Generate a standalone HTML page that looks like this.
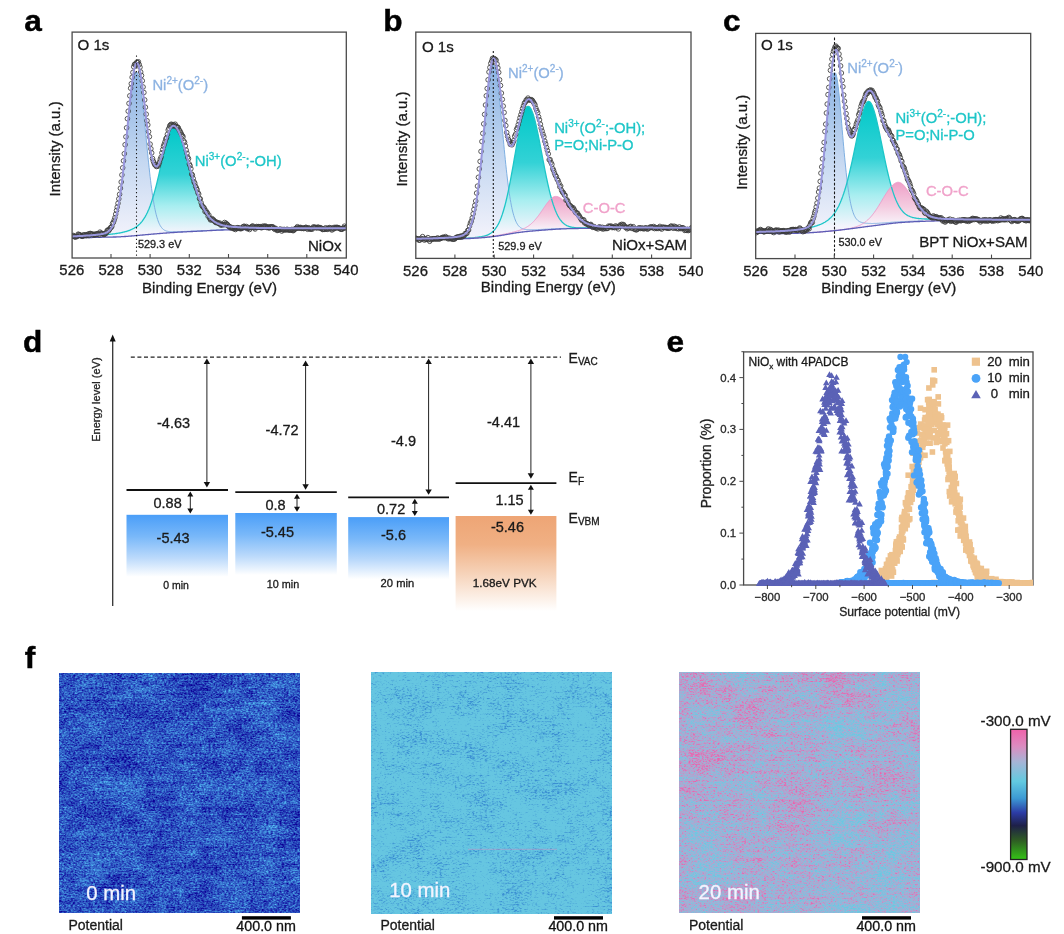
<!DOCTYPE html>
<html><head><meta charset="utf-8"><title>Figure</title>
<style>html,body{margin:0;padding:0;background:#fff;}body{width:1064px;height:934px;overflow:hidden;font-family:"Liberation Sans", sans-serif;}svg{display:block;will-change:transform;}</style>
</head><body>
<svg width="1064" height="934" viewBox="0 0 1064 934" font-family='"Liberation Sans", sans-serif'><defs><clipPath id="clipa"><rect x="72.1" y="32.1" width="274.2" height="225.9"/></clipPath><linearGradient id="genva" gradientUnits="userSpaceOnUse" x1="0" y1="63" x2="0" y2="237.8"><stop offset="0" stop-color="#e6e8f8"/><stop offset="1" stop-color="#f6f4fc"/></linearGradient><linearGradient id="ga_0" gradientUnits="userSpaceOnUse" x1="0" y1="72" x2="0" y2="235.6"><stop offset="0" stop-color="#8bb3e3"/><stop offset="0.55" stop-color="#c5d8f1"/><stop offset="1" stop-color="#f2f2fb"/></linearGradient><linearGradient id="ga_1" gradientUnits="userSpaceOnUse" x1="0" y1="126.5" x2="0" y2="232.5"><stop offset="0" stop-color="#00c8c8"/><stop offset="0.45" stop-color="#33d2d6"/><stop offset="0.75" stop-color="#a8eef0"/><stop offset="1" stop-color="#f4f4fc"/></linearGradient><clipPath id="clipb"><rect x="415.8" y="32.1" width="275.2" height="226.3"/></clipPath><linearGradient id="genvb" gradientUnits="userSpaceOnUse" x1="0" y1="58.4" x2="0" y2="239.4"><stop offset="0" stop-color="#e6e8f8"/><stop offset="1" stop-color="#f6f4fc"/></linearGradient><linearGradient id="gb_0" gradientUnits="userSpaceOnUse" x1="0" y1="64.5" x2="0" y2="236.6"><stop offset="0" stop-color="#8bb3e3"/><stop offset="0.55" stop-color="#c5d8f1"/><stop offset="1" stop-color="#f2f2fb"/></linearGradient><linearGradient id="gb_1" gradientUnits="userSpaceOnUse" x1="0" y1="106.3" x2="0" y2="231.4"><stop offset="0" stop-color="#00c8c8"/><stop offset="0.45" stop-color="#33d2d6"/><stop offset="0.75" stop-color="#a8eef0"/><stop offset="1" stop-color="#f4f4fc"/></linearGradient><linearGradient id="gb_2" gradientUnits="userSpaceOnUse" x1="0" y1="196.4" x2="0" y2="229.3"><stop offset="0" stop-color="#efa0c8"/><stop offset="0.6" stop-color="#f4cce0"/><stop offset="1" stop-color="#f8f0f8"/></linearGradient><clipPath id="clipc"><rect x="755.7" y="33.4" width="275" height="225.2"/></clipPath><linearGradient id="genvc" gradientUnits="userSpaceOnUse" x1="0" y1="49.8" x2="0" y2="233.5"><stop offset="0" stop-color="#e6e8f8"/><stop offset="1" stop-color="#f6f4fc"/></linearGradient><linearGradient id="gc_0" gradientUnits="userSpaceOnUse" x1="0" y1="72.7" x2="0" y2="230.6"><stop offset="0" stop-color="#8bb3e3"/><stop offset="0.55" stop-color="#c5d8f1"/><stop offset="1" stop-color="#f2f2fb"/></linearGradient><linearGradient id="gc_1" gradientUnits="userSpaceOnUse" x1="0" y1="101.4" x2="0" y2="226.4"><stop offset="0" stop-color="#00c8c8"/><stop offset="0.45" stop-color="#33d2d6"/><stop offset="0.75" stop-color="#a8eef0"/><stop offset="1" stop-color="#f4f4fc"/></linearGradient><linearGradient id="gc_2" gradientUnits="userSpaceOnUse" x1="0" y1="182.3" x2="0" y2="222.8"><stop offset="0" stop-color="#efa0c8"/><stop offset="0.6" stop-color="#f4cce0"/><stop offset="1" stop-color="#f8f0f8"/></linearGradient><linearGradient id="gblue" x1="0" y1="0" x2="0" y2="1"><stop offset="0" stop-color="#4a9ef8"/><stop offset="0.35" stop-color="#79b8f9"/><stop offset="0.7" stop-color="#bcdafb"/><stop offset="1" stop-color="#ffffff"/></linearGradient><linearGradient id="gorange" x1="0" y1="0" x2="0" y2="1"><stop offset="0" stop-color="#eea575"/><stop offset="0.3" stop-color="#f0b084"/><stop offset="0.6" stop-color="#f6d2b8"/><stop offset="1" stop-color="#ffffff"/></linearGradient><clipPath id="clipe"><rect x="743.6" y="349.9" width="289.4" height="236.1"/></clipPath><filter id="nf1" x="0" y="0" width="1" height="1" color-interpolation-filters="sRGB"><feTurbulence type="fractalNoise" baseFrequency="0.45 0.7" numOctaves="2" seed="3" result="t0"/><feColorMatrix in="t0" type="matrix" values="1 0 0 0 0 1 0 0 0 0 1 0 0 0 0 0 0 0 0 1" result="n0"/><feTurbulence type="fractalNoise" baseFrequency="0.09 0.16" numOctaves="2" seed="4" result="t1"/><feColorMatrix in="t1" type="matrix" values="1 0 0 0 0 1 0 0 0 0 1 0 0 0 0 0 0 0 0 1" result="n1"/><feTurbulence type="fractalNoise" baseFrequency="0.028 0.04" numOctaves="3" seed="5" result="t2"/><feColorMatrix in="t2" type="matrix" values="1 0 0 0 0 1 0 0 0 0 1 0 0 0 0 0 0 0 0 1" result="n2"/><feTurbulence type="fractalNoise" baseFrequency="0.012 0.45" numOctaves="2" seed="6" result="t3"/><feColorMatrix in="t3" type="matrix" values="1 0 0 0 0 1 0 0 0 0 1 0 0 0 0 0 0 0 0 1" result="n3"/><feComponentTransfer in="n0" result="s0"><feFuncR type="linear" slope="0.8500" intercept="0.0750"/><feFuncG type="linear" slope="0.8500" intercept="0.0750"/><feFuncB type="linear" slope="0.8500" intercept="0.0750"/><feFuncA type="linear" slope="0" intercept="1"/></feComponentTransfer><feComposite in="s0" in2="n1" operator="arithmetic" k1="0" k2="1" k3="0.3000" k4="-0.1500" result="s1"/><feComposite in="s1" in2="n2" operator="arithmetic" k1="0" k2="1" k3="0.3300" k4="-0.1650" result="s2"/><feComposite in="s2" in2="n3" operator="arithmetic" k1="0" k2="1" k3="0.2200" k4="-0.1100" result="s3"/><feColorMatrix in="s3" type="matrix" values="0.3982 0 0 0 -0.0226 1.0498 0 0 0 -0.1877 0.5068 0 0 0 0.5035 0 0 0 0 1"/></filter><filter id="nf2" x="0" y="0" width="1" height="1" color-interpolation-filters="sRGB"><feTurbulence type="fractalNoise" baseFrequency="0.4 0.65" numOctaves="2" seed="11" result="t0"/><feColorMatrix in="t0" type="matrix" values="1 0 0 0 0 1 0 0 0 0 1 0 0 0 0 0 0 0 0 1" result="n0"/><feTurbulence type="fractalNoise" baseFrequency="0.09 0.16" numOctaves="2" seed="12" result="t1"/><feColorMatrix in="t1" type="matrix" values="1 0 0 0 0 1 0 0 0 0 1 0 0 0 0 0 0 0 0 1" result="n1"/><feTurbulence type="fractalNoise" baseFrequency="0.03 0.045" numOctaves="3" seed="13" result="t2"/><feColorMatrix in="t2" type="matrix" values="1 0 0 0 0 1 0 0 0 0 1 0 0 0 0 0 0 0 0 1" result="n2"/><feTurbulence type="fractalNoise" baseFrequency="0.012 0.45" numOctaves="2" seed="14" result="t3"/><feColorMatrix in="t3" type="matrix" values="1 0 0 0 0 1 0 0 0 0 1 0 0 0 0 0 0 0 0 1" result="n3"/><feComponentTransfer in="n0" result="s0"><feFuncR type="linear" slope="0.8000" intercept="0.1000"/><feFuncG type="linear" slope="0.8000" intercept="0.1000"/><feFuncB type="linear" slope="0.8000" intercept="0.1000"/><feFuncA type="linear" slope="0" intercept="1"/></feComponentTransfer><feComposite in="s0" in2="n1" operator="arithmetic" k1="0" k2="1" k3="0.3000" k4="-0.1500" result="s1"/><feComposite in="s1" in2="n2" operator="arithmetic" k1="0" k2="1" k3="0.3300" k4="-0.1650" result="s2"/><feComposite in="s2" in2="n3" operator="arithmetic" k1="0" k2="1" k3="0.2000" k4="-0.1000" result="s3"/><feComponentTransfer in="s3" result="tt"><feFuncR type="table" tableValues="1.000 1.000 1.000 1.000 1.000 0.800 0.600 0.420 0.260 0.120 0.040 0.000 0.000 0.000 0.000 0.000 0.000 0.000 0.000 0.000 0.000"/><feFuncG type="table" tableValues="1.000 1.000 1.000 1.000 1.000 0.800 0.600 0.420 0.260 0.120 0.040 0.000 0.000 0.000 0.000 0.000 0.000 0.000 0.000 0.000 0.000"/><feFuncB type="table" tableValues="1.000 1.000 1.000 1.000 1.000 0.800 0.600 0.420 0.260 0.120 0.040 0.000 0.000 0.000 0.000 0.000 0.000 0.000 0.000 0.000 0.000"/></feComponentTransfer><feColorMatrix in="tt" type="matrix" values="-0.1725 0 0 0 0.4000 -0.2196 0 0 0 0.7765 -0.0588 0 0 0 0.8824 0 0 0 0 1"/></filter><filter id="nf3" x="0" y="0" width="1" height="1" color-interpolation-filters="sRGB"><feTurbulence type="fractalNoise" baseFrequency="0.45 0.7" numOctaves="2" seed="21" result="t0"/><feColorMatrix in="t0" type="matrix" values="1 0 0 0 0 1 0 0 0 0 1 0 0 0 0 0 0 0 0 1" result="n0"/><feTurbulence type="fractalNoise" baseFrequency="0.09 0.16" numOctaves="2" seed="22" result="t1"/><feColorMatrix in="t1" type="matrix" values="1 0 0 0 0 1 0 0 0 0 1 0 0 0 0 0 0 0 0 1" result="n1"/><feTurbulence type="fractalNoise" baseFrequency="0.022 0.035" numOctaves="3" seed="23" result="t2"/><feColorMatrix in="t2" type="matrix" values="1 0 0 0 0 1 0 0 0 0 1 0 0 0 0 0 0 0 0 1" result="n2"/><feTurbulence type="fractalNoise" baseFrequency="0.01 0.4" numOctaves="2" seed="24" result="t3"/><feColorMatrix in="t3" type="matrix" values="1 0 0 0 0 1 0 0 0 0 1 0 0 0 0 0 0 0 0 1" result="n3"/><feComponentTransfer in="n0" result="s0"><feFuncR type="linear" slope="0.8500" intercept="0.0750"/><feFuncG type="linear" slope="0.8500" intercept="0.0750"/><feFuncB type="linear" slope="0.8500" intercept="0.0750"/><feFuncA type="linear" slope="0" intercept="1"/></feComponentTransfer><feComposite in="s0" in2="n1" operator="arithmetic" k1="0" k2="1" k3="0.3000" k4="-0.1500" result="s1"/><feComposite in="s1" in2="n2" operator="arithmetic" k1="0" k2="1" k3="0.3800" k4="-0.1900" result="s2"/><feComposite in="s2" in2="n3" operator="arithmetic" k1="0" k2="1" k3="0.3000" k4="-0.1500" result="s3"/><feComposite in="s3" in2="SourceGraphic" operator="arithmetic" k1="0" k2="1" k3="0.3500" k4="-0.1750" result="sg"/><feComponentTransfer in="sg"><feFuncR type="table" tableValues="0.412 0.416 0.420 0.423 0.427 0.431 0.435 0.439 0.460 0.481 0.503 0.525 0.546 0.568 0.589 0.611 0.638 0.665 0.693 0.720 0.747 0.773 0.799 0.826 0.852 0.878 0.896 0.900 0.904 0.909 0.913 0.917 0.922"/><feFuncG type="table" tableValues="0.784 0.784 0.784 0.784 0.784 0.784 0.784 0.784 0.775 0.765 0.755 0.745 0.736 0.726 0.716 0.706 0.686 0.665 0.644 0.624 0.595 0.564 0.534 0.503 0.473 0.442 0.420 0.412 0.404 0.396 0.388 0.381 0.373"/><feFuncB type="table" tableValues="0.886 0.886 0.886 0.886 0.886 0.886 0.886 0.886 0.881 0.876 0.870 0.865 0.860 0.854 0.849 0.843 0.833 0.823 0.812 0.802 0.787 0.771 0.755 0.739 0.724 0.708 0.696 0.691 0.686 0.681 0.676 0.672 0.667"/><feFuncA type="linear" slope="0" intercept="1"/></feComponentTransfer></filter><linearGradient id="gsrc3" x1="0" y1="0" x2="0.8" y2="1"><stop offset="0" stop-color="#9a9a9a"/><stop offset="1" stop-color="#646464"/></linearGradient><linearGradient id="gcbar" x1="0" y1="0" x2="0" y2="1"><stop offset="0" stop-color="#f062aa"/><stop offset="0.13" stop-color="#dc8cc0"/><stop offset="0.25" stop-color="#a6b4d6"/><stop offset="0.4" stop-color="#62cae0"/><stop offset="0.53" stop-color="#3c9ad4"/><stop offset="0.64" stop-color="#2c3ca6"/><stop offset="0.74" stop-color="#1e2048"/><stop offset="0.85" stop-color="#2e5a24"/><stop offset="1" stop-color="#34c416"/></linearGradient></defs><rect width="1064" height="934" fill="#fff"/><g clip-path="url(#clipa)">
<path d="M72.1,236.4 L72.6,236.4 L73.1,236.4 L73.6,236.3 L74.1,236.3 L74.6,236.3 L75.1,236.3 L75.6,236.2 L76.1,236.2 L76.6,236.2 L77.1,236.2 L77.6,236.1 L78.1,236.1 L78.6,236.1 L79.1,236.1 L79.6,236 L80.1,236 L80.6,236 L81.1,236 L81.6,235.9 L82.1,235.9 L82.6,235.9 L83.1,235.8 L83.6,235.8 L84.1,235.8 L84.6,235.7 L85.1,235.7 L85.6,235.7 L86.1,235.6 L86.6,235.6 L87.1,235.6 L87.6,235.5 L88.1,235.5 L88.6,235.5 L89.1,235.4 L89.6,235.4 L90.1,235.4 L90.6,235.3 L91.1,235.3 L91.6,235.3 L92.1,235.2 L92.6,235.2 L93.1,235.1 L93.6,235.1 L94.1,235 L94.6,235 L95.1,234.9 L95.6,234.9 L96.1,234.8 L96.6,234.8 L97.1,234.7 L97.6,234.7 L98.1,234.6 L98.6,234.6 L99.1,234.5 L99.6,234.4 L100.1,234.4 L100.6,234.3 L101.1,234.2 L101.6,234.1 L102.1,234 L102.6,233.9 L103.1,233.8 L103.6,233.7 L104.1,233.5 L104.6,233.4 L105.1,233.2 L105.6,233 L106.1,232.8 L106.6,232.5 L107.1,232.3 L107.6,232 L108.1,231.6 L108.6,231.3 L109.1,230.8 L109.6,230.4 L110.1,229.8 L110.6,229.2 L111.1,228.6 L111.6,227.8 L112.1,227 L112.6,226.1 L113.1,225 L113.6,223.9 L114.1,222.7 L114.6,221.3 L115.1,219.8 L115.6,218.1 L116.1,216.3 L116.6,214.3 L117.1,212.2 L117.6,209.9 L118.1,207.4 L118.6,204.7 L119.1,201.8 L119.6,198.7 L120.1,195.5 L120.6,192 L121.1,188.3 L121.6,184.4 L122.1,180.4 L122.6,176.1 L123.1,171.6 L123.6,167 L124.1,162.3 L124.6,157.3 L125.1,152.3 L125.6,147.2 L126.1,141.9 L126.6,136.6 L127.1,131.3 L127.6,126 L128.1,120.7 L128.6,115.4 L129.1,110.2 L129.6,105.1 L130.1,100.2 L130.6,95.5 L131.1,90.9 L131.6,86.6 L132.1,82.6 L132.6,78.9 L133.1,75.5 L133.6,72.5 L134.1,72 L134.6,72 L135.1,72 L135.6,72 L136.1,72 L136.6,72 L137.1,72.3 L137.6,73 L138.1,74.3 L138.6,75.9 L139.1,78 L139.6,80.6 L140.1,83.5 L140.6,86.7 L141.1,90.3 L141.6,94.3 L142.1,98.4 L142.6,102.9 L143.1,107.5 L143.6,112.3 L144.1,117.3 L144.6,122.3 L145.1,127.5 L145.6,132.6 L146.1,137.8 L146.6,143 L147.1,148.1 L147.6,153.1 L148.1,158.1 L148.6,162.9 L149.1,167.6 L149.6,172.1 L150.1,176.5 L150.6,180.7 L151.1,184.8 L151.6,188.6 L152.1,192.2 L152.6,195.7 L153.1,198.9 L153.6,201.9 L154.1,204.7 L154.6,207.4 L155.1,209.8 L155.6,212.1 L156.1,214.2 L156.6,216.1 L157.1,217.8 L157.6,219.4 L158.1,220.9 L158.6,222.2 L159.1,223.4 L159.6,224.4 L160.1,225.4 L160.6,226.2 L161.1,227 L161.6,227.6 L162.1,228.2 L162.6,228.8 L163.1,229.2 L163.6,229.6 L164.1,230 L164.6,230.3 L165.1,230.5 L165.6,230.7 L166.1,230.9 L166.6,231.1 L167.1,231.2 L167.6,231.3 L168.1,231.4 L168.6,231.5 L169.1,231.6 L169.6,231.6 L170.1,231.7 L170.6,231.7 L171.1,231.7 L171.6,231.7 L172.1,231.7 L172.6,231.8 L173.1,231.8 L173.6,231.8 L174.1,231.8 L174.6,231.7 L175.1,231.7 L175.6,231.7 L176.1,231.7 L176.6,231.7 L177.1,231.7 L177.6,231.7 L178.1,231.7 L178.6,231.6 L179.1,231.6 L179.6,231.6 L180.1,231.6 L180.6,231.6 L181.1,231.6 L181.6,231.6 L182.1,231.5 L182.6,231.5 L183.1,231.5 L183.6,231.5 L184.1,231.5 L184.6,231.4 L185.1,231.4 L185.6,231.4 L186.1,231.4 L186.6,231.4 L187.1,231.4 L187.6,231.3 L188.1,231.3 L188.6,231.3 L189.1,231.3 L189.6,231.3 L190.1,231.2 L190.6,231.2 L191.1,231.2 L191.6,231.2 L192.1,231.2 L192.6,231.2 L193.1,231.1 L193.6,231.1 L194.1,231.1 L194.6,231.1 L195.1,231.1 L195.6,231 L196.1,231 L196.6,231 L197.1,231 L197.6,231 L198.1,230.9 L198.6,230.9 L199.1,230.9 L199.6,230.9 L200.1,230.9 L200.6,230.8 L201.1,230.8 L201.6,230.8 L202.1,230.8 L202.6,230.7 L203.1,230.7 L203.6,230.7 L204.1,230.7 L204.6,230.7 L205.1,230.6 L205.6,230.6 L206.1,230.6 L206.6,230.6 L207.1,230.5 L207.6,230.5 L208.1,230.5 L208.6,230.5 L209.1,230.4 L209.6,230.4 L210.1,230.4 L210.6,230.4 L211.1,230.3 L211.6,230.3 L212.1,230.3 L212.6,230.3 L213.1,230.2 L213.6,230.2 L214.1,230.2 L214.6,230.2 L215.1,230.1 L215.6,230.1 L216.1,230.1 L216.6,230.1 L217.1,230.1 L217.6,230 L218.1,230 L218.6,230 L219.1,230 L219.6,230 L220.1,229.9 L220.6,229.9 L221.1,229.9 L221.6,229.9 L222.1,229.9 L222.6,229.8 L223.1,229.8 L223.6,229.8 L224.1,229.8 L224.6,229.8 L224.6,229.9 L224.1,229.9 L223.6,229.9 L223.1,230 L222.6,230 L222.1,230 L221.6,230 L221.1,230 L220.6,230.1 L220.1,230.1 L219.6,230.1 L219.1,230.1 L218.6,230.1 L218.1,230.2 L217.6,230.2 L217.1,230.2 L216.6,230.2 L216.1,230.3 L215.6,230.3 L215.1,230.3 L214.6,230.3 L214.1,230.4 L213.6,230.4 L213.1,230.4 L212.6,230.4 L212.1,230.5 L211.6,230.5 L211.1,230.5 L210.6,230.5 L210.1,230.6 L209.6,230.6 L209.1,230.6 L208.6,230.6 L208.1,230.7 L207.6,230.7 L207.1,230.7 L206.6,230.8 L206.1,230.8 L205.6,230.8 L205.1,230.8 L204.6,230.9 L204.1,230.9 L203.6,230.9 L203.1,230.9 L202.6,231 L202.1,231 L201.6,231 L201.1,231 L200.6,231.1 L200.1,231.1 L199.6,231.1 L199.1,231.1 L198.6,231.2 L198.1,231.2 L197.6,231.2 L197.1,231.2 L196.6,231.3 L196.1,231.3 L195.6,231.3 L195.1,231.3 L194.6,231.4 L194.1,231.4 L193.6,231.4 L193.1,231.4 L192.6,231.5 L192.1,231.5 L191.6,231.5 L191.1,231.5 L190.6,231.6 L190.1,231.6 L189.6,231.6 L189.1,231.6 L188.6,231.7 L188.1,231.7 L187.6,231.7 L187.1,231.7 L186.6,231.8 L186.1,231.8 L185.6,231.8 L185.1,231.8 L184.6,231.9 L184.1,231.9 L183.6,231.9 L183.1,231.9 L182.6,232 L182.1,232 L181.6,232 L181.1,232 L180.6,232.1 L180.1,232.1 L179.6,232.1 L179.1,232.2 L178.6,232.2 L178.1,232.2 L177.6,232.2 L177.1,232.3 L176.6,232.3 L176.1,232.3 L175.6,232.4 L175.1,232.4 L174.6,232.4 L174.1,232.5 L173.6,232.5 L173.1,232.5 L172.6,232.6 L172.1,232.6 L171.6,232.6 L171.1,232.7 L170.6,232.7 L170.1,232.7 L169.6,232.8 L169.1,232.8 L168.6,232.8 L168.1,232.9 L167.6,232.9 L167.1,232.9 L166.6,233 L166.1,233 L165.6,233.1 L165.1,233.1 L164.6,233.1 L164.1,233.2 L163.6,233.2 L163.1,233.2 L162.6,233.3 L162.1,233.3 L161.6,233.4 L161.1,233.4 L160.6,233.4 L160.1,233.5 L159.6,233.5 L159.1,233.6 L158.6,233.6 L158.1,233.6 L157.6,233.7 L157.1,233.7 L156.6,233.8 L156.1,233.8 L155.6,233.9 L155.1,233.9 L154.6,233.9 L154.1,234 L153.6,234 L153.1,234.1 L152.6,234.1 L152.1,234.1 L151.6,234.2 L151.1,234.2 L150.6,234.3 L150.1,234.3 L149.6,234.4 L149.1,234.4 L148.6,234.5 L148.1,234.5 L147.6,234.6 L147.1,234.6 L146.6,234.6 L146.1,234.7 L145.6,234.7 L145.1,234.8 L144.6,234.8 L144.1,234.9 L143.6,234.9 L143.1,235 L142.6,235 L142.1,235.1 L141.6,235.1 L141.1,235.2 L140.6,235.2 L140.1,235.2 L139.6,235.3 L139.1,235.3 L138.6,235.4 L138.1,235.4 L137.6,235.5 L137.1,235.5 L136.6,235.5 L136.1,235.6 L135.6,235.6 L135.1,235.7 L134.6,235.7 L134.1,235.8 L133.6,235.8 L133.1,235.8 L132.6,235.9 L132.1,235.9 L131.6,236 L131.1,236 L130.6,236.1 L130.1,236.1 L129.6,236.1 L129.1,236.2 L128.6,236.2 L128.1,236.3 L127.6,236.3 L127.1,236.3 L126.6,236.4 L126.1,236.4 L125.6,236.5 L125.1,236.5 L124.6,236.5 L124.1,236.6 L123.6,236.6 L123.1,236.6 L122.6,236.7 L122.1,236.7 L121.6,236.7 L121.1,236.7 L120.6,236.8 L120.1,236.8 L119.6,236.8 L119.1,236.8 L118.6,236.9 L118.1,236.9 L117.6,236.9 L117.1,236.9 L116.6,236.9 L116.1,237 L115.6,237 L115.1,237 L114.6,237 L114.1,237 L113.6,237 L113.1,237 L112.6,237.1 L112.1,237.1 L111.6,237.1 L111.1,237.1 L110.6,237.1 L110.1,237.1 L109.6,237.1 L109.1,237.1 L108.6,237.1 L108.1,237.2 L107.6,237.2 L107.1,237.2 L106.6,237.2 L106.1,237.2 L105.6,237.2 L105.1,237.2 L104.6,237.2 L104.1,237.2 L103.6,237.2 L103.1,237.2 L102.6,237.2 L102.1,237.3 L101.6,237.3 L101.1,237.3 L100.6,237.3 L100.1,237.3 L99.6,237.3 L99.1,237.3 L98.6,237.3 L98.1,237.3 L97.6,237.3 L97.1,237.4 L96.6,237.4 L96.1,237.4 L95.6,237.4 L95.1,237.4 L94.6,237.4 L94.1,237.4 L93.6,237.4 L93.1,237.4 L92.6,237.4 L92.1,237.5 L91.6,237.5 L91.1,237.5 L90.6,237.5 L90.1,237.5 L89.6,237.5 L89.1,237.5 L88.6,237.5 L88.1,237.5 L87.6,237.5 L87.1,237.5 L86.6,237.6 L86.1,237.6 L85.6,237.6 L85.1,237.6 L84.6,237.6 L84.1,237.6 L83.6,237.6 L83.1,237.6 L82.6,237.6 L82.1,237.6 L81.6,237.6 L81.1,237.6 L80.6,237.7 L80.1,237.7 L79.6,237.7 L79.1,237.7 L78.6,237.7 L78.1,237.7 L77.6,237.7 L77.1,237.7 L76.6,237.7 L76.1,237.7 L75.6,237.7 L75.1,237.7 L74.6,237.8 L74.1,237.8 L73.6,237.8 L73.1,237.8 L72.6,237.8 L72.1,237.8 Z" fill="url(#ga_0)"/>
<path d="M85.6,236.1 L86.1,236 L86.6,236 L87.1,236 L87.6,236 L88.1,235.9 L88.6,235.9 L89.1,235.9 L89.6,235.8 L90.1,235.8 L90.6,235.8 L91.1,235.8 L91.6,235.7 L92.1,235.7 L92.6,235.7 L93.1,235.6 L93.6,235.6 L94.1,235.6 L94.6,235.5 L95.1,235.5 L95.6,235.5 L96.1,235.4 L96.6,235.4 L97.1,235.4 L97.6,235.3 L98.1,235.3 L98.6,235.3 L99.1,235.2 L99.6,235.2 L100.1,235.2 L100.6,235.1 L101.1,235.1 L101.6,235 L102.1,235 L102.6,235 L103.1,234.9 L103.6,234.9 L104.1,234.8 L104.6,234.8 L105.1,234.8 L105.6,234.7 L106.1,234.7 L106.6,234.6 L107.1,234.6 L107.6,234.5 L108.1,234.5 L108.6,234.4 L109.1,234.4 L109.6,234.3 L110.1,234.3 L110.6,234.2 L111.1,234.2 L111.6,234.1 L112.1,234.1 L112.6,234 L113.1,233.9 L113.6,233.9 L114.1,233.8 L114.6,233.8 L115.1,233.7 L115.6,233.6 L116.1,233.5 L116.6,233.5 L117.1,233.4 L117.6,233.3 L118.1,233.2 L118.6,233.1 L119.1,233.1 L119.6,233 L120.1,232.9 L120.6,232.8 L121.1,232.7 L121.6,232.6 L122.1,232.5 L122.6,232.4 L123.1,232.2 L123.6,232.1 L124.1,232 L124.6,231.9 L125.1,231.7 L125.6,231.6 L126.1,231.5 L126.6,231.3 L127.1,231.1 L127.6,231 L128.1,230.8 L128.6,230.6 L129.1,230.5 L129.6,230.3 L130.1,230.1 L130.6,229.9 L131.1,229.7 L131.6,229.5 L132.1,229.2 L132.6,229 L133.1,228.7 L133.6,228.5 L134.1,228.2 L134.6,227.9 L135.1,227.6 L135.6,227.3 L136.1,227 L136.6,226.6 L137.1,226.2 L137.6,225.9 L138.1,225.4 L138.6,225 L139.1,224.6 L139.6,224.1 L140.1,223.6 L140.6,223 L141.1,222.5 L141.6,221.9 L142.1,221.3 L142.6,220.6 L143.1,219.9 L143.6,219.2 L144.1,218.4 L144.6,217.6 L145.1,216.8 L145.6,215.9 L146.1,215 L146.6,214 L147.1,213 L147.6,211.9 L148.1,210.8 L148.6,209.7 L149.1,208.5 L149.6,207.2 L150.1,205.9 L150.6,204.5 L151.1,203.1 L151.6,201.6 L152.1,200.1 L152.6,198.5 L153.1,196.9 L153.6,195.2 L154.1,193.5 L154.6,191.7 L155.1,189.9 L155.6,188 L156.1,186.1 L156.6,184.1 L157.1,182.1 L157.6,180 L158.1,177.9 L158.6,175.8 L159.1,173.6 L159.6,171.4 L160.1,169.2 L160.6,167 L161.1,164.7 L161.6,162.5 L162.1,160.2 L162.6,158 L163.1,155.7 L163.6,153.5 L164.1,151.3 L164.6,149.1 L165.1,147 L165.6,144.9 L166.1,142.9 L166.6,141 L167.1,139.1 L167.6,137.3 L168.1,135.7 L168.6,134.1 L169.1,132.7 L169.6,131.4 L170.1,130.2 L170.6,129.2 L171.1,128.3 L171.6,127.6 L172.1,127.1 L172.6,126.7 L173.1,126.5 L173.6,126.5 L174.1,126.6 L174.6,126.8 L175.1,127.1 L175.6,127.5 L176.1,128 L176.6,128.6 L177.1,129.3 L177.6,130.2 L178.1,131.1 L178.6,132.1 L179.1,133.1 L179.6,134.3 L180.1,135.5 L180.6,136.8 L181.1,138.2 L181.6,139.6 L182.1,141.1 L182.6,142.7 L183.1,144.3 L183.6,145.9 L184.1,147.6 L184.6,149.3 L185.1,151 L185.6,152.8 L186.1,154.6 L186.6,156.4 L187.1,158.2 L187.6,160 L188.1,161.9 L188.6,163.7 L189.1,165.6 L189.6,167.4 L190.1,169.2 L190.6,171 L191.1,172.8 L191.6,174.6 L192.1,176.4 L192.6,178.1 L193.1,179.9 L193.6,181.6 L194.1,183.2 L194.6,184.9 L195.1,186.5 L195.6,188.1 L196.1,189.6 L196.6,191.2 L197.1,192.6 L197.6,194.1 L198.1,195.5 L198.6,196.9 L199.1,198.2 L199.6,199.5 L200.1,200.8 L200.6,202 L201.1,203.2 L201.6,204.3 L202.1,205.4 L202.6,206.5 L203.1,207.5 L203.6,208.5 L204.1,209.4 L204.6,210.3 L205.1,211.2 L205.6,212 L206.1,212.8 L206.6,213.6 L207.1,214.4 L207.6,215.1 L208.1,215.7 L208.6,216.4 L209.1,217 L209.6,217.6 L210.1,218.1 L210.6,218.6 L211.1,219.1 L211.6,219.6 L212.1,220.1 L212.6,220.5 L213.1,220.9 L213.6,221.3 L214.1,221.6 L214.6,222 L215.1,222.3 L215.6,222.6 L216.1,222.9 L216.6,223.2 L217.1,223.4 L217.6,223.6 L218.1,223.9 L218.6,224.1 L219.1,224.3 L219.6,224.5 L220.1,224.7 L220.6,224.8 L221.1,225 L221.6,225.1 L222.1,225.3 L222.6,225.4 L223.1,225.5 L223.6,225.6 L224.1,225.7 L224.6,225.9 L225.1,226 L225.6,226 L226.1,226.1 L226.6,226.2 L227.1,226.3 L227.6,226.4 L228.1,226.4 L228.6,226.5 L229.1,226.6 L229.6,226.6 L230.1,226.7 L230.6,226.7 L231.1,226.8 L231.6,226.8 L232.1,226.9 L232.6,226.9 L233.1,227 L233.6,227 L234.1,227 L234.6,227.1 L235.1,227.1 L235.6,227.1 L236.1,227.2 L236.6,227.2 L237.1,227.2 L237.6,227.3 L238.1,227.3 L238.6,227.3 L239.1,227.4 L239.6,227.4 L240.1,227.4 L240.6,227.4 L241.1,227.4 L241.6,227.5 L242.1,227.5 L242.6,227.5 L243.1,227.5 L243.6,227.6 L244.1,227.6 L244.6,227.6 L245.1,227.6 L245.6,227.6 L246.1,227.6 L246.6,227.7 L247.1,227.7 L247.6,227.7 L248.1,227.7 L248.6,227.7 L249.1,227.7 L249.6,227.8 L250.1,227.8 L250.6,227.8 L251.1,227.8 L251.6,227.8 L252.1,227.8 L252.6,227.8 L253.1,227.9 L253.6,227.9 L254.1,227.9 L254.6,227.9 L255.1,227.9 L255.6,227.9 L256.1,227.9 L256.6,227.9 L257.1,227.9 L257.6,227.9 L258.1,228 L258.6,228 L259.1,228 L259.6,228 L260.1,228 L260.6,228 L261.1,228 L261.1,229.3 L260.6,229.3 L260.1,229.3 L259.6,229.3 L259.1,229.3 L258.6,229.3 L258.1,229.3 L257.6,229.3 L257.1,229.3 L256.6,229.3 L256.1,229.4 L255.6,229.4 L255.1,229.4 L254.6,229.4 L254.1,229.4 L253.6,229.4 L253.1,229.4 L252.6,229.4 L252.1,229.4 L251.6,229.4 L251.1,229.4 L250.6,229.4 L250.1,229.4 L249.6,229.4 L249.1,229.4 L248.6,229.4 L248.1,229.4 L247.6,229.5 L247.1,229.5 L246.6,229.5 L246.1,229.5 L245.6,229.5 L245.1,229.5 L244.6,229.5 L244.1,229.5 L243.6,229.5 L243.1,229.5 L242.6,229.5 L242.1,229.5 L241.6,229.5 L241.1,229.5 L240.6,229.6 L240.1,229.6 L239.6,229.6 L239.1,229.6 L238.6,229.6 L238.1,229.6 L237.6,229.6 L237.1,229.6 L236.6,229.6 L236.1,229.6 L235.6,229.6 L235.1,229.7 L234.6,229.7 L234.1,229.7 L233.6,229.7 L233.1,229.7 L232.6,229.7 L232.1,229.7 L231.6,229.7 L231.1,229.7 L230.6,229.8 L230.1,229.8 L229.6,229.8 L229.1,229.8 L228.6,229.8 L228.1,229.8 L227.6,229.8 L227.1,229.8 L226.6,229.9 L226.1,229.9 L225.6,229.9 L225.1,229.9 L224.6,229.9 L224.1,229.9 L223.6,229.9 L223.1,230 L222.6,230 L222.1,230 L221.6,230 L221.1,230 L220.6,230.1 L220.1,230.1 L219.6,230.1 L219.1,230.1 L218.6,230.1 L218.1,230.2 L217.6,230.2 L217.1,230.2 L216.6,230.2 L216.1,230.3 L215.6,230.3 L215.1,230.3 L214.6,230.3 L214.1,230.4 L213.6,230.4 L213.1,230.4 L212.6,230.4 L212.1,230.5 L211.6,230.5 L211.1,230.5 L210.6,230.5 L210.1,230.6 L209.6,230.6 L209.1,230.6 L208.6,230.6 L208.1,230.7 L207.6,230.7 L207.1,230.7 L206.6,230.8 L206.1,230.8 L205.6,230.8 L205.1,230.8 L204.6,230.9 L204.1,230.9 L203.6,230.9 L203.1,230.9 L202.6,231 L202.1,231 L201.6,231 L201.1,231 L200.6,231.1 L200.1,231.1 L199.6,231.1 L199.1,231.1 L198.6,231.2 L198.1,231.2 L197.6,231.2 L197.1,231.2 L196.6,231.3 L196.1,231.3 L195.6,231.3 L195.1,231.3 L194.6,231.4 L194.1,231.4 L193.6,231.4 L193.1,231.4 L192.6,231.5 L192.1,231.5 L191.6,231.5 L191.1,231.5 L190.6,231.6 L190.1,231.6 L189.6,231.6 L189.1,231.6 L188.6,231.7 L188.1,231.7 L187.6,231.7 L187.1,231.7 L186.6,231.8 L186.1,231.8 L185.6,231.8 L185.1,231.8 L184.6,231.9 L184.1,231.9 L183.6,231.9 L183.1,231.9 L182.6,232 L182.1,232 L181.6,232 L181.1,232 L180.6,232.1 L180.1,232.1 L179.6,232.1 L179.1,232.2 L178.6,232.2 L178.1,232.2 L177.6,232.2 L177.1,232.3 L176.6,232.3 L176.1,232.3 L175.6,232.4 L175.1,232.4 L174.6,232.4 L174.1,232.5 L173.6,232.5 L173.1,232.5 L172.6,232.6 L172.1,232.6 L171.6,232.6 L171.1,232.7 L170.6,232.7 L170.1,232.7 L169.6,232.8 L169.1,232.8 L168.6,232.8 L168.1,232.9 L167.6,232.9 L167.1,232.9 L166.6,233 L166.1,233 L165.6,233.1 L165.1,233.1 L164.6,233.1 L164.1,233.2 L163.6,233.2 L163.1,233.2 L162.6,233.3 L162.1,233.3 L161.6,233.4 L161.1,233.4 L160.6,233.4 L160.1,233.5 L159.6,233.5 L159.1,233.6 L158.6,233.6 L158.1,233.6 L157.6,233.7 L157.1,233.7 L156.6,233.8 L156.1,233.8 L155.6,233.9 L155.1,233.9 L154.6,233.9 L154.1,234 L153.6,234 L153.1,234.1 L152.6,234.1 L152.1,234.1 L151.6,234.2 L151.1,234.2 L150.6,234.3 L150.1,234.3 L149.6,234.4 L149.1,234.4 L148.6,234.5 L148.1,234.5 L147.6,234.6 L147.1,234.6 L146.6,234.6 L146.1,234.7 L145.6,234.7 L145.1,234.8 L144.6,234.8 L144.1,234.9 L143.6,234.9 L143.1,235 L142.6,235 L142.1,235.1 L141.6,235.1 L141.1,235.2 L140.6,235.2 L140.1,235.2 L139.6,235.3 L139.1,235.3 L138.6,235.4 L138.1,235.4 L137.6,235.5 L137.1,235.5 L136.6,235.5 L136.1,235.6 L135.6,235.6 L135.1,235.7 L134.6,235.7 L134.1,235.8 L133.6,235.8 L133.1,235.8 L132.6,235.9 L132.1,235.9 L131.6,236 L131.1,236 L130.6,236.1 L130.1,236.1 L129.6,236.1 L129.1,236.2 L128.6,236.2 L128.1,236.3 L127.6,236.3 L127.1,236.3 L126.6,236.4 L126.1,236.4 L125.6,236.5 L125.1,236.5 L124.6,236.5 L124.1,236.6 L123.6,236.6 L123.1,236.6 L122.6,236.7 L122.1,236.7 L121.6,236.7 L121.1,236.7 L120.6,236.8 L120.1,236.8 L119.6,236.8 L119.1,236.8 L118.6,236.9 L118.1,236.9 L117.6,236.9 L117.1,236.9 L116.6,236.9 L116.1,237 L115.6,237 L115.1,237 L114.6,237 L114.1,237 L113.6,237 L113.1,237 L112.6,237.1 L112.1,237.1 L111.6,237.1 L111.1,237.1 L110.6,237.1 L110.1,237.1 L109.6,237.1 L109.1,237.1 L108.6,237.1 L108.1,237.2 L107.6,237.2 L107.1,237.2 L106.6,237.2 L106.1,237.2 L105.6,237.2 L105.1,237.2 L104.6,237.2 L104.1,237.2 L103.6,237.2 L103.1,237.2 L102.6,237.2 L102.1,237.3 L101.6,237.3 L101.1,237.3 L100.6,237.3 L100.1,237.3 L99.6,237.3 L99.1,237.3 L98.6,237.3 L98.1,237.3 L97.6,237.3 L97.1,237.4 L96.6,237.4 L96.1,237.4 L95.6,237.4 L95.1,237.4 L94.6,237.4 L94.1,237.4 L93.6,237.4 L93.1,237.4 L92.6,237.4 L92.1,237.5 L91.6,237.5 L91.1,237.5 L90.6,237.5 L90.1,237.5 L89.6,237.5 L89.1,237.5 L88.6,237.5 L88.1,237.5 L87.6,237.5 L87.1,237.5 L86.6,237.6 L86.1,237.6 L85.6,237.6 Z" fill="url(#ga_1)"/>
<path d="M136.6,72 L137.1,72.3 L137.6,73 L138.1,74.3 L138.6,75.9 L139.1,78 L139.6,80.6 L140.1,83.5 L140.6,86.7 L141.1,90.3 L141.6,94.3 L142.1,98.4 L142.6,102.9 L143.1,107.5 L143.6,112.3 L144.1,117.3 L144.6,122.3 L145.1,127.5 L145.6,132.6 L146.1,137.8 L146.6,143 L147.1,148.1 L147.6,153.1 L148.1,158.1 L148.6,162.9 L149.1,167.6 L149.6,172.1 L150.1,176.5 L150.6,180.7 L151.1,184.8 L151.6,188.6 L152.1,192.2 L152.6,195.7 L153.1,198.9 L153.6,201.9 L154.1,204.7 L154.6,207.4 L155.1,209.8 L155.6,212.1 L156.1,214.2 L156.6,216.1 L157.1,217.8 L157.6,219.4 L158.1,220.9 L158.6,222.2 L159.1,223.4 L159.6,224.4 L160.1,225.4 L160.6,226.2 L161.1,227 L161.6,227.6 L162.1,228.2 L162.6,228.8 L163.1,229.2 L163.6,229.6 L164.1,230 L164.6,230.3 L165.1,230.5 L165.6,230.7 L166.1,230.9 L166.6,231.1 L167.1,231.2 L167.6,231.3 L168.1,231.4 L168.6,231.5 L169.1,231.6 L169.6,231.6 L170.1,231.7 L170.6,231.7 L171.1,231.7 L171.6,231.7 L172.1,231.7 L172.6,231.8 L173.1,231.8 L173.6,231.8 L174.1,231.8 L174.6,231.7 L175.1,231.7 L175.6,231.7 L176.1,231.7 L176.6,231.7 L177.1,231.7 L177.6,231.7 L178.1,231.7 L178.6,231.6 L179.1,231.6 L179.6,231.6 L180.1,231.6 L180.6,231.6 L181.1,231.6 L181.6,231.6 L182.1,231.5 L182.6,231.5 L183.1,231.5 L183.6,231.5 L184.1,231.5 L184.6,231.4 L185.1,231.4 L185.6,231.4 L186.1,231.4 L186.6,231.4 L187.1,231.4 L187.6,231.3 L188.1,231.3 L188.6,231.3 L189.1,231.3 L189.6,231.3 L190.1,231.2 L190.6,231.2 L191.1,231.2 L191.6,231.2 L192.1,231.2 L192.6,231.2 L193.1,231.1 L193.6,231.1 L194.1,231.1 L194.6,231.1 L195.1,231.1 L195.6,231 L196.1,231 L196.6,231 L197.1,231 L197.6,231 L198.1,230.9 L198.6,230.9 L199.1,230.9 L199.6,230.9 L200.1,230.9 L200.6,230.8 L201.1,230.8 L201.6,230.8 L202.1,230.8 L202.6,230.7 L203.1,230.7 L203.6,230.7 L204.1,230.7 L204.6,230.7 L205.1,230.6 L205.6,230.6 L206.1,230.6 L206.6,230.6 L207.1,230.5 L207.6,230.5 L208.1,230.5 L208.6,230.5 L209.1,230.4 L209.6,230.4 L210.1,230.4 L210.6,230.4 L211.1,230.3 L211.6,230.3 L212.1,230.3 L212.6,230.3 L213.1,230.2 L213.6,230.2 L214.1,230.2 L214.6,230.2 L215.1,230.1 L215.6,230.1 L216.1,230.1 L216.6,230.1 L217.1,230.1 L217.6,230 L218.1,230 L218.6,230 L219.1,230 L219.6,230 L220.1,229.9 L220.6,229.9 L221.1,229.9 L221.6,229.9 L222.1,229.9 L222.6,229.8 L223.1,229.8 L223.6,229.8 L224.1,229.8 L224.6,229.8" fill="none" stroke="#7fb0e2" stroke-width="1"/>
<path d="M85.6,236.1 L86.1,236 L86.6,236 L87.1,236 L87.6,236 L88.1,235.9 L88.6,235.9 L89.1,235.9 L89.6,235.8 L90.1,235.8 L90.6,235.8 L91.1,235.8 L91.6,235.7 L92.1,235.7 L92.6,235.7 L93.1,235.6 L93.6,235.6 L94.1,235.6 L94.6,235.5 L95.1,235.5 L95.6,235.5 L96.1,235.4 L96.6,235.4 L97.1,235.4 L97.6,235.3 L98.1,235.3 L98.6,235.3 L99.1,235.2 L99.6,235.2 L100.1,235.2 L100.6,235.1 L101.1,235.1 L101.6,235 L102.1,235 L102.6,235 L103.1,234.9 L103.6,234.9 L104.1,234.8 L104.6,234.8 L105.1,234.8 L105.6,234.7 L106.1,234.7 L106.6,234.6 L107.1,234.6 L107.6,234.5 L108.1,234.5 L108.6,234.4 L109.1,234.4 L109.6,234.3 L110.1,234.3 L110.6,234.2 L111.1,234.2 L111.6,234.1 L112.1,234.1 L112.6,234 L113.1,233.9 L113.6,233.9 L114.1,233.8 L114.6,233.8 L115.1,233.7 L115.6,233.6 L116.1,233.5 L116.6,233.5 L117.1,233.4 L117.6,233.3 L118.1,233.2 L118.6,233.1 L119.1,233.1 L119.6,233 L120.1,232.9 L120.6,232.8 L121.1,232.7 L121.6,232.6 L122.1,232.5 L122.6,232.4 L123.1,232.2 L123.6,232.1 L124.1,232 L124.6,231.9 L125.1,231.7 L125.6,231.6 L126.1,231.5 L126.6,231.3 L127.1,231.1 L127.6,231 L128.1,230.8 L128.6,230.6 L129.1,230.5 L129.6,230.3 L130.1,230.1 L130.6,229.9 L131.1,229.7 L131.6,229.5 L132.1,229.2 L132.6,229 L133.1,228.7 L133.6,228.5 L134.1,228.2 L134.6,227.9 L135.1,227.6 L135.6,227.3 L136.1,227 L136.6,226.6 L137.1,226.2 L137.6,225.9 L138.1,225.4 L138.6,225 L139.1,224.6 L139.6,224.1 L140.1,223.6 L140.6,223 L141.1,222.5 L141.6,221.9 L142.1,221.3 L142.6,220.6 L143.1,219.9 L143.6,219.2 L144.1,218.4 L144.6,217.6 L145.1,216.8 L145.6,215.9 L146.1,215 L146.6,214 L147.1,213 L147.6,211.9 L148.1,210.8 L148.6,209.7 L149.1,208.5 L149.6,207.2 L150.1,205.9 L150.6,204.5 L151.1,203.1 L151.6,201.6 L152.1,200.1 L152.6,198.5 L153.1,196.9 L153.6,195.2 L154.1,193.5 L154.6,191.7 L155.1,189.9 L155.6,188 L156.1,186.1 L156.6,184.1 L157.1,182.1 L157.6,180 L158.1,177.9 L158.6,175.8 L159.1,173.6 L159.6,171.4 L160.1,169.2 L160.6,167 L161.1,164.7 L161.6,162.5 L162.1,160.2 L162.6,158 L163.1,155.7 L163.6,153.5 L164.1,151.3 L164.6,149.1 L165.1,147 L165.6,144.9 L166.1,142.9 L166.6,141 L167.1,139.1 L167.6,137.3 L168.1,135.7 L168.6,134.1 L169.1,132.7 L169.6,131.4 L170.1,130.2 L170.6,129.2 L171.1,128.3 L171.6,127.6 L172.1,127.1 L172.6,126.7 L173.1,126.5 L173.6,126.5 L174.1,126.6 L174.6,126.8 L175.1,127.1 L175.6,127.5 L176.1,128 L176.6,128.6 L177.1,129.3 L177.6,130.2 L178.1,131.1 L178.6,132.1 L179.1,133.1 L179.6,134.3 L180.1,135.5 L180.6,136.8 L181.1,138.2 L181.6,139.6 L182.1,141.1 L182.6,142.7 L183.1,144.3 L183.6,145.9 L184.1,147.6 L184.6,149.3 L185.1,151 L185.6,152.8 L186.1,154.6 L186.6,156.4 L187.1,158.2 L187.6,160 L188.1,161.9 L188.6,163.7 L189.1,165.6 L189.6,167.4 L190.1,169.2 L190.6,171 L191.1,172.8 L191.6,174.6 L192.1,176.4 L192.6,178.1 L193.1,179.9 L193.6,181.6 L194.1,183.2 L194.6,184.9 L195.1,186.5 L195.6,188.1 L196.1,189.6 L196.6,191.2 L197.1,192.6 L197.6,194.1 L198.1,195.5 L198.6,196.9 L199.1,198.2 L199.6,199.5 L200.1,200.8 L200.6,202 L201.1,203.2 L201.6,204.3 L202.1,205.4 L202.6,206.5 L203.1,207.5 L203.6,208.5 L204.1,209.4 L204.6,210.3 L205.1,211.2 L205.6,212 L206.1,212.8 L206.6,213.6 L207.1,214.4 L207.6,215.1 L208.1,215.7 L208.6,216.4 L209.1,217 L209.6,217.6 L210.1,218.1 L210.6,218.6 L211.1,219.1 L211.6,219.6 L212.1,220.1 L212.6,220.5 L213.1,220.9 L213.6,221.3 L214.1,221.6 L214.6,222 L215.1,222.3 L215.6,222.6 L216.1,222.9 L216.6,223.2 L217.1,223.4 L217.6,223.6 L218.1,223.9 L218.6,224.1 L219.1,224.3 L219.6,224.5 L220.1,224.7 L220.6,224.8 L221.1,225 L221.6,225.1 L222.1,225.3 L222.6,225.4 L223.1,225.5 L223.6,225.6 L224.1,225.7 L224.6,225.9 L225.1,226 L225.6,226 L226.1,226.1 L226.6,226.2 L227.1,226.3 L227.6,226.4 L228.1,226.4 L228.6,226.5 L229.1,226.6 L229.6,226.6 L230.1,226.7 L230.6,226.7 L231.1,226.8 L231.6,226.8 L232.1,226.9 L232.6,226.9 L233.1,227 L233.6,227 L234.1,227 L234.6,227.1 L235.1,227.1 L235.6,227.1 L236.1,227.2 L236.6,227.2 L237.1,227.2 L237.6,227.3 L238.1,227.3 L238.6,227.3 L239.1,227.4 L239.6,227.4 L240.1,227.4 L240.6,227.4 L241.1,227.4 L241.6,227.5 L242.1,227.5 L242.6,227.5 L243.1,227.5 L243.6,227.6 L244.1,227.6 L244.6,227.6 L245.1,227.6 L245.6,227.6 L246.1,227.6 L246.6,227.7 L247.1,227.7 L247.6,227.7 L248.1,227.7 L248.6,227.7 L249.1,227.7 L249.6,227.8 L250.1,227.8 L250.6,227.8 L251.1,227.8 L251.6,227.8 L252.1,227.8 L252.6,227.8 L253.1,227.9 L253.6,227.9 L254.1,227.9 L254.6,227.9 L255.1,227.9 L255.6,227.9 L256.1,227.9 L256.6,227.9 L257.1,227.9 L257.6,227.9 L258.1,228 L258.6,228 L259.1,228 L259.6,228 L260.1,228 L260.6,228 L261.1,228" fill="none" stroke="#1ec6c8" stroke-width="1.3"/>
<path d="M72.1,237.8 L72.6,237.8 L73.1,237.8 L73.6,237.8 L74.1,237.8 L74.6,237.8 L75.1,237.7 L75.6,237.7 L76.1,237.7 L76.6,237.7 L77.1,237.7 L77.6,237.7 L78.1,237.7 L78.6,237.7 L79.1,237.7 L79.6,237.7 L80.1,237.7 L80.6,237.7 L81.1,237.6 L81.6,237.6 L82.1,237.6 L82.6,237.6 L83.1,237.6 L83.6,237.6 L84.1,237.6 L84.6,237.6 L85.1,237.6 L85.6,237.6 L86.1,237.6 L86.6,237.6 L87.1,237.5 L87.6,237.5 L88.1,237.5 L88.6,237.5 L89.1,237.5 L89.6,237.5 L90.1,237.5 L90.6,237.5 L91.1,237.5 L91.6,237.5 L92.1,237.5 L92.6,237.4 L93.1,237.4 L93.6,237.4 L94.1,237.4 L94.6,237.4 L95.1,237.4 L95.6,237.4 L96.1,237.4 L96.6,237.4 L97.1,237.4 L97.6,237.3 L98.1,237.3 L98.6,237.3 L99.1,237.3 L99.6,237.3 L100.1,237.3 L100.6,237.3 L101.1,237.3 L101.6,237.3 L102.1,237.3 L102.6,237.2 L103.1,237.2 L103.6,237.2 L104.1,237.2 L104.6,237.2 L105.1,237.2 L105.6,237.2 L106.1,237.2 L106.6,237.2 L107.1,237.2 L107.6,237.2 L108.1,237.2 L108.6,237.1 L109.1,237.1 L109.6,237.1 L110.1,237.1 L110.6,237.1 L111.1,237.1 L111.6,237.1 L112.1,237.1 L112.6,237.1 L113.1,237 L113.6,237 L114.1,237 L114.6,237 L115.1,237 L115.6,237 L116.1,237 L116.6,236.9 L117.1,236.9 L117.6,236.9 L118.1,236.9 L118.6,236.9 L119.1,236.8 L119.6,236.8 L120.1,236.8 L120.6,236.8 L121.1,236.7 L121.6,236.7 L122.1,236.7 L122.6,236.7 L123.1,236.6 L123.6,236.6 L124.1,236.6 L124.6,236.5 L125.1,236.5 L125.6,236.5 L126.1,236.4 L126.6,236.4 L127.1,236.3 L127.6,236.3 L128.1,236.3 L128.6,236.2 L129.1,236.2 L129.6,236.1 L130.1,236.1 L130.6,236.1 L131.1,236 L131.6,236 L132.1,235.9 L132.6,235.9 L133.1,235.8 L133.6,235.8 L134.1,235.8 L134.6,235.7 L135.1,235.7 L135.6,235.6 L136.1,235.6 L136.6,235.5 L137.1,235.5 L137.6,235.5 L138.1,235.4 L138.6,235.4 L139.1,235.3 L139.6,235.3 L140.1,235.2 L140.6,235.2 L141.1,235.2 L141.6,235.1 L142.1,235.1 L142.6,235 L143.1,235 L143.6,234.9 L144.1,234.9 L144.6,234.8 L145.1,234.8 L145.6,234.7 L146.1,234.7 L146.6,234.6 L147.1,234.6 L147.6,234.6 L148.1,234.5 L148.6,234.5 L149.1,234.4 L149.6,234.4 L150.1,234.3 L150.6,234.3 L151.1,234.2 L151.6,234.2 L152.1,234.1 L152.6,234.1 L153.1,234.1 L153.6,234 L154.1,234 L154.6,233.9 L155.1,233.9 L155.6,233.9 L156.1,233.8 L156.6,233.8 L157.1,233.7 L157.6,233.7 L158.1,233.6 L158.6,233.6 L159.1,233.6 L159.6,233.5 L160.1,233.5 L160.6,233.4 L161.1,233.4 L161.6,233.4 L162.1,233.3 L162.6,233.3 L163.1,233.2 L163.6,233.2 L164.1,233.2 L164.6,233.1 L165.1,233.1 L165.6,233.1 L166.1,233 L166.6,233 L167.1,232.9 L167.6,232.9 L168.1,232.9 L168.6,232.8 L169.1,232.8 L169.6,232.8 L170.1,232.7 L170.6,232.7 L171.1,232.7 L171.6,232.6 L172.1,232.6 L172.6,232.6 L173.1,232.5 L173.6,232.5 L174.1,232.5 L174.6,232.4 L175.1,232.4 L175.6,232.4 L176.1,232.3 L176.6,232.3 L177.1,232.3 L177.6,232.2 L178.1,232.2 L178.6,232.2 L179.1,232.2 L179.6,232.1 L180.1,232.1 L180.6,232.1 L181.1,232 L181.6,232 L182.1,232 L182.6,232 L183.1,231.9 L183.6,231.9 L184.1,231.9 L184.6,231.9 L185.1,231.8 L185.6,231.8 L186.1,231.8 L186.6,231.8 L187.1,231.7 L187.6,231.7 L188.1,231.7 L188.6,231.7 L189.1,231.6 L189.6,231.6 L190.1,231.6 L190.6,231.6 L191.1,231.5 L191.6,231.5 L192.1,231.5 L192.6,231.5 L193.1,231.4 L193.6,231.4 L194.1,231.4 L194.6,231.4 L195.1,231.3 L195.6,231.3 L196.1,231.3 L196.6,231.3 L197.1,231.2 L197.6,231.2 L198.1,231.2 L198.6,231.2 L199.1,231.1 L199.6,231.1 L200.1,231.1 L200.6,231.1 L201.1,231 L201.6,231 L202.1,231 L202.6,231 L203.1,230.9 L203.6,230.9 L204.1,230.9 L204.6,230.9 L205.1,230.8 L205.6,230.8 L206.1,230.8 L206.6,230.8 L207.1,230.7 L207.6,230.7 L208.1,230.7 L208.6,230.6 L209.1,230.6 L209.6,230.6 L210.1,230.6 L210.6,230.5 L211.1,230.5 L211.6,230.5 L212.1,230.5 L212.6,230.4 L213.1,230.4 L213.6,230.4 L214.1,230.4 L214.6,230.3 L215.1,230.3 L215.6,230.3 L216.1,230.3 L216.6,230.2 L217.1,230.2 L217.6,230.2 L218.1,230.2 L218.6,230.1 L219.1,230.1 L219.6,230.1 L220.1,230.1 L220.6,230.1 L221.1,230 L221.6,230 L222.1,230 L222.6,230 L223.1,230 L223.6,229.9 L224.1,229.9 L224.6,229.9 L225.1,229.9 L225.6,229.9 L226.1,229.9 L226.6,229.9 L227.1,229.8 L227.6,229.8 L228.1,229.8 L228.6,229.8 L229.1,229.8 L229.6,229.8 L230.1,229.8 L230.6,229.8 L231.1,229.7 L231.6,229.7 L232.1,229.7 L232.6,229.7 L233.1,229.7 L233.6,229.7 L234.1,229.7 L234.6,229.7 L235.1,229.7 L235.6,229.6 L236.1,229.6 L236.6,229.6 L237.1,229.6 L237.6,229.6 L238.1,229.6 L238.6,229.6 L239.1,229.6 L239.6,229.6 L240.1,229.6 L240.6,229.6 L241.1,229.5 L241.6,229.5 L242.1,229.5 L242.6,229.5 L243.1,229.5 L243.6,229.5 L244.1,229.5 L244.6,229.5 L245.1,229.5 L245.6,229.5 L246.1,229.5 L246.6,229.5 L247.1,229.5 L247.6,229.5 L248.1,229.4 L248.6,229.4 L249.1,229.4 L249.6,229.4 L250.1,229.4 L250.6,229.4 L251.1,229.4 L251.6,229.4 L252.1,229.4 L252.6,229.4 L253.1,229.4 L253.6,229.4 L254.1,229.4 L254.6,229.4 L255.1,229.4 L255.6,229.4 L256.1,229.4 L256.6,229.3 L257.1,229.3 L257.6,229.3 L258.1,229.3 L258.6,229.3 L259.1,229.3 L259.6,229.3 L260.1,229.3 L260.6,229.3 L261.1,229.3 L261.6,229.3 L262.1,229.3 L262.6,229.3 L263.1,229.3 L263.6,229.3 L264.1,229.2 L264.6,229.2 L265.1,229.2 L265.6,229.2 L266.1,229.2 L266.6,229.2 L267.1,229.2 L267.6,229.2 L268.1,229.2 L268.6,229.2 L269.1,229.2 L269.6,229.2 L270.1,229.2 L270.6,229.2 L271.1,229.2 L271.6,229.2 L272.1,229.2 L272.6,229.1 L273.1,229.1 L273.6,229.1 L274.1,229.1 L274.6,229.1 L275.1,229.1 L275.6,229.1 L276.1,229.1 L276.6,229.1 L277.1,229.1 L277.6,229.1 L278.1,229.1 L278.6,229.1 L279.1,229.1 L279.6,229.1 L280.1,229.1 L280.6,229.1 L281.1,229.1 L281.6,229.1 L282.1,229.1 L282.6,229 L283.1,229 L283.6,229 L284.1,229 L284.6,229 L285.1,229 L285.6,229 L286.1,229 L286.6,229 L287.1,229 L287.6,229 L288.1,229 L288.6,229 L289.1,229 L289.6,229 L290.1,229 L290.6,229 L291.1,229 L291.6,229 L292.1,229 L292.6,229 L293.1,229 L293.6,229 L294.1,228.9 L294.6,228.9 L295.1,228.9 L295.6,228.9 L296.1,228.9 L296.6,228.9 L297.1,228.9 L297.6,228.9 L298.1,228.9 L298.6,228.9 L299.1,228.9 L299.6,228.9 L300.1,228.9 L300.6,228.9 L301.1,228.9 L301.6,228.9 L302.1,228.9 L302.6,228.9 L303.1,228.9 L303.6,228.9 L304.1,228.9 L304.6,228.9 L305.1,228.9 L305.6,228.9 L306.1,228.9 L306.6,228.8 L307.1,228.8 L307.6,228.8 L308.1,228.8 L308.6,228.8 L309.1,228.8 L309.6,228.8 L310.1,228.8 L310.6,228.8 L311.1,228.8 L311.6,228.8 L312.1,228.8 L312.6,228.8 L313.1,228.8 L313.6,228.8 L314.1,228.8 L314.6,228.8 L315.1,228.8 L315.6,228.8 L316.1,228.8 L316.6,228.8 L317.1,228.8 L317.6,228.8 L318.1,228.8 L318.6,228.8 L319.1,228.8 L319.6,228.8 L320.1,228.8 L320.6,228.8 L321.1,228.8 L321.6,228.7 L322.1,228.7 L322.6,228.7 L323.1,228.7 L323.6,228.7 L324.1,228.7 L324.6,228.7 L325.1,228.7 L325.6,228.7 L326.1,228.7 L326.6,228.7 L327.1,228.7 L327.6,228.7 L328.1,228.7 L328.6,228.7 L329.1,228.7 L329.6,228.7 L330.1,228.7 L330.6,228.7 L331.1,228.7 L331.6,228.7 L332.1,228.7 L332.6,228.7 L333.1,228.7 L333.6,228.7 L334.1,228.7 L334.6,228.7 L335.1,228.7 L335.6,228.7 L336.1,228.7 L336.6,228.7 L337.1,228.7 L337.6,228.7 L338.1,228.6 L338.6,228.6 L339.1,228.6 L339.6,228.6 L340.1,228.6 L340.6,228.6 L341.1,228.6 L341.6,228.6 L342.1,228.6 L342.6,228.6 L343.1,228.6 L343.6,228.6 L344.1,228.6 L344.6,228.6 L345.1,228.6 L345.6,228.6 L346.1,228.6" fill="none" stroke="#5b5bb5" stroke-width="1.3"/>
<g fill="none" stroke="#3c3c3c" stroke-width="0.85"><circle cx="71.8" cy="236.5" r="2.3"/><circle cx="72.6" cy="235.9" r="2.3"/><circle cx="73.4" cy="235.5" r="2.3"/><circle cx="74.2" cy="236.5" r="2.3"/><circle cx="74.9" cy="236.9" r="2.3"/><circle cx="75.7" cy="237" r="2.3"/><circle cx="76.5" cy="236.3" r="2.3"/><circle cx="77.3" cy="236.4" r="2.3"/><circle cx="78.1" cy="234.2" r="2.3"/><circle cx="78.9" cy="234.5" r="2.3"/><circle cx="79.6" cy="235" r="2.3"/><circle cx="80.4" cy="235.1" r="2.3"/><circle cx="81.2" cy="235.9" r="2.3"/><circle cx="82" cy="236.2" r="2.3"/><circle cx="82.8" cy="236.3" r="2.3"/><circle cx="83.6" cy="234.8" r="2.3"/><circle cx="84.3" cy="235" r="2.3"/><circle cx="85.1" cy="235.6" r="2.3"/><circle cx="85.9" cy="234.7" r="2.3"/><circle cx="86.7" cy="235.6" r="2.3"/><circle cx="87.5" cy="234.7" r="2.3"/><circle cx="88.3" cy="234" r="2.3"/><circle cx="89" cy="235.6" r="2.3"/><circle cx="89.8" cy="233.6" r="2.3"/><circle cx="90.6" cy="233.5" r="2.3"/><circle cx="91.4" cy="234.3" r="2.3"/><circle cx="92.2" cy="234" r="2.3"/><circle cx="93" cy="234.6" r="2.3"/><circle cx="93.7" cy="235.2" r="2.3"/><circle cx="94.5" cy="234.2" r="2.3"/><circle cx="95.3" cy="234.9" r="2.3"/><circle cx="96.1" cy="234.1" r="2.3"/><circle cx="96.9" cy="233.9" r="2.3"/><circle cx="97.7" cy="233.7" r="2.3"/><circle cx="98.4" cy="234.1" r="2.3"/><circle cx="99.2" cy="235" r="2.3"/><circle cx="100" cy="232.1" r="2.3"/><circle cx="100.8" cy="233.2" r="2.3"/><circle cx="101.6" cy="233.5" r="2.3"/><circle cx="102.4" cy="233.6" r="2.3"/><circle cx="103.1" cy="233.7" r="2.3"/><circle cx="103.9" cy="234.5" r="2.3"/><circle cx="104.7" cy="234.3" r="2.3"/><circle cx="105.5" cy="233.3" r="2.3"/><circle cx="106.3" cy="233" r="2.3"/><circle cx="107.1" cy="230.7" r="2.3"/><circle cx="107.8" cy="230" r="2.3"/><circle cx="108.6" cy="230.8" r="2.3"/><circle cx="109.4" cy="229.6" r="2.3"/><circle cx="110.2" cy="228" r="2.3"/><circle cx="111" cy="227.5" r="2.3"/><circle cx="111.8" cy="226.5" r="2.3"/><circle cx="112.5" cy="223.6" r="2.3"/><circle cx="113.3" cy="222.5" r="2.3"/><circle cx="114.1" cy="220.3" r="2.3"/><circle cx="114.9" cy="217.7" r="2.3"/><circle cx="115.7" cy="214.1" r="2.3"/><circle cx="116.5" cy="210.5" r="2.3"/><circle cx="117.2" cy="207.1" r="2.3"/><circle cx="118" cy="203.3" r="2.3"/><circle cx="118.8" cy="198.9" r="2.3"/><circle cx="119.6" cy="194.3" r="2.3"/><circle cx="120.4" cy="188.2" r="2.3"/><circle cx="121.2" cy="182" r="2.3"/><circle cx="121.9" cy="174.9" r="2.3"/><circle cx="122.7" cy="167.8" r="2.3"/><circle cx="123.5" cy="160.8" r="2.3"/><circle cx="124.3" cy="153.7" r="2.3"/><circle cx="125.1" cy="144.7" r="2.3"/><circle cx="125.9" cy="136.8" r="2.3"/><circle cx="126.6" cy="127.8" r="2.3"/><circle cx="127.4" cy="118.7" r="2.3"/><circle cx="128.2" cy="111.2" r="2.3"/><circle cx="129" cy="103.4" r="2.3"/><circle cx="129.8" cy="95.8" r="2.3"/><circle cx="130.6" cy="88.2" r="2.3"/><circle cx="131.3" cy="83.7" r="2.3"/><circle cx="132.1" cy="77.3" r="2.3"/><circle cx="132.9" cy="72.4" r="2.3"/><circle cx="133.7" cy="66.8" r="2.3"/><circle cx="134.5" cy="64.4" r="2.3"/><circle cx="135.3" cy="64" r="2.3"/><circle cx="136" cy="64.3" r="2.3"/><circle cx="136.8" cy="62.2" r="2.3"/><circle cx="137.6" cy="62.7" r="2.3"/><circle cx="138.4" cy="61.8" r="2.3"/><circle cx="139.2" cy="64.5" r="2.3"/><circle cx="140" cy="67.2" r="2.3"/><circle cx="140.7" cy="72" r="2.3"/><circle cx="141.5" cy="75.5" r="2.3"/><circle cx="142.3" cy="80.8" r="2.3"/><circle cx="143.1" cy="87" r="2.3"/><circle cx="143.9" cy="92.5" r="2.3"/><circle cx="144.7" cy="99.9" r="2.3"/><circle cx="145.4" cy="107.2" r="2.3"/><circle cx="146.2" cy="114.2" r="2.3"/><circle cx="147" cy="120.7" r="2.3"/><circle cx="147.8" cy="124.9" r="2.3"/><circle cx="148.6" cy="131.7" r="2.3"/><circle cx="149.4" cy="136.7" r="2.3"/><circle cx="150.1" cy="144.1" r="2.3"/><circle cx="150.9" cy="148.8" r="2.3"/><circle cx="151.7" cy="152.9" r="2.3"/><circle cx="152.5" cy="158.5" r="2.3"/><circle cx="153.3" cy="161.1" r="2.3"/><circle cx="154.1" cy="163.1" r="2.3"/><circle cx="154.8" cy="164.8" r="2.3"/><circle cx="155.6" cy="165" r="2.3"/><circle cx="156.4" cy="166.5" r="2.3"/><circle cx="157.2" cy="165.6" r="2.3"/><circle cx="158" cy="166.2" r="2.3"/><circle cx="158.8" cy="164.1" r="2.3"/><circle cx="159.5" cy="162.1" r="2.3"/><circle cx="160.3" cy="159.2" r="2.3"/><circle cx="161.1" cy="157.1" r="2.3"/><circle cx="161.9" cy="152.8" r="2.3"/><circle cx="162.7" cy="149.6" r="2.3"/><circle cx="163.5" cy="146.3" r="2.3"/><circle cx="164.2" cy="144.3" r="2.3"/><circle cx="165" cy="141.9" r="2.3"/><circle cx="165.8" cy="139" r="2.3"/><circle cx="166.6" cy="137.6" r="2.3"/><circle cx="167.4" cy="134.3" r="2.3"/><circle cx="168.2" cy="130" r="2.3"/><circle cx="168.9" cy="128.4" r="2.3"/><circle cx="169.7" cy="125.9" r="2.3"/><circle cx="170.5" cy="124.9" r="2.3"/><circle cx="171.3" cy="124.2" r="2.3"/><circle cx="172.1" cy="125" r="2.3"/><circle cx="172.9" cy="126" r="2.3"/><circle cx="173.6" cy="124.7" r="2.3"/><circle cx="174.4" cy="125.7" r="2.3"/><circle cx="175.2" cy="124.2" r="2.3"/><circle cx="176" cy="126.2" r="2.3"/><circle cx="176.8" cy="127" r="2.3"/><circle cx="177.6" cy="127.1" r="2.3"/><circle cx="178.3" cy="127.8" r="2.3"/><circle cx="179.1" cy="129.9" r="2.3"/><circle cx="179.9" cy="131" r="2.3"/><circle cx="180.7" cy="132.6" r="2.3"/><circle cx="181.5" cy="134.4" r="2.3"/><circle cx="182.3" cy="135.6" r="2.3"/><circle cx="183" cy="136.8" r="2.3"/><circle cx="183.8" cy="141" r="2.3"/><circle cx="184.6" cy="142.4" r="2.3"/><circle cx="185.4" cy="145.9" r="2.3"/><circle cx="186.2" cy="150.1" r="2.3"/><circle cx="187" cy="153.3" r="2.3"/><circle cx="187.7" cy="157.2" r="2.3"/><circle cx="188.5" cy="158.8" r="2.3"/><circle cx="189.3" cy="164" r="2.3"/><circle cx="190.1" cy="165.7" r="2.3"/><circle cx="190.9" cy="168.8" r="2.3"/><circle cx="191.7" cy="174.1" r="2.3"/><circle cx="192.4" cy="175.2" r="2.3"/><circle cx="193.2" cy="178.5" r="2.3"/><circle cx="194" cy="181.8" r="2.3"/><circle cx="194.8" cy="183.2" r="2.3"/><circle cx="195.6" cy="186.3" r="2.3"/><circle cx="196.4" cy="188.1" r="2.3"/><circle cx="197.1" cy="189.7" r="2.3"/><circle cx="197.9" cy="192.8" r="2.3"/><circle cx="198.7" cy="194" r="2.3"/><circle cx="199.5" cy="198.7" r="2.3"/><circle cx="200.3" cy="198.9" r="2.3"/><circle cx="201.1" cy="202.7" r="2.3"/><circle cx="201.8" cy="205.2" r="2.3"/><circle cx="202.6" cy="206.6" r="2.3"/><circle cx="203.4" cy="207.3" r="2.3"/><circle cx="204.2" cy="208" r="2.3"/><circle cx="205" cy="211.5" r="2.3"/><circle cx="205.8" cy="210.6" r="2.3"/><circle cx="206.5" cy="212.5" r="2.3"/><circle cx="207.3" cy="212.8" r="2.3"/><circle cx="208.1" cy="216.2" r="2.3"/><circle cx="208.9" cy="215.1" r="2.3"/><circle cx="209.7" cy="218.3" r="2.3"/><circle cx="210.5" cy="219.9" r="2.3"/><circle cx="211.3" cy="219.7" r="2.3"/><circle cx="212" cy="218.5" r="2.3"/><circle cx="212.8" cy="219.9" r="2.3"/><circle cx="213.6" cy="219.9" r="2.3"/><circle cx="214.4" cy="221.1" r="2.3"/><circle cx="215.2" cy="221.9" r="2.3"/><circle cx="216" cy="222.6" r="2.3"/><circle cx="216.7" cy="222.2" r="2.3"/><circle cx="217.5" cy="222.7" r="2.3"/><circle cx="218.3" cy="223.2" r="2.3"/><circle cx="219.1" cy="223.6" r="2.3"/><circle cx="219.9" cy="223.1" r="2.3"/><circle cx="220.7" cy="225" r="2.3"/><circle cx="221.4" cy="224.8" r="2.3"/><circle cx="222.2" cy="224.8" r="2.3"/><circle cx="223" cy="224.5" r="2.3"/><circle cx="223.8" cy="224.7" r="2.3"/><circle cx="224.6" cy="222.5" r="2.3"/><circle cx="225.4" cy="224.7" r="2.3"/><circle cx="226.1" cy="223.3" r="2.3"/><circle cx="226.9" cy="224.3" r="2.3"/><circle cx="227.7" cy="224.8" r="2.3"/><circle cx="228.5" cy="226.3" r="2.3"/><circle cx="229.3" cy="226.4" r="2.3"/><circle cx="230.1" cy="227.6" r="2.3"/><circle cx="230.8" cy="227.1" r="2.3"/><circle cx="231.6" cy="227.9" r="2.3"/><circle cx="232.4" cy="227.9" r="2.3"/><circle cx="233.2" cy="228.1" r="2.3"/><circle cx="234" cy="228.9" r="2.3"/><circle cx="234.8" cy="228" r="2.3"/><circle cx="235.5" cy="229.5" r="2.3"/><circle cx="236.3" cy="228.2" r="2.3"/><circle cx="237.1" cy="228.2" r="2.3"/><circle cx="237.9" cy="227.6" r="2.3"/><circle cx="238.7" cy="228.3" r="2.3"/><circle cx="239.5" cy="228.1" r="2.3"/><circle cx="240.2" cy="228.7" r="2.3"/><circle cx="241" cy="228.5" r="2.3"/><circle cx="241.8" cy="228.5" r="2.3"/><circle cx="242.6" cy="227.1" r="2.3"/><circle cx="243.4" cy="226.7" r="2.3"/><circle cx="244.2" cy="226.2" r="2.3"/><circle cx="244.9" cy="227.3" r="2.3"/><circle cx="245.7" cy="227.4" r="2.3"/><circle cx="246.5" cy="226.5" r="2.3"/><circle cx="247.3" cy="228.7" r="2.3"/><circle cx="248.1" cy="228.4" r="2.3"/><circle cx="248.9" cy="227.6" r="2.3"/><circle cx="249.6" cy="229.5" r="2.3"/><circle cx="250.4" cy="227.7" r="2.3"/><circle cx="251.2" cy="227.1" r="2.3"/><circle cx="252" cy="226.4" r="2.3"/><circle cx="252.8" cy="226" r="2.3"/><circle cx="253.6" cy="227.1" r="2.3"/><circle cx="254.3" cy="227.9" r="2.3"/><circle cx="255.1" cy="229" r="2.3"/><circle cx="255.9" cy="227.3" r="2.3"/><circle cx="256.7" cy="226.5" r="2.3"/><circle cx="257.5" cy="227.1" r="2.3"/><circle cx="258.3" cy="226.6" r="2.3"/><circle cx="259" cy="226.9" r="2.3"/><circle cx="259.8" cy="226.8" r="2.3"/><circle cx="260.6" cy="226.7" r="2.3"/><circle cx="261.4" cy="227.8" r="2.3"/><circle cx="262.2" cy="227.2" r="2.3"/><circle cx="263" cy="226.1" r="2.3"/><circle cx="263.7" cy="227.1" r="2.3"/><circle cx="264.5" cy="226.5" r="2.3"/><circle cx="265.3" cy="226" r="2.3"/><circle cx="266.1" cy="226.6" r="2.3"/><circle cx="266.9" cy="227.6" r="2.3"/><circle cx="267.7" cy="226.9" r="2.3"/><circle cx="268.4" cy="227.3" r="2.3"/><circle cx="269.2" cy="228.1" r="2.3"/><circle cx="270" cy="226.8" r="2.3"/><circle cx="270.8" cy="227" r="2.3"/><circle cx="271.6" cy="226.8" r="2.3"/><circle cx="272.4" cy="226.9" r="2.3"/><circle cx="273.1" cy="227.1" r="2.3"/><circle cx="273.9" cy="228.5" r="2.3"/><circle cx="274.7" cy="229.3" r="2.3"/><circle cx="275.5" cy="228.3" r="2.3"/><circle cx="276.3" cy="229.2" r="2.3"/><circle cx="277.1" cy="230.5" r="2.3"/><circle cx="277.8" cy="230" r="2.3"/><circle cx="278.6" cy="230" r="2.3"/><circle cx="279.4" cy="229.5" r="2.3"/><circle cx="280.2" cy="229.1" r="2.3"/><circle cx="281" cy="229.5" r="2.3"/><circle cx="281.8" cy="231.1" r="2.3"/><circle cx="282.5" cy="229.6" r="2.3"/><circle cx="283.3" cy="230" r="2.3"/><circle cx="284.1" cy="229.4" r="2.3"/><circle cx="284.9" cy="229.8" r="2.3"/><circle cx="285.7" cy="229.8" r="2.3"/><circle cx="286.5" cy="229.7" r="2.3"/><circle cx="287.2" cy="229.3" r="2.3"/><circle cx="288" cy="229.8" r="2.3"/><circle cx="288.8" cy="230" r="2.3"/><circle cx="289.6" cy="229.9" r="2.3"/><circle cx="290.4" cy="230.1" r="2.3"/><circle cx="291.2" cy="229.9" r="2.3"/><circle cx="291.9" cy="229.4" r="2.3"/><circle cx="292.7" cy="230.5" r="2.3"/><circle cx="293.5" cy="230.6" r="2.3"/><circle cx="294.3" cy="229.6" r="2.3"/><circle cx="295.1" cy="228.7" r="2.3"/><circle cx="295.9" cy="228.7" r="2.3"/><circle cx="296.6" cy="227.8" r="2.3"/><circle cx="297.4" cy="226.7" r="2.3"/><circle cx="298.2" cy="228.1" r="2.3"/><circle cx="299" cy="228.1" r="2.3"/><circle cx="299.8" cy="227.6" r="2.3"/><circle cx="300.6" cy="227.4" r="2.3"/><circle cx="301.3" cy="228.4" r="2.3"/><circle cx="302.1" cy="228.3" r="2.3"/><circle cx="302.9" cy="228" r="2.3"/><circle cx="303.7" cy="228.6" r="2.3"/><circle cx="304.5" cy="228.2" r="2.3"/><circle cx="305.3" cy="227.6" r="2.3"/><circle cx="306" cy="227.3" r="2.3"/><circle cx="306.8" cy="228.1" r="2.3"/><circle cx="307.6" cy="229.3" r="2.3"/><circle cx="308.4" cy="227.8" r="2.3"/><circle cx="309.2" cy="228.3" r="2.3"/><circle cx="310" cy="229" r="2.3"/><circle cx="310.7" cy="229.1" r="2.3"/><circle cx="311.5" cy="228.9" r="2.3"/><circle cx="312.3" cy="229.1" r="2.3"/><circle cx="313.1" cy="227.1" r="2.3"/><circle cx="313.9" cy="227.1" r="2.3"/><circle cx="314.7" cy="227.5" r="2.3"/><circle cx="315.4" cy="227.3" r="2.3"/><circle cx="316.2" cy="227.7" r="2.3"/><circle cx="317" cy="227.9" r="2.3"/><circle cx="317.8" cy="227.2" r="2.3"/><circle cx="318.6" cy="227.3" r="2.3"/><circle cx="319.4" cy="228.1" r="2.3"/><circle cx="320.1" cy="227.6" r="2.3"/><circle cx="320.9" cy="228.1" r="2.3"/><circle cx="321.7" cy="228.4" r="2.3"/><circle cx="322.5" cy="229.5" r="2.3"/><circle cx="323.3" cy="229.3" r="2.3"/><circle cx="324.1" cy="229.4" r="2.3"/><circle cx="324.8" cy="229.1" r="2.3"/><circle cx="325.6" cy="227.8" r="2.3"/><circle cx="326.4" cy="229" r="2.3"/><circle cx="327.2" cy="229.4" r="2.3"/><circle cx="328" cy="228.1" r="2.3"/><circle cx="328.8" cy="228.8" r="2.3"/><circle cx="329.5" cy="227.6" r="2.3"/><circle cx="330.3" cy="227.9" r="2.3"/><circle cx="331.1" cy="229" r="2.3"/><circle cx="331.9" cy="230" r="2.3"/><circle cx="332.7" cy="228" r="2.3"/><circle cx="333.5" cy="229" r="2.3"/><circle cx="334.2" cy="227.4" r="2.3"/><circle cx="335" cy="228.4" r="2.3"/><circle cx="335.8" cy="227.4" r="2.3"/><circle cx="336.6" cy="227.6" r="2.3"/><circle cx="337.4" cy="227.4" r="2.3"/><circle cx="338.2" cy="227.9" r="2.3"/><circle cx="338.9" cy="228" r="2.3"/><circle cx="339.7" cy="228.3" r="2.3"/><circle cx="340.5" cy="229.1" r="2.3"/><circle cx="341.3" cy="229.2" r="2.3"/><circle cx="342.1" cy="229.3" r="2.3"/><circle cx="342.9" cy="228.3" r="2.3"/><circle cx="343.6" cy="228.1" r="2.3"/><circle cx="344.4" cy="226.2" r="2.3"/><circle cx="345.2" cy="227.6" r="2.3"/><circle cx="346" cy="227.8" r="2.3"/><circle cx="346.8" cy="226.9" r="2.3"/></g>
<path d="M72.1,236.4 L72.6,236.4 L73.1,236.4 L73.6,236.3 L74.1,236.3 L74.6,236.3 L75.1,236.3 L75.6,236.2 L76.1,236.2 L76.6,236.2 L77.1,236.2 L77.6,236.1 L78.1,236.1 L78.6,236.1 L79.1,236.1 L79.6,236 L80.1,236 L80.6,236 L81.1,236 L81.6,235.9 L82.1,235.9 L82.6,235.9 L83.1,235.8 L83.6,235.8 L84.1,235.8 L84.6,235.7 L85.1,235.7 L85.6,235.7 L86.1,235.6 L86.6,235.6 L87.1,235.6 L87.6,235.5 L88.1,235.5 L88.6,235.5 L89.1,235.4 L89.6,235.4 L90.1,235.4 L90.6,235.3 L91.1,235.3 L91.6,235.3 L92.1,235.2 L92.6,235.2 L93.1,235.1 L93.6,235.1 L94.1,235 L94.6,235 L95.1,234.9 L95.6,234.9 L96.1,234.8 L96.6,234.8 L97.1,234.7 L97.6,234.7 L98.1,234.6 L98.6,234.6 L99.1,234.5 L99.6,234.4 L100.1,234.4 L100.6,234.3 L101.1,234.2 L101.6,234.1 L102.1,234 L102.6,233.9 L103.1,233.8 L103.6,233.7 L104.1,233.5 L104.6,233.4 L105.1,233.2 L105.6,233 L106.1,232.8 L106.6,232.5 L107.1,232.3 L107.6,232 L108.1,231.6 L108.6,231.3 L109.1,230.8 L109.6,230.4 L110.1,229.8 L110.6,229.2 L111.1,228.6 L111.6,227.8 L112.1,227 L112.6,226.1 L113.1,225 L113.6,223.9 L114.1,222.7 L114.6,221.3 L115.1,219.8 L115.6,218.1 L116.1,216.3 L116.6,214.3 L117.1,212.2 L117.6,209.9 L118.1,207.4 L118.6,204.7 L119.1,201.8 L119.6,198.7 L120.1,195.5 L120.6,192 L121.1,188.3 L121.6,184.4 L122.1,180.4 L122.6,176.1 L123.1,171.6 L123.6,167 L124.1,162.3 L124.6,157.3 L125.1,152.3 L125.6,147.2 L126.1,141.9 L126.6,136.6 L127.1,131.3 L127.6,126 L128.1,120.7 L128.6,115.4 L129.1,110.2 L129.6,105.1 L130.1,100.2 L130.6,95.5 L131.1,90.9 L131.6,86.6 L132.1,82.6 L132.6,78.9 L133.1,75.5 L133.6,72.5 L134.1,69.9 L134.6,67.7 L135.1,65.9 L135.6,64.5 L136.1,63.6 L136.6,63.1 L137.1,63 L137.6,63.4 L138.1,64.3 L138.6,65.6 L139.1,67.3 L139.6,69.3 L140.1,71.8 L140.6,74.6 L141.1,77.7 L141.6,81 L142.1,84.7 L142.6,88.5 L143.1,92.5 L143.6,96.6 L144.1,100.8 L144.6,105.1 L145.1,109.5 L145.6,113.8 L146.1,118.1 L146.6,122.3 L147.1,126.5 L147.6,130.5 L148.1,134.4 L148.6,138.1 L149.1,141.6 L149.6,145 L150.1,148.1 L150.6,151 L151.1,153.6 L151.6,156 L152.1,158.2 L152.6,160.1 L153.1,161.7 L153.6,163.1 L154.1,164.3 L154.6,165.2 L155.1,165.8 L155.6,166.2 L156.1,166.4 L156.6,166.4 L157.1,166.2 L157.6,165.8 L158.1,165.1 L158.6,164.4 L159.1,163.4 L159.6,162.3 L160.1,161.1 L160.6,159.8 L161.1,158.3 L161.6,156.8 L162.1,155.1 L162.6,153.4 L163.1,151.7 L163.6,149.9 L164.1,148.1 L164.6,146.2 L165.1,144.4 L165.6,142.6 L166.1,140.8 L166.6,139.1 L167.1,137.4 L167.6,135.8 L168.1,134.2 L168.6,132.8 L169.1,131.5 L169.6,130.2 L170.1,129.1 L170.6,128.2 L171.1,127.4 L171.6,126.7 L172.1,126.2 L172.6,125.9 L173.1,125.8 L173.6,125.8 L174.1,125.9 L174.6,126.1 L175.1,126.4 L175.6,126.9 L176.1,127.4 L176.6,128 L177.1,128.8 L177.6,129.6 L178.1,130.5 L178.6,131.5 L179.1,132.6 L179.6,133.8 L180.1,135 L180.6,136.3 L181.1,137.7 L181.6,139.2 L182.1,140.7 L182.6,142.2 L183.1,143.8 L183.6,145.5 L184.1,147.2 L184.6,148.9 L185.1,150.6 L185.6,152.4 L186.1,154.2 L186.6,156 L187.1,157.8 L187.6,159.7 L188.1,161.5 L188.6,163.4 L189.1,165.2 L189.6,167.1 L190.1,168.9 L190.6,170.7 L191.1,172.5 L191.6,174.3 L192.1,176.1 L192.6,177.8 L193.1,179.6 L193.6,181.3 L194.1,183 L194.6,184.6 L195.1,186.2 L195.6,187.8 L196.1,189.4 L196.6,190.9 L197.1,192.4 L197.6,193.8 L198.1,195.2 L198.6,196.6 L199.1,198 L199.6,199.3 L200.1,200.5 L200.6,201.7 L201.1,202.9 L201.6,204.1 L202.1,205.2 L202.6,206.2 L203.1,207.3 L203.6,208.3 L204.1,209.2 L204.6,210.1 L205.1,211 L205.6,211.8 L206.1,212.6 L206.6,213.4 L207.1,214.2 L207.6,214.9 L208.1,215.5 L208.6,216.2 L209.1,216.8 L209.6,217.4 L210.1,217.9 L210.6,218.5 L211.1,219 L211.6,219.4 L212.1,219.9 L212.6,220.3 L213.1,220.7 L213.6,221.1 L214.1,221.5 L214.6,221.8 L215.1,222.1 L215.6,222.4 L216.1,222.7 L216.6,223 L217.1,223.3 L217.6,223.5 L218.1,223.7 L218.6,223.9 L219.1,224.1 L219.6,224.3 L220.1,224.5 L220.6,224.7 L221.1,224.8 L221.6,225 L222.1,225.1 L222.6,225.3 L223.1,225.4 L223.6,225.5 L224.1,225.6 L224.6,225.7 L225.1,225.8 L225.6,225.9 L226.1,226 L226.6,226.1 L227.1,226.2 L227.6,226.2 L228.1,226.3 L228.6,226.4 L229.1,226.5 L229.6,226.5 L230.1,226.6 L230.6,226.6 L231.1,226.7 L231.6,226.7 L232.1,226.8 L232.6,226.8 L233.1,226.9 L233.6,226.9 L234.1,226.9 L234.6,227 L235.1,227 L235.6,227 L236.1,227.1 L236.6,227.1 L237.1,227.1 L237.6,227.2 L238.1,227.2 L238.6,227.2 L239.1,227.3 L239.6,227.3 L240.1,227.3 L240.6,227.3 L241.1,227.4 L241.6,227.4 L242.1,227.4 L242.6,227.4 L243.1,227.4 L243.6,227.5 L244.1,227.5 L244.6,227.5 L245.1,227.5 L245.6,227.5 L246.1,227.6 L246.6,227.6 L247.1,227.6 L247.6,227.6 L248.1,227.6 L248.6,227.6 L249.1,227.7 L249.6,227.7 L250.1,227.7 L250.6,227.7 L251.1,227.7 L251.6,227.7 L252.1,227.8 L252.6,227.8 L253.1,227.8 L253.6,227.8 L254.1,227.8 L254.6,227.8 L255.1,227.8 L255.6,227.8 L256.1,227.8 L256.6,227.9 L257.1,227.9 L257.6,227.9 L258.1,227.9 L258.6,227.9 L259.1,227.9 L259.6,227.9 L260.1,227.9 L260.6,227.9 L261.1,227.9 L261.6,227.9 L262.1,228 L262.6,228 L263.1,228 L263.6,228 L264.1,228 L264.6,228 L265.1,228 L265.6,228 L266.1,228 L266.6,228 L267.1,228 L267.6,228 L268.1,228 L268.6,228 L269.1,228 L269.6,228.1 L270.1,228.1 L270.6,228.1 L271.1,228.1 L271.6,228.1 L272.1,228.1 L272.6,228.1 L273.1,228.1 L273.6,228.1 L274.1,228.1 L274.6,228.1 L275.1,228.1 L275.6,228.1 L276.1,228.1 L276.6,228.1 L277.1,228.1 L277.6,228.1 L278.1,228.1 L278.6,228.1 L279.1,228.1 L279.6,228.1 L280.1,228.1 L280.6,228.1 L281.1,228.2 L281.6,228.2 L282.1,228.2 L282.6,228.2 L283.1,228.2 L283.6,228.2 L284.1,228.2 L284.6,228.2 L285.1,228.2 L285.6,228.2 L286.1,228.2 L286.6,228.2 L287.1,228.2 L287.6,228.2 L288.1,228.2 L288.6,228.2 L289.1,228.2 L289.6,228.2 L290.1,228.2 L290.6,228.2 L291.1,228.2 L291.6,228.2 L292.1,228.2 L292.6,228.2 L293.1,228.2 L293.6,228.2 L294.1,228.2 L294.6,228.2 L295.1,228.2 L295.6,228.2 L296.1,228.2 L296.6,228.2 L297.1,228.2 L297.6,228.2 L298.1,228.2 L298.6,228.2 L299.1,228.2 L299.6,228.2 L300.1,228.2 L300.6,228.2 L301.1,228.2 L301.6,228.2 L302.1,228.2 L302.6,228.2 L303.1,228.2 L303.6,228.2 L304.1,228.2 L304.6,228.2 L305.1,228.2 L305.6,228.2 L306.1,228.2 L306.6,228.2 L307.1,228.2 L307.6,228.2 L308.1,228.2 L308.6,228.2 L309.1,228.2 L309.6,228.2 L310.1,228.2 L310.6,228.2 L311.1,228.2 L311.6,228.2 L312.1,228.3 L312.6,228.3 L313.1,228.3 L313.6,228.3 L314.1,228.3 L314.6,228.3 L315.1,228.3 L315.6,228.3 L316.1,228.3 L316.6,228.3 L317.1,228.3 L317.6,228.3 L318.1,228.3 L318.6,228.3 L319.1,228.3 L319.6,228.3 L320.1,228.3 L320.6,228.3 L321.1,228.3 L321.6,228.3 L322.1,228.3 L322.6,228.3 L323.1,228.3 L323.6,228.3 L324.1,228.3 L324.6,228.3 L325.1,228.3 L325.6,228.3 L326.1,228.3 L326.6,228.3 L327.1,228.3 L327.6,228.3 L328.1,228.3 L328.6,228.3 L329.1,228.3 L329.6,228.3 L330.1,228.3 L330.6,228.3 L331.1,228.3 L331.6,228.3 L332.1,228.3 L332.6,228.3 L333.1,228.3 L333.6,228.3 L334.1,228.3 L334.6,228.3 L335.1,228.3 L335.6,228.3 L336.1,228.3 L336.6,228.3 L337.1,228.3 L337.6,228.2 L338.1,228.2 L338.6,228.2 L339.1,228.2 L339.6,228.2 L340.1,228.2 L340.6,228.2 L341.1,228.2 L341.6,228.2 L342.1,228.2 L342.6,228.2 L343.1,228.2 L343.6,228.2 L344.1,228.2 L344.6,228.2 L345.1,228.2 L345.6,228.2 L346.1,228.2" fill="none" stroke="#9896dc" stroke-width="2"/>
<line x1="136.5" y1="55.5" x2="136.5" y2="258" stroke="#1a1a1a" stroke-width="1.1" stroke-dasharray="1.3 2.6"/>
</g>
<rect x="72.1" y="32.1" width="274.2" height="225.9" fill="none" stroke="#4a4a4a" stroke-width="1.3"/>
<text x="71.8" y="274.8" font-size="14.9" fill="#1a1a1a" text-anchor="middle" stroke="#1a1a1a" stroke-width="0.3">526</text>
<line x1="111" y1="258" x2="111" y2="254" stroke="#4a4a4a" stroke-width="1.1"/>
<text x="111" y="274.8" font-size="14.9" fill="#1a1a1a" text-anchor="middle" stroke="#1a1a1a" stroke-width="0.3">528</text>
<line x1="150.1" y1="258" x2="150.1" y2="254" stroke="#4a4a4a" stroke-width="1.1"/>
<text x="150.1" y="274.8" font-size="14.9" fill="#1a1a1a" text-anchor="middle" stroke="#1a1a1a" stroke-width="0.3">530</text>
<line x1="189.3" y1="258" x2="189.3" y2="254" stroke="#4a4a4a" stroke-width="1.1"/>
<text x="189.3" y="274.8" font-size="14.9" fill="#1a1a1a" text-anchor="middle" stroke="#1a1a1a" stroke-width="0.3">532</text>
<line x1="228.5" y1="258" x2="228.5" y2="254" stroke="#4a4a4a" stroke-width="1.1"/>
<text x="228.5" y="274.8" font-size="14.9" fill="#1a1a1a" text-anchor="middle" stroke="#1a1a1a" stroke-width="0.3">534</text>
<line x1="267.7" y1="258" x2="267.7" y2="254" stroke="#4a4a4a" stroke-width="1.1"/>
<text x="267.7" y="274.8" font-size="14.9" fill="#1a1a1a" text-anchor="middle" stroke="#1a1a1a" stroke-width="0.3">536</text>
<line x1="306.8" y1="258" x2="306.8" y2="254" stroke="#4a4a4a" stroke-width="1.1"/>
<text x="306.8" y="274.8" font-size="14.9" fill="#1a1a1a" text-anchor="middle" stroke="#1a1a1a" stroke-width="0.3">538</text>
<text x="346" y="274.8" font-size="14.9" fill="#1a1a1a" text-anchor="middle" stroke="#1a1a1a" stroke-width="0.3">540</text>
<text x="142" y="292.8" font-size="15.1" fill="#1a1a1a" stroke="#1a1a1a" stroke-width="0.3">Binding Energy (eV)</text>
<text transform="translate(60.4,148.9) rotate(-90)" font-size="15" fill="#1a1a1a" text-anchor="middle" stroke="#1a1a1a" stroke-width="0.3">Intensity (a.u.)</text>
<text x="77.5" y="49.6" font-size="15.1" fill="#1a1a1a" stroke="#1a1a1a" stroke-width="0.3">O 1s</text>
<text x="137.9" y="248.3" font-size="10.9" fill="#222" stroke="#222" stroke-width="0.3">529.3 eV</text>
<text x="341.5" y="250.5" font-size="15.1" fill="#1a1a1a" text-anchor="end" stroke="#1a1a1a" stroke-width="0.3">NiOx</text>
<text x="152.4" y="90.1" font-size="14.8" fill="#8db3e2" stroke="#8db3e2" stroke-width="0.3">Ni<tspan font-size="10" dy="-6">2+</tspan><tspan dy="6">(O</tspan><tspan font-size="10" dy="-6">2-</tspan><tspan dy="6">)</tspan></text>
<text x="194.8" y="165.8" font-size="14.8" fill="#1ec6c8" stroke="#1ec6c8" stroke-width="0.3">Ni<tspan font-size="10" dy="-6">3+</tspan><tspan dy="6">(O</tspan><tspan font-size="10" dy="-6">2-</tspan><tspan dy="6">;-OH)</tspan></text>
<g clip-path="url(#clipb)">
<path d="M415.8,238.8 L416.3,238.8 L416.8,238.8 L417.3,238.8 L417.8,238.8 L418.3,238.7 L418.8,238.7 L419.3,238.7 L419.8,238.7 L420.3,238.7 L420.8,238.7 L421.3,238.7 L421.8,238.7 L422.3,238.6 L422.8,238.6 L423.3,238.6 L423.8,238.6 L424.3,238.6 L424.8,238.6 L425.3,238.6 L425.8,238.6 L426.3,238.5 L426.8,238.5 L427.3,238.5 L427.8,238.5 L428.3,238.5 L428.8,238.5 L429.3,238.5 L429.8,238.4 L430.3,238.4 L430.8,238.4 L431.3,238.4 L431.8,238.4 L432.3,238.4 L432.8,238.4 L433.3,238.3 L433.8,238.3 L434.3,238.3 L434.8,238.3 L435.3,238.3 L435.8,238.3 L436.3,238.2 L436.8,238.2 L437.3,238.2 L437.8,238.2 L438.3,238.2 L438.8,238.1 L439.3,238.1 L439.8,238.1 L440.3,238.1 L440.8,238.1 L441.3,238 L441.8,238 L442.3,238 L442.8,238 L443.3,237.9 L443.8,237.9 L444.3,237.9 L444.8,237.9 L445.3,237.8 L445.8,237.8 L446.3,237.8 L446.8,237.8 L447.3,237.7 L447.8,237.7 L448.3,237.7 L448.8,237.6 L449.3,237.6 L449.8,237.6 L450.3,237.5 L450.8,237.5 L451.3,237.4 L451.8,237.4 L452.3,237.4 L452.8,237.3 L453.3,237.3 L453.8,237.2 L454.3,237.2 L454.8,237.1 L455.3,237.1 L455.8,237 L456.3,236.9 L456.8,236.9 L457.3,236.8 L457.8,236.7 L458.3,236.6 L458.8,236.5 L459.3,236.4 L459.8,236.3 L460.3,236.2 L460.8,236 L461.3,235.9 L461.8,235.7 L462.3,235.5 L462.8,235.3 L463.3,235.1 L463.8,234.8 L464.3,234.5 L464.8,234.2 L465.3,233.8 L465.8,233.4 L466.3,233 L466.8,232.5 L467.3,231.9 L467.8,231.2 L468.3,230.5 L468.8,229.7 L469.3,228.8 L469.8,227.8 L470.3,226.7 L470.8,225.4 L471.3,224.1 L471.8,222.6 L472.3,221 L472.8,219.2 L473.3,217.2 L473.8,215.1 L474.3,212.8 L474.8,210.3 L475.3,207.6 L475.8,204.7 L476.3,201.6 L476.8,198.3 L477.3,194.8 L477.8,191.1 L478.3,187.1 L478.8,183 L479.3,178.6 L479.8,174.1 L480.3,169.4 L480.8,164.5 L481.3,159.4 L481.8,154.2 L482.3,148.8 L482.8,143.4 L483.3,137.9 L483.8,132.3 L484.3,126.7 L484.8,121.1 L485.3,115.5 L485.8,110 L486.3,104.6 L486.8,99.4 L487.3,94.3 L487.8,89.4 L488.3,84.8 L488.8,80.4 L489.3,76.4 L489.8,72.7 L490.3,69.4 L490.8,66.4 L491.3,64.5 L491.8,64.5 L492.3,64.5 L492.8,64.5 L493.3,64.5 L493.8,64.8 L494.3,65.6 L494.8,66.9 L495.3,68.7 L495.8,70.9 L496.3,73.6 L496.8,76.7 L497.3,80.2 L497.8,84 L498.3,88.2 L498.8,92.6 L499.3,97.3 L499.8,102.2 L500.3,107.3 L500.8,112.4 L501.3,117.7 L501.8,123.1 L502.3,128.5 L502.8,133.8 L503.3,139.2 L503.8,144.5 L504.3,149.7 L504.8,154.8 L505.3,159.7 L505.8,164.6 L506.3,169.2 L506.8,173.7 L507.3,178 L507.8,182.1 L508.3,186 L508.8,189.7 L509.3,193.2 L509.8,196.5 L510.3,199.6 L510.8,202.4 L511.3,205.1 L511.8,207.6 L512.3,209.9 L512.8,212 L513.3,213.9 L513.8,215.6 L514.3,217.2 L514.8,218.7 L515.3,220 L515.8,221.2 L516.3,222.3 L516.8,223.2 L517.3,224.1 L517.8,224.8 L518.3,225.5 L518.8,226.1 L519.3,226.6 L519.8,227.1 L520.3,227.5 L520.8,227.8 L521.3,228.1 L521.8,228.4 L522.3,228.6 L522.8,228.8 L523.3,229 L523.8,229.1 L524.3,229.3 L524.8,229.4 L525.3,229.4 L525.8,229.5 L526.3,229.6 L526.8,229.6 L527.3,229.6 L527.8,229.7 L528.3,229.7 L528.8,229.7 L529.3,229.7 L529.8,229.7 L530.3,229.7 L530.8,229.7 L531.3,229.7 L531.8,229.7 L532.3,229.7 L532.8,229.7 L533.3,229.7 L533.8,229.7 L534.3,229.7 L534.8,229.7 L535.3,229.7 L535.8,229.6 L536.3,229.6 L536.8,229.6 L537.3,229.6 L537.8,229.6 L538.3,229.5 L538.8,229.5 L539.3,229.5 L539.8,229.5 L540.3,229.5 L540.8,229.4 L541.3,229.4 L541.8,229.4 L542.3,229.4 L542.8,229.4 L543.3,229.3 L543.8,229.3 L544.3,229.3 L544.8,229.3 L545.3,229.2 L545.8,229.2 L546.3,229.2 L546.8,229.2 L547.3,229.1 L547.8,229.1 L548.3,229.1 L548.8,229.1 L549.3,229 L549.8,229 L550.3,229 L550.8,229 L551.3,228.9 L551.8,228.9 L552.3,228.9 L552.8,228.9 L553.3,228.8 L553.8,228.8 L554.3,228.8 L554.8,228.8 L555.3,228.7 L555.8,228.7 L556.3,228.7 L556.8,228.7 L557.3,228.7 L557.8,228.6 L558.3,228.6 L558.8,228.6 L559.3,228.6 L559.8,228.6 L560.3,228.5 L560.8,228.5 L561.3,228.5 L561.8,228.5 L562.3,228.5 L562.8,228.5 L563.3,228.4 L563.8,228.4 L564.3,228.4 L564.8,228.4 L565.3,228.4 L565.8,228.4 L566.3,228.4 L566.8,228.4 L567.3,228.4 L567.8,228.3 L568.3,228.3 L568.8,228.3 L569.3,228.3 L569.8,228.3 L570.3,228.3 L570.8,228.3 L571.3,228.3 L571.8,228.3 L572.3,228.3 L572.8,228.3 L573.3,228.2 L573.8,228.2 L574.3,228.2 L574.8,228.2 L575.3,228.2 L575.8,228.2 L576.3,228.2 L576.8,228.2 L577.3,228.2 L577.8,228.2 L578.3,228.2 L578.8,228.2 L579.3,228.2 L579.8,228.2 L580.3,228.2 L580.8,228.1 L581.3,228.1 L581.3,228.4 L580.8,228.4 L580.3,228.4 L579.8,228.4 L579.3,228.4 L578.8,228.4 L578.3,228.5 L577.8,228.5 L577.3,228.5 L576.8,228.5 L576.3,228.5 L575.8,228.5 L575.3,228.5 L574.8,228.5 L574.3,228.5 L573.8,228.6 L573.3,228.6 L572.8,228.6 L572.3,228.6 L571.8,228.6 L571.3,228.6 L570.8,228.6 L570.3,228.6 L569.8,228.7 L569.3,228.7 L568.8,228.7 L568.3,228.7 L567.8,228.7 L567.3,228.7 L566.8,228.7 L566.3,228.8 L565.8,228.8 L565.3,228.8 L564.8,228.8 L564.3,228.8 L563.8,228.8 L563.3,228.9 L562.8,228.9 L562.3,228.9 L561.8,228.9 L561.3,228.9 L560.8,229 L560.3,229 L559.8,229 L559.3,229 L558.8,229.1 L558.3,229.1 L557.8,229.1 L557.3,229.2 L556.8,229.2 L556.3,229.2 L555.8,229.2 L555.3,229.3 L554.8,229.3 L554.3,229.3 L553.8,229.4 L553.3,229.4 L552.8,229.4 L552.3,229.5 L551.8,229.5 L551.3,229.5 L550.8,229.6 L550.3,229.6 L549.8,229.6 L549.3,229.7 L548.8,229.7 L548.3,229.7 L547.8,229.8 L547.3,229.8 L546.8,229.9 L546.3,229.9 L545.8,229.9 L545.3,230 L544.8,230 L544.3,230.1 L543.8,230.1 L543.3,230.1 L542.8,230.2 L542.3,230.2 L541.8,230.2 L541.3,230.3 L540.8,230.3 L540.3,230.4 L539.8,230.4 L539.3,230.4 L538.8,230.5 L538.3,230.5 L537.8,230.6 L537.3,230.6 L536.8,230.6 L536.3,230.7 L535.8,230.7 L535.3,230.8 L534.8,230.8 L534.3,230.8 L533.8,230.9 L533.3,230.9 L532.8,231 L532.3,231 L531.8,231.1 L531.3,231.1 L530.8,231.1 L530.3,231.2 L529.8,231.2 L529.3,231.3 L528.8,231.3 L528.3,231.4 L527.8,231.4 L527.3,231.5 L526.8,231.5 L526.3,231.6 L525.8,231.6 L525.3,231.7 L524.8,231.7 L524.3,231.8 L523.8,231.8 L523.3,231.9 L522.8,232 L522.3,232 L521.8,232.1 L521.3,232.1 L520.8,232.2 L520.3,232.3 L519.8,232.3 L519.3,232.4 L518.8,232.5 L518.3,232.5 L517.8,232.6 L517.3,232.7 L516.8,232.7 L516.3,232.8 L515.8,232.9 L515.3,233 L514.8,233.1 L514.3,233.1 L513.8,233.2 L513.3,233.3 L512.8,233.4 L512.3,233.5 L511.8,233.6 L511.3,233.6 L510.8,233.7 L510.3,233.8 L509.8,233.9 L509.3,234 L508.8,234.1 L508.3,234.2 L507.8,234.3 L507.3,234.3 L506.8,234.4 L506.3,234.5 L505.8,234.6 L505.3,234.7 L504.8,234.8 L504.3,234.9 L503.8,235 L503.3,235.1 L502.8,235.1 L502.3,235.2 L501.8,235.3 L501.3,235.4 L500.8,235.5 L500.3,235.6 L499.8,235.6 L499.3,235.7 L498.8,235.8 L498.3,235.9 L497.8,236 L497.3,236 L496.8,236.1 L496.3,236.2 L495.8,236.2 L495.3,236.3 L494.8,236.4 L494.3,236.4 L493.8,236.5 L493.3,236.6 L492.8,236.6 L492.3,236.7 L491.8,236.7 L491.3,236.8 L490.8,236.8 L490.3,236.9 L489.8,237 L489.3,237 L488.8,237.1 L488.3,237.1 L487.8,237.2 L487.3,237.2 L486.8,237.3 L486.3,237.3 L485.8,237.4 L485.3,237.4 L484.8,237.5 L484.3,237.5 L483.8,237.5 L483.3,237.6 L482.8,237.6 L482.3,237.7 L481.8,237.7 L481.3,237.8 L480.8,237.8 L480.3,237.8 L479.8,237.9 L479.3,237.9 L478.8,237.9 L478.3,238 L477.8,238 L477.3,238.1 L476.8,238.1 L476.3,238.1 L475.8,238.2 L475.3,238.2 L474.8,238.2 L474.3,238.2 L473.8,238.3 L473.3,238.3 L472.8,238.3 L472.3,238.4 L471.8,238.4 L471.3,238.4 L470.8,238.4 L470.3,238.5 L469.8,238.5 L469.3,238.5 L468.8,238.5 L468.3,238.6 L467.8,238.6 L467.3,238.6 L466.8,238.6 L466.3,238.7 L465.8,238.7 L465.3,238.7 L464.8,238.7 L464.3,238.7 L463.8,238.7 L463.3,238.8 L462.8,238.8 L462.3,238.8 L461.8,238.8 L461.3,238.8 L460.8,238.8 L460.3,238.9 L459.8,238.9 L459.3,238.9 L458.8,238.9 L458.3,238.9 L457.8,238.9 L457.3,238.9 L456.8,238.9 L456.3,239 L455.8,239 L455.3,239 L454.8,239 L454.3,239 L453.8,239 L453.3,239 L452.8,239 L452.3,239 L451.8,239 L451.3,239.1 L450.8,239.1 L450.3,239.1 L449.8,239.1 L449.3,239.1 L448.8,239.1 L448.3,239.1 L447.8,239.1 L447.3,239.1 L446.8,239.1 L446.3,239.1 L445.8,239.1 L445.3,239.1 L444.8,239.1 L444.3,239.1 L443.8,239.2 L443.3,239.2 L442.8,239.2 L442.3,239.2 L441.8,239.2 L441.3,239.2 L440.8,239.2 L440.3,239.2 L439.8,239.2 L439.3,239.2 L438.8,239.2 L438.3,239.2 L437.8,239.2 L437.3,239.2 L436.8,239.2 L436.3,239.2 L435.8,239.2 L435.3,239.2 L434.8,239.2 L434.3,239.2 L433.8,239.2 L433.3,239.2 L432.8,239.2 L432.3,239.2 L431.8,239.3 L431.3,239.3 L430.8,239.3 L430.3,239.3 L429.8,239.3 L429.3,239.3 L428.8,239.3 L428.3,239.3 L427.8,239.3 L427.3,239.3 L426.8,239.3 L426.3,239.3 L425.8,239.3 L425.3,239.3 L424.8,239.3 L424.3,239.3 L423.8,239.3 L423.3,239.3 L422.8,239.3 L422.3,239.3 L421.8,239.3 L421.3,239.3 L420.8,239.3 L420.3,239.3 L419.8,239.4 L419.3,239.4 L418.8,239.4 L418.3,239.4 L417.8,239.4 L417.3,239.4 L416.8,239.4 L416.3,239.4 L415.8,239.4 Z" fill="url(#gb_0)"/>
<path d="M439.8,239 L440.3,239 L440.8,238.9 L441.3,238.9 L441.8,238.9 L442.3,238.9 L442.8,238.9 L443.3,238.9 L443.8,238.9 L444.3,238.9 L444.8,238.9 L445.3,238.9 L445.8,238.9 L446.3,238.9 L446.8,238.8 L447.3,238.8 L447.8,238.8 L448.3,238.8 L448.8,238.8 L449.3,238.8 L449.8,238.8 L450.3,238.8 L450.8,238.8 L451.3,238.7 L451.8,238.7 L452.3,238.7 L452.8,238.7 L453.3,238.7 L453.8,238.7 L454.3,238.7 L454.8,238.7 L455.3,238.6 L455.8,238.6 L456.3,238.6 L456.8,238.6 L457.3,238.6 L457.8,238.6 L458.3,238.5 L458.8,238.5 L459.3,238.5 L459.8,238.5 L460.3,238.5 L460.8,238.4 L461.3,238.4 L461.8,238.4 L462.3,238.4 L462.8,238.4 L463.3,238.3 L463.8,238.3 L464.3,238.3 L464.8,238.3 L465.3,238.2 L465.8,238.2 L466.3,238.2 L466.8,238.2 L467.3,238.1 L467.8,238.1 L468.3,238.1 L468.8,238 L469.3,238 L469.8,238 L470.3,237.9 L470.8,237.9 L471.3,237.9 L471.8,237.8 L472.3,237.8 L472.8,237.7 L473.3,237.7 L473.8,237.7 L474.3,237.6 L474.8,237.6 L475.3,237.5 L475.8,237.5 L476.3,237.4 L476.8,237.4 L477.3,237.3 L477.8,237.2 L478.3,237.2 L478.8,237.1 L479.3,237 L479.8,237 L480.3,236.9 L480.8,236.8 L481.3,236.7 L481.8,236.6 L482.3,236.5 L482.8,236.4 L483.3,236.3 L483.8,236.2 L484.3,236.1 L484.8,235.9 L485.3,235.8 L485.8,235.6 L486.3,235.4 L486.8,235.3 L487.3,235.1 L487.8,234.9 L488.3,234.6 L488.8,234.4 L489.3,234.1 L489.8,233.8 L490.3,233.5 L490.8,233.2 L491.3,232.8 L491.8,232.5 L492.3,232.1 L492.8,231.6 L493.3,231.1 L493.8,230.6 L494.3,230.1 L494.8,229.5 L495.3,228.9 L495.8,228.2 L496.3,227.5 L496.8,226.7 L497.3,225.9 L497.8,225 L498.3,224.1 L498.8,223.1 L499.3,222 L499.8,220.9 L500.3,219.7 L500.8,218.5 L501.3,217.2 L501.8,215.8 L502.3,214.4 L502.8,212.8 L503.3,211.2 L503.8,209.5 L504.3,207.8 L504.8,206 L505.3,204.1 L505.8,202.1 L506.3,200 L506.8,197.9 L507.3,195.7 L507.8,193.4 L508.3,191.1 L508.8,188.6 L509.3,186.2 L509.8,183.6 L510.3,181 L510.8,178.4 L511.3,175.7 L511.8,172.9 L512.3,170.1 L512.8,167.3 L513.3,164.5 L513.8,161.6 L514.3,158.7 L514.8,155.8 L515.3,153 L515.8,150.1 L516.3,147.2 L516.8,144.4 L517.3,141.6 L517.8,138.9 L518.3,136.2 L518.8,133.5 L519.3,131 L519.8,128.5 L520.3,126.1 L520.8,123.8 L521.3,121.6 L521.8,119.6 L522.3,117.6 L522.8,115.8 L523.3,114.1 L523.8,112.6 L524.3,111.2 L524.8,110 L525.3,109 L525.8,108.1 L526.3,107.4 L526.8,106.8 L527.3,106.5 L527.8,106.3 L528.3,106.3 L528.8,106.5 L529.3,106.8 L529.8,107.3 L530.3,107.9 L530.8,108.7 L531.3,109.6 L531.8,110.7 L532.3,112 L532.8,113.3 L533.3,114.8 L533.8,116.4 L534.3,118.2 L534.8,120 L535.3,122 L535.8,124.1 L536.3,126.2 L536.8,128.5 L537.3,130.8 L537.8,133.1 L538.3,135.6 L538.8,138.1 L539.3,140.6 L539.8,143.2 L540.3,145.8 L540.8,148.4 L541.3,151.1 L541.8,153.7 L542.3,156.4 L542.8,159 L543.3,161.6 L543.8,164.2 L544.3,166.8 L544.8,169.4 L545.3,171.9 L545.8,174.4 L546.3,176.8 L546.8,179.2 L547.3,181.5 L547.8,183.8 L548.3,186 L548.8,188.2 L549.3,190.3 L549.8,192.3 L550.3,194.3 L550.8,196.2 L551.3,198 L551.8,199.8 L552.3,201.5 L552.8,203.1 L553.3,204.7 L553.8,206.1 L554.3,207.6 L554.8,208.9 L555.3,210.2 L555.8,211.4 L556.3,212.6 L556.8,213.7 L557.3,214.7 L557.8,215.7 L558.3,216.6 L558.8,217.5 L559.3,218.3 L559.8,219 L560.3,219.8 L560.8,220.4 L561.3,221 L561.8,221.6 L562.3,222.2 L562.8,222.7 L563.3,223.1 L563.8,223.6 L564.3,224 L564.8,224.3 L565.3,224.7 L565.8,225 L566.3,225.3 L566.8,225.6 L567.3,225.8 L567.8,226 L568.3,226.2 L568.8,226.4 L569.3,226.6 L569.8,226.7 L570.3,226.9 L570.8,227 L571.3,227.1 L571.8,227.2 L572.3,227.3 L572.8,227.4 L573.3,227.5 L573.8,227.5 L574.3,227.6 L574.8,227.7 L575.3,227.7 L575.8,227.8 L576.3,227.8 L576.8,227.8 L577.3,227.9 L577.8,227.9 L578.3,227.9 L578.8,227.9 L579.3,227.9 L579.8,228 L580.3,228 L580.8,228 L581.3,228 L581.8,228 L582.3,228 L582.8,228 L583.3,228 L583.8,228 L584.3,228 L584.8,228 L585.3,228 L585.8,228 L586.3,228 L586.8,228 L587.3,228 L587.8,228 L588.3,228 L588.8,228 L589.3,228 L589.8,228 L590.3,228 L590.8,228 L591.3,228 L591.8,228 L592.3,228 L592.8,228 L593.3,228 L593.8,228 L594.3,228 L594.8,228 L595.3,228 L595.8,228 L596.3,228 L596.8,228 L597.3,228 L597.8,228 L598.3,228 L598.8,228 L599.3,228 L599.8,228 L600.3,228 L600.8,228 L601.3,228 L601.8,228 L602.3,228 L602.8,228 L603.3,228 L603.8,228 L604.3,228 L604.8,228 L605.3,228 L605.8,228 L606.3,228 L606.8,228 L607.3,228 L607.8,228 L608.3,228 L608.8,228 L609.3,228 L609.8,228 L610.3,228 L610.8,228 L611.3,228 L611.8,228 L612.3,228 L612.8,228 L613.3,228 L613.8,228 L614.3,228 L614.8,228 L615.3,228 L615.8,228 L616.3,228 L616.3,228.1 L615.8,228.1 L615.3,228.1 L614.8,228.1 L614.3,228.1 L613.8,228.1 L613.3,228.1 L612.8,228.1 L612.3,228.1 L611.8,228.1 L611.3,228.1 L610.8,228.1 L610.3,228.1 L609.8,228.1 L609.3,228.1 L608.8,228.2 L608.3,228.2 L607.8,228.2 L607.3,228.2 L606.8,228.2 L606.3,228.2 L605.8,228.2 L605.3,228.2 L604.8,228.2 L604.3,228.2 L603.8,228.2 L603.3,228.2 L602.8,228.2 L602.3,228.2 L601.8,228.2 L601.3,228.2 L600.8,228.2 L600.3,228.2 L599.8,228.2 L599.3,228.2 L598.8,228.2 L598.3,228.2 L597.8,228.2 L597.3,228.2 L596.8,228.2 L596.3,228.2 L595.8,228.2 L595.3,228.2 L594.8,228.2 L594.3,228.2 L593.8,228.2 L593.3,228.3 L592.8,228.3 L592.3,228.3 L591.8,228.3 L591.3,228.3 L590.8,228.3 L590.3,228.3 L589.8,228.3 L589.3,228.3 L588.8,228.3 L588.3,228.3 L587.8,228.3 L587.3,228.3 L586.8,228.3 L586.3,228.3 L585.8,228.3 L585.3,228.3 L584.8,228.3 L584.3,228.4 L583.8,228.4 L583.3,228.4 L582.8,228.4 L582.3,228.4 L581.8,228.4 L581.3,228.4 L580.8,228.4 L580.3,228.4 L579.8,228.4 L579.3,228.4 L578.8,228.4 L578.3,228.5 L577.8,228.5 L577.3,228.5 L576.8,228.5 L576.3,228.5 L575.8,228.5 L575.3,228.5 L574.8,228.5 L574.3,228.5 L573.8,228.6 L573.3,228.6 L572.8,228.6 L572.3,228.6 L571.8,228.6 L571.3,228.6 L570.8,228.6 L570.3,228.6 L569.8,228.7 L569.3,228.7 L568.8,228.7 L568.3,228.7 L567.8,228.7 L567.3,228.7 L566.8,228.7 L566.3,228.8 L565.8,228.8 L565.3,228.8 L564.8,228.8 L564.3,228.8 L563.8,228.8 L563.3,228.9 L562.8,228.9 L562.3,228.9 L561.8,228.9 L561.3,228.9 L560.8,229 L560.3,229 L559.8,229 L559.3,229 L558.8,229.1 L558.3,229.1 L557.8,229.1 L557.3,229.2 L556.8,229.2 L556.3,229.2 L555.8,229.2 L555.3,229.3 L554.8,229.3 L554.3,229.3 L553.8,229.4 L553.3,229.4 L552.8,229.4 L552.3,229.5 L551.8,229.5 L551.3,229.5 L550.8,229.6 L550.3,229.6 L549.8,229.6 L549.3,229.7 L548.8,229.7 L548.3,229.7 L547.8,229.8 L547.3,229.8 L546.8,229.9 L546.3,229.9 L545.8,229.9 L545.3,230 L544.8,230 L544.3,230.1 L543.8,230.1 L543.3,230.1 L542.8,230.2 L542.3,230.2 L541.8,230.2 L541.3,230.3 L540.8,230.3 L540.3,230.4 L539.8,230.4 L539.3,230.4 L538.8,230.5 L538.3,230.5 L537.8,230.6 L537.3,230.6 L536.8,230.6 L536.3,230.7 L535.8,230.7 L535.3,230.8 L534.8,230.8 L534.3,230.8 L533.8,230.9 L533.3,230.9 L532.8,231 L532.3,231 L531.8,231.1 L531.3,231.1 L530.8,231.1 L530.3,231.2 L529.8,231.2 L529.3,231.3 L528.8,231.3 L528.3,231.4 L527.8,231.4 L527.3,231.5 L526.8,231.5 L526.3,231.6 L525.8,231.6 L525.3,231.7 L524.8,231.7 L524.3,231.8 L523.8,231.8 L523.3,231.9 L522.8,232 L522.3,232 L521.8,232.1 L521.3,232.1 L520.8,232.2 L520.3,232.3 L519.8,232.3 L519.3,232.4 L518.8,232.5 L518.3,232.5 L517.8,232.6 L517.3,232.7 L516.8,232.7 L516.3,232.8 L515.8,232.9 L515.3,233 L514.8,233.1 L514.3,233.1 L513.8,233.2 L513.3,233.3 L512.8,233.4 L512.3,233.5 L511.8,233.6 L511.3,233.6 L510.8,233.7 L510.3,233.8 L509.8,233.9 L509.3,234 L508.8,234.1 L508.3,234.2 L507.8,234.3 L507.3,234.3 L506.8,234.4 L506.3,234.5 L505.8,234.6 L505.3,234.7 L504.8,234.8 L504.3,234.9 L503.8,235 L503.3,235.1 L502.8,235.1 L502.3,235.2 L501.8,235.3 L501.3,235.4 L500.8,235.5 L500.3,235.6 L499.8,235.6 L499.3,235.7 L498.8,235.8 L498.3,235.9 L497.8,236 L497.3,236 L496.8,236.1 L496.3,236.2 L495.8,236.2 L495.3,236.3 L494.8,236.4 L494.3,236.4 L493.8,236.5 L493.3,236.6 L492.8,236.6 L492.3,236.7 L491.8,236.7 L491.3,236.8 L490.8,236.8 L490.3,236.9 L489.8,237 L489.3,237 L488.8,237.1 L488.3,237.1 L487.8,237.2 L487.3,237.2 L486.8,237.3 L486.3,237.3 L485.8,237.4 L485.3,237.4 L484.8,237.5 L484.3,237.5 L483.8,237.5 L483.3,237.6 L482.8,237.6 L482.3,237.7 L481.8,237.7 L481.3,237.8 L480.8,237.8 L480.3,237.8 L479.8,237.9 L479.3,237.9 L478.8,237.9 L478.3,238 L477.8,238 L477.3,238.1 L476.8,238.1 L476.3,238.1 L475.8,238.2 L475.3,238.2 L474.8,238.2 L474.3,238.2 L473.8,238.3 L473.3,238.3 L472.8,238.3 L472.3,238.4 L471.8,238.4 L471.3,238.4 L470.8,238.4 L470.3,238.5 L469.8,238.5 L469.3,238.5 L468.8,238.5 L468.3,238.6 L467.8,238.6 L467.3,238.6 L466.8,238.6 L466.3,238.7 L465.8,238.7 L465.3,238.7 L464.8,238.7 L464.3,238.7 L463.8,238.7 L463.3,238.8 L462.8,238.8 L462.3,238.8 L461.8,238.8 L461.3,238.8 L460.8,238.8 L460.3,238.9 L459.8,238.9 L459.3,238.9 L458.8,238.9 L458.3,238.9 L457.8,238.9 L457.3,238.9 L456.8,238.9 L456.3,239 L455.8,239 L455.3,239 L454.8,239 L454.3,239 L453.8,239 L453.3,239 L452.8,239 L452.3,239 L451.8,239 L451.3,239.1 L450.8,239.1 L450.3,239.1 L449.8,239.1 L449.3,239.1 L448.8,239.1 L448.3,239.1 L447.8,239.1 L447.3,239.1 L446.8,239.1 L446.3,239.1 L445.8,239.1 L445.3,239.1 L444.8,239.1 L444.3,239.1 L443.8,239.2 L443.3,239.2 L442.8,239.2 L442.3,239.2 L441.8,239.2 L441.3,239.2 L440.8,239.2 L440.3,239.2 L439.8,239.2 Z" fill="url(#gb_1)"/>
<path d="M467.3,238.4 L467.8,238.3 L468.3,238.3 L468.8,238.3 L469.3,238.2 L469.8,238.2 L470.3,238.2 L470.8,238.2 L471.3,238.1 L471.8,238.1 L472.3,238.1 L472.8,238 L473.3,238 L473.8,238 L474.3,237.9 L474.8,237.9 L475.3,237.9 L475.8,237.8 L476.3,237.8 L476.8,237.8 L477.3,237.7 L477.8,237.7 L478.3,237.6 L478.8,237.6 L479.3,237.6 L479.8,237.5 L480.3,237.5 L480.8,237.4 L481.3,237.4 L481.8,237.3 L482.3,237.3 L482.8,237.3 L483.3,237.2 L483.8,237.2 L484.3,237.1 L484.8,237.1 L485.3,237 L485.8,237 L486.3,236.9 L486.8,236.8 L487.3,236.8 L487.8,236.7 L488.3,236.7 L488.8,236.6 L489.3,236.6 L489.8,236.5 L490.3,236.4 L490.8,236.4 L491.3,236.3 L491.8,236.3 L492.3,236.2 L492.8,236.1 L493.3,236.1 L493.8,236 L494.3,235.9 L494.8,235.8 L495.3,235.8 L495.8,235.7 L496.3,235.6 L496.8,235.5 L497.3,235.5 L497.8,235.4 L498.3,235.3 L498.8,235.2 L499.3,235.1 L499.8,235 L500.3,234.9 L500.8,234.8 L501.3,234.7 L501.8,234.6 L502.3,234.5 L502.8,234.4 L503.3,234.3 L503.8,234.2 L504.3,234.1 L504.8,234 L505.3,233.9 L505.8,233.8 L506.3,233.7 L506.8,233.6 L507.3,233.5 L507.8,233.4 L508.3,233.3 L508.8,233.2 L509.3,233 L509.8,232.9 L510.3,232.8 L510.8,232.7 L511.3,232.6 L511.8,232.5 L512.3,232.3 L512.8,232.2 L513.3,232.1 L513.8,232 L514.3,231.8 L514.8,231.7 L515.3,231.6 L515.8,231.4 L516.3,231.3 L516.8,231.2 L517.3,231 L517.8,230.9 L518.3,230.7 L518.8,230.5 L519.3,230.4 L519.8,230.2 L520.3,230 L520.8,229.9 L521.3,229.7 L521.8,229.5 L522.3,229.3 L522.8,229.1 L523.3,228.9 L523.8,228.6 L524.3,228.4 L524.8,228.2 L525.3,227.9 L525.8,227.6 L526.3,227.3 L526.8,227 L527.3,226.7 L527.8,226.4 L528.3,226.1 L528.8,225.7 L529.3,225.3 L529.8,225 L530.3,224.6 L530.8,224.1 L531.3,223.7 L531.8,223.3 L532.3,222.8 L532.8,222.3 L533.3,221.8 L533.8,221.3 L534.3,220.7 L534.8,220.2 L535.3,219.6 L535.8,219 L536.3,218.4 L536.8,217.8 L537.3,217.2 L537.8,216.5 L538.3,215.9 L538.8,215.2 L539.3,214.5 L539.8,213.8 L540.3,213.1 L540.8,212.4 L541.3,211.6 L541.8,210.9 L542.3,210.2 L542.8,209.4 L543.3,208.7 L543.8,207.9 L544.3,207.2 L544.8,206.5 L545.3,205.7 L545.8,205 L546.3,204.3 L546.8,203.6 L547.3,202.9 L547.8,202.3 L548.3,201.7 L548.8,201 L549.3,200.5 L549.8,199.9 L550.3,199.4 L550.8,198.9 L551.3,198.5 L551.8,198 L552.3,197.7 L552.8,197.3 L553.3,197.1 L553.8,196.8 L554.3,196.6 L554.8,196.5 L555.3,196.4 L555.8,196.4 L556.3,196.4 L556.8,196.5 L557.3,196.5 L557.8,196.7 L558.3,196.9 L558.8,197.1 L559.3,197.3 L559.8,197.6 L560.3,198 L560.8,198.3 L561.3,198.7 L561.8,199.1 L562.3,199.6 L562.8,200.1 L563.3,200.6 L563.8,201.1 L564.3,201.6 L564.8,202.2 L565.3,202.8 L565.8,203.4 L566.3,204 L566.8,204.6 L567.3,205.2 L567.8,205.8 L568.3,206.5 L568.8,207.1 L569.3,207.8 L569.8,208.4 L570.3,209 L570.8,209.7 L571.3,210.3 L571.8,210.9 L572.3,211.5 L572.8,212.1 L573.3,212.7 L573.8,213.3 L574.3,213.9 L574.8,214.5 L575.3,215 L575.8,215.6 L576.3,216.1 L576.8,216.6 L577.3,217.1 L577.8,217.6 L578.3,218.1 L578.8,218.5 L579.3,219 L579.8,219.4 L580.3,219.8 L580.8,220.2 L581.3,220.6 L581.8,221 L582.3,221.3 L582.8,221.7 L583.3,222 L583.8,222.3 L584.3,222.6 L584.8,222.9 L585.3,223.1 L585.8,223.4 L586.3,223.6 L586.8,223.9 L587.3,224.1 L587.8,224.3 L588.3,224.5 L588.8,224.7 L589.3,224.9 L589.8,225 L590.3,225.2 L590.8,225.3 L591.3,225.5 L591.8,225.6 L592.3,225.7 L592.8,225.8 L593.3,225.9 L593.8,226 L594.3,226.1 L594.8,226.2 L595.3,226.3 L595.8,226.4 L596.3,226.5 L596.8,226.5 L597.3,226.6 L597.8,226.7 L598.3,226.7 L598.8,226.8 L599.3,226.8 L599.8,226.9 L600.3,226.9 L600.8,226.9 L601.3,227 L601.8,227 L602.3,227.1 L602.8,227.1 L603.3,227.1 L603.8,227.1 L604.3,227.2 L604.8,227.2 L605.3,227.2 L605.8,227.2 L606.3,227.3 L606.8,227.3 L607.3,227.3 L607.8,227.3 L608.3,227.3 L608.8,227.3 L609.3,227.4 L609.8,227.4 L610.3,227.4 L610.8,227.4 L611.3,227.4 L611.8,227.4 L612.3,227.4 L612.8,227.4 L613.3,227.4 L613.8,227.5 L614.3,227.5 L614.8,227.5 L615.3,227.5 L615.8,227.5 L616.3,227.5 L616.8,227.5 L617.3,227.5 L617.8,227.5 L618.3,227.5 L618.8,227.5 L619.3,227.5 L619.8,227.6 L620.3,227.6 L620.8,227.6 L621.3,227.6 L621.8,227.6 L622.3,227.6 L622.8,227.6 L623.3,227.6 L623.8,227.6 L624.3,227.6 L624.8,227.6 L625.3,227.6 L625.8,227.6 L626.3,227.6 L626.8,227.6 L627.3,227.6 L627.8,227.6 L628.3,227.6 L628.8,227.7 L629.3,227.7 L629.8,227.7 L630.3,227.7 L630.8,227.7 L631.3,227.7 L631.8,227.7 L632.3,227.7 L632.8,227.7 L633.3,227.7 L633.8,227.7 L634.3,227.7 L634.8,227.7 L635.3,227.7 L635.8,227.7 L636.3,227.7 L636.8,227.7 L637.3,227.7 L637.8,227.7 L638.3,227.7 L638.8,227.7 L639.3,227.7 L639.8,227.7 L640.3,227.7 L640.8,227.7 L641.3,227.7 L641.8,227.7 L642.3,227.7 L642.8,227.7 L643.3,227.8 L643.8,227.8 L643.8,228.1 L643.3,228.1 L642.8,228.1 L642.3,228.1 L641.8,228.1 L641.3,228.1 L640.8,228.1 L640.3,228.1 L639.8,228.1 L639.3,228.1 L638.8,228.1 L638.3,228.1 L637.8,228.1 L637.3,228.1 L636.8,228.1 L636.3,228.1 L635.8,228.1 L635.3,228.1 L634.8,228.1 L634.3,228.1 L633.8,228.1 L633.3,228.1 L632.8,228.1 L632.3,228.1 L631.8,228.1 L631.3,228.1 L630.8,228.1 L630.3,228.1 L629.8,228.1 L629.3,228.1 L628.8,228.1 L628.3,228.1 L627.8,228.1 L627.3,228.1 L626.8,228.1 L626.3,228.1 L625.8,228.1 L625.3,228.1 L624.8,228.1 L624.3,228.1 L623.8,228.1 L623.3,228.1 L622.8,228.1 L622.3,228.1 L621.8,228.1 L621.3,228.1 L620.8,228.1 L620.3,228.1 L619.8,228.1 L619.3,228.1 L618.8,228.1 L618.3,228.1 L617.8,228.1 L617.3,228.1 L616.8,228.1 L616.3,228.1 L615.8,228.1 L615.3,228.1 L614.8,228.1 L614.3,228.1 L613.8,228.1 L613.3,228.1 L612.8,228.1 L612.3,228.1 L611.8,228.1 L611.3,228.1 L610.8,228.1 L610.3,228.1 L609.8,228.1 L609.3,228.1 L608.8,228.2 L608.3,228.2 L607.8,228.2 L607.3,228.2 L606.8,228.2 L606.3,228.2 L605.8,228.2 L605.3,228.2 L604.8,228.2 L604.3,228.2 L603.8,228.2 L603.3,228.2 L602.8,228.2 L602.3,228.2 L601.8,228.2 L601.3,228.2 L600.8,228.2 L600.3,228.2 L599.8,228.2 L599.3,228.2 L598.8,228.2 L598.3,228.2 L597.8,228.2 L597.3,228.2 L596.8,228.2 L596.3,228.2 L595.8,228.2 L595.3,228.2 L594.8,228.2 L594.3,228.2 L593.8,228.2 L593.3,228.3 L592.8,228.3 L592.3,228.3 L591.8,228.3 L591.3,228.3 L590.8,228.3 L590.3,228.3 L589.8,228.3 L589.3,228.3 L588.8,228.3 L588.3,228.3 L587.8,228.3 L587.3,228.3 L586.8,228.3 L586.3,228.3 L585.8,228.3 L585.3,228.3 L584.8,228.3 L584.3,228.4 L583.8,228.4 L583.3,228.4 L582.8,228.4 L582.3,228.4 L581.8,228.4 L581.3,228.4 L580.8,228.4 L580.3,228.4 L579.8,228.4 L579.3,228.4 L578.8,228.4 L578.3,228.5 L577.8,228.5 L577.3,228.5 L576.8,228.5 L576.3,228.5 L575.8,228.5 L575.3,228.5 L574.8,228.5 L574.3,228.5 L573.8,228.6 L573.3,228.6 L572.8,228.6 L572.3,228.6 L571.8,228.6 L571.3,228.6 L570.8,228.6 L570.3,228.6 L569.8,228.7 L569.3,228.7 L568.8,228.7 L568.3,228.7 L567.8,228.7 L567.3,228.7 L566.8,228.7 L566.3,228.8 L565.8,228.8 L565.3,228.8 L564.8,228.8 L564.3,228.8 L563.8,228.8 L563.3,228.9 L562.8,228.9 L562.3,228.9 L561.8,228.9 L561.3,228.9 L560.8,229 L560.3,229 L559.8,229 L559.3,229 L558.8,229.1 L558.3,229.1 L557.8,229.1 L557.3,229.2 L556.8,229.2 L556.3,229.2 L555.8,229.2 L555.3,229.3 L554.8,229.3 L554.3,229.3 L553.8,229.4 L553.3,229.4 L552.8,229.4 L552.3,229.5 L551.8,229.5 L551.3,229.5 L550.8,229.6 L550.3,229.6 L549.8,229.6 L549.3,229.7 L548.8,229.7 L548.3,229.7 L547.8,229.8 L547.3,229.8 L546.8,229.9 L546.3,229.9 L545.8,229.9 L545.3,230 L544.8,230 L544.3,230.1 L543.8,230.1 L543.3,230.1 L542.8,230.2 L542.3,230.2 L541.8,230.2 L541.3,230.3 L540.8,230.3 L540.3,230.4 L539.8,230.4 L539.3,230.4 L538.8,230.5 L538.3,230.5 L537.8,230.6 L537.3,230.6 L536.8,230.6 L536.3,230.7 L535.8,230.7 L535.3,230.8 L534.8,230.8 L534.3,230.8 L533.8,230.9 L533.3,230.9 L532.8,231 L532.3,231 L531.8,231.1 L531.3,231.1 L530.8,231.1 L530.3,231.2 L529.8,231.2 L529.3,231.3 L528.8,231.3 L528.3,231.4 L527.8,231.4 L527.3,231.5 L526.8,231.5 L526.3,231.6 L525.8,231.6 L525.3,231.7 L524.8,231.7 L524.3,231.8 L523.8,231.8 L523.3,231.9 L522.8,232 L522.3,232 L521.8,232.1 L521.3,232.1 L520.8,232.2 L520.3,232.3 L519.8,232.3 L519.3,232.4 L518.8,232.5 L518.3,232.5 L517.8,232.6 L517.3,232.7 L516.8,232.7 L516.3,232.8 L515.8,232.9 L515.3,233 L514.8,233.1 L514.3,233.1 L513.8,233.2 L513.3,233.3 L512.8,233.4 L512.3,233.5 L511.8,233.6 L511.3,233.6 L510.8,233.7 L510.3,233.8 L509.8,233.9 L509.3,234 L508.8,234.1 L508.3,234.2 L507.8,234.3 L507.3,234.3 L506.8,234.4 L506.3,234.5 L505.8,234.6 L505.3,234.7 L504.8,234.8 L504.3,234.9 L503.8,235 L503.3,235.1 L502.8,235.1 L502.3,235.2 L501.8,235.3 L501.3,235.4 L500.8,235.5 L500.3,235.6 L499.8,235.6 L499.3,235.7 L498.8,235.8 L498.3,235.9 L497.8,236 L497.3,236 L496.8,236.1 L496.3,236.2 L495.8,236.2 L495.3,236.3 L494.8,236.4 L494.3,236.4 L493.8,236.5 L493.3,236.6 L492.8,236.6 L492.3,236.7 L491.8,236.7 L491.3,236.8 L490.8,236.8 L490.3,236.9 L489.8,237 L489.3,237 L488.8,237.1 L488.3,237.1 L487.8,237.2 L487.3,237.2 L486.8,237.3 L486.3,237.3 L485.8,237.4 L485.3,237.4 L484.8,237.5 L484.3,237.5 L483.8,237.5 L483.3,237.6 L482.8,237.6 L482.3,237.7 L481.8,237.7 L481.3,237.8 L480.8,237.8 L480.3,237.8 L479.8,237.9 L479.3,237.9 L478.8,237.9 L478.3,238 L477.8,238 L477.3,238.1 L476.8,238.1 L476.3,238.1 L475.8,238.2 L475.3,238.2 L474.8,238.2 L474.3,238.2 L473.8,238.3 L473.3,238.3 L472.8,238.3 L472.3,238.4 L471.8,238.4 L471.3,238.4 L470.8,238.4 L470.3,238.5 L469.8,238.5 L469.3,238.5 L468.8,238.5 L468.3,238.6 L467.8,238.6 L467.3,238.6 Z" fill="url(#gb_2)"/>
<path d="M493.3,64.5 L493.8,64.8 L494.3,65.6 L494.8,66.9 L495.3,68.7 L495.8,70.9 L496.3,73.6 L496.8,76.7 L497.3,80.2 L497.8,84 L498.3,88.2 L498.8,92.6 L499.3,97.3 L499.8,102.2 L500.3,107.3 L500.8,112.4 L501.3,117.7 L501.8,123.1 L502.3,128.5 L502.8,133.8 L503.3,139.2 L503.8,144.5 L504.3,149.7 L504.8,154.8 L505.3,159.7 L505.8,164.6 L506.3,169.2 L506.8,173.7 L507.3,178 L507.8,182.1 L508.3,186 L508.8,189.7 L509.3,193.2 L509.8,196.5 L510.3,199.6 L510.8,202.4 L511.3,205.1 L511.8,207.6 L512.3,209.9 L512.8,212 L513.3,213.9 L513.8,215.6 L514.3,217.2 L514.8,218.7 L515.3,220 L515.8,221.2 L516.3,222.3 L516.8,223.2 L517.3,224.1 L517.8,224.8 L518.3,225.5 L518.8,226.1 L519.3,226.6 L519.8,227.1 L520.3,227.5 L520.8,227.8 L521.3,228.1 L521.8,228.4 L522.3,228.6 L522.8,228.8 L523.3,229 L523.8,229.1 L524.3,229.3 L524.8,229.4 L525.3,229.4 L525.8,229.5 L526.3,229.6 L526.8,229.6 L527.3,229.6 L527.8,229.7 L528.3,229.7 L528.8,229.7 L529.3,229.7 L529.8,229.7 L530.3,229.7 L530.8,229.7 L531.3,229.7 L531.8,229.7 L532.3,229.7 L532.8,229.7 L533.3,229.7 L533.8,229.7 L534.3,229.7 L534.8,229.7 L535.3,229.7 L535.8,229.6 L536.3,229.6 L536.8,229.6 L537.3,229.6 L537.8,229.6 L538.3,229.5 L538.8,229.5 L539.3,229.5 L539.8,229.5 L540.3,229.5 L540.8,229.4 L541.3,229.4 L541.8,229.4 L542.3,229.4 L542.8,229.4 L543.3,229.3 L543.8,229.3 L544.3,229.3 L544.8,229.3 L545.3,229.2 L545.8,229.2 L546.3,229.2 L546.8,229.2 L547.3,229.1 L547.8,229.1 L548.3,229.1 L548.8,229.1 L549.3,229 L549.8,229 L550.3,229 L550.8,229 L551.3,228.9 L551.8,228.9 L552.3,228.9 L552.8,228.9 L553.3,228.8 L553.8,228.8 L554.3,228.8 L554.8,228.8 L555.3,228.7 L555.8,228.7 L556.3,228.7 L556.8,228.7 L557.3,228.7 L557.8,228.6 L558.3,228.6 L558.8,228.6 L559.3,228.6 L559.8,228.6 L560.3,228.5 L560.8,228.5 L561.3,228.5 L561.8,228.5 L562.3,228.5 L562.8,228.5 L563.3,228.4 L563.8,228.4 L564.3,228.4 L564.8,228.4 L565.3,228.4 L565.8,228.4 L566.3,228.4 L566.8,228.4 L567.3,228.4 L567.8,228.3 L568.3,228.3 L568.8,228.3 L569.3,228.3 L569.8,228.3 L570.3,228.3 L570.8,228.3 L571.3,228.3 L571.8,228.3 L572.3,228.3 L572.8,228.3 L573.3,228.2 L573.8,228.2 L574.3,228.2 L574.8,228.2 L575.3,228.2 L575.8,228.2 L576.3,228.2 L576.8,228.2 L577.3,228.2 L577.8,228.2 L578.3,228.2 L578.8,228.2 L579.3,228.2 L579.8,228.2 L580.3,228.2 L580.8,228.1 L581.3,228.1" fill="none" stroke="#7fb0e2" stroke-width="1"/>
<path d="M439.8,239 L440.3,239 L440.8,238.9 L441.3,238.9 L441.8,238.9 L442.3,238.9 L442.8,238.9 L443.3,238.9 L443.8,238.9 L444.3,238.9 L444.8,238.9 L445.3,238.9 L445.8,238.9 L446.3,238.9 L446.8,238.8 L447.3,238.8 L447.8,238.8 L448.3,238.8 L448.8,238.8 L449.3,238.8 L449.8,238.8 L450.3,238.8 L450.8,238.8 L451.3,238.7 L451.8,238.7 L452.3,238.7 L452.8,238.7 L453.3,238.7 L453.8,238.7 L454.3,238.7 L454.8,238.7 L455.3,238.6 L455.8,238.6 L456.3,238.6 L456.8,238.6 L457.3,238.6 L457.8,238.6 L458.3,238.5 L458.8,238.5 L459.3,238.5 L459.8,238.5 L460.3,238.5 L460.8,238.4 L461.3,238.4 L461.8,238.4 L462.3,238.4 L462.8,238.4 L463.3,238.3 L463.8,238.3 L464.3,238.3 L464.8,238.3 L465.3,238.2 L465.8,238.2 L466.3,238.2 L466.8,238.2 L467.3,238.1 L467.8,238.1 L468.3,238.1 L468.8,238 L469.3,238 L469.8,238 L470.3,237.9 L470.8,237.9 L471.3,237.9 L471.8,237.8 L472.3,237.8 L472.8,237.7 L473.3,237.7 L473.8,237.7 L474.3,237.6 L474.8,237.6 L475.3,237.5 L475.8,237.5 L476.3,237.4 L476.8,237.4 L477.3,237.3 L477.8,237.2 L478.3,237.2 L478.8,237.1 L479.3,237 L479.8,237 L480.3,236.9 L480.8,236.8 L481.3,236.7 L481.8,236.6 L482.3,236.5 L482.8,236.4 L483.3,236.3 L483.8,236.2 L484.3,236.1 L484.8,235.9 L485.3,235.8 L485.8,235.6 L486.3,235.4 L486.8,235.3 L487.3,235.1 L487.8,234.9 L488.3,234.6 L488.8,234.4 L489.3,234.1 L489.8,233.8 L490.3,233.5 L490.8,233.2 L491.3,232.8 L491.8,232.5 L492.3,232.1 L492.8,231.6 L493.3,231.1 L493.8,230.6 L494.3,230.1 L494.8,229.5 L495.3,228.9 L495.8,228.2 L496.3,227.5 L496.8,226.7 L497.3,225.9 L497.8,225 L498.3,224.1 L498.8,223.1 L499.3,222 L499.8,220.9 L500.3,219.7 L500.8,218.5 L501.3,217.2 L501.8,215.8 L502.3,214.4 L502.8,212.8 L503.3,211.2 L503.8,209.5 L504.3,207.8 L504.8,206 L505.3,204.1 L505.8,202.1 L506.3,200 L506.8,197.9 L507.3,195.7 L507.8,193.4 L508.3,191.1 L508.8,188.6 L509.3,186.2 L509.8,183.6 L510.3,181 L510.8,178.4 L511.3,175.7 L511.8,172.9 L512.3,170.1 L512.8,167.3 L513.3,164.5 L513.8,161.6 L514.3,158.7 L514.8,155.8 L515.3,153 L515.8,150.1 L516.3,147.2 L516.8,144.4 L517.3,141.6 L517.8,138.9 L518.3,136.2 L518.8,133.5 L519.3,131 L519.8,128.5 L520.3,126.1 L520.8,123.8 L521.3,121.6 L521.8,119.6 L522.3,117.6 L522.8,115.8 L523.3,114.1 L523.8,112.6 L524.3,111.2 L524.8,110 L525.3,109 L525.8,108.1 L526.3,107.4 L526.8,106.8 L527.3,106.5 L527.8,106.3 L528.3,106.3 L528.8,106.5 L529.3,106.8 L529.8,107.3 L530.3,107.9 L530.8,108.7 L531.3,109.6 L531.8,110.7 L532.3,112 L532.8,113.3 L533.3,114.8 L533.8,116.4 L534.3,118.2 L534.8,120 L535.3,122 L535.8,124.1 L536.3,126.2 L536.8,128.5 L537.3,130.8 L537.8,133.1 L538.3,135.6 L538.8,138.1 L539.3,140.6 L539.8,143.2 L540.3,145.8 L540.8,148.4 L541.3,151.1 L541.8,153.7 L542.3,156.4 L542.8,159 L543.3,161.6 L543.8,164.2 L544.3,166.8 L544.8,169.4 L545.3,171.9 L545.8,174.4 L546.3,176.8 L546.8,179.2 L547.3,181.5 L547.8,183.8 L548.3,186 L548.8,188.2 L549.3,190.3 L549.8,192.3 L550.3,194.3 L550.8,196.2 L551.3,198 L551.8,199.8 L552.3,201.5 L552.8,203.1 L553.3,204.7 L553.8,206.1 L554.3,207.6 L554.8,208.9 L555.3,210.2 L555.8,211.4 L556.3,212.6 L556.8,213.7 L557.3,214.7 L557.8,215.7 L558.3,216.6 L558.8,217.5 L559.3,218.3 L559.8,219 L560.3,219.8 L560.8,220.4 L561.3,221 L561.8,221.6 L562.3,222.2 L562.8,222.7 L563.3,223.1 L563.8,223.6 L564.3,224 L564.8,224.3 L565.3,224.7 L565.8,225 L566.3,225.3 L566.8,225.6 L567.3,225.8 L567.8,226 L568.3,226.2 L568.8,226.4 L569.3,226.6 L569.8,226.7 L570.3,226.9 L570.8,227 L571.3,227.1 L571.8,227.2 L572.3,227.3 L572.8,227.4 L573.3,227.5 L573.8,227.5 L574.3,227.6 L574.8,227.7 L575.3,227.7 L575.8,227.8 L576.3,227.8 L576.8,227.8 L577.3,227.9 L577.8,227.9 L578.3,227.9 L578.8,227.9 L579.3,227.9 L579.8,228 L580.3,228 L580.8,228 L581.3,228 L581.8,228 L582.3,228 L582.8,228 L583.3,228 L583.8,228 L584.3,228 L584.8,228 L585.3,228 L585.8,228 L586.3,228 L586.8,228 L587.3,228 L587.8,228 L588.3,228 L588.8,228 L589.3,228 L589.8,228 L590.3,228 L590.8,228 L591.3,228 L591.8,228 L592.3,228 L592.8,228 L593.3,228 L593.8,228 L594.3,228 L594.8,228 L595.3,228 L595.8,228 L596.3,228 L596.8,228 L597.3,228 L597.8,228 L598.3,228 L598.8,228 L599.3,228 L599.8,228 L600.3,228 L600.8,228 L601.3,228 L601.8,228 L602.3,228 L602.8,228 L603.3,228 L603.8,228 L604.3,228 L604.8,228 L605.3,228 L605.8,228 L606.3,228 L606.8,228 L607.3,228 L607.8,228 L608.3,228 L608.8,228 L609.3,228 L609.8,228 L610.3,228 L610.8,228 L611.3,228 L611.8,228 L612.3,228 L612.8,228 L613.3,228 L613.8,228 L614.3,228 L614.8,228 L615.3,228 L615.8,228 L616.3,228" fill="none" stroke="#1ec6c8" stroke-width="1.3"/>
<path d="M467.3,238.4 L467.8,238.3 L468.3,238.3 L468.8,238.3 L469.3,238.2 L469.8,238.2 L470.3,238.2 L470.8,238.2 L471.3,238.1 L471.8,238.1 L472.3,238.1 L472.8,238 L473.3,238 L473.8,238 L474.3,237.9 L474.8,237.9 L475.3,237.9 L475.8,237.8 L476.3,237.8 L476.8,237.8 L477.3,237.7 L477.8,237.7 L478.3,237.6 L478.8,237.6 L479.3,237.6 L479.8,237.5 L480.3,237.5 L480.8,237.4 L481.3,237.4 L481.8,237.3 L482.3,237.3 L482.8,237.3 L483.3,237.2 L483.8,237.2 L484.3,237.1 L484.8,237.1 L485.3,237 L485.8,237 L486.3,236.9 L486.8,236.8 L487.3,236.8 L487.8,236.7 L488.3,236.7 L488.8,236.6 L489.3,236.6 L489.8,236.5 L490.3,236.4 L490.8,236.4 L491.3,236.3 L491.8,236.3 L492.3,236.2 L492.8,236.1 L493.3,236.1 L493.8,236 L494.3,235.9 L494.8,235.8 L495.3,235.8 L495.8,235.7 L496.3,235.6 L496.8,235.5 L497.3,235.5 L497.8,235.4 L498.3,235.3 L498.8,235.2 L499.3,235.1 L499.8,235 L500.3,234.9 L500.8,234.8 L501.3,234.7 L501.8,234.6 L502.3,234.5 L502.8,234.4 L503.3,234.3 L503.8,234.2 L504.3,234.1 L504.8,234 L505.3,233.9 L505.8,233.8 L506.3,233.7 L506.8,233.6 L507.3,233.5 L507.8,233.4 L508.3,233.3 L508.8,233.2 L509.3,233 L509.8,232.9 L510.3,232.8 L510.8,232.7 L511.3,232.6 L511.8,232.5 L512.3,232.3 L512.8,232.2 L513.3,232.1 L513.8,232 L514.3,231.8 L514.8,231.7 L515.3,231.6 L515.8,231.4 L516.3,231.3 L516.8,231.2 L517.3,231 L517.8,230.9 L518.3,230.7 L518.8,230.5 L519.3,230.4 L519.8,230.2 L520.3,230 L520.8,229.9 L521.3,229.7 L521.8,229.5 L522.3,229.3 L522.8,229.1 L523.3,228.9 L523.8,228.6 L524.3,228.4 L524.8,228.2 L525.3,227.9 L525.8,227.6 L526.3,227.3 L526.8,227 L527.3,226.7 L527.8,226.4 L528.3,226.1 L528.8,225.7 L529.3,225.3 L529.8,225 L530.3,224.6 L530.8,224.1 L531.3,223.7 L531.8,223.3 L532.3,222.8 L532.8,222.3 L533.3,221.8 L533.8,221.3 L534.3,220.7 L534.8,220.2 L535.3,219.6 L535.8,219 L536.3,218.4 L536.8,217.8 L537.3,217.2 L537.8,216.5 L538.3,215.9 L538.8,215.2 L539.3,214.5 L539.8,213.8 L540.3,213.1 L540.8,212.4 L541.3,211.6 L541.8,210.9 L542.3,210.2 L542.8,209.4 L543.3,208.7 L543.8,207.9 L544.3,207.2 L544.8,206.5 L545.3,205.7 L545.8,205 L546.3,204.3 L546.8,203.6 L547.3,202.9 L547.8,202.3 L548.3,201.7 L548.8,201 L549.3,200.5 L549.8,199.9 L550.3,199.4 L550.8,198.9 L551.3,198.5 L551.8,198 L552.3,197.7 L552.8,197.3 L553.3,197.1 L553.8,196.8 L554.3,196.6 L554.8,196.5 L555.3,196.4 L555.8,196.4 L556.3,196.4 L556.8,196.5 L557.3,196.5 L557.8,196.7 L558.3,196.9 L558.8,197.1 L559.3,197.3 L559.8,197.6 L560.3,198 L560.8,198.3 L561.3,198.7 L561.8,199.1 L562.3,199.6 L562.8,200.1 L563.3,200.6 L563.8,201.1 L564.3,201.6 L564.8,202.2 L565.3,202.8 L565.8,203.4 L566.3,204 L566.8,204.6 L567.3,205.2 L567.8,205.8 L568.3,206.5 L568.8,207.1 L569.3,207.8 L569.8,208.4 L570.3,209 L570.8,209.7 L571.3,210.3 L571.8,210.9 L572.3,211.5 L572.8,212.1 L573.3,212.7 L573.8,213.3 L574.3,213.9 L574.8,214.5 L575.3,215 L575.8,215.6 L576.3,216.1 L576.8,216.6 L577.3,217.1 L577.8,217.6 L578.3,218.1 L578.8,218.5 L579.3,219 L579.8,219.4 L580.3,219.8 L580.8,220.2 L581.3,220.6 L581.8,221 L582.3,221.3 L582.8,221.7 L583.3,222 L583.8,222.3 L584.3,222.6 L584.8,222.9 L585.3,223.1 L585.8,223.4 L586.3,223.6 L586.8,223.9 L587.3,224.1 L587.8,224.3 L588.3,224.5 L588.8,224.7 L589.3,224.9 L589.8,225 L590.3,225.2 L590.8,225.3 L591.3,225.5 L591.8,225.6 L592.3,225.7 L592.8,225.8 L593.3,225.9 L593.8,226 L594.3,226.1 L594.8,226.2 L595.3,226.3 L595.8,226.4 L596.3,226.5 L596.8,226.5 L597.3,226.6 L597.8,226.7 L598.3,226.7 L598.8,226.8 L599.3,226.8 L599.8,226.9 L600.3,226.9 L600.8,226.9 L601.3,227 L601.8,227 L602.3,227.1 L602.8,227.1 L603.3,227.1 L603.8,227.1 L604.3,227.2 L604.8,227.2 L605.3,227.2 L605.8,227.2 L606.3,227.3 L606.8,227.3 L607.3,227.3 L607.8,227.3 L608.3,227.3 L608.8,227.3 L609.3,227.4 L609.8,227.4 L610.3,227.4 L610.8,227.4 L611.3,227.4 L611.8,227.4 L612.3,227.4 L612.8,227.4 L613.3,227.4 L613.8,227.5 L614.3,227.5 L614.8,227.5 L615.3,227.5 L615.8,227.5 L616.3,227.5 L616.8,227.5 L617.3,227.5 L617.8,227.5 L618.3,227.5 L618.8,227.5 L619.3,227.5 L619.8,227.6 L620.3,227.6 L620.8,227.6 L621.3,227.6 L621.8,227.6 L622.3,227.6 L622.8,227.6 L623.3,227.6 L623.8,227.6 L624.3,227.6 L624.8,227.6 L625.3,227.6 L625.8,227.6 L626.3,227.6 L626.8,227.6 L627.3,227.6 L627.8,227.6 L628.3,227.6 L628.8,227.7 L629.3,227.7 L629.8,227.7 L630.3,227.7 L630.8,227.7 L631.3,227.7 L631.8,227.7 L632.3,227.7 L632.8,227.7 L633.3,227.7 L633.8,227.7 L634.3,227.7 L634.8,227.7 L635.3,227.7 L635.8,227.7 L636.3,227.7 L636.8,227.7 L637.3,227.7 L637.8,227.7 L638.3,227.7 L638.8,227.7 L639.3,227.7 L639.8,227.7 L640.3,227.7 L640.8,227.7 L641.3,227.7 L641.8,227.7 L642.3,227.7 L642.8,227.7 L643.3,227.8 L643.8,227.8" fill="none" stroke="#ee9ccb" stroke-width="1"/>
<path d="M415.8,239.4 L416.3,239.4 L416.8,239.4 L417.3,239.4 L417.8,239.4 L418.3,239.4 L418.8,239.4 L419.3,239.4 L419.8,239.4 L420.3,239.3 L420.8,239.3 L421.3,239.3 L421.8,239.3 L422.3,239.3 L422.8,239.3 L423.3,239.3 L423.8,239.3 L424.3,239.3 L424.8,239.3 L425.3,239.3 L425.8,239.3 L426.3,239.3 L426.8,239.3 L427.3,239.3 L427.8,239.3 L428.3,239.3 L428.8,239.3 L429.3,239.3 L429.8,239.3 L430.3,239.3 L430.8,239.3 L431.3,239.3 L431.8,239.3 L432.3,239.2 L432.8,239.2 L433.3,239.2 L433.8,239.2 L434.3,239.2 L434.8,239.2 L435.3,239.2 L435.8,239.2 L436.3,239.2 L436.8,239.2 L437.3,239.2 L437.8,239.2 L438.3,239.2 L438.8,239.2 L439.3,239.2 L439.8,239.2 L440.3,239.2 L440.8,239.2 L441.3,239.2 L441.8,239.2 L442.3,239.2 L442.8,239.2 L443.3,239.2 L443.8,239.2 L444.3,239.1 L444.8,239.1 L445.3,239.1 L445.8,239.1 L446.3,239.1 L446.8,239.1 L447.3,239.1 L447.8,239.1 L448.3,239.1 L448.8,239.1 L449.3,239.1 L449.8,239.1 L450.3,239.1 L450.8,239.1 L451.3,239.1 L451.8,239 L452.3,239 L452.8,239 L453.3,239 L453.8,239 L454.3,239 L454.8,239 L455.3,239 L455.8,239 L456.3,239 L456.8,238.9 L457.3,238.9 L457.8,238.9 L458.3,238.9 L458.8,238.9 L459.3,238.9 L459.8,238.9 L460.3,238.9 L460.8,238.8 L461.3,238.8 L461.8,238.8 L462.3,238.8 L462.8,238.8 L463.3,238.8 L463.8,238.7 L464.3,238.7 L464.8,238.7 L465.3,238.7 L465.8,238.7 L466.3,238.7 L466.8,238.6 L467.3,238.6 L467.8,238.6 L468.3,238.6 L468.8,238.5 L469.3,238.5 L469.8,238.5 L470.3,238.5 L470.8,238.4 L471.3,238.4 L471.8,238.4 L472.3,238.4 L472.8,238.3 L473.3,238.3 L473.8,238.3 L474.3,238.2 L474.8,238.2 L475.3,238.2 L475.8,238.2 L476.3,238.1 L476.8,238.1 L477.3,238.1 L477.8,238 L478.3,238 L478.8,237.9 L479.3,237.9 L479.8,237.9 L480.3,237.8 L480.8,237.8 L481.3,237.8 L481.8,237.7 L482.3,237.7 L482.8,237.6 L483.3,237.6 L483.8,237.5 L484.3,237.5 L484.8,237.5 L485.3,237.4 L485.8,237.4 L486.3,237.3 L486.8,237.3 L487.3,237.2 L487.8,237.2 L488.3,237.1 L488.8,237.1 L489.3,237 L489.8,237 L490.3,236.9 L490.8,236.8 L491.3,236.8 L491.8,236.7 L492.3,236.7 L492.8,236.6 L493.3,236.6 L493.8,236.5 L494.3,236.4 L494.8,236.4 L495.3,236.3 L495.8,236.2 L496.3,236.2 L496.8,236.1 L497.3,236 L497.8,236 L498.3,235.9 L498.8,235.8 L499.3,235.7 L499.8,235.6 L500.3,235.6 L500.8,235.5 L501.3,235.4 L501.8,235.3 L502.3,235.2 L502.8,235.1 L503.3,235.1 L503.8,235 L504.3,234.9 L504.8,234.8 L505.3,234.7 L505.8,234.6 L506.3,234.5 L506.8,234.4 L507.3,234.3 L507.8,234.3 L508.3,234.2 L508.8,234.1 L509.3,234 L509.8,233.9 L510.3,233.8 L510.8,233.7 L511.3,233.6 L511.8,233.6 L512.3,233.5 L512.8,233.4 L513.3,233.3 L513.8,233.2 L514.3,233.1 L514.8,233.1 L515.3,233 L515.8,232.9 L516.3,232.8 L516.8,232.7 L517.3,232.7 L517.8,232.6 L518.3,232.5 L518.8,232.5 L519.3,232.4 L519.8,232.3 L520.3,232.3 L520.8,232.2 L521.3,232.1 L521.8,232.1 L522.3,232 L522.8,232 L523.3,231.9 L523.8,231.8 L524.3,231.8 L524.8,231.7 L525.3,231.7 L525.8,231.6 L526.3,231.6 L526.8,231.5 L527.3,231.5 L527.8,231.4 L528.3,231.4 L528.8,231.3 L529.3,231.3 L529.8,231.2 L530.3,231.2 L530.8,231.1 L531.3,231.1 L531.8,231.1 L532.3,231 L532.8,231 L533.3,230.9 L533.8,230.9 L534.3,230.8 L534.8,230.8 L535.3,230.8 L535.8,230.7 L536.3,230.7 L536.8,230.6 L537.3,230.6 L537.8,230.6 L538.3,230.5 L538.8,230.5 L539.3,230.4 L539.8,230.4 L540.3,230.4 L540.8,230.3 L541.3,230.3 L541.8,230.2 L542.3,230.2 L542.8,230.2 L543.3,230.1 L543.8,230.1 L544.3,230.1 L544.8,230 L545.3,230 L545.8,229.9 L546.3,229.9 L546.8,229.9 L547.3,229.8 L547.8,229.8 L548.3,229.7 L548.8,229.7 L549.3,229.7 L549.8,229.6 L550.3,229.6 L550.8,229.6 L551.3,229.5 L551.8,229.5 L552.3,229.5 L552.8,229.4 L553.3,229.4 L553.8,229.4 L554.3,229.3 L554.8,229.3 L555.3,229.3 L555.8,229.2 L556.3,229.2 L556.8,229.2 L557.3,229.2 L557.8,229.1 L558.3,229.1 L558.8,229.1 L559.3,229 L559.8,229 L560.3,229 L560.8,229 L561.3,228.9 L561.8,228.9 L562.3,228.9 L562.8,228.9 L563.3,228.9 L563.8,228.8 L564.3,228.8 L564.8,228.8 L565.3,228.8 L565.8,228.8 L566.3,228.8 L566.8,228.7 L567.3,228.7 L567.8,228.7 L568.3,228.7 L568.8,228.7 L569.3,228.7 L569.8,228.7 L570.3,228.6 L570.8,228.6 L571.3,228.6 L571.8,228.6 L572.3,228.6 L572.8,228.6 L573.3,228.6 L573.8,228.6 L574.3,228.5 L574.8,228.5 L575.3,228.5 L575.8,228.5 L576.3,228.5 L576.8,228.5 L577.3,228.5 L577.8,228.5 L578.3,228.5 L578.8,228.4 L579.3,228.4 L579.8,228.4 L580.3,228.4 L580.8,228.4 L581.3,228.4 L581.8,228.4 L582.3,228.4 L582.8,228.4 L583.3,228.4 L583.8,228.4 L584.3,228.4 L584.8,228.3 L585.3,228.3 L585.8,228.3 L586.3,228.3 L586.8,228.3 L587.3,228.3 L587.8,228.3 L588.3,228.3 L588.8,228.3 L589.3,228.3 L589.8,228.3 L590.3,228.3 L590.8,228.3 L591.3,228.3 L591.8,228.3 L592.3,228.3 L592.8,228.3 L593.3,228.3 L593.8,228.2 L594.3,228.2 L594.8,228.2 L595.3,228.2 L595.8,228.2 L596.3,228.2 L596.8,228.2 L597.3,228.2 L597.8,228.2 L598.3,228.2 L598.8,228.2 L599.3,228.2 L599.8,228.2 L600.3,228.2 L600.8,228.2 L601.3,228.2 L601.8,228.2 L602.3,228.2 L602.8,228.2 L603.3,228.2 L603.8,228.2 L604.3,228.2 L604.8,228.2 L605.3,228.2 L605.8,228.2 L606.3,228.2 L606.8,228.2 L607.3,228.2 L607.8,228.2 L608.3,228.2 L608.8,228.2 L609.3,228.1 L609.8,228.1 L610.3,228.1 L610.8,228.1 L611.3,228.1 L611.8,228.1 L612.3,228.1 L612.8,228.1 L613.3,228.1 L613.8,228.1 L614.3,228.1 L614.8,228.1 L615.3,228.1 L615.8,228.1 L616.3,228.1 L616.8,228.1 L617.3,228.1 L617.8,228.1 L618.3,228.1 L618.8,228.1 L619.3,228.1 L619.8,228.1 L620.3,228.1 L620.8,228.1 L621.3,228.1 L621.8,228.1 L622.3,228.1 L622.8,228.1 L623.3,228.1 L623.8,228.1 L624.3,228.1 L624.8,228.1 L625.3,228.1 L625.8,228.1 L626.3,228.1 L626.8,228.1 L627.3,228.1 L627.8,228.1 L628.3,228.1 L628.8,228.1 L629.3,228.1 L629.8,228.1 L630.3,228.1 L630.8,228.1 L631.3,228.1 L631.8,228.1 L632.3,228.1 L632.8,228.1 L633.3,228.1 L633.8,228.1 L634.3,228.1 L634.8,228.1 L635.3,228.1 L635.8,228.1 L636.3,228.1 L636.8,228.1 L637.3,228.1 L637.8,228.1 L638.3,228.1 L638.8,228.1 L639.3,228.1 L639.8,228.1 L640.3,228.1 L640.8,228.1 L641.3,228.1 L641.8,228.1 L642.3,228.1 L642.8,228.1 L643.3,228.1 L643.8,228.1 L644.3,228.1 L644.8,228.1 L645.3,228.1 L645.8,228.1 L646.3,228.1 L646.8,228.1 L647.3,228.1 L647.8,228.1 L648.3,228 L648.8,228 L649.3,228 L649.8,228 L650.3,228 L650.8,228 L651.3,228 L651.8,228 L652.3,228 L652.8,228 L653.3,228 L653.8,228 L654.3,228 L654.8,228 L655.3,228 L655.8,228 L656.3,228 L656.8,228 L657.3,228 L657.8,228 L658.3,228 L658.8,228 L659.3,228 L659.8,228 L660.3,228 L660.8,228 L661.3,228 L661.8,228 L662.3,228 L662.8,228 L663.3,228 L663.8,228 L664.3,228 L664.8,228 L665.3,228 L665.8,228 L666.3,228 L666.8,228 L667.3,228 L667.8,228 L668.3,228 L668.8,228 L669.3,228 L669.8,228 L670.3,228 L670.8,228 L671.3,228 L671.8,228 L672.3,228 L672.8,228 L673.3,228 L673.8,228 L674.3,228 L674.8,228 L675.3,228 L675.8,228 L676.3,228 L676.8,228 L677.3,228 L677.8,228 L678.3,228 L678.8,228 L679.3,228 L679.8,228 L680.3,228 L680.8,228 L681.3,228 L681.8,228 L682.3,228 L682.8,228 L683.3,228 L683.8,228 L684.3,228 L684.8,228 L685.3,228 L685.8,228 L686.3,228 L686.8,228 L687.3,228 L687.8,228 L688.3,228 L688.8,228 L689.3,228 L689.8,228 L690.3,228 L690.8,228" fill="none" stroke="#5b5bb5" stroke-width="1.3"/>
<g fill="none" stroke="#3c3c3c" stroke-width="0.85"><circle cx="415.5" cy="238.2" r="2.3"/><circle cx="416.4" cy="238.6" r="2.3"/><circle cx="417.3" cy="239" r="2.3"/><circle cx="418.2" cy="238.8" r="2.3"/><circle cx="419" cy="240.2" r="2.3"/><circle cx="419.9" cy="240.1" r="2.3"/><circle cx="420.8" cy="238.4" r="2.3"/><circle cx="421.7" cy="239.1" r="2.3"/><circle cx="422.6" cy="236.6" r="2.3"/><circle cx="423.5" cy="238.7" r="2.3"/><circle cx="424.4" cy="240.1" r="2.3"/><circle cx="425.2" cy="238.8" r="2.3"/><circle cx="426.1" cy="239.4" r="2.3"/><circle cx="427" cy="239.3" r="2.3"/><circle cx="427.9" cy="237.6" r="2.3"/><circle cx="428.8" cy="239.6" r="2.3"/><circle cx="429.7" cy="241.3" r="2.3"/><circle cx="430.6" cy="239.6" r="2.3"/><circle cx="431.4" cy="238.8" r="2.3"/><circle cx="432.3" cy="239.1" r="2.3"/><circle cx="433.2" cy="238.7" r="2.3"/><circle cx="434.1" cy="239" r="2.3"/><circle cx="435" cy="238.6" r="2.3"/><circle cx="435.9" cy="238.9" r="2.3"/><circle cx="436.8" cy="239" r="2.3"/><circle cx="437.6" cy="237.9" r="2.3"/><circle cx="438.5" cy="239.1" r="2.3"/><circle cx="439.4" cy="238.8" r="2.3"/><circle cx="440.3" cy="238.6" r="2.3"/><circle cx="441.2" cy="238.1" r="2.3"/><circle cx="442.1" cy="237.8" r="2.3"/><circle cx="443" cy="237.2" r="2.3"/><circle cx="443.8" cy="237.6" r="2.3"/><circle cx="444.7" cy="237.7" r="2.3"/><circle cx="445.6" cy="236.6" r="2.3"/><circle cx="446.5" cy="237.9" r="2.3"/><circle cx="447.4" cy="238" r="2.3"/><circle cx="448.3" cy="238.9" r="2.3"/><circle cx="449.2" cy="238.1" r="2.3"/><circle cx="450" cy="238.6" r="2.3"/><circle cx="450.9" cy="238.6" r="2.3"/><circle cx="451.8" cy="238.7" r="2.3"/><circle cx="452.7" cy="239.2" r="2.3"/><circle cx="453.6" cy="239.2" r="2.3"/><circle cx="454.5" cy="239.1" r="2.3"/><circle cx="455.3" cy="238.1" r="2.3"/><circle cx="456.2" cy="237.7" r="2.3"/><circle cx="457.1" cy="237" r="2.3"/><circle cx="458" cy="237.1" r="2.3"/><circle cx="458.9" cy="236.8" r="2.3"/><circle cx="459.8" cy="237.1" r="2.3"/><circle cx="460.7" cy="236.1" r="2.3"/><circle cx="461.5" cy="237.1" r="2.3"/><circle cx="462.4" cy="235.9" r="2.3"/><circle cx="463.3" cy="235.9" r="2.3"/><circle cx="464.2" cy="235.7" r="2.3"/><circle cx="465.1" cy="233.6" r="2.3"/><circle cx="466" cy="233.8" r="2.3"/><circle cx="466.9" cy="233.2" r="2.3"/><circle cx="467.7" cy="230.5" r="2.3"/><circle cx="468.6" cy="230" r="2.3"/><circle cx="469.5" cy="226.1" r="2.3"/><circle cx="470.4" cy="223.2" r="2.3"/><circle cx="471.3" cy="221.2" r="2.3"/><circle cx="472.2" cy="218" r="2.3"/><circle cx="473.1" cy="213.9" r="2.3"/><circle cx="473.9" cy="209.5" r="2.3"/><circle cx="474.8" cy="205.4" r="2.3"/><circle cx="475.7" cy="201" r="2.3"/><circle cx="476.6" cy="193.1" r="2.3"/><circle cx="477.5" cy="186.1" r="2.3"/><circle cx="478.4" cy="177.3" r="2.3"/><circle cx="479.3" cy="168.9" r="2.3"/><circle cx="480.1" cy="161.4" r="2.3"/><circle cx="481" cy="151.4" r="2.3"/><circle cx="481.9" cy="141.5" r="2.3"/><circle cx="482.8" cy="133.4" r="2.3"/><circle cx="483.7" cy="123.9" r="2.3"/><circle cx="484.6" cy="114.4" r="2.3"/><circle cx="485.5" cy="105" r="2.3"/><circle cx="486.3" cy="95.8" r="2.3"/><circle cx="487.2" cy="88.5" r="2.3"/><circle cx="488.1" cy="79.8" r="2.3"/><circle cx="489" cy="72" r="2.3"/><circle cx="489.9" cy="67.5" r="2.3"/><circle cx="490.8" cy="63.3" r="2.3"/><circle cx="491.7" cy="61" r="2.3"/><circle cx="492.5" cy="58.4" r="2.3"/><circle cx="493.4" cy="59.2" r="2.3"/><circle cx="494.3" cy="58.6" r="2.3"/><circle cx="495.2" cy="59.3" r="2.3"/><circle cx="496.1" cy="60.1" r="2.3"/><circle cx="497" cy="64" r="2.3"/><circle cx="497.9" cy="67.9" r="2.3"/><circle cx="498.7" cy="72.4" r="2.3"/><circle cx="499.6" cy="79.8" r="2.3"/><circle cx="500.5" cy="85.5" r="2.3"/><circle cx="501.4" cy="93.1" r="2.3"/><circle cx="502.3" cy="99.4" r="2.3"/><circle cx="503.2" cy="106.1" r="2.3"/><circle cx="504.1" cy="112.5" r="2.3"/><circle cx="504.9" cy="120.4" r="2.3"/><circle cx="505.8" cy="125.6" r="2.3"/><circle cx="506.7" cy="132.5" r="2.3"/><circle cx="507.6" cy="136.4" r="2.3"/><circle cx="508.5" cy="139.4" r="2.3"/><circle cx="509.4" cy="141.5" r="2.3"/><circle cx="510.3" cy="144.4" r="2.3"/><circle cx="511.1" cy="143.8" r="2.3"/><circle cx="512" cy="144.8" r="2.3"/><circle cx="512.9" cy="142.7" r="2.3"/><circle cx="513.8" cy="140.6" r="2.3"/><circle cx="514.7" cy="136.1" r="2.3"/><circle cx="515.6" cy="134.2" r="2.3"/><circle cx="516.5" cy="129.6" r="2.3"/><circle cx="517.3" cy="127.8" r="2.3"/><circle cx="518.2" cy="124.8" r="2.3"/><circle cx="519.1" cy="121.3" r="2.3"/><circle cx="520" cy="117.8" r="2.3"/><circle cx="520.9" cy="114.7" r="2.3"/><circle cx="521.8" cy="111.6" r="2.3"/><circle cx="522.6" cy="108.5" r="2.3"/><circle cx="523.5" cy="105.9" r="2.3"/><circle cx="524.4" cy="103.1" r="2.3"/><circle cx="525.3" cy="102.3" r="2.3"/><circle cx="526.2" cy="100" r="2.3"/><circle cx="527.1" cy="100" r="2.3"/><circle cx="528" cy="98.1" r="2.3"/><circle cx="528.8" cy="100.1" r="2.3"/><circle cx="529.7" cy="99.7" r="2.3"/><circle cx="530.6" cy="99.9" r="2.3"/><circle cx="531.5" cy="99.7" r="2.3"/><circle cx="532.4" cy="100.5" r="2.3"/><circle cx="533.3" cy="102" r="2.3"/><circle cx="534.2" cy="103.3" r="2.3"/><circle cx="535" cy="104.9" r="2.3"/><circle cx="535.9" cy="108.3" r="2.3"/><circle cx="536.8" cy="110.6" r="2.3"/><circle cx="537.7" cy="112.8" r="2.3"/><circle cx="538.6" cy="116.8" r="2.3"/><circle cx="539.5" cy="119.9" r="2.3"/><circle cx="540.4" cy="124.2" r="2.3"/><circle cx="541.2" cy="128.1" r="2.3"/><circle cx="542.1" cy="131.1" r="2.3"/><circle cx="543" cy="134.3" r="2.3"/><circle cx="543.9" cy="136.9" r="2.3"/><circle cx="544.8" cy="141.2" r="2.3"/><circle cx="545.7" cy="144" r="2.3"/><circle cx="546.6" cy="147.6" r="2.3"/><circle cx="547.4" cy="150.6" r="2.3"/><circle cx="548.3" cy="153.9" r="2.3"/><circle cx="549.2" cy="159.8" r="2.3"/><circle cx="550.1" cy="159.6" r="2.3"/><circle cx="551" cy="162.5" r="2.3"/><circle cx="551.9" cy="164.3" r="2.3"/><circle cx="552.8" cy="168.7" r="2.3"/><circle cx="553.6" cy="170.5" r="2.3"/><circle cx="554.5" cy="173.1" r="2.3"/><circle cx="555.4" cy="175.4" r="2.3"/><circle cx="556.3" cy="176.5" r="2.3"/><circle cx="557.2" cy="179.3" r="2.3"/><circle cx="558.1" cy="180.5" r="2.3"/><circle cx="559" cy="183.1" r="2.3"/><circle cx="559.8" cy="186.8" r="2.3"/><circle cx="560.7" cy="186" r="2.3"/><circle cx="561.6" cy="190.3" r="2.3"/><circle cx="562.5" cy="192.2" r="2.3"/><circle cx="563.4" cy="192.7" r="2.3"/><circle cx="564.3" cy="194.8" r="2.3"/><circle cx="565.2" cy="195.4" r="2.3"/><circle cx="566" cy="200.1" r="2.3"/><circle cx="566.9" cy="199.8" r="2.3"/><circle cx="567.8" cy="201.4" r="2.3"/><circle cx="568.7" cy="204" r="2.3"/><circle cx="569.6" cy="205.5" r="2.3"/><circle cx="570.5" cy="205.9" r="2.3"/><circle cx="571.4" cy="207" r="2.3"/><circle cx="572.2" cy="208.3" r="2.3"/><circle cx="573.1" cy="207.7" r="2.3"/><circle cx="574" cy="209.2" r="2.3"/><circle cx="574.9" cy="211.1" r="2.3"/><circle cx="575.8" cy="212.7" r="2.3"/><circle cx="576.7" cy="213" r="2.3"/><circle cx="577.6" cy="213.3" r="2.3"/><circle cx="578.4" cy="215.3" r="2.3"/><circle cx="579.3" cy="215.9" r="2.3"/><circle cx="580.2" cy="217.6" r="2.3"/><circle cx="581.1" cy="219.2" r="2.3"/><circle cx="582" cy="220.5" r="2.3"/><circle cx="582.9" cy="219.9" r="2.3"/><circle cx="583.8" cy="219.9" r="2.3"/><circle cx="584.6" cy="222.9" r="2.3"/><circle cx="585.5" cy="222.8" r="2.3"/><circle cx="586.4" cy="224" r="2.3"/><circle cx="587.3" cy="223.8" r="2.3"/><circle cx="588.2" cy="224.6" r="2.3"/><circle cx="589.1" cy="225.5" r="2.3"/><circle cx="590" cy="224.9" r="2.3"/><circle cx="590.8" cy="224.4" r="2.3"/><circle cx="591.7" cy="225.6" r="2.3"/><circle cx="592.6" cy="227.3" r="2.3"/><circle cx="593.5" cy="227" r="2.3"/><circle cx="594.4" cy="226.7" r="2.3"/><circle cx="595.3" cy="227.7" r="2.3"/><circle cx="596.1" cy="228" r="2.3"/><circle cx="597" cy="228" r="2.3"/><circle cx="597.9" cy="228.9" r="2.3"/><circle cx="598.8" cy="227.2" r="2.3"/><circle cx="599.7" cy="227" r="2.3"/><circle cx="600.6" cy="227.5" r="2.3"/><circle cx="601.5" cy="228.5" r="2.3"/><circle cx="602.3" cy="227.3" r="2.3"/><circle cx="603.2" cy="229.1" r="2.3"/><circle cx="604.1" cy="228.1" r="2.3"/><circle cx="605" cy="227.9" r="2.3"/><circle cx="605.9" cy="228.6" r="2.3"/><circle cx="606.8" cy="228.3" r="2.3"/><circle cx="607.7" cy="228.4" r="2.3"/><circle cx="608.5" cy="226.1" r="2.3"/><circle cx="609.4" cy="226.6" r="2.3"/><circle cx="610.3" cy="226.3" r="2.3"/><circle cx="611.2" cy="226.1" r="2.3"/><circle cx="612.1" cy="227.6" r="2.3"/><circle cx="613" cy="227.2" r="2.3"/><circle cx="613.9" cy="227.2" r="2.3"/><circle cx="614.7" cy="227.7" r="2.3"/><circle cx="615.6" cy="225.9" r="2.3"/><circle cx="616.5" cy="226.7" r="2.3"/><circle cx="617.4" cy="227.3" r="2.3"/><circle cx="618.3" cy="228.9" r="2.3"/><circle cx="619.2" cy="226.4" r="2.3"/><circle cx="620.1" cy="225" r="2.3"/><circle cx="620.9" cy="225.7" r="2.3"/><circle cx="621.8" cy="224.3" r="2.3"/><circle cx="622.7" cy="225.2" r="2.3"/><circle cx="623.6" cy="224.6" r="2.3"/><circle cx="624.5" cy="226.2" r="2.3"/><circle cx="625.4" cy="227.4" r="2.3"/><circle cx="626.3" cy="227.1" r="2.3"/><circle cx="627.1" cy="228.8" r="2.3"/><circle cx="628" cy="228" r="2.3"/><circle cx="628.9" cy="227.9" r="2.3"/><circle cx="629.8" cy="226.8" r="2.3"/><circle cx="630.7" cy="226.4" r="2.3"/><circle cx="631.6" cy="228.3" r="2.3"/><circle cx="632.5" cy="228" r="2.3"/><circle cx="633.3" cy="226.7" r="2.3"/><circle cx="634.2" cy="229.2" r="2.3"/><circle cx="635.1" cy="229" r="2.3"/><circle cx="636" cy="229.9" r="2.3"/><circle cx="636.9" cy="229.6" r="2.3"/><circle cx="637.8" cy="228.9" r="2.3"/><circle cx="638.7" cy="228" r="2.3"/><circle cx="639.5" cy="227.9" r="2.3"/><circle cx="640.4" cy="228.5" r="2.3"/><circle cx="641.3" cy="227.9" r="2.3"/><circle cx="642.2" cy="228.5" r="2.3"/><circle cx="643.1" cy="228.4" r="2.3"/><circle cx="644" cy="228.9" r="2.3"/><circle cx="644.9" cy="228" r="2.3"/><circle cx="645.7" cy="228.1" r="2.3"/><circle cx="646.6" cy="228" r="2.3"/><circle cx="647.5" cy="229.2" r="2.3"/><circle cx="648.4" cy="228.3" r="2.3"/><circle cx="649.3" cy="228.1" r="2.3"/><circle cx="650.2" cy="227" r="2.3"/><circle cx="651.1" cy="227.1" r="2.3"/><circle cx="651.9" cy="227.2" r="2.3"/><circle cx="652.8" cy="227.9" r="2.3"/><circle cx="653.7" cy="226.5" r="2.3"/><circle cx="654.6" cy="228.6" r="2.3"/><circle cx="655.5" cy="227.5" r="2.3"/><circle cx="656.4" cy="228.4" r="2.3"/><circle cx="657.3" cy="228" r="2.3"/><circle cx="658.1" cy="228.5" r="2.3"/><circle cx="659" cy="227.5" r="2.3"/><circle cx="659.9" cy="226.4" r="2.3"/><circle cx="660.8" cy="228.2" r="2.3"/><circle cx="661.7" cy="229.1" r="2.3"/><circle cx="662.6" cy="227.2" r="2.3"/><circle cx="663.4" cy="227.3" r="2.3"/><circle cx="664.3" cy="227.6" r="2.3"/><circle cx="665.2" cy="227.4" r="2.3"/><circle cx="666.1" cy="227.6" r="2.3"/><circle cx="667" cy="228.2" r="2.3"/><circle cx="667.9" cy="227.9" r="2.3"/><circle cx="668.8" cy="228.2" r="2.3"/><circle cx="669.6" cy="228.1" r="2.3"/><circle cx="670.5" cy="226.5" r="2.3"/><circle cx="671.4" cy="226" r="2.3"/><circle cx="672.3" cy="227.1" r="2.3"/><circle cx="673.2" cy="228.3" r="2.3"/><circle cx="674.1" cy="226.2" r="2.3"/><circle cx="675" cy="227.9" r="2.3"/><circle cx="675.8" cy="226.8" r="2.3"/><circle cx="676.7" cy="228.5" r="2.3"/><circle cx="677.6" cy="228" r="2.3"/><circle cx="678.5" cy="228.8" r="2.3"/><circle cx="679.4" cy="226.9" r="2.3"/><circle cx="680.3" cy="228.4" r="2.3"/><circle cx="681.2" cy="228.6" r="2.3"/><circle cx="682" cy="227.7" r="2.3"/><circle cx="682.9" cy="227.9" r="2.3"/><circle cx="683.8" cy="228.3" r="2.3"/><circle cx="684.7" cy="230.4" r="2.3"/><circle cx="685.6" cy="230" r="2.3"/><circle cx="686.5" cy="230.3" r="2.3"/><circle cx="687.4" cy="229.3" r="2.3"/><circle cx="688.2" cy="230.6" r="2.3"/><circle cx="689.1" cy="230.1" r="2.3"/><circle cx="690" cy="229.5" r="2.3"/><circle cx="690.9" cy="229" r="2.3"/><circle cx="691.8" cy="227.5" r="2.3"/></g>
<path d="M415.8,238.8 L416.3,238.8 L416.8,238.8 L417.3,238.8 L417.8,238.8 L418.3,238.7 L418.8,238.7 L419.3,238.7 L419.8,238.7 L420.3,238.7 L420.8,238.7 L421.3,238.7 L421.8,238.7 L422.3,238.6 L422.8,238.6 L423.3,238.6 L423.8,238.6 L424.3,238.6 L424.8,238.6 L425.3,238.6 L425.8,238.6 L426.3,238.5 L426.8,238.5 L427.3,238.5 L427.8,238.5 L428.3,238.5 L428.8,238.5 L429.3,238.5 L429.8,238.4 L430.3,238.4 L430.8,238.4 L431.3,238.4 L431.8,238.4 L432.3,238.4 L432.8,238.4 L433.3,238.3 L433.8,238.3 L434.3,238.3 L434.8,238.3 L435.3,238.3 L435.8,238.3 L436.3,238.2 L436.8,238.2 L437.3,238.2 L437.8,238.2 L438.3,238.2 L438.8,238.1 L439.3,238.1 L439.8,238.1 L440.3,238.1 L440.8,238.1 L441.3,238 L441.8,238 L442.3,238 L442.8,238 L443.3,237.9 L443.8,237.9 L444.3,237.9 L444.8,237.9 L445.3,237.8 L445.8,237.8 L446.3,237.8 L446.8,237.8 L447.3,237.7 L447.8,237.7 L448.3,237.7 L448.8,237.6 L449.3,237.6 L449.8,237.6 L450.3,237.5 L450.8,237.5 L451.3,237.4 L451.8,237.4 L452.3,237.4 L452.8,237.3 L453.3,237.3 L453.8,237.2 L454.3,237.2 L454.8,237.1 L455.3,237.1 L455.8,237 L456.3,236.9 L456.8,236.9 L457.3,236.8 L457.8,236.7 L458.3,236.6 L458.8,236.5 L459.3,236.4 L459.8,236.3 L460.3,236.2 L460.8,236 L461.3,235.9 L461.8,235.7 L462.3,235.5 L462.8,235.3 L463.3,235.1 L463.8,234.8 L464.3,234.5 L464.8,234.2 L465.3,233.8 L465.8,233.4 L466.3,233 L466.8,232.5 L467.3,231.9 L467.8,231.2 L468.3,230.5 L468.8,229.7 L469.3,228.8 L469.8,227.8 L470.3,226.7 L470.8,225.4 L471.3,224.1 L471.8,222.6 L472.3,221 L472.8,219.2 L473.3,217.2 L473.8,215.1 L474.3,212.8 L474.8,210.3 L475.3,207.6 L475.8,204.7 L476.3,201.6 L476.8,198.3 L477.3,194.8 L477.8,191.1 L478.3,187.1 L478.8,183 L479.3,178.6 L479.8,174.1 L480.3,169.4 L480.8,164.5 L481.3,159.4 L481.8,154.2 L482.3,148.8 L482.8,143.4 L483.3,137.9 L483.8,132.3 L484.3,126.7 L484.8,121.1 L485.3,115.5 L485.8,110 L486.3,104.6 L486.8,99.4 L487.3,94.3 L487.8,89.4 L488.3,84.8 L488.8,80.4 L489.3,76.4 L489.8,72.7 L490.3,69.4 L490.8,66.4 L491.3,63.9 L491.8,61.9 L492.3,60.3 L492.8,59.2 L493.3,58.6 L493.8,58.4 L494.3,58.7 L494.8,59.5 L495.3,60.7 L495.8,62.3 L496.3,64.4 L496.8,66.8 L497.3,69.5 L497.8,72.5 L498.3,75.8 L498.8,79.3 L499.3,83 L499.8,86.9 L500.3,90.8 L500.8,94.8 L501.3,98.9 L501.8,102.9 L502.3,106.9 L502.8,110.8 L503.3,114.6 L503.8,118.3 L504.3,121.9 L504.8,125.2 L505.3,128.3 L505.8,131.2 L506.3,133.9 L506.8,136.4 L507.3,138.5 L507.8,140.4 L508.3,142 L508.8,143.4 L509.3,144.5 L509.8,145.3 L510.3,145.8 L510.8,146.1 L511.3,146.1 L511.8,145.9 L512.3,145.4 L512.8,144.7 L513.3,143.8 L513.8,142.8 L514.3,141.5 L514.8,140.1 L515.3,138.6 L515.8,136.9 L516.3,135.1 L516.8,133.3 L517.3,131.3 L517.8,129.3 L518.3,127.3 L518.8,125.3 L519.3,123.2 L519.8,121.1 L520.3,119.1 L520.8,117.1 L521.3,115.2 L521.8,113.3 L522.3,111.5 L522.8,109.8 L523.3,108.2 L523.8,106.7 L524.3,105.3 L524.8,104 L525.3,102.9 L525.8,101.9 L526.3,101.1 L526.8,100.4 L527.3,99.9 L527.8,99.5 L528.3,99.3 L528.8,99.2 L529.3,99.3 L529.8,99.5 L530.3,99.8 L530.8,100.3 L531.3,100.9 L531.8,101.6 L532.3,102.4 L532.8,103.4 L533.3,104.5 L533.8,105.7 L534.3,106.9 L534.8,108.3 L535.3,109.8 L535.8,111.3 L536.3,112.9 L536.8,114.6 L537.3,116.3 L537.8,118.1 L538.3,120 L538.8,121.8 L539.3,123.7 L539.8,125.7 L540.3,127.6 L540.8,129.6 L541.3,131.5 L541.8,133.5 L542.3,135.5 L542.8,137.4 L543.3,139.4 L543.8,141.3 L544.3,143.2 L544.8,145.1 L545.3,146.9 L545.8,148.7 L546.3,150.5 L546.8,152.3 L547.3,154 L547.8,155.6 L548.3,157.3 L548.8,158.9 L549.3,160.4 L549.8,162 L550.3,163.5 L550.8,164.9 L551.3,166.3 L551.8,167.7 L552.3,169.1 L552.8,170.5 L553.3,171.8 L553.8,173.1 L554.3,174.3 L554.8,175.6 L555.3,176.8 L555.8,178.1 L556.3,179.3 L556.8,180.4 L557.3,181.6 L557.8,182.8 L558.3,183.9 L558.8,185 L559.3,186.1 L559.8,187.2 L560.3,188.3 L560.8,189.3 L561.3,190.4 L561.8,191.4 L562.3,192.4 L562.8,193.4 L563.3,194.4 L563.8,195.4 L564.3,196.4 L564.8,197.3 L565.3,198.3 L565.8,199.2 L566.3,200.1 L566.8,201 L567.3,201.9 L567.8,202.8 L568.3,203.6 L568.8,204.5 L569.3,205.3 L569.8,206.1 L570.3,206.9 L570.8,207.7 L571.3,208.5 L571.8,209.2 L572.3,209.9 L572.8,210.6 L573.3,211.3 L573.8,212 L574.3,212.6 L574.8,213.3 L575.3,213.9 L575.8,214.5 L576.3,215.1 L576.8,215.6 L577.3,216.2 L577.8,216.7 L578.3,217.2 L578.8,217.7 L579.3,218.2 L579.8,218.7 L580.3,219.1 L580.8,219.5 L581.3,219.9 L581.8,220.3 L582.3,220.7 L582.8,221 L583.3,221.4 L583.8,221.7 L584.3,222 L584.8,222.3 L585.3,222.6 L585.8,222.9 L586.3,223.1 L586.8,223.3 L587.3,223.6 L587.8,223.8 L588.3,224 L588.8,224.2 L589.3,224.4 L589.8,224.5 L590.3,224.7 L590.8,224.9 L591.3,225 L591.8,225.1 L592.3,225.3 L592.8,225.4 L593.3,225.5 L593.8,225.6 L594.3,225.7 L594.8,225.8 L595.3,225.9 L595.8,226 L596.3,226.1 L596.8,226.1 L597.3,226.2 L597.8,226.3 L598.3,226.3 L598.8,226.4 L599.3,226.4 L599.8,226.5 L600.3,226.5 L600.8,226.6 L601.3,226.6 L601.8,226.7 L602.3,226.7 L602.8,226.7 L603.3,226.8 L603.8,226.8 L604.3,226.8 L604.8,226.9 L605.3,226.9 L605.8,226.9 L606.3,226.9 L606.8,227 L607.3,227 L607.8,227 L608.3,227 L608.8,227 L609.3,227.1 L609.8,227.1 L610.3,227.1 L610.8,227.1 L611.3,227.1 L611.8,227.1 L612.3,227.1 L612.8,227.2 L613.3,227.2 L613.8,227.2 L614.3,227.2 L614.8,227.2 L615.3,227.2 L615.8,227.2 L616.3,227.2 L616.8,227.2 L617.3,227.3 L617.8,227.3 L618.3,227.3 L618.8,227.3 L619.3,227.3 L619.8,227.3 L620.3,227.3 L620.8,227.3 L621.3,227.3 L621.8,227.3 L622.3,227.3 L622.8,227.4 L623.3,227.4 L623.8,227.4 L624.3,227.4 L624.8,227.4 L625.3,227.4 L625.8,227.4 L626.3,227.4 L626.8,227.4 L627.3,227.4 L627.8,227.4 L628.3,227.4 L628.8,227.4 L629.3,227.4 L629.8,227.5 L630.3,227.5 L630.8,227.5 L631.3,227.5 L631.8,227.5 L632.3,227.5 L632.8,227.5 L633.3,227.5 L633.8,227.5 L634.3,227.5 L634.8,227.5 L635.3,227.5 L635.8,227.5 L636.3,227.5 L636.8,227.5 L637.3,227.5 L637.8,227.5 L638.3,227.5 L638.8,227.5 L639.3,227.5 L639.8,227.6 L640.3,227.6 L640.8,227.6 L641.3,227.6 L641.8,227.6 L642.3,227.6 L642.8,227.6 L643.3,227.6 L643.8,227.6 L644.3,227.6 L644.8,227.6 L645.3,227.6 L645.8,227.6 L646.3,227.6 L646.8,227.6 L647.3,227.6 L647.8,227.6 L648.3,227.6 L648.8,227.6 L649.3,227.6 L649.8,227.6 L650.3,227.6 L650.8,227.6 L651.3,227.6 L651.8,227.6 L652.3,227.6 L652.8,227.6 L653.3,227.7 L653.8,227.7 L654.3,227.7 L654.8,227.7 L655.3,227.7 L655.8,227.7 L656.3,227.7 L656.8,227.7 L657.3,227.7 L657.8,227.7 L658.3,227.7 L658.8,227.7 L659.3,227.7 L659.8,227.7 L660.3,227.7 L660.8,227.7 L661.3,227.7 L661.8,227.7 L662.3,227.7 L662.8,227.7 L663.3,227.7 L663.8,227.7 L664.3,227.7 L664.8,227.7 L665.3,227.7 L665.8,227.7 L666.3,227.7 L666.8,227.7 L667.3,227.7 L667.8,227.7 L668.3,227.7 L668.8,227.7 L669.3,227.7 L669.8,227.7 L670.3,227.7 L670.8,227.7 L671.3,227.7 L671.8,227.7 L672.3,227.7 L672.8,227.7 L673.3,227.7 L673.8,227.7 L674.3,227.7 L674.8,227.7 L675.3,227.7 L675.8,227.8 L676.3,227.8 L676.8,227.8 L677.3,227.8 L677.8,227.8 L678.3,227.8 L678.8,227.8 L679.3,227.8 L679.8,227.8 L680.3,227.8 L680.8,227.8 L681.3,227.8 L681.8,227.8 L682.3,227.8 L682.8,227.8 L683.3,227.8 L683.8,227.8 L684.3,227.8 L684.8,227.8 L685.3,227.8 L685.8,227.8 L686.3,227.8 L686.8,227.8 L687.3,227.8 L687.8,227.8 L688.3,227.8 L688.8,227.8 L689.3,227.8 L689.8,227.8 L690.3,227.8 L690.8,227.8" fill="none" stroke="#9896dc" stroke-width="2"/>
<line x1="493.3" y1="51" x2="493.3" y2="258.4" stroke="#1a1a1a" stroke-width="1.1" stroke-dasharray="2 2"/>
</g>
<rect x="415.8" y="32.1" width="275.2" height="226.3" fill="none" stroke="#4a4a4a" stroke-width="1.3"/>
<text x="415.5" y="276" font-size="14.9" fill="#1a1a1a" text-anchor="middle" stroke="#1a1a1a" stroke-width="0.3">526</text>
<line x1="454.9" y1="258.4" x2="454.9" y2="254.4" stroke="#4a4a4a" stroke-width="1.1"/>
<text x="454.9" y="276" font-size="14.9" fill="#1a1a1a" text-anchor="middle" stroke="#1a1a1a" stroke-width="0.3">528</text>
<line x1="494.2" y1="258.4" x2="494.2" y2="254.4" stroke="#4a4a4a" stroke-width="1.1"/>
<text x="494.2" y="276" font-size="14.9" fill="#1a1a1a" text-anchor="middle" stroke="#1a1a1a" stroke-width="0.3">530</text>
<line x1="533.6" y1="258.4" x2="533.6" y2="254.4" stroke="#4a4a4a" stroke-width="1.1"/>
<text x="533.6" y="276" font-size="14.9" fill="#1a1a1a" text-anchor="middle" stroke="#1a1a1a" stroke-width="0.3">532</text>
<line x1="572.9" y1="258.4" x2="572.9" y2="254.4" stroke="#4a4a4a" stroke-width="1.1"/>
<text x="572.9" y="276" font-size="14.9" fill="#1a1a1a" text-anchor="middle" stroke="#1a1a1a" stroke-width="0.3">534</text>
<line x1="612.3" y1="258.4" x2="612.3" y2="254.4" stroke="#4a4a4a" stroke-width="1.1"/>
<text x="612.3" y="276" font-size="14.9" fill="#1a1a1a" text-anchor="middle" stroke="#1a1a1a" stroke-width="0.3">536</text>
<line x1="651.6" y1="258.4" x2="651.6" y2="254.4" stroke="#4a4a4a" stroke-width="1.1"/>
<text x="651.6" y="276" font-size="14.9" fill="#1a1a1a" text-anchor="middle" stroke="#1a1a1a" stroke-width="0.3">538</text>
<text x="691" y="276" font-size="14.9" fill="#1a1a1a" text-anchor="middle" stroke="#1a1a1a" stroke-width="0.3">540</text>
<text x="480.8" y="291.8" font-size="15.1" fill="#1a1a1a" stroke="#1a1a1a" stroke-width="0.3">Binding Energy (eV)</text>
<text transform="translate(407.2,139.1) rotate(-90)" font-size="15" fill="#1a1a1a" text-anchor="middle" stroke="#1a1a1a" stroke-width="0.3">Intensity (a.u.)</text>
<text x="421.9" y="51.5" font-size="15.1" fill="#1a1a1a" stroke="#1a1a1a" stroke-width="0.3">O 1s</text>
<text x="498.2" y="250" font-size="10.9" fill="#222" stroke="#222" stroke-width="0.3">529.9 eV</text>
<text x="687.1" y="249.6" font-size="15.1" fill="#1a1a1a" text-anchor="end" stroke="#1a1a1a" stroke-width="0.3">NiOx+SAM</text>
<text x="508" y="78.1" font-size="14.8" fill="#8db3e2" stroke="#8db3e2" stroke-width="0.3">Ni<tspan font-size="10" dy="-6">2+</tspan><tspan dy="6">(O</tspan><tspan font-size="10" dy="-6">2-</tspan><tspan dy="6">)</tspan></text>
<text x="554.2" y="132.8" font-size="14.8" fill="#1ec6c8" stroke="#1ec6c8" stroke-width="0.3">Ni<tspan font-size="10" dy="-6">3+</tspan><tspan dy="6">(O</tspan><tspan font-size="10" dy="-6">2-</tspan><tspan dy="6">;-OH);</tspan></text>
<text x="554.2" y="150" font-size="14.8" fill="#1ec6c8" stroke="#1ec6c8" stroke-width="0.3">P=O;Ni-P-O</text>
<text x="582.8" y="213.2" font-size="14.8" fill="#f0a2ca" stroke="#f0a2ca" stroke-width="0.3">C-O-C</text>
<g clip-path="url(#clipc)">
<path d="M755.7,231.9 L756.2,231.9 L756.7,231.9 L757.2,231.9 L757.7,231.9 L758.2,231.9 L758.7,231.9 L759.2,231.8 L759.7,231.8 L760.2,231.8 L760.7,231.8 L761.2,231.8 L761.7,231.8 L762.2,231.8 L762.7,231.7 L763.2,231.7 L763.7,231.7 L764.2,231.7 L764.7,231.7 L765.2,231.7 L765.7,231.7 L766.2,231.6 L766.7,231.6 L767.2,231.6 L767.7,231.6 L768.2,231.6 L768.7,231.6 L769.2,231.6 L769.7,231.5 L770.2,231.5 L770.7,231.5 L771.2,231.5 L771.7,231.5 L772.2,231.5 L772.7,231.4 L773.2,231.4 L773.7,231.4 L774.2,231.4 L774.7,231.4 L775.2,231.4 L775.7,231.3 L776.2,231.3 L776.7,231.3 L777.2,231.3 L777.7,231.2 L778.2,231.2 L778.7,231.2 L779.2,231.2 L779.7,231.2 L780.2,231.1 L780.7,231.1 L781.2,231.1 L781.7,231.1 L782.2,231 L782.7,231 L783.2,231 L783.7,230.9 L784.2,230.9 L784.7,230.9 L785.2,230.8 L785.7,230.8 L786.2,230.8 L786.7,230.7 L787.2,230.7 L787.7,230.7 L788.2,230.6 L788.7,230.6 L789.2,230.6 L789.7,230.5 L790.2,230.5 L790.7,230.4 L791.2,230.4 L791.7,230.3 L792.2,230.3 L792.7,230.3 L793.2,230.2 L793.7,230.2 L794.2,230.1 L794.7,230 L795.2,230 L795.7,229.9 L796.2,229.9 L796.7,229.8 L797.2,229.8 L797.7,229.7 L798.2,229.6 L798.7,229.6 L799.2,229.5 L799.7,229.4 L800.2,229.3 L800.7,229.3 L801.2,229.2 L801.7,229.1 L802.2,229 L802.7,228.9 L803.2,228.8 L803.7,228.7 L804.2,228.5 L804.7,228.4 L805.2,228.2 L805.7,228.1 L806.2,227.9 L806.7,227.7 L807.2,227.4 L807.7,227.2 L808.2,226.9 L808.7,226.6 L809.2,226.2 L809.7,225.8 L810.2,225.3 L810.7,224.8 L811.2,224.1 L811.7,223.5 L812.2,222.7 L812.7,221.8 L813.2,220.9 L813.7,219.8 L814.2,218.6 L814.7,217.2 L815.2,215.7 L815.7,214 L816.2,212.2 L816.7,210.1 L817.2,207.9 L817.7,205.4 L818.2,202.7 L818.7,199.8 L819.2,196.7 L819.7,193.3 L820.2,189.7 L820.7,185.8 L821.2,181.6 L821.7,177.2 L822.2,172.6 L822.7,167.8 L823.2,162.7 L823.7,157.4 L824.2,151.9 L824.7,146.3 L825.2,140.6 L825.7,134.7 L826.2,128.8 L826.7,122.8 L827.2,116.9 L827.7,110.9 L828.2,105.1 L828.7,99.3 L829.2,93.8 L829.7,88.4 L830.2,83.2 L830.7,78.4 L831.2,73.8 L831.7,72.7 L832.2,72.7 L832.7,72.7 L833.2,72.7 L833.7,72.7 L834.2,72.7 L834.7,72.7 L835.2,72.7 L835.7,73.4 L836.2,74.7 L836.7,76.8 L837.2,79.5 L837.7,82.9 L838.2,86.7 L838.7,91.1 L839.2,95.9 L839.7,101 L840.2,106.4 L840.7,112 L841.2,117.8 L841.7,123.6 L842.2,129.5 L842.7,135.4 L843.2,141.2 L843.7,146.8 L844.2,152.4 L844.7,157.8 L845.2,162.9 L845.7,167.9 L846.2,172.6 L846.7,177.1 L847.2,181.3 L847.7,185.3 L848.2,189 L848.7,192.4 L849.2,195.6 L849.7,198.5 L850.2,201.2 L850.7,203.7 L851.2,205.9 L851.7,207.9 L852.2,209.7 L852.7,211.3 L853.2,212.8 L853.7,214.1 L854.2,215.3 L854.7,216.3 L855.2,217.2 L855.7,218 L856.2,218.7 L856.7,219.3 L857.2,219.8 L857.7,220.3 L858.2,220.7 L858.7,221.1 L859.2,221.4 L859.7,221.7 L860.2,221.9 L860.7,222.1 L861.2,222.3 L861.7,222.4 L862.2,222.6 L862.7,222.7 L863.2,222.8 L863.7,222.9 L864.2,223 L864.7,223.1 L865.2,223.1 L865.7,223.2 L866.2,223.2 L866.7,223.3 L867.2,223.3 L867.7,223.3 L868.2,223.4 L868.7,223.4 L869.2,223.4 L869.7,223.4 L870.2,223.4 L870.7,223.4 L871.2,223.5 L871.7,223.5 L872.2,223.5 L872.7,223.5 L873.2,223.5 L873.7,223.4 L874.2,223.4 L874.7,223.4 L875.2,223.4 L875.7,223.4 L876.2,223.4 L876.7,223.4 L877.2,223.3 L877.7,223.3 L878.2,223.3 L878.7,223.3 L879.2,223.2 L879.7,223.2 L880.2,223.2 L880.7,223.1 L881.2,223.1 L881.7,223.1 L882.2,223 L882.7,223 L883.2,223 L883.7,222.9 L884.2,222.9 L884.7,222.9 L885.2,222.8 L885.7,222.8 L886.2,222.7 L886.7,222.7 L887.2,222.7 L887.7,222.6 L888.2,222.6 L888.7,222.5 L889.2,222.5 L889.7,222.5 L890.2,222.4 L890.7,222.4 L891.2,222.3 L891.7,222.3 L892.2,222.3 L892.7,222.2 L893.2,222.2 L893.7,222.2 L894.2,222.1 L894.7,222.1 L895.2,222.1 L895.7,222 L896.2,222 L896.7,222 L897.2,221.9 L897.7,221.9 L898.2,221.9 L898.7,221.8 L899.2,221.8 L899.7,221.8 L900.2,221.8 L900.7,221.7 L901.2,221.7 L901.7,221.7 L902.2,221.7 L902.7,221.6 L903.2,221.6 L903.7,221.6 L904.2,221.6 L904.7,221.5 L905.2,221.5 L905.7,221.5 L906.2,221.5 L906.7,221.4 L907.2,221.4 L907.7,221.4 L908.2,221.4 L908.7,221.4 L909.2,221.3 L909.7,221.3 L910.2,221.3 L910.7,221.3 L911.2,221.3 L911.7,221.2 L912.2,221.2 L912.7,221.2 L913.2,221.2 L913.7,221.2 L914.2,221.1 L914.7,221.1 L915.2,221.1 L915.7,221.1 L916.2,221.1 L916.7,221.1 L917.2,221 L917.7,221 L918.2,221 L918.7,221 L919.2,221 L919.7,221 L920.2,221 L920.7,220.9 L921.2,220.9 L921.7,220.9 L922.2,220.9 L922.7,220.9 L923.2,220.9 L923.2,221.3 L922.7,221.3 L922.2,221.4 L921.7,221.4 L921.2,221.4 L920.7,221.4 L920.2,221.4 L919.7,221.5 L919.2,221.5 L918.7,221.5 L918.2,221.5 L917.7,221.6 L917.2,221.6 L916.7,221.6 L916.2,221.6 L915.7,221.6 L915.2,221.7 L914.7,221.7 L914.2,221.7 L913.7,221.7 L913.2,221.8 L912.7,221.8 L912.2,221.8 L911.7,221.8 L911.2,221.9 L910.7,221.9 L910.2,221.9 L909.7,222 L909.2,222 L908.7,222 L908.2,222 L907.7,222.1 L907.2,222.1 L906.7,222.1 L906.2,222.2 L905.7,222.2 L905.2,222.2 L904.7,222.3 L904.2,222.3 L903.7,222.3 L903.2,222.4 L902.7,222.4 L902.2,222.4 L901.7,222.5 L901.2,222.5 L900.7,222.5 L900.2,222.6 L899.7,222.6 L899.2,222.7 L898.7,222.7 L898.2,222.7 L897.7,222.8 L897.2,222.8 L896.7,222.9 L896.2,222.9 L895.7,223 L895.2,223 L894.7,223.1 L894.2,223.1 L893.7,223.2 L893.2,223.2 L892.7,223.3 L892.2,223.3 L891.7,223.4 L891.2,223.5 L890.7,223.5 L890.2,223.6 L889.7,223.6 L889.2,223.7 L888.7,223.8 L888.2,223.8 L887.7,223.9 L887.2,223.9 L886.7,224 L886.2,224.1 L885.7,224.1 L885.2,224.2 L884.7,224.3 L884.2,224.3 L883.7,224.4 L883.2,224.5 L882.7,224.5 L882.2,224.6 L881.7,224.7 L881.2,224.7 L880.7,224.8 L880.2,224.9 L879.7,224.9 L879.2,225 L878.7,225.1 L878.2,225.1 L877.7,225.2 L877.2,225.3 L876.7,225.3 L876.2,225.4 L875.7,225.5 L875.2,225.5 L874.7,225.6 L874.2,225.7 L873.7,225.7 L873.2,225.8 L872.7,225.9 L872.2,225.9 L871.7,226 L871.2,226.1 L870.7,226.1 L870.2,226.2 L869.7,226.2 L869.2,226.3 L868.7,226.4 L868.2,226.4 L867.7,226.5 L867.2,226.5 L866.7,226.6 L866.2,226.7 L865.7,226.7 L865.2,226.8 L864.7,226.9 L864.2,226.9 L863.7,227 L863.2,227.1 L862.7,227.1 L862.2,227.2 L861.7,227.3 L861.2,227.3 L860.7,227.4 L860.2,227.5 L859.7,227.5 L859.2,227.6 L858.7,227.7 L858.2,227.7 L857.7,227.8 L857.2,227.9 L856.7,227.9 L856.2,228 L855.7,228.1 L855.2,228.1 L854.7,228.2 L854.2,228.3 L853.7,228.3 L853.2,228.4 L852.7,228.5 L852.2,228.5 L851.7,228.6 L851.2,228.7 L850.7,228.7 L850.2,228.8 L849.7,228.9 L849.2,228.9 L848.7,229 L848.2,229 L847.7,229.1 L847.2,229.2 L846.7,229.2 L846.2,229.3 L845.7,229.4 L845.2,229.4 L844.7,229.5 L844.2,229.6 L843.7,229.6 L843.2,229.7 L842.7,229.7 L842.2,229.8 L841.7,229.9 L841.2,229.9 L840.7,230 L840.2,230 L839.7,230.1 L839.2,230.1 L838.7,230.2 L838.2,230.3 L837.7,230.3 L837.2,230.4 L836.7,230.4 L836.2,230.5 L835.7,230.5 L835.2,230.6 L834.7,230.6 L834.2,230.7 L833.7,230.7 L833.2,230.8 L832.7,230.8 L832.2,230.9 L831.7,230.9 L831.2,231 L830.7,231 L830.2,231.1 L829.7,231.1 L829.2,231.2 L828.7,231.2 L828.2,231.3 L827.7,231.3 L827.2,231.4 L826.7,231.4 L826.2,231.4 L825.7,231.5 L825.2,231.5 L824.7,231.6 L824.2,231.6 L823.7,231.7 L823.2,231.7 L822.7,231.8 L822.2,231.8 L821.7,231.8 L821.2,231.9 L820.7,231.9 L820.2,232 L819.7,232 L819.2,232.1 L818.7,232.1 L818.2,232.1 L817.7,232.2 L817.2,232.2 L816.7,232.3 L816.2,232.3 L815.7,232.3 L815.2,232.4 L814.7,232.4 L814.2,232.4 L813.7,232.5 L813.2,232.5 L812.7,232.5 L812.2,232.6 L811.7,232.6 L811.2,232.6 L810.7,232.7 L810.2,232.7 L809.7,232.7 L809.2,232.8 L808.7,232.8 L808.2,232.8 L807.7,232.8 L807.2,232.9 L806.7,232.9 L806.2,232.9 L805.7,233 L805.2,233 L804.7,233 L804.2,233 L803.7,233.1 L803.2,233.1 L802.7,233.1 L802.2,233.1 L801.7,233.1 L801.2,233.2 L800.7,233.2 L800.2,233.2 L799.7,233.2 L799.2,233.2 L798.7,233.2 L798.2,233.3 L797.7,233.3 L797.2,233.3 L796.7,233.3 L796.2,233.3 L795.7,233.3 L795.2,233.3 L794.7,233.3 L794.2,233.4 L793.7,233.4 L793.2,233.4 L792.7,233.4 L792.2,233.4 L791.7,233.4 L791.2,233.4 L790.7,233.4 L790.2,233.4 L789.7,233.4 L789.2,233.4 L788.7,233.4 L788.2,233.4 L787.7,233.4 L787.2,233.5 L786.7,233.5 L786.2,233.5 L785.7,233.5 L785.2,233.5 L784.7,233.5 L784.2,233.5 L783.7,233.5 L783.2,233.5 L782.7,233.5 L782.2,233.5 L781.7,233.5 L781.2,233.5 L780.7,233.5 L780.2,233.5 L779.7,233.5 L779.2,233.5 L778.7,233.5 L778.2,233.5 L777.7,233.5 L777.2,233.5 L776.7,233.5 L776.2,233.5 L775.7,233.5 L775.2,233.5 L774.7,233.5 L774.2,233.5 L773.7,233.4 L773.2,233.4 L772.7,233.4 L772.2,233.4 L771.7,233.4 L771.2,233.4 L770.7,233.4 L770.2,233.4 L769.7,233.4 L769.2,233.4 L768.7,233.4 L768.2,233.4 L767.7,233.4 L767.2,233.4 L766.7,233.4 L766.2,233.4 L765.7,233.4 L765.2,233.4 L764.7,233.4 L764.2,233.4 L763.7,233.4 L763.2,233.4 L762.7,233.4 L762.2,233.4 L761.7,233.4 L761.2,233.4 L760.7,233.4 L760.2,233.4 L759.7,233.4 L759.2,233.4 L758.7,233.4 L758.2,233.4 L757.7,233.4 L757.2,233.4 L756.7,233.4 L756.2,233.4 L755.7,233.4 Z" fill="url(#gc_0)"/>
<path d="M780.2,231.1 L780.7,231.1 L781.2,231.1 L781.7,231.1 L782.2,231 L782.7,231 L783.2,231 L783.7,230.9 L784.2,230.9 L784.7,230.9 L785.2,230.8 L785.7,230.8 L786.2,230.8 L786.7,230.7 L787.2,230.7 L787.7,230.7 L788.2,230.6 L788.7,230.6 L789.2,230.6 L789.7,230.5 L790.2,230.5 L790.7,230.4 L791.2,230.4 L791.7,230.3 L792.2,230.3 L792.7,230.3 L793.2,230.2 L793.7,230.2 L794.2,230.1 L794.7,230.1 L795.2,230 L795.7,229.9 L796.2,229.9 L796.7,229.8 L797.2,229.8 L797.7,229.7 L798.2,229.6 L798.7,229.6 L799.2,229.5 L799.7,229.4 L800.2,229.4 L800.7,229.3 L801.2,229.2 L801.7,229.2 L802.2,229.1 L802.7,229 L803.2,228.9 L803.7,228.8 L804.2,228.8 L804.7,228.7 L805.2,228.6 L805.7,228.5 L806.2,228.4 L806.7,228.3 L807.2,228.2 L807.7,228.1 L808.2,228 L808.7,227.9 L809.2,227.8 L809.7,227.7 L810.2,227.6 L810.7,227.4 L811.2,227.3 L811.7,227.2 L812.2,227.1 L812.7,226.9 L813.2,226.8 L813.7,226.7 L814.2,226.5 L814.7,226.4 L815.2,226.2 L815.7,226.1 L816.2,225.9 L816.7,225.8 L817.2,225.6 L817.7,225.4 L818.2,225.2 L818.7,225.1 L819.2,224.9 L819.7,224.7 L820.2,224.5 L820.7,224.3 L821.2,224 L821.7,223.8 L822.2,223.6 L822.7,223.3 L823.2,223.1 L823.7,222.8 L824.2,222.5 L824.7,222.3 L825.2,222 L825.7,221.6 L826.2,221.3 L826.7,221 L827.2,220.6 L827.7,220.3 L828.2,219.9 L828.7,219.5 L829.2,219 L829.7,218.6 L830.2,218.1 L830.7,217.7 L831.2,217.1 L831.7,216.6 L832.2,216.1 L832.7,215.5 L833.2,214.9 L833.7,214.2 L834.2,213.6 L834.7,212.9 L835.2,212.1 L835.7,211.4 L836.2,210.6 L836.7,209.7 L837.2,208.8 L837.7,207.9 L838.2,207 L838.7,206 L839.2,204.9 L839.7,203.8 L840.2,202.7 L840.7,201.5 L841.2,200.3 L841.7,199 L842.2,197.7 L842.7,196.4 L843.2,194.9 L843.7,193.5 L844.2,191.9 L844.7,190.4 L845.2,188.7 L845.7,187.1 L846.2,185.3 L846.7,183.6 L847.2,181.7 L847.7,179.8 L848.2,177.9 L848.7,175.9 L849.2,173.9 L849.7,171.8 L850.2,169.7 L850.7,167.5 L851.2,165.3 L851.7,163.1 L852.2,160.8 L852.7,158.5 L853.2,156.2 L853.7,153.8 L854.2,151.4 L854.7,149 L855.2,146.6 L855.7,144.1 L856.2,141.7 L856.7,139.2 L857.2,136.8 L857.7,134.4 L858.2,132 L858.7,129.6 L859.2,127.3 L859.7,125 L860.2,122.8 L860.7,120.6 L861.2,118.5 L861.7,116.5 L862.2,114.5 L862.7,112.7 L863.2,111 L863.7,109.3 L864.2,107.9 L864.7,106.5 L865.2,105.3 L865.7,104.2 L866.2,103.4 L866.7,102.6 L867.2,102.1 L867.7,101.7 L868.2,101.4 L868.7,101.4 L869.2,101.5 L869.7,101.8 L870.2,102.2 L870.7,102.9 L871.2,103.6 L871.7,104.5 L872.2,105.6 L872.7,106.8 L873.2,108.2 L873.7,109.6 L874.2,111.2 L874.7,112.9 L875.2,114.7 L875.7,116.6 L876.2,118.6 L876.7,120.7 L877.2,122.8 L877.7,125.1 L878.2,127.3 L878.7,129.7 L879.2,132 L879.7,134.4 L880.2,136.8 L880.7,139.3 L881.2,141.7 L881.7,144.2 L882.2,146.7 L882.7,149.2 L883.2,151.6 L883.7,154 L884.2,156.5 L884.7,158.9 L885.2,161.2 L885.7,163.6 L886.2,165.9 L886.7,168.1 L887.2,170.3 L887.7,172.5 L888.2,174.6 L888.7,176.6 L889.2,178.7 L889.7,180.6 L890.2,182.5 L890.7,184.3 L891.2,186.1 L891.7,187.8 L892.2,189.5 L892.7,191.1 L893.2,192.6 L893.7,194.1 L894.2,195.5 L894.7,196.9 L895.2,198.1 L895.7,199.4 L896.2,200.6 L896.7,201.7 L897.2,202.8 L897.7,203.8 L898.2,204.8 L898.7,205.7 L899.2,206.6 L899.7,207.4 L900.2,208.2 L900.7,208.9 L901.2,209.6 L901.7,210.2 L902.2,210.8 L902.7,211.4 L903.2,212 L903.7,212.5 L904.2,212.9 L904.7,213.4 L905.2,213.8 L905.7,214.2 L906.2,214.5 L906.7,214.9 L907.2,215.2 L907.7,215.5 L908.2,215.8 L908.7,216 L909.2,216.2 L909.7,216.5 L910.2,216.7 L910.7,216.8 L911.2,217 L911.7,217.2 L912.2,217.3 L912.7,217.5 L913.2,217.6 L913.7,217.7 L914.2,217.8 L914.7,217.9 L915.2,218 L915.7,218.1 L916.2,218.2 L916.7,218.3 L917.2,218.3 L917.7,218.4 L918.2,218.5 L918.7,218.5 L919.2,218.6 L919.7,218.6 L920.2,218.7 L920.7,218.7 L921.2,218.7 L921.7,218.8 L922.2,218.8 L922.7,218.8 L923.2,218.9 L923.7,218.9 L924.2,218.9 L924.7,219 L925.2,219 L925.7,219 L926.2,219 L926.7,219 L927.2,219.1 L927.7,219.1 L928.2,219.1 L928.7,219.1 L929.2,219.1 L929.7,219.1 L930.2,219.2 L930.7,219.2 L931.2,219.2 L931.7,219.2 L932.2,219.2 L932.7,219.2 L933.2,219.2 L933.7,219.2 L934.2,219.3 L934.7,219.3 L935.2,219.3 L935.7,219.3 L936.2,219.3 L936.7,219.3 L937.2,219.3 L937.7,219.3 L938.2,219.3 L938.7,219.3 L939.2,219.3 L939.7,219.3 L940.2,219.4 L940.7,219.4 L941.2,219.4 L941.7,219.4 L942.2,219.4 L942.7,219.4 L943.2,219.4 L943.7,219.4 L944.2,219.4 L944.7,219.4 L945.2,219.4 L945.7,219.4 L946.2,219.4 L946.7,219.4 L947.2,219.4 L947.7,219.4 L948.2,219.4 L948.7,219.4 L949.2,219.5 L949.7,219.5 L950.2,219.5 L950.7,219.5 L951.2,219.5 L951.7,219.5 L952.2,219.5 L952.7,219.5 L953.2,219.5 L953.7,219.5 L954.2,219.5 L954.7,219.5 L955.2,219.5 L955.7,219.5 L956.2,219.5 L956.7,219.5 L956.7,220.5 L956.2,220.5 L955.7,220.5 L955.2,220.5 L954.7,220.5 L954.2,220.5 L953.7,220.5 L953.2,220.6 L952.7,220.6 L952.2,220.6 L951.7,220.6 L951.2,220.6 L950.7,220.6 L950.2,220.6 L949.7,220.6 L949.2,220.6 L948.7,220.6 L948.2,220.6 L947.7,220.6 L947.2,220.6 L946.7,220.6 L946.2,220.7 L945.7,220.7 L945.2,220.7 L944.7,220.7 L944.2,220.7 L943.7,220.7 L943.2,220.7 L942.7,220.7 L942.2,220.7 L941.7,220.8 L941.2,220.8 L940.7,220.8 L940.2,220.8 L939.7,220.8 L939.2,220.8 L938.7,220.8 L938.2,220.8 L937.7,220.9 L937.2,220.9 L936.7,220.9 L936.2,220.9 L935.7,220.9 L935.2,220.9 L934.7,220.9 L934.2,221 L933.7,221 L933.2,221 L932.7,221 L932.2,221 L931.7,221 L931.2,221.1 L930.7,221.1 L930.2,221.1 L929.7,221.1 L929.2,221.1 L928.7,221.1 L928.2,221.1 L927.7,221.2 L927.2,221.2 L926.7,221.2 L926.2,221.2 L925.7,221.2 L925.2,221.3 L924.7,221.3 L924.2,221.3 L923.7,221.3 L923.2,221.3 L922.7,221.3 L922.2,221.4 L921.7,221.4 L921.2,221.4 L920.7,221.4 L920.2,221.4 L919.7,221.5 L919.2,221.5 L918.7,221.5 L918.2,221.5 L917.7,221.6 L917.2,221.6 L916.7,221.6 L916.2,221.6 L915.7,221.6 L915.2,221.7 L914.7,221.7 L914.2,221.7 L913.7,221.7 L913.2,221.8 L912.7,221.8 L912.2,221.8 L911.7,221.8 L911.2,221.9 L910.7,221.9 L910.2,221.9 L909.7,222 L909.2,222 L908.7,222 L908.2,222 L907.7,222.1 L907.2,222.1 L906.7,222.1 L906.2,222.2 L905.7,222.2 L905.2,222.2 L904.7,222.3 L904.2,222.3 L903.7,222.3 L903.2,222.4 L902.7,222.4 L902.2,222.4 L901.7,222.5 L901.2,222.5 L900.7,222.5 L900.2,222.6 L899.7,222.6 L899.2,222.7 L898.7,222.7 L898.2,222.7 L897.7,222.8 L897.2,222.8 L896.7,222.9 L896.2,222.9 L895.7,223 L895.2,223 L894.7,223.1 L894.2,223.1 L893.7,223.2 L893.2,223.2 L892.7,223.3 L892.2,223.3 L891.7,223.4 L891.2,223.5 L890.7,223.5 L890.2,223.6 L889.7,223.6 L889.2,223.7 L888.7,223.8 L888.2,223.8 L887.7,223.9 L887.2,223.9 L886.7,224 L886.2,224.1 L885.7,224.1 L885.2,224.2 L884.7,224.3 L884.2,224.3 L883.7,224.4 L883.2,224.5 L882.7,224.5 L882.2,224.6 L881.7,224.7 L881.2,224.7 L880.7,224.8 L880.2,224.9 L879.7,224.9 L879.2,225 L878.7,225.1 L878.2,225.1 L877.7,225.2 L877.2,225.3 L876.7,225.3 L876.2,225.4 L875.7,225.5 L875.2,225.5 L874.7,225.6 L874.2,225.7 L873.7,225.7 L873.2,225.8 L872.7,225.9 L872.2,225.9 L871.7,226 L871.2,226.1 L870.7,226.1 L870.2,226.2 L869.7,226.2 L869.2,226.3 L868.7,226.4 L868.2,226.4 L867.7,226.5 L867.2,226.5 L866.7,226.6 L866.2,226.7 L865.7,226.7 L865.2,226.8 L864.7,226.9 L864.2,226.9 L863.7,227 L863.2,227.1 L862.7,227.1 L862.2,227.2 L861.7,227.3 L861.2,227.3 L860.7,227.4 L860.2,227.5 L859.7,227.5 L859.2,227.6 L858.7,227.7 L858.2,227.7 L857.7,227.8 L857.2,227.9 L856.7,227.9 L856.2,228 L855.7,228.1 L855.2,228.1 L854.7,228.2 L854.2,228.3 L853.7,228.3 L853.2,228.4 L852.7,228.5 L852.2,228.5 L851.7,228.6 L851.2,228.7 L850.7,228.7 L850.2,228.8 L849.7,228.9 L849.2,228.9 L848.7,229 L848.2,229 L847.7,229.1 L847.2,229.2 L846.7,229.2 L846.2,229.3 L845.7,229.4 L845.2,229.4 L844.7,229.5 L844.2,229.6 L843.7,229.6 L843.2,229.7 L842.7,229.7 L842.2,229.8 L841.7,229.9 L841.2,229.9 L840.7,230 L840.2,230 L839.7,230.1 L839.2,230.1 L838.7,230.2 L838.2,230.3 L837.7,230.3 L837.2,230.4 L836.7,230.4 L836.2,230.5 L835.7,230.5 L835.2,230.6 L834.7,230.6 L834.2,230.7 L833.7,230.7 L833.2,230.8 L832.7,230.8 L832.2,230.9 L831.7,230.9 L831.2,231 L830.7,231 L830.2,231.1 L829.7,231.1 L829.2,231.2 L828.7,231.2 L828.2,231.3 L827.7,231.3 L827.2,231.4 L826.7,231.4 L826.2,231.4 L825.7,231.5 L825.2,231.5 L824.7,231.6 L824.2,231.6 L823.7,231.7 L823.2,231.7 L822.7,231.8 L822.2,231.8 L821.7,231.8 L821.2,231.9 L820.7,231.9 L820.2,232 L819.7,232 L819.2,232.1 L818.7,232.1 L818.2,232.1 L817.7,232.2 L817.2,232.2 L816.7,232.3 L816.2,232.3 L815.7,232.3 L815.2,232.4 L814.7,232.4 L814.2,232.4 L813.7,232.5 L813.2,232.5 L812.7,232.5 L812.2,232.6 L811.7,232.6 L811.2,232.6 L810.7,232.7 L810.2,232.7 L809.7,232.7 L809.2,232.8 L808.7,232.8 L808.2,232.8 L807.7,232.8 L807.2,232.9 L806.7,232.9 L806.2,232.9 L805.7,233 L805.2,233 L804.7,233 L804.2,233 L803.7,233.1 L803.2,233.1 L802.7,233.1 L802.2,233.1 L801.7,233.1 L801.2,233.2 L800.7,233.2 L800.2,233.2 L799.7,233.2 L799.2,233.2 L798.7,233.2 L798.2,233.3 L797.7,233.3 L797.2,233.3 L796.7,233.3 L796.2,233.3 L795.7,233.3 L795.2,233.3 L794.7,233.3 L794.2,233.4 L793.7,233.4 L793.2,233.4 L792.7,233.4 L792.2,233.4 L791.7,233.4 L791.2,233.4 L790.7,233.4 L790.2,233.4 L789.7,233.4 L789.2,233.4 L788.7,233.4 L788.2,233.4 L787.7,233.4 L787.2,233.5 L786.7,233.5 L786.2,233.5 L785.7,233.5 L785.2,233.5 L784.7,233.5 L784.2,233.5 L783.7,233.5 L783.2,233.5 L782.7,233.5 L782.2,233.5 L781.7,233.5 L781.2,233.5 L780.7,233.5 L780.2,233.5 Z" fill="url(#gc_1)"/>
<path d="M809.7,232.7 L810.2,232.7 L810.7,232.7 L811.2,232.6 L811.7,232.6 L812.2,232.6 L812.7,232.5 L813.2,232.5 L813.7,232.5 L814.2,232.4 L814.7,232.4 L815.2,232.4 L815.7,232.3 L816.2,232.3 L816.7,232.3 L817.2,232.2 L817.7,232.2 L818.2,232.1 L818.7,232.1 L819.2,232.1 L819.7,232 L820.2,232 L820.7,231.9 L821.2,231.9 L821.7,231.8 L822.2,231.8 L822.7,231.8 L823.2,231.7 L823.7,231.7 L824.2,231.6 L824.7,231.6 L825.2,231.5 L825.7,231.5 L826.2,231.4 L826.7,231.4 L827.2,231.4 L827.7,231.3 L828.2,231.3 L828.7,231.2 L829.2,231.2 L829.7,231.1 L830.2,231.1 L830.7,231 L831.2,231 L831.7,230.9 L832.2,230.9 L832.7,230.8 L833.2,230.8 L833.7,230.7 L834.2,230.7 L834.7,230.6 L835.2,230.6 L835.7,230.5 L836.2,230.5 L836.7,230.4 L837.2,230.3 L837.7,230.3 L838.2,230.2 L838.7,230.2 L839.2,230.1 L839.7,230 L840.2,230 L840.7,229.9 L841.2,229.8 L841.7,229.8 L842.2,229.7 L842.7,229.6 L843.2,229.6 L843.7,229.5 L844.2,229.4 L844.7,229.3 L845.2,229.3 L845.7,229.2 L846.2,229.1 L846.7,229 L847.2,228.9 L847.7,228.8 L848.2,228.8 L848.7,228.7 L849.2,228.6 L849.7,228.5 L850.2,228.4 L850.7,228.3 L851.2,228.1 L851.7,228 L852.2,227.9 L852.7,227.8 L853.2,227.6 L853.7,227.5 L854.2,227.4 L854.7,227.2 L855.2,227.1 L855.7,226.9 L856.2,226.7 L856.7,226.6 L857.2,226.4 L857.7,226.2 L858.2,226 L858.7,225.8 L859.2,225.6 L859.7,225.3 L860.2,225.1 L860.7,224.9 L861.2,224.6 L861.7,224.3 L862.2,224 L862.7,223.7 L863.2,223.4 L863.7,223.1 L864.2,222.8 L864.7,222.4 L865.2,222 L865.7,221.7 L866.2,221.3 L866.7,220.8 L867.2,220.4 L867.7,220 L868.2,219.5 L868.7,219 L869.2,218.5 L869.7,218 L870.2,217.5 L870.7,216.9 L871.2,216.4 L871.7,215.8 L872.2,215.2 L872.7,214.5 L873.2,213.9 L873.7,213.2 L874.2,212.6 L874.7,211.9 L875.2,211.1 L875.7,210.4 L876.2,209.7 L876.7,208.9 L877.2,208.2 L877.7,207.4 L878.2,206.6 L878.7,205.8 L879.2,205 L879.7,204.1 L880.2,203.3 L880.7,202.5 L881.2,201.7 L881.7,200.8 L882.2,200 L882.7,199.1 L883.2,198.3 L883.7,197.5 L884.2,196.6 L884.7,195.8 L885.2,195 L885.7,194.2 L886.2,193.4 L886.7,192.6 L887.2,191.9 L887.7,191.1 L888.2,190.4 L888.7,189.7 L889.2,189 L889.7,188.4 L890.2,187.7 L890.7,187.1 L891.2,186.6 L891.7,186 L892.2,185.5 L892.7,185 L893.2,184.6 L893.7,184.2 L894.2,183.8 L894.7,183.5 L895.2,183.2 L895.7,182.9 L896.2,182.7 L896.7,182.6 L897.2,182.4 L897.7,182.3 L898.2,182.3 L898.7,182.3 L899.2,182.4 L899.7,182.5 L900.2,182.7 L900.7,182.9 L901.2,183.2 L901.7,183.5 L902.2,183.9 L902.7,184.3 L903.2,184.8 L903.7,185.3 L904.2,185.9 L904.7,186.5 L905.2,187.2 L905.7,187.8 L906.2,188.5 L906.7,189.3 L907.2,190.1 L907.7,190.8 L908.2,191.7 L908.7,192.5 L909.2,193.3 L909.7,194.2 L910.2,195 L910.7,195.9 L911.2,196.8 L911.7,197.7 L912.2,198.5 L912.7,199.4 L913.2,200.3 L913.7,201.1 L914.2,202 L914.7,202.8 L915.2,203.6 L915.7,204.4 L916.2,205.2 L916.7,206 L917.2,206.8 L917.7,207.5 L918.2,208.2 L918.7,208.9 L919.2,209.6 L919.7,210.2 L920.2,210.8 L920.7,211.4 L921.2,212 L921.7,212.6 L922.2,213.1 L922.7,213.6 L923.2,214.1 L923.7,214.5 L924.2,215 L924.7,215.4 L925.2,215.8 L925.7,216.1 L926.2,216.5 L926.7,216.8 L927.2,217.1 L927.7,217.4 L928.2,217.6 L928.7,217.9 L929.2,218.1 L929.7,218.3 L930.2,218.5 L930.7,218.7 L931.2,218.9 L931.7,219.1 L932.2,219.2 L932.7,219.3 L933.2,219.5 L933.7,219.6 L934.2,219.7 L934.7,219.8 L935.2,219.9 L935.7,219.9 L936.2,220 L936.7,220.1 L937.2,220.1 L937.7,220.2 L938.2,220.2 L938.7,220.3 L939.2,220.3 L939.7,220.3 L940.2,220.3 L940.7,220.4 L941.2,220.4 L941.7,220.4 L942.2,220.4 L942.7,220.4 L943.2,220.4 L943.7,220.4 L944.2,220.5 L944.7,220.5 L945.2,220.5 L945.7,220.5 L946.2,220.5 L946.7,220.5 L947.2,220.5 L947.7,220.5 L948.2,220.5 L948.7,220.5 L949.2,220.5 L949.7,220.5 L950.2,220.5 L950.7,220.5 L951.2,220.5 L951.7,220.5 L952.2,220.5 L952.7,220.5 L953.2,220.5 L953.7,220.4 L954.2,220.4 L954.7,220.4 L955.2,220.4 L955.7,220.4 L956.2,220.4 L956.7,220.4 L957.2,220.4 L957.7,220.4 L958.2,220.4 L958.7,220.4 L959.2,220.4 L959.7,220.4 L960.2,220.4 L960.7,220.4 L961.2,220.4 L961.7,220.4 L962.2,220.4 L962.7,220.4 L963.2,220.4 L963.7,220.4 L964.2,220.4 L964.7,220.4 L965.2,220.4 L965.7,220.4 L966.2,220.4 L966.7,220.4 L967.2,220.4 L967.7,220.4 L968.2,220.4 L968.7,220.4 L969.2,220.4 L969.7,220.4 L970.2,220.4 L970.7,220.4 L971.2,220.4 L971.7,220.4 L972.2,220.4 L972.7,220.4 L973.2,220.4 L973.7,220.4 L974.2,220.4 L974.7,220.4 L975.2,220.4 L975.7,220.4 L976.2,220.4 L976.7,220.4 L977.2,220.4 L977.7,220.4 L978.2,220.4 L978.7,220.4 L979.2,220.4 L979.7,220.4 L980.2,220.4 L980.7,220.4 L981.2,220.3 L981.7,220.3 L982.2,220.3 L982.7,220.3 L983.2,220.3 L983.7,220.3 L984.2,220.3 L984.7,220.3 L985.2,220.3 L985.7,220.3 L986.2,220.3 L986.2,220.4 L985.7,220.4 L985.2,220.4 L984.7,220.4 L984.2,220.4 L983.7,220.4 L983.2,220.4 L982.7,220.4 L982.2,220.4 L981.7,220.4 L981.2,220.4 L980.7,220.4 L980.2,220.4 L979.7,220.4 L979.2,220.4 L978.7,220.4 L978.2,220.4 L977.7,220.4 L977.2,220.4 L976.7,220.4 L976.2,220.4 L975.7,220.4 L975.2,220.4 L974.7,220.4 L974.2,220.4 L973.7,220.4 L973.2,220.4 L972.7,220.4 L972.2,220.4 L971.7,220.4 L971.2,220.4 L970.7,220.4 L970.2,220.4 L969.7,220.4 L969.2,220.5 L968.7,220.5 L968.2,220.5 L967.7,220.5 L967.2,220.5 L966.7,220.5 L966.2,220.5 L965.7,220.5 L965.2,220.5 L964.7,220.5 L964.2,220.5 L963.7,220.5 L963.2,220.5 L962.7,220.5 L962.2,220.5 L961.7,220.5 L961.2,220.5 L960.7,220.5 L960.2,220.5 L959.7,220.5 L959.2,220.5 L958.7,220.5 L958.2,220.5 L957.7,220.5 L957.2,220.5 L956.7,220.5 L956.2,220.5 L955.7,220.5 L955.2,220.5 L954.7,220.5 L954.2,220.5 L953.7,220.5 L953.2,220.6 L952.7,220.6 L952.2,220.6 L951.7,220.6 L951.2,220.6 L950.7,220.6 L950.2,220.6 L949.7,220.6 L949.2,220.6 L948.7,220.6 L948.2,220.6 L947.7,220.6 L947.2,220.6 L946.7,220.6 L946.2,220.7 L945.7,220.7 L945.2,220.7 L944.7,220.7 L944.2,220.7 L943.7,220.7 L943.2,220.7 L942.7,220.7 L942.2,220.7 L941.7,220.8 L941.2,220.8 L940.7,220.8 L940.2,220.8 L939.7,220.8 L939.2,220.8 L938.7,220.8 L938.2,220.8 L937.7,220.9 L937.2,220.9 L936.7,220.9 L936.2,220.9 L935.7,220.9 L935.2,220.9 L934.7,220.9 L934.2,221 L933.7,221 L933.2,221 L932.7,221 L932.2,221 L931.7,221 L931.2,221.1 L930.7,221.1 L930.2,221.1 L929.7,221.1 L929.2,221.1 L928.7,221.1 L928.2,221.1 L927.7,221.2 L927.2,221.2 L926.7,221.2 L926.2,221.2 L925.7,221.2 L925.2,221.3 L924.7,221.3 L924.2,221.3 L923.7,221.3 L923.2,221.3 L922.7,221.3 L922.2,221.4 L921.7,221.4 L921.2,221.4 L920.7,221.4 L920.2,221.4 L919.7,221.5 L919.2,221.5 L918.7,221.5 L918.2,221.5 L917.7,221.6 L917.2,221.6 L916.7,221.6 L916.2,221.6 L915.7,221.6 L915.2,221.7 L914.7,221.7 L914.2,221.7 L913.7,221.7 L913.2,221.8 L912.7,221.8 L912.2,221.8 L911.7,221.8 L911.2,221.9 L910.7,221.9 L910.2,221.9 L909.7,222 L909.2,222 L908.7,222 L908.2,222 L907.7,222.1 L907.2,222.1 L906.7,222.1 L906.2,222.2 L905.7,222.2 L905.2,222.2 L904.7,222.3 L904.2,222.3 L903.7,222.3 L903.2,222.4 L902.7,222.4 L902.2,222.4 L901.7,222.5 L901.2,222.5 L900.7,222.5 L900.2,222.6 L899.7,222.6 L899.2,222.7 L898.7,222.7 L898.2,222.7 L897.7,222.8 L897.2,222.8 L896.7,222.9 L896.2,222.9 L895.7,223 L895.2,223 L894.7,223.1 L894.2,223.1 L893.7,223.2 L893.2,223.2 L892.7,223.3 L892.2,223.3 L891.7,223.4 L891.2,223.5 L890.7,223.5 L890.2,223.6 L889.7,223.6 L889.2,223.7 L888.7,223.8 L888.2,223.8 L887.7,223.9 L887.2,223.9 L886.7,224 L886.2,224.1 L885.7,224.1 L885.2,224.2 L884.7,224.3 L884.2,224.3 L883.7,224.4 L883.2,224.5 L882.7,224.5 L882.2,224.6 L881.7,224.7 L881.2,224.7 L880.7,224.8 L880.2,224.9 L879.7,224.9 L879.2,225 L878.7,225.1 L878.2,225.1 L877.7,225.2 L877.2,225.3 L876.7,225.3 L876.2,225.4 L875.7,225.5 L875.2,225.5 L874.7,225.6 L874.2,225.7 L873.7,225.7 L873.2,225.8 L872.7,225.9 L872.2,225.9 L871.7,226 L871.2,226.1 L870.7,226.1 L870.2,226.2 L869.7,226.2 L869.2,226.3 L868.7,226.4 L868.2,226.4 L867.7,226.5 L867.2,226.5 L866.7,226.6 L866.2,226.7 L865.7,226.7 L865.2,226.8 L864.7,226.9 L864.2,226.9 L863.7,227 L863.2,227.1 L862.7,227.1 L862.2,227.2 L861.7,227.3 L861.2,227.3 L860.7,227.4 L860.2,227.5 L859.7,227.5 L859.2,227.6 L858.7,227.7 L858.2,227.7 L857.7,227.8 L857.2,227.9 L856.7,227.9 L856.2,228 L855.7,228.1 L855.2,228.1 L854.7,228.2 L854.2,228.3 L853.7,228.3 L853.2,228.4 L852.7,228.5 L852.2,228.5 L851.7,228.6 L851.2,228.7 L850.7,228.7 L850.2,228.8 L849.7,228.9 L849.2,228.9 L848.7,229 L848.2,229 L847.7,229.1 L847.2,229.2 L846.7,229.2 L846.2,229.3 L845.7,229.4 L845.2,229.4 L844.7,229.5 L844.2,229.6 L843.7,229.6 L843.2,229.7 L842.7,229.7 L842.2,229.8 L841.7,229.9 L841.2,229.9 L840.7,230 L840.2,230 L839.7,230.1 L839.2,230.1 L838.7,230.2 L838.2,230.3 L837.7,230.3 L837.2,230.4 L836.7,230.4 L836.2,230.5 L835.7,230.5 L835.2,230.6 L834.7,230.6 L834.2,230.7 L833.7,230.7 L833.2,230.8 L832.7,230.8 L832.2,230.9 L831.7,230.9 L831.2,231 L830.7,231 L830.2,231.1 L829.7,231.1 L829.2,231.2 L828.7,231.2 L828.2,231.3 L827.7,231.3 L827.2,231.4 L826.7,231.4 L826.2,231.4 L825.7,231.5 L825.2,231.5 L824.7,231.6 L824.2,231.6 L823.7,231.7 L823.2,231.7 L822.7,231.8 L822.2,231.8 L821.7,231.8 L821.2,231.9 L820.7,231.9 L820.2,232 L819.7,232 L819.2,232.1 L818.7,232.1 L818.2,232.1 L817.7,232.2 L817.2,232.2 L816.7,232.3 L816.2,232.3 L815.7,232.3 L815.2,232.4 L814.7,232.4 L814.2,232.4 L813.7,232.5 L813.2,232.5 L812.7,232.5 L812.2,232.6 L811.7,232.6 L811.2,232.6 L810.7,232.7 L810.2,232.7 L809.7,232.7 Z" fill="url(#gc_2)"/>
<path d="M835.2,72.7 L835.7,73.4 L836.2,74.7 L836.7,76.8 L837.2,79.5 L837.7,82.9 L838.2,86.7 L838.7,91.1 L839.2,95.9 L839.7,101 L840.2,106.4 L840.7,112 L841.2,117.8 L841.7,123.6 L842.2,129.5 L842.7,135.4 L843.2,141.2 L843.7,146.8 L844.2,152.4 L844.7,157.8 L845.2,162.9 L845.7,167.9 L846.2,172.6 L846.7,177.1 L847.2,181.3 L847.7,185.3 L848.2,189 L848.7,192.4 L849.2,195.6 L849.7,198.5 L850.2,201.2 L850.7,203.7 L851.2,205.9 L851.7,207.9 L852.2,209.7 L852.7,211.3 L853.2,212.8 L853.7,214.1 L854.2,215.3 L854.7,216.3 L855.2,217.2 L855.7,218 L856.2,218.7 L856.7,219.3 L857.2,219.8 L857.7,220.3 L858.2,220.7 L858.7,221.1 L859.2,221.4 L859.7,221.7 L860.2,221.9 L860.7,222.1 L861.2,222.3 L861.7,222.4 L862.2,222.6 L862.7,222.7 L863.2,222.8 L863.7,222.9 L864.2,223 L864.7,223.1 L865.2,223.1 L865.7,223.2 L866.2,223.2 L866.7,223.3 L867.2,223.3 L867.7,223.3 L868.2,223.4 L868.7,223.4 L869.2,223.4 L869.7,223.4 L870.2,223.4 L870.7,223.4 L871.2,223.5 L871.7,223.5 L872.2,223.5 L872.7,223.5 L873.2,223.5 L873.7,223.4 L874.2,223.4 L874.7,223.4 L875.2,223.4 L875.7,223.4 L876.2,223.4 L876.7,223.4 L877.2,223.3 L877.7,223.3 L878.2,223.3 L878.7,223.3 L879.2,223.2 L879.7,223.2 L880.2,223.2 L880.7,223.1 L881.2,223.1 L881.7,223.1 L882.2,223 L882.7,223 L883.2,223 L883.7,222.9 L884.2,222.9 L884.7,222.9 L885.2,222.8 L885.7,222.8 L886.2,222.7 L886.7,222.7 L887.2,222.7 L887.7,222.6 L888.2,222.6 L888.7,222.5 L889.2,222.5 L889.7,222.5 L890.2,222.4 L890.7,222.4 L891.2,222.3 L891.7,222.3 L892.2,222.3 L892.7,222.2 L893.2,222.2 L893.7,222.2 L894.2,222.1 L894.7,222.1 L895.2,222.1 L895.7,222 L896.2,222 L896.7,222 L897.2,221.9 L897.7,221.9 L898.2,221.9 L898.7,221.8 L899.2,221.8 L899.7,221.8 L900.2,221.8 L900.7,221.7 L901.2,221.7 L901.7,221.7 L902.2,221.7 L902.7,221.6 L903.2,221.6 L903.7,221.6 L904.2,221.6 L904.7,221.5 L905.2,221.5 L905.7,221.5 L906.2,221.5 L906.7,221.4 L907.2,221.4 L907.7,221.4 L908.2,221.4 L908.7,221.4 L909.2,221.3 L909.7,221.3 L910.2,221.3 L910.7,221.3 L911.2,221.3 L911.7,221.2 L912.2,221.2 L912.7,221.2 L913.2,221.2 L913.7,221.2 L914.2,221.1 L914.7,221.1 L915.2,221.1 L915.7,221.1 L916.2,221.1 L916.7,221.1 L917.2,221 L917.7,221 L918.2,221 L918.7,221 L919.2,221 L919.7,221 L920.2,221 L920.7,220.9 L921.2,220.9 L921.7,220.9 L922.2,220.9 L922.7,220.9 L923.2,220.9" fill="none" stroke="#7fb0e2" stroke-width="1"/>
<path d="M780.2,231.1 L780.7,231.1 L781.2,231.1 L781.7,231.1 L782.2,231 L782.7,231 L783.2,231 L783.7,230.9 L784.2,230.9 L784.7,230.9 L785.2,230.8 L785.7,230.8 L786.2,230.8 L786.7,230.7 L787.2,230.7 L787.7,230.7 L788.2,230.6 L788.7,230.6 L789.2,230.6 L789.7,230.5 L790.2,230.5 L790.7,230.4 L791.2,230.4 L791.7,230.3 L792.2,230.3 L792.7,230.3 L793.2,230.2 L793.7,230.2 L794.2,230.1 L794.7,230.1 L795.2,230 L795.7,229.9 L796.2,229.9 L796.7,229.8 L797.2,229.8 L797.7,229.7 L798.2,229.6 L798.7,229.6 L799.2,229.5 L799.7,229.4 L800.2,229.4 L800.7,229.3 L801.2,229.2 L801.7,229.2 L802.2,229.1 L802.7,229 L803.2,228.9 L803.7,228.8 L804.2,228.8 L804.7,228.7 L805.2,228.6 L805.7,228.5 L806.2,228.4 L806.7,228.3 L807.2,228.2 L807.7,228.1 L808.2,228 L808.7,227.9 L809.2,227.8 L809.7,227.7 L810.2,227.6 L810.7,227.4 L811.2,227.3 L811.7,227.2 L812.2,227.1 L812.7,226.9 L813.2,226.8 L813.7,226.7 L814.2,226.5 L814.7,226.4 L815.2,226.2 L815.7,226.1 L816.2,225.9 L816.7,225.8 L817.2,225.6 L817.7,225.4 L818.2,225.2 L818.7,225.1 L819.2,224.9 L819.7,224.7 L820.2,224.5 L820.7,224.3 L821.2,224 L821.7,223.8 L822.2,223.6 L822.7,223.3 L823.2,223.1 L823.7,222.8 L824.2,222.5 L824.7,222.3 L825.2,222 L825.7,221.6 L826.2,221.3 L826.7,221 L827.2,220.6 L827.7,220.3 L828.2,219.9 L828.7,219.5 L829.2,219 L829.7,218.6 L830.2,218.1 L830.7,217.7 L831.2,217.1 L831.7,216.6 L832.2,216.1 L832.7,215.5 L833.2,214.9 L833.7,214.2 L834.2,213.6 L834.7,212.9 L835.2,212.1 L835.7,211.4 L836.2,210.6 L836.7,209.7 L837.2,208.8 L837.7,207.9 L838.2,207 L838.7,206 L839.2,204.9 L839.7,203.8 L840.2,202.7 L840.7,201.5 L841.2,200.3 L841.7,199 L842.2,197.7 L842.7,196.4 L843.2,194.9 L843.7,193.5 L844.2,191.9 L844.7,190.4 L845.2,188.7 L845.7,187.1 L846.2,185.3 L846.7,183.6 L847.2,181.7 L847.7,179.8 L848.2,177.9 L848.7,175.9 L849.2,173.9 L849.7,171.8 L850.2,169.7 L850.7,167.5 L851.2,165.3 L851.7,163.1 L852.2,160.8 L852.7,158.5 L853.2,156.2 L853.7,153.8 L854.2,151.4 L854.7,149 L855.2,146.6 L855.7,144.1 L856.2,141.7 L856.7,139.2 L857.2,136.8 L857.7,134.4 L858.2,132 L858.7,129.6 L859.2,127.3 L859.7,125 L860.2,122.8 L860.7,120.6 L861.2,118.5 L861.7,116.5 L862.2,114.5 L862.7,112.7 L863.2,111 L863.7,109.3 L864.2,107.9 L864.7,106.5 L865.2,105.3 L865.7,104.2 L866.2,103.4 L866.7,102.6 L867.2,102.1 L867.7,101.7 L868.2,101.4 L868.7,101.4 L869.2,101.5 L869.7,101.8 L870.2,102.2 L870.7,102.9 L871.2,103.6 L871.7,104.5 L872.2,105.6 L872.7,106.8 L873.2,108.2 L873.7,109.6 L874.2,111.2 L874.7,112.9 L875.2,114.7 L875.7,116.6 L876.2,118.6 L876.7,120.7 L877.2,122.8 L877.7,125.1 L878.2,127.3 L878.7,129.7 L879.2,132 L879.7,134.4 L880.2,136.8 L880.7,139.3 L881.2,141.7 L881.7,144.2 L882.2,146.7 L882.7,149.2 L883.2,151.6 L883.7,154 L884.2,156.5 L884.7,158.9 L885.2,161.2 L885.7,163.6 L886.2,165.9 L886.7,168.1 L887.2,170.3 L887.7,172.5 L888.2,174.6 L888.7,176.6 L889.2,178.7 L889.7,180.6 L890.2,182.5 L890.7,184.3 L891.2,186.1 L891.7,187.8 L892.2,189.5 L892.7,191.1 L893.2,192.6 L893.7,194.1 L894.2,195.5 L894.7,196.9 L895.2,198.1 L895.7,199.4 L896.2,200.6 L896.7,201.7 L897.2,202.8 L897.7,203.8 L898.2,204.8 L898.7,205.7 L899.2,206.6 L899.7,207.4 L900.2,208.2 L900.7,208.9 L901.2,209.6 L901.7,210.2 L902.2,210.8 L902.7,211.4 L903.2,212 L903.7,212.5 L904.2,212.9 L904.7,213.4 L905.2,213.8 L905.7,214.2 L906.2,214.5 L906.7,214.9 L907.2,215.2 L907.7,215.5 L908.2,215.8 L908.7,216 L909.2,216.2 L909.7,216.5 L910.2,216.7 L910.7,216.8 L911.2,217 L911.7,217.2 L912.2,217.3 L912.7,217.5 L913.2,217.6 L913.7,217.7 L914.2,217.8 L914.7,217.9 L915.2,218 L915.7,218.1 L916.2,218.2 L916.7,218.3 L917.2,218.3 L917.7,218.4 L918.2,218.5 L918.7,218.5 L919.2,218.6 L919.7,218.6 L920.2,218.7 L920.7,218.7 L921.2,218.7 L921.7,218.8 L922.2,218.8 L922.7,218.8 L923.2,218.9 L923.7,218.9 L924.2,218.9 L924.7,219 L925.2,219 L925.7,219 L926.2,219 L926.7,219 L927.2,219.1 L927.7,219.1 L928.2,219.1 L928.7,219.1 L929.2,219.1 L929.7,219.1 L930.2,219.2 L930.7,219.2 L931.2,219.2 L931.7,219.2 L932.2,219.2 L932.7,219.2 L933.2,219.2 L933.7,219.2 L934.2,219.3 L934.7,219.3 L935.2,219.3 L935.7,219.3 L936.2,219.3 L936.7,219.3 L937.2,219.3 L937.7,219.3 L938.2,219.3 L938.7,219.3 L939.2,219.3 L939.7,219.3 L940.2,219.4 L940.7,219.4 L941.2,219.4 L941.7,219.4 L942.2,219.4 L942.7,219.4 L943.2,219.4 L943.7,219.4 L944.2,219.4 L944.7,219.4 L945.2,219.4 L945.7,219.4 L946.2,219.4 L946.7,219.4 L947.2,219.4 L947.7,219.4 L948.2,219.4 L948.7,219.4 L949.2,219.5 L949.7,219.5 L950.2,219.5 L950.7,219.5 L951.2,219.5 L951.7,219.5 L952.2,219.5 L952.7,219.5 L953.2,219.5 L953.7,219.5 L954.2,219.5 L954.7,219.5 L955.2,219.5 L955.7,219.5 L956.2,219.5 L956.7,219.5" fill="none" stroke="#1ec6c8" stroke-width="1.3"/>
<path d="M809.7,232.7 L810.2,232.7 L810.7,232.7 L811.2,232.6 L811.7,232.6 L812.2,232.6 L812.7,232.5 L813.2,232.5 L813.7,232.5 L814.2,232.4 L814.7,232.4 L815.2,232.4 L815.7,232.3 L816.2,232.3 L816.7,232.3 L817.2,232.2 L817.7,232.2 L818.2,232.1 L818.7,232.1 L819.2,232.1 L819.7,232 L820.2,232 L820.7,231.9 L821.2,231.9 L821.7,231.8 L822.2,231.8 L822.7,231.8 L823.2,231.7 L823.7,231.7 L824.2,231.6 L824.7,231.6 L825.2,231.5 L825.7,231.5 L826.2,231.4 L826.7,231.4 L827.2,231.4 L827.7,231.3 L828.2,231.3 L828.7,231.2 L829.2,231.2 L829.7,231.1 L830.2,231.1 L830.7,231 L831.2,231 L831.7,230.9 L832.2,230.9 L832.7,230.8 L833.2,230.8 L833.7,230.7 L834.2,230.7 L834.7,230.6 L835.2,230.6 L835.7,230.5 L836.2,230.5 L836.7,230.4 L837.2,230.3 L837.7,230.3 L838.2,230.2 L838.7,230.2 L839.2,230.1 L839.7,230 L840.2,230 L840.7,229.9 L841.2,229.8 L841.7,229.8 L842.2,229.7 L842.7,229.6 L843.2,229.6 L843.7,229.5 L844.2,229.4 L844.7,229.3 L845.2,229.3 L845.7,229.2 L846.2,229.1 L846.7,229 L847.2,228.9 L847.7,228.8 L848.2,228.8 L848.7,228.7 L849.2,228.6 L849.7,228.5 L850.2,228.4 L850.7,228.3 L851.2,228.1 L851.7,228 L852.2,227.9 L852.7,227.8 L853.2,227.6 L853.7,227.5 L854.2,227.4 L854.7,227.2 L855.2,227.1 L855.7,226.9 L856.2,226.7 L856.7,226.6 L857.2,226.4 L857.7,226.2 L858.2,226 L858.7,225.8 L859.2,225.6 L859.7,225.3 L860.2,225.1 L860.7,224.9 L861.2,224.6 L861.7,224.3 L862.2,224 L862.7,223.7 L863.2,223.4 L863.7,223.1 L864.2,222.8 L864.7,222.4 L865.2,222 L865.7,221.7 L866.2,221.3 L866.7,220.8 L867.2,220.4 L867.7,220 L868.2,219.5 L868.7,219 L869.2,218.5 L869.7,218 L870.2,217.5 L870.7,216.9 L871.2,216.4 L871.7,215.8 L872.2,215.2 L872.7,214.5 L873.2,213.9 L873.7,213.2 L874.2,212.6 L874.7,211.9 L875.2,211.1 L875.7,210.4 L876.2,209.7 L876.7,208.9 L877.2,208.2 L877.7,207.4 L878.2,206.6 L878.7,205.8 L879.2,205 L879.7,204.1 L880.2,203.3 L880.7,202.5 L881.2,201.7 L881.7,200.8 L882.2,200 L882.7,199.1 L883.2,198.3 L883.7,197.5 L884.2,196.6 L884.7,195.8 L885.2,195 L885.7,194.2 L886.2,193.4 L886.7,192.6 L887.2,191.9 L887.7,191.1 L888.2,190.4 L888.7,189.7 L889.2,189 L889.7,188.4 L890.2,187.7 L890.7,187.1 L891.2,186.6 L891.7,186 L892.2,185.5 L892.7,185 L893.2,184.6 L893.7,184.2 L894.2,183.8 L894.7,183.5 L895.2,183.2 L895.7,182.9 L896.2,182.7 L896.7,182.6 L897.2,182.4 L897.7,182.3 L898.2,182.3 L898.7,182.3 L899.2,182.4 L899.7,182.5 L900.2,182.7 L900.7,182.9 L901.2,183.2 L901.7,183.5 L902.2,183.9 L902.7,184.3 L903.2,184.8 L903.7,185.3 L904.2,185.9 L904.7,186.5 L905.2,187.2 L905.7,187.8 L906.2,188.5 L906.7,189.3 L907.2,190.1 L907.7,190.8 L908.2,191.7 L908.7,192.5 L909.2,193.3 L909.7,194.2 L910.2,195 L910.7,195.9 L911.2,196.8 L911.7,197.7 L912.2,198.5 L912.7,199.4 L913.2,200.3 L913.7,201.1 L914.2,202 L914.7,202.8 L915.2,203.6 L915.7,204.4 L916.2,205.2 L916.7,206 L917.2,206.8 L917.7,207.5 L918.2,208.2 L918.7,208.9 L919.2,209.6 L919.7,210.2 L920.2,210.8 L920.7,211.4 L921.2,212 L921.7,212.6 L922.2,213.1 L922.7,213.6 L923.2,214.1 L923.7,214.5 L924.2,215 L924.7,215.4 L925.2,215.8 L925.7,216.1 L926.2,216.5 L926.7,216.8 L927.2,217.1 L927.7,217.4 L928.2,217.6 L928.7,217.9 L929.2,218.1 L929.7,218.3 L930.2,218.5 L930.7,218.7 L931.2,218.9 L931.7,219.1 L932.2,219.2 L932.7,219.3 L933.2,219.5 L933.7,219.6 L934.2,219.7 L934.7,219.8 L935.2,219.9 L935.7,219.9 L936.2,220 L936.7,220.1 L937.2,220.1 L937.7,220.2 L938.2,220.2 L938.7,220.3 L939.2,220.3 L939.7,220.3 L940.2,220.3 L940.7,220.4 L941.2,220.4 L941.7,220.4 L942.2,220.4 L942.7,220.4 L943.2,220.4 L943.7,220.4 L944.2,220.5 L944.7,220.5 L945.2,220.5 L945.7,220.5 L946.2,220.5 L946.7,220.5 L947.2,220.5 L947.7,220.5 L948.2,220.5 L948.7,220.5 L949.2,220.5 L949.7,220.5 L950.2,220.5 L950.7,220.5 L951.2,220.5 L951.7,220.5 L952.2,220.5 L952.7,220.5 L953.2,220.5 L953.7,220.4 L954.2,220.4 L954.7,220.4 L955.2,220.4 L955.7,220.4 L956.2,220.4 L956.7,220.4 L957.2,220.4 L957.7,220.4 L958.2,220.4 L958.7,220.4 L959.2,220.4 L959.7,220.4 L960.2,220.4 L960.7,220.4 L961.2,220.4 L961.7,220.4 L962.2,220.4 L962.7,220.4 L963.2,220.4 L963.7,220.4 L964.2,220.4 L964.7,220.4 L965.2,220.4 L965.7,220.4 L966.2,220.4 L966.7,220.4 L967.2,220.4 L967.7,220.4 L968.2,220.4 L968.7,220.4 L969.2,220.4 L969.7,220.4 L970.2,220.4 L970.7,220.4 L971.2,220.4 L971.7,220.4 L972.2,220.4 L972.7,220.4 L973.2,220.4 L973.7,220.4 L974.2,220.4 L974.7,220.4 L975.2,220.4 L975.7,220.4 L976.2,220.4 L976.7,220.4 L977.2,220.4 L977.7,220.4 L978.2,220.4 L978.7,220.4 L979.2,220.4 L979.7,220.4 L980.2,220.4 L980.7,220.4 L981.2,220.3 L981.7,220.3 L982.2,220.3 L982.7,220.3 L983.2,220.3 L983.7,220.3 L984.2,220.3 L984.7,220.3 L985.2,220.3 L985.7,220.3 L986.2,220.3" fill="none" stroke="#ee9ccb" stroke-width="1"/>
<path d="M755.7,233.4 L756.2,233.4 L756.7,233.4 L757.2,233.4 L757.7,233.4 L758.2,233.4 L758.7,233.4 L759.2,233.4 L759.7,233.4 L760.2,233.4 L760.7,233.4 L761.2,233.4 L761.7,233.4 L762.2,233.4 L762.7,233.4 L763.2,233.4 L763.7,233.4 L764.2,233.4 L764.7,233.4 L765.2,233.4 L765.7,233.4 L766.2,233.4 L766.7,233.4 L767.2,233.4 L767.7,233.4 L768.2,233.4 L768.7,233.4 L769.2,233.4 L769.7,233.4 L770.2,233.4 L770.7,233.4 L771.2,233.4 L771.7,233.4 L772.2,233.4 L772.7,233.4 L773.2,233.4 L773.7,233.4 L774.2,233.5 L774.7,233.5 L775.2,233.5 L775.7,233.5 L776.2,233.5 L776.7,233.5 L777.2,233.5 L777.7,233.5 L778.2,233.5 L778.7,233.5 L779.2,233.5 L779.7,233.5 L780.2,233.5 L780.7,233.5 L781.2,233.5 L781.7,233.5 L782.2,233.5 L782.7,233.5 L783.2,233.5 L783.7,233.5 L784.2,233.5 L784.7,233.5 L785.2,233.5 L785.7,233.5 L786.2,233.5 L786.7,233.5 L787.2,233.5 L787.7,233.4 L788.2,233.4 L788.7,233.4 L789.2,233.4 L789.7,233.4 L790.2,233.4 L790.7,233.4 L791.2,233.4 L791.7,233.4 L792.2,233.4 L792.7,233.4 L793.2,233.4 L793.7,233.4 L794.2,233.4 L794.7,233.3 L795.2,233.3 L795.7,233.3 L796.2,233.3 L796.7,233.3 L797.2,233.3 L797.7,233.3 L798.2,233.3 L798.7,233.2 L799.2,233.2 L799.7,233.2 L800.2,233.2 L800.7,233.2 L801.2,233.2 L801.7,233.1 L802.2,233.1 L802.7,233.1 L803.2,233.1 L803.7,233.1 L804.2,233 L804.7,233 L805.2,233 L805.7,233 L806.2,232.9 L806.7,232.9 L807.2,232.9 L807.7,232.8 L808.2,232.8 L808.7,232.8 L809.2,232.8 L809.7,232.7 L810.2,232.7 L810.7,232.7 L811.2,232.6 L811.7,232.6 L812.2,232.6 L812.7,232.5 L813.2,232.5 L813.7,232.5 L814.2,232.4 L814.7,232.4 L815.2,232.4 L815.7,232.3 L816.2,232.3 L816.7,232.3 L817.2,232.2 L817.7,232.2 L818.2,232.1 L818.7,232.1 L819.2,232.1 L819.7,232 L820.2,232 L820.7,231.9 L821.2,231.9 L821.7,231.8 L822.2,231.8 L822.7,231.8 L823.2,231.7 L823.7,231.7 L824.2,231.6 L824.7,231.6 L825.2,231.5 L825.7,231.5 L826.2,231.4 L826.7,231.4 L827.2,231.4 L827.7,231.3 L828.2,231.3 L828.7,231.2 L829.2,231.2 L829.7,231.1 L830.2,231.1 L830.7,231 L831.2,231 L831.7,230.9 L832.2,230.9 L832.7,230.8 L833.2,230.8 L833.7,230.7 L834.2,230.7 L834.7,230.6 L835.2,230.6 L835.7,230.5 L836.2,230.5 L836.7,230.4 L837.2,230.4 L837.7,230.3 L838.2,230.3 L838.7,230.2 L839.2,230.1 L839.7,230.1 L840.2,230 L840.7,230 L841.2,229.9 L841.7,229.9 L842.2,229.8 L842.7,229.7 L843.2,229.7 L843.7,229.6 L844.2,229.6 L844.7,229.5 L845.2,229.4 L845.7,229.4 L846.2,229.3 L846.7,229.2 L847.2,229.2 L847.7,229.1 L848.2,229 L848.7,229 L849.2,228.9 L849.7,228.9 L850.2,228.8 L850.7,228.7 L851.2,228.7 L851.7,228.6 L852.2,228.5 L852.7,228.5 L853.2,228.4 L853.7,228.3 L854.2,228.3 L854.7,228.2 L855.2,228.1 L855.7,228.1 L856.2,228 L856.7,227.9 L857.2,227.9 L857.7,227.8 L858.2,227.7 L858.7,227.7 L859.2,227.6 L859.7,227.5 L860.2,227.5 L860.7,227.4 L861.2,227.3 L861.7,227.3 L862.2,227.2 L862.7,227.1 L863.2,227.1 L863.7,227 L864.2,226.9 L864.7,226.9 L865.2,226.8 L865.7,226.7 L866.2,226.7 L866.7,226.6 L867.2,226.5 L867.7,226.5 L868.2,226.4 L868.7,226.4 L869.2,226.3 L869.7,226.2 L870.2,226.2 L870.7,226.1 L871.2,226.1 L871.7,226 L872.2,225.9 L872.7,225.9 L873.2,225.8 L873.7,225.7 L874.2,225.7 L874.7,225.6 L875.2,225.5 L875.7,225.5 L876.2,225.4 L876.7,225.3 L877.2,225.3 L877.7,225.2 L878.2,225.1 L878.7,225.1 L879.2,225 L879.7,224.9 L880.2,224.9 L880.7,224.8 L881.2,224.7 L881.7,224.7 L882.2,224.6 L882.7,224.5 L883.2,224.5 L883.7,224.4 L884.2,224.3 L884.7,224.3 L885.2,224.2 L885.7,224.1 L886.2,224.1 L886.7,224 L887.2,223.9 L887.7,223.9 L888.2,223.8 L888.7,223.8 L889.2,223.7 L889.7,223.6 L890.2,223.6 L890.7,223.5 L891.2,223.5 L891.7,223.4 L892.2,223.3 L892.7,223.3 L893.2,223.2 L893.7,223.2 L894.2,223.1 L894.7,223.1 L895.2,223 L895.7,223 L896.2,222.9 L896.7,222.9 L897.2,222.8 L897.7,222.8 L898.2,222.7 L898.7,222.7 L899.2,222.7 L899.7,222.6 L900.2,222.6 L900.7,222.5 L901.2,222.5 L901.7,222.5 L902.2,222.4 L902.7,222.4 L903.2,222.4 L903.7,222.3 L904.2,222.3 L904.7,222.3 L905.2,222.2 L905.7,222.2 L906.2,222.2 L906.7,222.1 L907.2,222.1 L907.7,222.1 L908.2,222 L908.7,222 L909.2,222 L909.7,222 L910.2,221.9 L910.7,221.9 L911.2,221.9 L911.7,221.8 L912.2,221.8 L912.7,221.8 L913.2,221.8 L913.7,221.7 L914.2,221.7 L914.7,221.7 L915.2,221.7 L915.7,221.6 L916.2,221.6 L916.7,221.6 L917.2,221.6 L917.7,221.6 L918.2,221.5 L918.7,221.5 L919.2,221.5 L919.7,221.5 L920.2,221.4 L920.7,221.4 L921.2,221.4 L921.7,221.4 L922.2,221.4 L922.7,221.3 L923.2,221.3 L923.7,221.3 L924.2,221.3 L924.7,221.3 L925.2,221.3 L925.7,221.2 L926.2,221.2 L926.7,221.2 L927.2,221.2 L927.7,221.2 L928.2,221.1 L928.7,221.1 L929.2,221.1 L929.7,221.1 L930.2,221.1 L930.7,221.1 L931.2,221.1 L931.7,221 L932.2,221 L932.7,221 L933.2,221 L933.7,221 L934.2,221 L934.7,220.9 L935.2,220.9 L935.7,220.9 L936.2,220.9 L936.7,220.9 L937.2,220.9 L937.7,220.9 L938.2,220.8 L938.7,220.8 L939.2,220.8 L939.7,220.8 L940.2,220.8 L940.7,220.8 L941.2,220.8 L941.7,220.8 L942.2,220.7 L942.7,220.7 L943.2,220.7 L943.7,220.7 L944.2,220.7 L944.7,220.7 L945.2,220.7 L945.7,220.7 L946.2,220.7 L946.7,220.6 L947.2,220.6 L947.7,220.6 L948.2,220.6 L948.7,220.6 L949.2,220.6 L949.7,220.6 L950.2,220.6 L950.7,220.6 L951.2,220.6 L951.7,220.6 L952.2,220.6 L952.7,220.6 L953.2,220.6 L953.7,220.5 L954.2,220.5 L954.7,220.5 L955.2,220.5 L955.7,220.5 L956.2,220.5 L956.7,220.5 L957.2,220.5 L957.7,220.5 L958.2,220.5 L958.7,220.5 L959.2,220.5 L959.7,220.5 L960.2,220.5 L960.7,220.5 L961.2,220.5 L961.7,220.5 L962.2,220.5 L962.7,220.5 L963.2,220.5 L963.7,220.5 L964.2,220.5 L964.7,220.5 L965.2,220.5 L965.7,220.5 L966.2,220.5 L966.7,220.5 L967.2,220.5 L967.7,220.5 L968.2,220.5 L968.7,220.5 L969.2,220.5 L969.7,220.4 L970.2,220.4 L970.7,220.4 L971.2,220.4 L971.7,220.4 L972.2,220.4 L972.7,220.4 L973.2,220.4 L973.7,220.4 L974.2,220.4 L974.7,220.4 L975.2,220.4 L975.7,220.4 L976.2,220.4 L976.7,220.4 L977.2,220.4 L977.7,220.4 L978.2,220.4 L978.7,220.4 L979.2,220.4 L979.7,220.4 L980.2,220.4 L980.7,220.4 L981.2,220.4 L981.7,220.4 L982.2,220.4 L982.7,220.4 L983.2,220.4 L983.7,220.4 L984.2,220.4 L984.7,220.4 L985.2,220.4 L985.7,220.4 L986.2,220.4 L986.7,220.4 L987.2,220.4 L987.7,220.4 L988.2,220.4 L988.7,220.3 L989.2,220.3 L989.7,220.3 L990.2,220.3 L990.7,220.3 L991.2,220.3 L991.7,220.3 L992.2,220.3 L992.7,220.3 L993.2,220.3 L993.7,220.3 L994.2,220.3 L994.7,220.3 L995.2,220.3 L995.7,220.3 L996.2,220.3 L996.7,220.3 L997.2,220.3 L997.7,220.3 L998.2,220.3 L998.7,220.3 L999.2,220.3 L999.7,220.3 L1000.2,220.3 L1000.7,220.3 L1001.2,220.3 L1001.7,220.3 L1002.2,220.3 L1002.7,220.3 L1003.2,220.3 L1003.7,220.3 L1004.2,220.3 L1004.7,220.3 L1005.2,220.3 L1005.7,220.3 L1006.2,220.3 L1006.7,220.3 L1007.2,220.3 L1007.7,220.3 L1008.2,220.3 L1008.7,220.3 L1009.2,220.3 L1009.7,220.3 L1010.2,220.3 L1010.7,220.3 L1011.2,220.3 L1011.7,220.3 L1012.2,220.3 L1012.7,220.3 L1013.2,220.3 L1013.7,220.3 L1014.2,220.3 L1014.7,220.3 L1015.2,220.3 L1015.7,220.3 L1016.2,220.2 L1016.7,220.2 L1017.2,220.2 L1017.7,220.2 L1018.2,220.2 L1018.7,220.2 L1019.2,220.2 L1019.7,220.2 L1020.2,220.2 L1020.7,220.2 L1021.2,220.2 L1021.7,220.2 L1022.2,220.2 L1022.7,220.2 L1023.2,220.2 L1023.7,220.2 L1024.2,220.2 L1024.7,220.2 L1025.2,220.2 L1025.7,220.2 L1026.2,220.2 L1026.7,220.2 L1027.2,220.2 L1027.7,220.2 L1028.2,220.2 L1028.7,220.2 L1029.2,220.2 L1029.7,220.2 L1030.2,220.2 L1030.7,220.2" fill="none" stroke="#5b5bb5" stroke-width="1.3"/>
<g fill="none" stroke="#3c3c3c" stroke-width="0.85"><circle cx="755.7" cy="231" r="2.3"/><circle cx="756.5" cy="232.6" r="2.3"/><circle cx="757.3" cy="231.7" r="2.3"/><circle cx="758.1" cy="231.5" r="2.3"/><circle cx="758.8" cy="230.5" r="2.3"/><circle cx="759.6" cy="230.9" r="2.3"/><circle cx="760.4" cy="229.5" r="2.3"/><circle cx="761.2" cy="230.1" r="2.3"/><circle cx="762" cy="230.9" r="2.3"/><circle cx="762.8" cy="230.7" r="2.3"/><circle cx="763.6" cy="231.7" r="2.3"/><circle cx="764.3" cy="231.8" r="2.3"/><circle cx="765.1" cy="230.8" r="2.3"/><circle cx="765.9" cy="231.1" r="2.3"/><circle cx="766.7" cy="231.1" r="2.3"/><circle cx="767.5" cy="230.1" r="2.3"/><circle cx="768.3" cy="228.9" r="2.3"/><circle cx="769.1" cy="231.4" r="2.3"/><circle cx="769.8" cy="230.3" r="2.3"/><circle cx="770.6" cy="229.5" r="2.3"/><circle cx="771.4" cy="230.5" r="2.3"/><circle cx="772.2" cy="231.8" r="2.3"/><circle cx="773" cy="231.4" r="2.3"/><circle cx="773.8" cy="232.6" r="2.3"/><circle cx="774.6" cy="231" r="2.3"/><circle cx="775.3" cy="230.3" r="2.3"/><circle cx="776.1" cy="230.2" r="2.3"/><circle cx="776.9" cy="230.4" r="2.3"/><circle cx="777.7" cy="230.9" r="2.3"/><circle cx="778.5" cy="230.1" r="2.3"/><circle cx="779.3" cy="232" r="2.3"/><circle cx="780.1" cy="230.9" r="2.3"/><circle cx="780.9" cy="231.2" r="2.3"/><circle cx="781.6" cy="231.3" r="2.3"/><circle cx="782.4" cy="230.8" r="2.3"/><circle cx="783.2" cy="230.6" r="2.3"/><circle cx="784" cy="231.3" r="2.3"/><circle cx="784.8" cy="230.8" r="2.3"/><circle cx="785.6" cy="232.1" r="2.3"/><circle cx="786.4" cy="231" r="2.3"/><circle cx="787.1" cy="232" r="2.3"/><circle cx="787.9" cy="230.7" r="2.3"/><circle cx="788.7" cy="230.7" r="2.3"/><circle cx="789.5" cy="232.1" r="2.3"/><circle cx="790.3" cy="230.8" r="2.3"/><circle cx="791.1" cy="229.6" r="2.3"/><circle cx="791.9" cy="230.1" r="2.3"/><circle cx="792.6" cy="229.6" r="2.3"/><circle cx="793.4" cy="229.5" r="2.3"/><circle cx="794.2" cy="229.8" r="2.3"/><circle cx="795" cy="230" r="2.3"/><circle cx="795.8" cy="229.5" r="2.3"/><circle cx="796.6" cy="230.2" r="2.3"/><circle cx="797.4" cy="230.3" r="2.3"/><circle cx="798.1" cy="230.2" r="2.3"/><circle cx="798.9" cy="229.1" r="2.3"/><circle cx="799.7" cy="228" r="2.3"/><circle cx="800.5" cy="228.9" r="2.3"/><circle cx="801.3" cy="230.5" r="2.3"/><circle cx="802.1" cy="230.1" r="2.3"/><circle cx="802.9" cy="231.7" r="2.3"/><circle cx="803.6" cy="230.2" r="2.3"/><circle cx="804.4" cy="231.2" r="2.3"/><circle cx="805.2" cy="229.8" r="2.3"/><circle cx="806" cy="229.9" r="2.3"/><circle cx="806.8" cy="230.1" r="2.3"/><circle cx="807.6" cy="228.4" r="2.3"/><circle cx="808.4" cy="227.6" r="2.3"/><circle cx="809.1" cy="228.8" r="2.3"/><circle cx="809.9" cy="225.2" r="2.3"/><circle cx="810.7" cy="223" r="2.3"/><circle cx="811.5" cy="222" r="2.3"/><circle cx="812.3" cy="222.5" r="2.3"/><circle cx="813.1" cy="218.7" r="2.3"/><circle cx="813.9" cy="216.2" r="2.3"/><circle cx="814.6" cy="212.9" r="2.3"/><circle cx="815.4" cy="210.7" r="2.3"/><circle cx="816.2" cy="207" r="2.3"/><circle cx="817" cy="203.1" r="2.3"/><circle cx="817.8" cy="198.1" r="2.3"/><circle cx="818.6" cy="192" r="2.3"/><circle cx="819.4" cy="188.1" r="2.3"/><circle cx="820.2" cy="181.4" r="2.3"/><circle cx="820.9" cy="173.1" r="2.3"/><circle cx="821.7" cy="166.9" r="2.3"/><circle cx="822.5" cy="158.9" r="2.3"/><circle cx="823.3" cy="149.6" r="2.3"/><circle cx="824.1" cy="142.4" r="2.3"/><circle cx="824.9" cy="131.5" r="2.3"/><circle cx="825.7" cy="124.2" r="2.3"/><circle cx="826.4" cy="113" r="2.3"/><circle cx="827.2" cy="104.1" r="2.3"/><circle cx="828" cy="94.6" r="2.3"/><circle cx="828.8" cy="87.4" r="2.3"/><circle cx="829.6" cy="78.8" r="2.3"/><circle cx="830.4" cy="70.3" r="2.3"/><circle cx="831.2" cy="65.2" r="2.3"/><circle cx="831.9" cy="59.1" r="2.3"/><circle cx="832.7" cy="54.4" r="2.3"/><circle cx="833.5" cy="51.3" r="2.3"/><circle cx="834.3" cy="49.1" r="2.3"/><circle cx="835.1" cy="46.9" r="2.3"/><circle cx="835.9" cy="46.1" r="2.3"/><circle cx="836.7" cy="47.6" r="2.3"/><circle cx="837.4" cy="48.3" r="2.3"/><circle cx="838.2" cy="48.4" r="2.3"/><circle cx="839" cy="54" r="2.3"/><circle cx="839.8" cy="58.8" r="2.3"/><circle cx="840.6" cy="65.9" r="2.3"/><circle cx="841.4" cy="73" r="2.3"/><circle cx="842.2" cy="80.5" r="2.3"/><circle cx="842.9" cy="86.7" r="2.3"/><circle cx="843.7" cy="95" r="2.3"/><circle cx="844.5" cy="101.2" r="2.3"/><circle cx="845.3" cy="107.3" r="2.3"/><circle cx="846.1" cy="113.6" r="2.3"/><circle cx="846.9" cy="118.5" r="2.3"/><circle cx="847.7" cy="123.6" r="2.3"/><circle cx="848.4" cy="128.1" r="2.3"/><circle cx="849.2" cy="130.1" r="2.3"/><circle cx="850" cy="133" r="2.3"/><circle cx="850.8" cy="134.8" r="2.3"/><circle cx="851.6" cy="135.9" r="2.3"/><circle cx="852.4" cy="135.5" r="2.3"/><circle cx="853.2" cy="133.8" r="2.3"/><circle cx="853.9" cy="129.7" r="2.3"/><circle cx="854.7" cy="129.6" r="2.3"/><circle cx="855.5" cy="127.3" r="2.3"/><circle cx="856.3" cy="124.1" r="2.3"/><circle cx="857.1" cy="122.1" r="2.3"/><circle cx="857.9" cy="119.9" r="2.3"/><circle cx="858.7" cy="114.8" r="2.3"/><circle cx="859.5" cy="113" r="2.3"/><circle cx="860.2" cy="109.8" r="2.3"/><circle cx="861" cy="106.2" r="2.3"/><circle cx="861.8" cy="103.8" r="2.3"/><circle cx="862.6" cy="101.9" r="2.3"/><circle cx="863.4" cy="101.4" r="2.3"/><circle cx="864.2" cy="99.5" r="2.3"/><circle cx="865" cy="96.9" r="2.3"/><circle cx="865.7" cy="94.4" r="2.3"/><circle cx="866.5" cy="93" r="2.3"/><circle cx="867.3" cy="93.5" r="2.3"/><circle cx="868.1" cy="91.1" r="2.3"/><circle cx="868.9" cy="91.6" r="2.3"/><circle cx="869.7" cy="90.4" r="2.3"/><circle cx="870.5" cy="90" r="2.3"/><circle cx="871.2" cy="91.4" r="2.3"/><circle cx="872" cy="90.4" r="2.3"/><circle cx="872.8" cy="92.2" r="2.3"/><circle cx="873.6" cy="93.1" r="2.3"/><circle cx="874.4" cy="95.1" r="2.3"/><circle cx="875.2" cy="97.4" r="2.3"/><circle cx="876" cy="98" r="2.3"/><circle cx="876.7" cy="100.1" r="2.3"/><circle cx="877.5" cy="101.3" r="2.3"/><circle cx="878.3" cy="104.9" r="2.3"/><circle cx="879.1" cy="106.6" r="2.3"/><circle cx="879.9" cy="107.8" r="2.3"/><circle cx="880.7" cy="110.9" r="2.3"/><circle cx="881.5" cy="113.6" r="2.3"/><circle cx="882.2" cy="115.9" r="2.3"/><circle cx="883" cy="120.6" r="2.3"/><circle cx="883.8" cy="120.9" r="2.3"/><circle cx="884.6" cy="124.4" r="2.3"/><circle cx="885.4" cy="126.7" r="2.3"/><circle cx="886.2" cy="128" r="2.3"/><circle cx="887" cy="129.4" r="2.3"/><circle cx="887.7" cy="130.6" r="2.3"/><circle cx="888.5" cy="130" r="2.3"/><circle cx="889.3" cy="132" r="2.3"/><circle cx="890.1" cy="134.4" r="2.3"/><circle cx="890.9" cy="135.6" r="2.3"/><circle cx="891.7" cy="136.2" r="2.3"/><circle cx="892.5" cy="140.1" r="2.3"/><circle cx="893.2" cy="140.7" r="2.3"/><circle cx="894" cy="142.8" r="2.3"/><circle cx="894.8" cy="144.6" r="2.3"/><circle cx="895.6" cy="145.6" r="2.3"/><circle cx="896.4" cy="148.6" r="2.3"/><circle cx="897.2" cy="149.1" r="2.3"/><circle cx="898" cy="152.7" r="2.3"/><circle cx="898.8" cy="154.1" r="2.3"/><circle cx="899.5" cy="155.1" r="2.3"/><circle cx="900.3" cy="157.5" r="2.3"/><circle cx="901.1" cy="160.6" r="2.3"/><circle cx="901.9" cy="161.6" r="2.3"/><circle cx="902.7" cy="165.8" r="2.3"/><circle cx="903.5" cy="167.1" r="2.3"/><circle cx="904.3" cy="168.1" r="2.3"/><circle cx="905" cy="171" r="2.3"/><circle cx="905.8" cy="173.1" r="2.3"/><circle cx="906.6" cy="175.8" r="2.3"/><circle cx="907.4" cy="178.9" r="2.3"/><circle cx="908.2" cy="180.3" r="2.3"/><circle cx="909" cy="181.8" r="2.3"/><circle cx="909.8" cy="183.9" r="2.3"/><circle cx="910.5" cy="186.4" r="2.3"/><circle cx="911.3" cy="189.5" r="2.3"/><circle cx="912.1" cy="190.6" r="2.3"/><circle cx="912.9" cy="192" r="2.3"/><circle cx="913.7" cy="194" r="2.3"/><circle cx="914.5" cy="197.7" r="2.3"/><circle cx="915.3" cy="198.7" r="2.3"/><circle cx="916" cy="199.9" r="2.3"/><circle cx="916.8" cy="201" r="2.3"/><circle cx="917.6" cy="203.4" r="2.3"/><circle cx="918.4" cy="204.1" r="2.3"/><circle cx="919.2" cy="206.6" r="2.3"/><circle cx="920" cy="207.8" r="2.3"/><circle cx="920.8" cy="208.7" r="2.3"/><circle cx="921.5" cy="208" r="2.3"/><circle cx="922.3" cy="208.4" r="2.3"/><circle cx="923.1" cy="209.2" r="2.3"/><circle cx="923.9" cy="209.5" r="2.3"/><circle cx="924.7" cy="212.8" r="2.3"/><circle cx="925.5" cy="213.3" r="2.3"/><circle cx="926.3" cy="211.3" r="2.3"/><circle cx="927" cy="212.3" r="2.3"/><circle cx="927.8" cy="213.3" r="2.3"/><circle cx="928.6" cy="215.2" r="2.3"/><circle cx="929.4" cy="216.1" r="2.3"/><circle cx="930.2" cy="216.8" r="2.3"/><circle cx="931" cy="216.9" r="2.3"/><circle cx="931.8" cy="217.7" r="2.3"/><circle cx="932.5" cy="217.3" r="2.3"/><circle cx="933.3" cy="215.9" r="2.3"/><circle cx="934.1" cy="217.9" r="2.3"/><circle cx="934.9" cy="216.6" r="2.3"/><circle cx="935.7" cy="217.4" r="2.3"/><circle cx="936.5" cy="216.7" r="2.3"/><circle cx="937.3" cy="218.2" r="2.3"/><circle cx="938.1" cy="218.3" r="2.3"/><circle cx="938.8" cy="217.9" r="2.3"/><circle cx="939.6" cy="218.3" r="2.3"/><circle cx="940.4" cy="218.1" r="2.3"/><circle cx="941.2" cy="217.8" r="2.3"/><circle cx="942" cy="219.8" r="2.3"/><circle cx="942.8" cy="221" r="2.3"/><circle cx="943.6" cy="219.5" r="2.3"/><circle cx="944.3" cy="221" r="2.3"/><circle cx="945.1" cy="222.1" r="2.3"/><circle cx="945.9" cy="220.8" r="2.3"/><circle cx="946.7" cy="220.8" r="2.3"/><circle cx="947.5" cy="220.1" r="2.3"/><circle cx="948.3" cy="220" r="2.3"/><circle cx="949.1" cy="220.3" r="2.3"/><circle cx="949.8" cy="219.1" r="2.3"/><circle cx="950.6" cy="221.3" r="2.3"/><circle cx="951.4" cy="220.7" r="2.3"/><circle cx="952.2" cy="220.6" r="2.3"/><circle cx="953" cy="219.9" r="2.3"/><circle cx="953.8" cy="221.1" r="2.3"/><circle cx="954.6" cy="220.9" r="2.3"/><circle cx="955.3" cy="221.9" r="2.3"/><circle cx="956.1" cy="222.2" r="2.3"/><circle cx="956.9" cy="220.9" r="2.3"/><circle cx="957.7" cy="220.5" r="2.3"/><circle cx="958.5" cy="220.7" r="2.3"/><circle cx="959.3" cy="220.3" r="2.3"/><circle cx="960.1" cy="220.3" r="2.3"/><circle cx="960.8" cy="220.8" r="2.3"/><circle cx="961.6" cy="220.4" r="2.3"/><circle cx="962.4" cy="219.8" r="2.3"/><circle cx="963.2" cy="220.2" r="2.3"/><circle cx="964" cy="219.8" r="2.3"/><circle cx="964.8" cy="220.2" r="2.3"/><circle cx="965.6" cy="219.8" r="2.3"/><circle cx="966.3" cy="221.1" r="2.3"/><circle cx="967.1" cy="220.5" r="2.3"/><circle cx="967.9" cy="220.1" r="2.3"/><circle cx="968.7" cy="221.4" r="2.3"/><circle cx="969.5" cy="219.9" r="2.3"/><circle cx="970.3" cy="220.5" r="2.3"/><circle cx="971.1" cy="219.3" r="2.3"/><circle cx="971.8" cy="220" r="2.3"/><circle cx="972.6" cy="218.4" r="2.3"/><circle cx="973.4" cy="218.7" r="2.3"/><circle cx="974.2" cy="219.6" r="2.3"/><circle cx="975" cy="218.8" r="2.3"/><circle cx="975.8" cy="219.2" r="2.3"/><circle cx="976.6" cy="219.1" r="2.3"/><circle cx="977.4" cy="219.3" r="2.3"/><circle cx="978.1" cy="220" r="2.3"/><circle cx="978.9" cy="220.1" r="2.3"/><circle cx="979.7" cy="220.3" r="2.3"/><circle cx="980.5" cy="221.9" r="2.3"/><circle cx="981.3" cy="220.7" r="2.3"/><circle cx="982.1" cy="220.4" r="2.3"/><circle cx="982.9" cy="220.5" r="2.3"/><circle cx="983.6" cy="219.9" r="2.3"/><circle cx="984.4" cy="220.9" r="2.3"/><circle cx="985.2" cy="219.7" r="2.3"/><circle cx="986" cy="220.9" r="2.3"/><circle cx="986.8" cy="220" r="2.3"/><circle cx="987.6" cy="220.9" r="2.3"/><circle cx="988.4" cy="220.8" r="2.3"/><circle cx="989.1" cy="220" r="2.3"/><circle cx="989.9" cy="219.9" r="2.3"/><circle cx="990.7" cy="220.2" r="2.3"/><circle cx="991.5" cy="220.5" r="2.3"/><circle cx="992.3" cy="221.2" r="2.3"/><circle cx="993.1" cy="220.4" r="2.3"/><circle cx="993.9" cy="219.8" r="2.3"/><circle cx="994.6" cy="220.9" r="2.3"/><circle cx="995.4" cy="219.7" r="2.3"/><circle cx="996.2" cy="219.7" r="2.3"/><circle cx="997" cy="219.8" r="2.3"/><circle cx="997.8" cy="220.7" r="2.3"/><circle cx="998.6" cy="219.9" r="2.3"/><circle cx="999.4" cy="220.1" r="2.3"/><circle cx="1000.1" cy="219.7" r="2.3"/><circle cx="1000.9" cy="218" r="2.3"/><circle cx="1001.7" cy="219.8" r="2.3"/><circle cx="1002.5" cy="219" r="2.3"/><circle cx="1003.3" cy="218.8" r="2.3"/><circle cx="1004.1" cy="219.9" r="2.3"/><circle cx="1004.9" cy="219.3" r="2.3"/><circle cx="1005.6" cy="219.6" r="2.3"/><circle cx="1006.4" cy="218.5" r="2.3"/><circle cx="1007.2" cy="219.7" r="2.3"/><circle cx="1008" cy="218.5" r="2.3"/><circle cx="1008.8" cy="217.4" r="2.3"/><circle cx="1009.6" cy="218.1" r="2.3"/><circle cx="1010.4" cy="220.1" r="2.3"/><circle cx="1011.1" cy="220.7" r="2.3"/><circle cx="1011.9" cy="221.5" r="2.3"/><circle cx="1012.7" cy="220" r="2.3"/><circle cx="1013.5" cy="220" r="2.3"/><circle cx="1014.3" cy="219.7" r="2.3"/><circle cx="1015.1" cy="219.8" r="2.3"/><circle cx="1015.9" cy="220.5" r="2.3"/><circle cx="1016.7" cy="221" r="2.3"/><circle cx="1017.4" cy="220.4" r="2.3"/><circle cx="1018.2" cy="221.2" r="2.3"/><circle cx="1019" cy="220.5" r="2.3"/><circle cx="1019.8" cy="220.1" r="2.3"/><circle cx="1020.6" cy="218.8" r="2.3"/><circle cx="1021.4" cy="218.7" r="2.3"/><circle cx="1022.2" cy="218.4" r="2.3"/><circle cx="1022.9" cy="219" r="2.3"/><circle cx="1023.7" cy="219.7" r="2.3"/><circle cx="1024.5" cy="220.1" r="2.3"/><circle cx="1025.3" cy="220.1" r="2.3"/><circle cx="1026.1" cy="220.8" r="2.3"/><circle cx="1026.9" cy="219.7" r="2.3"/><circle cx="1027.7" cy="220.2" r="2.3"/><circle cx="1028.4" cy="220.4" r="2.3"/><circle cx="1029.2" cy="220.1" r="2.3"/><circle cx="1030" cy="220.7" r="2.3"/><circle cx="1030.8" cy="220" r="2.3"/><circle cx="1031.6" cy="219.4" r="2.3"/></g>
<path d="M755.7,231.9 L756.2,231.9 L756.7,231.9 L757.2,231.9 L757.7,231.9 L758.2,231.9 L758.7,231.9 L759.2,231.8 L759.7,231.8 L760.2,231.8 L760.7,231.8 L761.2,231.8 L761.7,231.8 L762.2,231.8 L762.7,231.7 L763.2,231.7 L763.7,231.7 L764.2,231.7 L764.7,231.7 L765.2,231.7 L765.7,231.7 L766.2,231.6 L766.7,231.6 L767.2,231.6 L767.7,231.6 L768.2,231.6 L768.7,231.6 L769.2,231.6 L769.7,231.5 L770.2,231.5 L770.7,231.5 L771.2,231.5 L771.7,231.5 L772.2,231.5 L772.7,231.4 L773.2,231.4 L773.7,231.4 L774.2,231.4 L774.7,231.4 L775.2,231.4 L775.7,231.3 L776.2,231.3 L776.7,231.3 L777.2,231.3 L777.7,231.2 L778.2,231.2 L778.7,231.2 L779.2,231.2 L779.7,231.2 L780.2,231.1 L780.7,231.1 L781.2,231.1 L781.7,231.1 L782.2,231 L782.7,231 L783.2,231 L783.7,230.9 L784.2,230.9 L784.7,230.9 L785.2,230.8 L785.7,230.8 L786.2,230.8 L786.7,230.7 L787.2,230.7 L787.7,230.7 L788.2,230.6 L788.7,230.6 L789.2,230.6 L789.7,230.5 L790.2,230.5 L790.7,230.4 L791.2,230.4 L791.7,230.3 L792.2,230.3 L792.7,230.3 L793.2,230.2 L793.7,230.2 L794.2,230.1 L794.7,230 L795.2,230 L795.7,229.9 L796.2,229.9 L796.7,229.8 L797.2,229.8 L797.7,229.7 L798.2,229.6 L798.7,229.6 L799.2,229.5 L799.7,229.4 L800.2,229.3 L800.7,229.3 L801.2,229.2 L801.7,229.1 L802.2,229 L802.7,228.9 L803.2,228.8 L803.7,228.7 L804.2,228.5 L804.7,228.4 L805.2,228.2 L805.7,228.1 L806.2,227.9 L806.7,227.7 L807.2,227.4 L807.7,227.2 L808.2,226.9 L808.7,226.6 L809.2,226.2 L809.7,225.8 L810.2,225.3 L810.7,224.8 L811.2,224.1 L811.7,223.5 L812.2,222.7 L812.7,221.8 L813.2,220.9 L813.7,219.8 L814.2,218.6 L814.7,217.2 L815.2,215.7 L815.7,214 L816.2,212.2 L816.7,210.1 L817.2,207.9 L817.7,205.4 L818.2,202.7 L818.7,199.8 L819.2,196.7 L819.7,193.3 L820.2,189.7 L820.7,185.8 L821.2,181.6 L821.7,177.2 L822.2,172.6 L822.7,167.8 L823.2,162.7 L823.7,157.4 L824.2,151.9 L824.7,146.3 L825.2,140.6 L825.7,134.7 L826.2,128.8 L826.7,122.8 L827.2,116.9 L827.7,110.9 L828.2,105.1 L828.7,99.3 L829.2,93.8 L829.7,88.4 L830.2,83.2 L830.7,78.4 L831.2,73.8 L831.7,69.5 L832.2,65.7 L832.7,62.1 L833.2,59 L833.7,56.3 L834.2,54 L834.7,52.1 L835.2,50.7 L835.7,49.9 L836.2,49.8 L836.7,50.4 L837.2,51.5 L837.7,53.3 L838.2,55.7 L838.7,58.7 L839.2,62.2 L839.7,66.1 L840.2,70.4 L840.7,74.9 L841.2,79.5 L841.7,84.2 L842.2,88.8 L842.7,93.4 L843.2,98 L843.7,102.3 L844.2,106.5 L844.7,110.5 L845.2,114.3 L845.7,117.8 L846.2,121 L846.7,124 L847.2,126.6 L847.7,128.9 L848.2,130.9 L848.7,132.6 L849.2,134 L849.7,135.2 L850.2,136 L850.7,136.5 L851.2,136.8 L851.7,136.8 L852.2,136.6 L852.7,136.1 L853.2,135.5 L853.7,134.6 L854.2,133.6 L854.7,132.4 L855.2,131.1 L855.7,129.6 L856.2,128.1 L856.7,126.4 L857.2,124.6 L857.7,122.8 L858.2,120.9 L858.7,119 L859.2,117.1 L859.7,115.1 L860.2,113.1 L860.7,111.2 L861.2,109.3 L861.7,107.4 L862.2,105.5 L862.7,103.8 L863.2,102.1 L863.7,100.4 L864.2,98.9 L864.7,97.5 L865.2,96.2 L865.7,95 L866.2,93.9 L866.7,93 L867.2,92.2 L867.7,91.6 L868.2,91.1 L868.7,90.8 L869.2,90.6 L869.7,90.5 L870.2,90.6 L870.7,90.8 L871.2,91.2 L871.7,91.6 L872.2,92.2 L872.7,93 L873.2,93.8 L873.7,94.7 L874.2,95.8 L874.7,96.9 L875.2,98.1 L875.7,99.4 L876.2,100.8 L876.7,102.2 L877.2,103.7 L877.7,105.2 L878.2,106.8 L878.7,108.4 L879.2,110 L879.7,111.6 L880.2,113.2 L880.7,114.8 L881.2,116.4 L881.7,118 L882.2,119.5 L882.7,121 L883.2,122.5 L883.7,123.8 L884.2,125.2 L884.7,126.5 L885.2,127.7 L885.7,128.8 L886.2,129.9 L886.7,130.9 L887.2,131.8 L887.7,132.7 L888.2,133.6 L888.7,134.4 L889.2,135.3 L889.7,136.1 L890.2,136.9 L890.7,137.8 L891.2,138.7 L891.7,139.7 L892.2,140.7 L892.7,141.8 L893.2,142.9 L893.7,144.1 L894.2,145.3 L894.7,146.5 L895.2,147.7 L895.7,148.9 L896.2,150.1 L896.7,151.4 L897.2,152.6 L897.7,153.9 L898.2,155.2 L898.7,156.5 L899.2,157.8 L899.7,159.1 L900.2,160.5 L900.7,161.9 L901.2,163.3 L901.7,164.7 L902.2,166.1 L902.7,167.5 L903.2,168.9 L903.7,170.3 L904.2,171.7 L904.7,173.2 L905.2,174.6 L905.7,176 L906.2,177.4 L906.7,178.7 L907.2,180.1 L907.7,181.5 L908.2,182.8 L908.7,184.1 L909.2,185.4 L909.7,186.7 L910.2,187.9 L910.7,189.2 L911.2,190.4 L911.7,191.6 L912.2,192.7 L912.7,193.9 L913.2,195 L913.7,196.1 L914.2,197.1 L914.7,198.1 L915.2,199.1 L915.7,200.1 L916.2,201 L916.7,202 L917.2,202.8 L917.7,203.7 L918.2,204.5 L918.7,205.3 L919.2,206.1 L919.7,206.8 L920.2,207.5 L920.7,208.2 L921.2,208.8 L921.7,209.5 L922.2,210 L922.7,210.6 L923.2,211.1 L923.7,211.7 L924.2,212.1 L924.7,212.6 L925.2,213 L925.7,213.5 L926.2,213.8 L926.7,214.2 L927.2,214.6 L927.7,214.9 L928.2,215.2 L928.7,215.5 L929.2,215.7 L929.7,216 L930.2,216.2 L930.7,216.4 L931.2,216.7 L931.7,216.8 L932.2,217 L932.7,217.2 L933.2,217.3 L933.7,217.5 L934.2,217.6 L934.7,217.7 L935.2,217.8 L935.7,217.9 L936.2,218 L936.7,218.1 L937.2,218.2 L937.7,218.3 L938.2,218.4 L938.7,218.4 L939.2,218.5 L939.7,218.5 L940.2,218.6 L940.7,218.6 L941.2,218.7 L941.7,218.7 L942.2,218.7 L942.7,218.8 L943.2,218.8 L943.7,218.8 L944.2,218.9 L944.7,218.9 L945.2,218.9 L945.7,218.9 L946.2,218.9 L946.7,219 L947.2,219 L947.7,219 L948.2,219 L948.7,219 L949.2,219 L949.7,219.1 L950.2,219.1 L950.7,219.1 L951.2,219.1 L951.7,219.1 L952.2,219.1 L952.7,219.1 L953.2,219.1 L953.7,219.2 L954.2,219.2 L954.7,219.2 L955.2,219.2 L955.7,219.2 L956.2,219.2 L956.7,219.2 L957.2,219.2 L957.7,219.2 L958.2,219.2 L958.7,219.3 L959.2,219.3 L959.7,219.3 L960.2,219.3 L960.7,219.3 L961.2,219.3 L961.7,219.3 L962.2,219.3 L962.7,219.3 L963.2,219.3 L963.7,219.4 L964.2,219.4 L964.7,219.4 L965.2,219.4 L965.7,219.4 L966.2,219.4 L966.7,219.4 L967.2,219.4 L967.7,219.4 L968.2,219.4 L968.7,219.4 L969.2,219.4 L969.7,219.4 L970.2,219.5 L970.7,219.5 L971.2,219.5 L971.7,219.5 L972.2,219.5 L972.7,219.5 L973.2,219.5 L973.7,219.5 L974.2,219.5 L974.7,219.5 L975.2,219.5 L975.7,219.5 L976.2,219.5 L976.7,219.5 L977.2,219.5 L977.7,219.5 L978.2,219.6 L978.7,219.6 L979.2,219.6 L979.7,219.6 L980.2,219.6 L980.7,219.6 L981.2,219.6 L981.7,219.6 L982.2,219.6 L982.7,219.6 L983.2,219.6 L983.7,219.6 L984.2,219.6 L984.7,219.6 L985.2,219.6 L985.7,219.6 L986.2,219.6 L986.7,219.6 L987.2,219.6 L987.7,219.6 L988.2,219.6 L988.7,219.6 L989.2,219.6 L989.7,219.6 L990.2,219.6 L990.7,219.6 L991.2,219.6 L991.7,219.6 L992.2,219.7 L992.7,219.7 L993.2,219.7 L993.7,219.7 L994.2,219.7 L994.7,219.7 L995.2,219.7 L995.7,219.7 L996.2,219.7 L996.7,219.7 L997.2,219.7 L997.7,219.7 L998.2,219.7 L998.7,219.7 L999.2,219.7 L999.7,219.7 L1000.2,219.7 L1000.7,219.7 L1001.2,219.7 L1001.7,219.7 L1002.2,219.7 L1002.7,219.7 L1003.2,219.7 L1003.7,219.7 L1004.2,219.7 L1004.7,219.7 L1005.2,219.7 L1005.7,219.7 L1006.2,219.7 L1006.7,219.7 L1007.2,219.7 L1007.7,219.7 L1008.2,219.7 L1008.7,219.7 L1009.2,219.7 L1009.7,219.7 L1010.2,219.7 L1010.7,219.7 L1011.2,219.7 L1011.7,219.7 L1012.2,219.7 L1012.7,219.8 L1013.2,219.8 L1013.7,219.8 L1014.2,219.8 L1014.7,219.8 L1015.2,219.8 L1015.7,219.8 L1016.2,219.8 L1016.7,219.8 L1017.2,219.8 L1017.7,219.8 L1018.2,219.8 L1018.7,219.8 L1019.2,219.8 L1019.7,219.8 L1020.2,219.8 L1020.7,219.8 L1021.2,219.8 L1021.7,219.8 L1022.2,219.8 L1022.7,219.8 L1023.2,219.8 L1023.7,219.8 L1024.2,219.8 L1024.7,219.8 L1025.2,219.8 L1025.7,219.8 L1026.2,219.8 L1026.7,219.8 L1027.2,219.8 L1027.7,219.8 L1028.2,219.8 L1028.7,219.8 L1029.2,219.8 L1029.7,219.8 L1030.2,219.8 L1030.7,219.8" fill="none" stroke="#9896dc" stroke-width="2"/>
<line x1="834.5" y1="37.6" x2="834.5" y2="258.6" stroke="#1a1a1a" stroke-width="1.1" stroke-dasharray="2.6 1.8"/>
</g>
<rect x="755.7" y="33.4" width="275" height="225.2" fill="none" stroke="#4a4a4a" stroke-width="1.3"/>
<text x="755.7" y="276" font-size="14.9" fill="#1a1a1a" text-anchor="middle" stroke="#1a1a1a" stroke-width="0.3">526</text>
<line x1="795" y1="258.6" x2="795" y2="254.6" stroke="#4a4a4a" stroke-width="1.1"/>
<text x="795" y="276" font-size="14.9" fill="#1a1a1a" text-anchor="middle" stroke="#1a1a1a" stroke-width="0.3">528</text>
<line x1="834.3" y1="258.6" x2="834.3" y2="254.6" stroke="#4a4a4a" stroke-width="1.1"/>
<text x="834.3" y="276" font-size="14.9" fill="#1a1a1a" text-anchor="middle" stroke="#1a1a1a" stroke-width="0.3">530</text>
<line x1="873.6" y1="258.6" x2="873.6" y2="254.6" stroke="#4a4a4a" stroke-width="1.1"/>
<text x="873.6" y="276" font-size="14.9" fill="#1a1a1a" text-anchor="middle" stroke="#1a1a1a" stroke-width="0.3">532</text>
<line x1="912.9" y1="258.6" x2="912.9" y2="254.6" stroke="#4a4a4a" stroke-width="1.1"/>
<text x="912.9" y="276" font-size="14.9" fill="#1a1a1a" text-anchor="middle" stroke="#1a1a1a" stroke-width="0.3">534</text>
<line x1="952.2" y1="258.6" x2="952.2" y2="254.6" stroke="#4a4a4a" stroke-width="1.1"/>
<text x="952.2" y="276" font-size="14.9" fill="#1a1a1a" text-anchor="middle" stroke="#1a1a1a" stroke-width="0.3">536</text>
<line x1="991.5" y1="258.6" x2="991.5" y2="254.6" stroke="#4a4a4a" stroke-width="1.1"/>
<text x="991.5" y="276" font-size="14.9" fill="#1a1a1a" text-anchor="middle" stroke="#1a1a1a" stroke-width="0.3">538</text>
<text x="1030.8" y="276" font-size="14.9" fill="#1a1a1a" text-anchor="middle" stroke="#1a1a1a" stroke-width="0.3">540</text>
<text x="821.2" y="292.6" font-size="15.1" fill="#1a1a1a" stroke="#1a1a1a" stroke-width="0.3">Binding Energy (eV)</text>
<text transform="translate(747.2,142.3) rotate(-90)" font-size="15" fill="#1a1a1a" text-anchor="middle" stroke="#1a1a1a" stroke-width="0.3">Intensity (a.u.)</text>
<text x="761" y="50.3" font-size="15.1" fill="#1a1a1a" stroke="#1a1a1a" stroke-width="0.3">O 1s</text>
<text x="838.4" y="246.1" font-size="10.9" fill="#222" stroke="#222" stroke-width="0.3">530.0 eV</text>
<text x="1027.6" y="246.7" font-size="15.1" fill="#1a1a1a" text-anchor="end" stroke="#1a1a1a" stroke-width="0.3">BPT NiOx+SAM</text>
<text x="847.3" y="72.9" font-size="14.8" fill="#8db3e2" stroke="#8db3e2" stroke-width="0.3">Ni<tspan font-size="10" dy="-6">2+</tspan><tspan dy="6">(O</tspan><tspan font-size="10" dy="-6">2-</tspan><tspan dy="6">)</tspan></text>
<text x="895.4" y="122.7" font-size="14.8" fill="#1ec6c8" stroke="#1ec6c8" stroke-width="0.3">Ni<tspan font-size="10" dy="-6">3+</tspan><tspan dy="6">(O</tspan><tspan font-size="10" dy="-6">2-</tspan><tspan dy="6">;-OH);</tspan></text>
<text x="895.4" y="140" font-size="14.8" fill="#1ec6c8" stroke="#1ec6c8" stroke-width="0.3">P=O;Ni-P-O</text>
<text x="925.9" y="195.5" font-size="14.8" fill="#f0a2ca" stroke="#f0a2ca" stroke-width="0.3">C-O-C</text>
<text transform="translate(24.3,30.9) scale(1.09,1)" font-size="29" font-weight="bold" fill="#000" stroke="#000" stroke-width="0.45">a</text>
<text transform="translate(383.3,30.9) scale(1.09,1)" font-size="29" font-weight="bold" fill="#000" stroke="#000" stroke-width="0.45">b</text>
<text transform="translate(723,31.2) scale(1.09,1)" font-size="29" font-weight="bold" fill="#000" stroke="#000" stroke-width="0.45">c</text>
<text transform="translate(23,352) scale(1.09,1)" font-size="29" font-weight="bold" fill="#000" stroke="#000" stroke-width="0.45">d</text>
<text transform="translate(666.6,352.4) scale(1.09,1)" font-size="29" font-weight="bold" fill="#000" stroke="#000" stroke-width="0.45">e</text>
<text transform="translate(24.8,667.7) scale(1.09,1)" font-size="29" font-weight="bold" fill="#000" stroke="#000" stroke-width="0.45">f</text>
<line x1="112.7" y1="340" x2="112.7" y2="606" stroke="#333" stroke-width="1.3"/>
<path d="M112.7,334.5 L109.7,341.5 L115.7,341.5 Z" fill="#111"/>
<text transform="translate(100.2,399.6) rotate(-90)" font-size="11" fill="#222" text-anchor="middle" stroke="#222" stroke-width="0.3">Energy level (eV)</text>
<line x1="130.8" y1="357.2" x2="561" y2="357.2" stroke="#222" stroke-width="1.2" stroke-dasharray="4 2.6"/>
<rect x="126.5" y="514.8" width="101.5" height="62" fill="url(#gblue)"/>
<line x1="126.5" y1="490" x2="228" y2="490" stroke="#111" stroke-width="1.8"/>
<line x1="206.9" y1="363.4" x2="206.9" y2="482.6" stroke="#222" stroke-width="1.0"/>
<path d="M206.9,358.5 L203.7,363.9 L210.1,363.9 Z" fill="#111"/>
<path d="M206.9,487.5 L203.7,482.1 L210.1,482.1 Z" fill="#111"/>
<line x1="190.3" y1="496" x2="190.3" y2="509.1" stroke="#222" stroke-width="1.0"/>
<path d="M190.3,491.5 L187.3,496.5 L193.3,496.5 Z" fill="#111"/>
<path d="M190.3,513.6 L187.3,508.6 L193.3,508.6 Z" fill="#111"/>
<rect x="235.3" y="513" width="101.5" height="62" fill="url(#gblue)"/>
<line x1="235.3" y1="492.2" x2="336.8" y2="492.2" stroke="#111" stroke-width="1.8"/>
<line x1="305.6" y1="365.4" x2="305.6" y2="484.8" stroke="#222" stroke-width="1.0"/>
<path d="M305.6,360.5 L302.4,365.9 L308.8,365.9 Z" fill="#111"/>
<path d="M305.6,489.7 L302.4,484.3 L308.8,484.3 Z" fill="#111"/>
<line x1="297" y1="498.2" x2="297" y2="507.3" stroke="#222" stroke-width="1.0"/>
<path d="M297,493.7 L294,498.7 L300,498.7 Z" fill="#111"/>
<path d="M297,511.8 L294,506.8 L300,506.8 Z" fill="#111"/>
<rect x="348.2" y="517.1" width="100.8" height="62" fill="url(#gblue)"/>
<line x1="348.2" y1="497.3" x2="449" y2="497.3" stroke="#111" stroke-width="1.8"/>
<line x1="428.6" y1="363.4" x2="428.6" y2="489.9" stroke="#222" stroke-width="1.0"/>
<path d="M428.6,358.5 L425.4,363.9 L431.8,363.9 Z" fill="#111"/>
<path d="M428.6,494.8 L425.4,489.4 L431.8,489.4 Z" fill="#111"/>
<line x1="414.8" y1="503.3" x2="414.8" y2="511.4" stroke="#222" stroke-width="1.0"/>
<path d="M414.8,498.8 L411.8,503.8 L417.8,503.8 Z" fill="#111"/>
<path d="M414.8,515.9 L411.8,510.9 L417.8,510.9 Z" fill="#111"/>
<rect x="455.6" y="516" width="100.8" height="95" fill="url(#gorange)"/>
<line x1="455.6" y1="483.2" x2="556.4" y2="483.2" stroke="#111" stroke-width="1.8"/>
<line x1="530.9" y1="363.4" x2="530.9" y2="473.8" stroke="#222" stroke-width="1.0"/>
<path d="M530.9,358.5 L527.7,363.9 L534.1,363.9 Z" fill="#111"/>
<path d="M530.9,478.7 L527.7,473.3 L534.1,473.3 Z" fill="#111"/>
<line x1="530.9" y1="489.2" x2="530.9" y2="510.3" stroke="#222" stroke-width="1.0"/>
<path d="M530.9,484.7 L527.9,489.7 L533.9,489.7 Z" fill="#111"/>
<path d="M530.9,514.8 L527.9,509.8 L533.9,509.8 Z" fill="#111"/>
<text x="157" y="427.7" font-size="14.5" fill="#1a1a1a" stroke="#1a1a1a" stroke-width="0.3">-4.63</text>
<text x="265.6" y="435.2" font-size="14.5" fill="#1a1a1a" stroke="#1a1a1a" stroke-width="0.3">-4.72</text>
<text x="391" y="446.3" font-size="14.5" fill="#1a1a1a" stroke="#1a1a1a" stroke-width="0.3">-4.9</text>
<text x="487" y="426.8" font-size="14.5" fill="#1a1a1a" stroke="#1a1a1a" stroke-width="0.3">-4.41</text>
<text x="153.5" y="508.1" font-size="14.5" fill="#1a1a1a" stroke="#1a1a1a" stroke-width="0.3">0.88</text>
<text x="265.4" y="509.6" font-size="14.5" fill="#1a1a1a" stroke="#1a1a1a" stroke-width="0.3">0.8</text>
<text x="377" y="513.8" font-size="14.5" fill="#1a1a1a" stroke="#1a1a1a" stroke-width="0.3">0.72</text>
<text x="495.4" y="504.5" font-size="14.5" fill="#1a1a1a" stroke="#1a1a1a" stroke-width="0.3">1.15</text>
<text x="156.6" y="543.4" font-size="14.5" fill="#1a1a1a" stroke="#1a1a1a" stroke-width="0.3">-5.43</text>
<text x="260.9" y="536.7" font-size="14.5" fill="#1a1a1a" stroke="#1a1a1a" stroke-width="0.3">-5.45</text>
<text x="381" y="539.7" font-size="14.5" fill="#1a1a1a" stroke="#1a1a1a" stroke-width="0.3">-5.6</text>
<text x="490.9" y="532.2" font-size="14.5" fill="#1a1a1a" stroke="#1a1a1a" stroke-width="0.3">-5.46</text>
<text x="163.2" y="588.6" font-size="10.6" fill="#1a1a1a" textLength="25.6" lengthAdjust="spacingAndGlyphs" stroke="#1a1a1a" stroke-width="0.3">0 min</text>
<text x="266.8" y="587.6" font-size="10.6" fill="#1a1a1a" textLength="32.4" lengthAdjust="spacingAndGlyphs" stroke="#1a1a1a" stroke-width="0.3">10 min</text>
<text x="380.6" y="587.3" font-size="10.6" fill="#1a1a1a" textLength="33.6" lengthAdjust="spacingAndGlyphs" stroke="#1a1a1a" stroke-width="0.3">20 min</text>
<text x="472.8" y="586.8" font-size="10.6" fill="#1a1a1a" textLength="63.8" lengthAdjust="spacingAndGlyphs" stroke="#1a1a1a" stroke-width="0.3">1.68eV PVK</text>
<text x="568.6" y="362.5" font-size="14" fill="#1a1a1a" stroke="#1a1a1a" stroke-width="0.3">E<tspan font-size="10" dy="2.8">VAC</tspan></text>
<text x="568.6" y="482.4" font-size="14" fill="#1a1a1a" stroke="#1a1a1a" stroke-width="0.3">E<tspan font-size="10" dy="2.8">F</tspan></text>
<text x="568.6" y="523.0" font-size="14" fill="#1a1a1a" stroke="#1a1a1a" stroke-width="0.3">E<tspan font-size="10" dy="1.6">VBM</tspan></text>
<rect x="743.6" y="351.9" width="289.4" height="233.1" fill="none" stroke="#4a4a4a" stroke-width="1.3"/>
<g clip-path="url(#clipe)">
<g fill="#eec28e"><rect x="1030.4" y="580.9" width="5.6" height="5.6"/><rect x="1029.8" y="581" width="5.6" height="5.6"/><rect x="1029.2" y="580.5" width="5.6" height="5.6"/><rect x="1028.6" y="580.8" width="5.6" height="5.6"/><rect x="1028.1" y="580.7" width="5.6" height="5.6"/><rect x="1027.5" y="580.9" width="5.6" height="5.6"/><rect x="1026.9" y="580.5" width="5.6" height="5.6"/><rect x="1026.3" y="580.8" width="5.6" height="5.6"/><rect x="1025.7" y="580.7" width="5.6" height="5.6"/><rect x="1025.2" y="580.8" width="5.6" height="5.6"/><rect x="1024.6" y="580.1" width="5.6" height="5.6"/><rect x="1024" y="580.9" width="5.6" height="5.6"/><rect x="1023.4" y="580.6" width="5.6" height="5.6"/><rect x="1022.8" y="580.7" width="5.6" height="5.6"/><rect x="1022.3" y="580.9" width="5.6" height="5.6"/><rect x="1021.7" y="580.7" width="5.6" height="5.6"/><rect x="1021.1" y="580.7" width="5.6" height="5.6"/><rect x="1020.5" y="580.4" width="5.6" height="5.6"/><rect x="1019.9" y="580.4" width="5.6" height="5.6"/><rect x="1019.4" y="580.8" width="5.6" height="5.6"/><rect x="1018.8" y="580.8" width="5.6" height="5.6"/><rect x="1018.2" y="580.7" width="5.6" height="5.6"/><rect x="1017.6" y="580.6" width="5.6" height="5.6"/><rect x="1017" y="581" width="5.6" height="5.6"/><rect x="1016.5" y="581" width="5.6" height="5.6"/><rect x="1015.9" y="580.8" width="5.6" height="5.6"/><rect x="1015.3" y="580.7" width="5.6" height="5.6"/><rect x="1014.7" y="580.7" width="5.6" height="5.6"/><rect x="1014.1" y="580" width="5.6" height="5.6"/><rect x="1013.6" y="580.7" width="5.6" height="5.6"/><rect x="1013" y="580.6" width="5.6" height="5.6"/><rect x="1012.4" y="580.8" width="5.6" height="5.6"/><rect x="1011.8" y="580.8" width="5.6" height="5.6"/><rect x="1011.2" y="580.5" width="5.6" height="5.6"/><rect x="1010.7" y="580.8" width="5.6" height="5.6"/><rect x="1010.1" y="580.6" width="5.6" height="5.6"/><rect x="1009.5" y="580.8" width="5.6" height="5.6"/><rect x="1008.9" y="580.5" width="5.6" height="5.6"/><rect x="1008.3" y="580.1" width="5.6" height="5.6"/><rect x="1007.8" y="580.9" width="5.6" height="5.6"/><rect x="1007.2" y="580.6" width="5.6" height="5.6"/><rect x="1006.6" y="580.9" width="5.6" height="5.6"/><rect x="1006" y="580.9" width="5.6" height="5.6"/><rect x="1005.4" y="580.9" width="5.6" height="5.6"/><rect x="1004.9" y="580.9" width="5.6" height="5.6"/><rect x="1004.3" y="580.5" width="5.6" height="5.6"/><rect x="1003.7" y="580.4" width="5.6" height="5.6"/><rect x="1003.1" y="580.6" width="5.6" height="5.6"/><rect x="1002.5" y="580.9" width="5.6" height="5.6"/><rect x="1002" y="581" width="5.6" height="5.6"/><rect x="1001.4" y="580.6" width="5.6" height="5.6"/><rect x="1000.8" y="580.1" width="5.6" height="5.6"/><rect x="1000.2" y="580.9" width="5.6" height="5.6"/><rect x="999.6" y="580.6" width="5.6" height="5.6"/><rect x="999" y="580.6" width="5.6" height="5.6"/><rect x="998.5" y="580.9" width="5.6" height="5.6"/><rect x="997.9" y="580.6" width="5.6" height="5.6"/><rect x="997.3" y="580.9" width="5.6" height="5.6"/><rect x="996.7" y="581" width="5.6" height="5.6"/><rect x="996.1" y="580.8" width="5.6" height="5.6"/><rect x="995.6" y="580.9" width="5.6" height="5.6"/><rect x="995" y="580.9" width="5.6" height="5.6"/><rect x="994.4" y="580.8" width="5.6" height="5.6"/><rect x="993.8" y="580.9" width="5.6" height="5.6"/><rect x="993.2" y="580.7" width="5.6" height="5.6"/><rect x="992.7" y="580.9" width="5.6" height="5.6"/><rect x="992.1" y="580.9" width="5.6" height="5.6"/><rect x="991.5" y="580.4" width="5.6" height="5.6"/><rect x="990.9" y="580.9" width="5.6" height="5.6"/><rect x="990.3" y="580.8" width="5.6" height="5.6"/><rect x="989.8" y="580.4" width="5.6" height="5.6"/><rect x="989.2" y="581" width="5.6" height="5.6"/><rect x="988.6" y="580.8" width="5.6" height="5.6"/><rect x="988" y="580.5" width="5.6" height="5.6"/><rect x="987.4" y="580.6" width="5.6" height="5.6"/><rect x="986.9" y="580.5" width="5.6" height="5.6"/><rect x="986.3" y="580.5" width="5.6" height="5.6"/><rect x="985.7" y="580.6" width="5.6" height="5.6"/><rect x="985.1" y="580.8" width="5.6" height="5.6"/><rect x="984.5" y="580.5" width="5.6" height="5.6"/><rect x="984" y="580.9" width="5.6" height="5.6"/><rect x="983.4" y="580.7" width="5.6" height="5.6"/><rect x="982.8" y="581" width="5.6" height="5.6"/><rect x="982.2" y="580.4" width="5.6" height="5.6"/><rect x="981.6" y="580.8" width="5.6" height="5.6"/><rect x="981.1" y="580.8" width="5.6" height="5.6"/><rect x="980.5" y="580.6" width="5.6" height="5.6"/><rect x="979.9" y="580.3" width="5.6" height="5.6"/><rect x="979.3" y="580.6" width="5.6" height="5.6"/><rect x="978.7" y="580.9" width="5.6" height="5.6"/><rect x="978.2" y="580.5" width="5.6" height="5.6"/><rect x="977.6" y="580.8" width="5.6" height="5.6"/><rect x="977" y="580" width="5.6" height="5.6"/><rect x="976.4" y="580.5" width="5.6" height="5.6"/><rect x="975.8" y="580.6" width="5.6" height="5.6"/><rect x="975.3" y="580.4" width="5.6" height="5.6"/><rect x="974.7" y="580.5" width="5.6" height="5.6"/><rect x="974.1" y="580.2" width="5.6" height="5.6"/><rect x="973.5" y="580.9" width="5.6" height="5.6"/><rect x="972.9" y="580.5" width="5.6" height="5.6"/><rect x="972.4" y="580.7" width="5.6" height="5.6"/><rect x="971.8" y="580.4" width="5.6" height="5.6"/><rect x="971.2" y="580.6" width="5.6" height="5.6"/><rect x="970.6" y="580.8" width="5.6" height="5.6"/><rect x="970" y="580.3" width="5.6" height="5.6"/><rect x="969.5" y="580.4" width="5.6" height="5.6"/><rect x="968.9" y="581" width="5.6" height="5.6"/><rect x="968.3" y="581" width="5.6" height="5.6"/><rect x="967.7" y="580.5" width="5.6" height="5.6"/><rect x="967.1" y="580.6" width="5.6" height="5.6"/><rect x="966.6" y="580.7" width="5.6" height="5.6"/><rect x="966" y="580" width="5.6" height="5.6"/><rect x="965.4" y="580.7" width="5.6" height="5.6"/><rect x="964.8" y="580.4" width="5.6" height="5.6"/><rect x="964.2" y="580.9" width="5.6" height="5.6"/><rect x="963.6" y="580.5" width="5.6" height="5.6"/><rect x="963.1" y="580.9" width="5.6" height="5.6"/><rect x="962.5" y="580.5" width="5.6" height="5.6"/><rect x="961.9" y="580.6" width="5.6" height="5.6"/><rect x="961.3" y="580.4" width="5.6" height="5.6"/><rect x="960.7" y="580.6" width="5.6" height="5.6"/><rect x="960.2" y="580.4" width="5.6" height="5.6"/><rect x="959.6" y="580.9" width="5.6" height="5.6"/><rect x="959" y="580.4" width="5.6" height="5.6"/><rect x="958.4" y="580.5" width="5.6" height="5.6"/><rect x="957.8" y="580.2" width="5.6" height="5.6"/><rect x="957.3" y="580.8" width="5.6" height="5.6"/><rect x="956.7" y="580.8" width="5.6" height="5.6"/><rect x="956.1" y="580.7" width="5.6" height="5.6"/><rect x="955.5" y="581" width="5.6" height="5.6"/><rect x="954.9" y="580.6" width="5.6" height="5.6"/><rect x="954.4" y="580.9" width="5.6" height="5.6"/><rect x="953.8" y="580.4" width="5.6" height="5.6"/><rect x="953.2" y="580.1" width="5.6" height="5.6"/><rect x="952.6" y="580.1" width="5.6" height="5.6"/><rect x="952" y="580.9" width="5.6" height="5.6"/><rect x="951.5" y="580.8" width="5.6" height="5.6"/><rect x="950.9" y="581" width="5.6" height="5.6"/><rect x="950.3" y="580.7" width="5.6" height="5.6"/><rect x="949.7" y="581" width="5.6" height="5.6"/><rect x="949.1" y="580.3" width="5.6" height="5.6"/><rect x="948.6" y="580.9" width="5.6" height="5.6"/><rect x="948" y="580.5" width="5.6" height="5.6"/><rect x="947.4" y="581" width="5.6" height="5.6"/><rect x="946.8" y="580.2" width="5.6" height="5.6"/><rect x="946.2" y="580.6" width="5.6" height="5.6"/><rect x="945.7" y="580.9" width="5.6" height="5.6"/><rect x="945.1" y="580.4" width="5.6" height="5.6"/><rect x="944.5" y="580.5" width="5.6" height="5.6"/><rect x="943.9" y="580.7" width="5.6" height="5.6"/><rect x="943.3" y="580.7" width="5.6" height="5.6"/><rect x="942.8" y="580.5" width="5.6" height="5.6"/><rect x="942.2" y="580.5" width="5.6" height="5.6"/><rect x="941.6" y="580" width="5.6" height="5.6"/><rect x="941" y="580.9" width="5.6" height="5.6"/><rect x="940.4" y="580.8" width="5.6" height="5.6"/><rect x="939.9" y="580.9" width="5.6" height="5.6"/><rect x="939.3" y="580.9" width="5.6" height="5.6"/><rect x="938.7" y="580.5" width="5.6" height="5.6"/><rect x="938.1" y="580.7" width="5.6" height="5.6"/><rect x="937.5" y="580.1" width="5.6" height="5.6"/><rect x="937" y="580.9" width="5.6" height="5.6"/><rect x="936.4" y="580.6" width="5.6" height="5.6"/><rect x="935.8" y="580.6" width="5.6" height="5.6"/><rect x="935.2" y="580.4" width="5.6" height="5.6"/><rect x="934.6" y="580.8" width="5.6" height="5.6"/><rect x="934.1" y="580.7" width="5.6" height="5.6"/><rect x="933.5" y="581" width="5.6" height="5.6"/><rect x="932.9" y="580.5" width="5.6" height="5.6"/><rect x="932.3" y="580.9" width="5.6" height="5.6"/><rect x="931.7" y="580.9" width="5.6" height="5.6"/><rect x="931.2" y="579.7" width="5.6" height="5.6"/><rect x="930.6" y="580.5" width="5.6" height="5.6"/><rect x="930" y="580.9" width="5.6" height="5.6"/><rect x="929.4" y="580.8" width="5.6" height="5.6"/><rect x="928.8" y="580.8" width="5.6" height="5.6"/><rect x="928.3" y="580.9" width="5.6" height="5.6"/><rect x="927.7" y="580.9" width="5.6" height="5.6"/><rect x="927.1" y="580.7" width="5.6" height="5.6"/><rect x="926.5" y="580.2" width="5.6" height="5.6"/><rect x="925.9" y="580.5" width="5.6" height="5.6"/><rect x="925.3" y="580.4" width="5.6" height="5.6"/><rect x="924.8" y="580.3" width="5.6" height="5.6"/><rect x="924.2" y="580.8" width="5.6" height="5.6"/><rect x="923.6" y="580.7" width="5.6" height="5.6"/><rect x="923" y="580.8" width="5.6" height="5.6"/><rect x="922.4" y="580" width="5.6" height="5.6"/><rect x="921.9" y="580.2" width="5.6" height="5.6"/><rect x="921.3" y="580.8" width="5.6" height="5.6"/><rect x="920.7" y="580.6" width="5.6" height="5.6"/><rect x="920.1" y="580.5" width="5.6" height="5.6"/><rect x="919.5" y="580.9" width="5.6" height="5.6"/><rect x="919" y="580.3" width="5.6" height="5.6"/><rect x="918.4" y="580.7" width="5.6" height="5.6"/><rect x="917.8" y="580.8" width="5.6" height="5.6"/><rect x="917.2" y="580.6" width="5.6" height="5.6"/><rect x="916.6" y="580.1" width="5.6" height="5.6"/><rect x="916.1" y="580.3" width="5.6" height="5.6"/><rect x="915.5" y="580.8" width="5.6" height="5.6"/><rect x="914.9" y="580.1" width="5.6" height="5.6"/><rect x="914.3" y="580.6" width="5.6" height="5.6"/><rect x="913.7" y="581" width="5.6" height="5.6"/><rect x="913.2" y="580.9" width="5.6" height="5.6"/><rect x="912.6" y="580.6" width="5.6" height="5.6"/><rect x="912" y="580.6" width="5.6" height="5.6"/><rect x="911.4" y="580.9" width="5.6" height="5.6"/><rect x="910.8" y="580.3" width="5.6" height="5.6"/><rect x="910.3" y="580.2" width="5.6" height="5.6"/><rect x="909.7" y="581" width="5.6" height="5.6"/><rect x="909.1" y="581" width="5.6" height="5.6"/><rect x="908.5" y="580.9" width="5.6" height="5.6"/><rect x="907.9" y="580.9" width="5.6" height="5.6"/><rect x="907.4" y="581" width="5.6" height="5.6"/><rect x="906.8" y="580.6" width="5.6" height="5.6"/><rect x="906.2" y="580.8" width="5.6" height="5.6"/><rect x="905.6" y="580.6" width="5.6" height="5.6"/><rect x="905" y="580.8" width="5.6" height="5.6"/><rect x="904.5" y="580.7" width="5.6" height="5.6"/><rect x="903.9" y="580.8" width="5.6" height="5.6"/><rect x="903.3" y="581" width="5.6" height="5.6"/><rect x="902.7" y="580.4" width="5.6" height="5.6"/><rect x="902.1" y="580.5" width="5.6" height="5.6"/><rect x="901.6" y="580.8" width="5.6" height="5.6"/><rect x="901" y="580.9" width="5.6" height="5.6"/><rect x="900.4" y="580.9" width="5.6" height="5.6"/><rect x="899.8" y="580.8" width="5.6" height="5.6"/><rect x="899.2" y="580.8" width="5.6" height="5.6"/><rect x="898.7" y="580.8" width="5.6" height="5.6"/><rect x="898.1" y="580.7" width="5.6" height="5.6"/><rect x="897.5" y="580" width="5.6" height="5.6"/><rect x="896.9" y="580.6" width="5.6" height="5.6"/><rect x="896.3" y="580.1" width="5.6" height="5.6"/><rect x="895.8" y="580.7" width="5.6" height="5.6"/><rect x="895.2" y="580.8" width="5.6" height="5.6"/><rect x="894.6" y="580.4" width="5.6" height="5.6"/><rect x="894" y="580" width="5.6" height="5.6"/><rect x="893.4" y="580.7" width="5.6" height="5.6"/><rect x="892.9" y="580.9" width="5.6" height="5.6"/><rect x="892.3" y="580.2" width="5.6" height="5.6"/><rect x="891.7" y="580.7" width="5.6" height="5.6"/><rect x="891.1" y="580.9" width="5.6" height="5.6"/><rect x="890.5" y="581" width="5.6" height="5.6"/><rect x="889.9" y="580.2" width="5.6" height="5.6"/><rect x="889.4" y="580.9" width="5.6" height="5.6"/><rect x="888.8" y="580.8" width="5.6" height="5.6"/><rect x="888.2" y="580.8" width="5.6" height="5.6"/><rect x="887.6" y="580.9" width="5.6" height="5.6"/><rect x="887" y="580.8" width="5.6" height="5.6"/><rect x="886.5" y="581" width="5.6" height="5.6"/><rect x="885.9" y="580.1" width="5.6" height="5.6"/><rect x="885.3" y="580.8" width="5.6" height="5.6"/><rect x="884.7" y="581" width="5.6" height="5.6"/><rect x="884.1" y="580.7" width="5.6" height="5.6"/><rect x="883.6" y="580.9" width="5.6" height="5.6"/><rect x="883" y="580.5" width="5.6" height="5.6"/><rect x="882.4" y="580.9" width="5.6" height="5.6"/><rect x="881.8" y="580.7" width="5.6" height="5.6"/><rect x="881.2" y="580.9" width="5.6" height="5.6"/><rect x="880.7" y="580.8" width="5.6" height="5.6"/><rect x="880.1" y="580.8" width="5.6" height="5.6"/><rect x="879.5" y="580.4" width="5.6" height="5.6"/><rect x="878.9" y="580.9" width="5.6" height="5.6"/><rect x="878.3" y="580.5" width="5.6" height="5.6"/><rect x="877.8" y="580.1" width="5.6" height="5.6"/><rect x="877.2" y="580.9" width="5.6" height="5.6"/><rect x="876.6" y="580" width="5.6" height="5.6"/><rect x="876" y="580.7" width="5.6" height="5.6"/><rect x="875.4" y="580.5" width="5.6" height="5.6"/><rect x="874.9" y="580.5" width="5.6" height="5.6"/><rect x="876.1" y="580.1" width="5.6" height="5.6"/><rect x="875" y="578.5" width="5.6" height="5.6"/><rect x="873.8" y="576.2" width="5.6" height="5.6"/><rect x="876.1" y="580" width="5.6" height="5.6"/><rect x="875.6" y="573.5" width="5.6" height="5.6"/><rect x="875.6" y="577.5" width="5.6" height="5.6"/><rect x="876.3" y="578.6" width="5.6" height="5.6"/><rect x="876.3" y="576.3" width="5.6" height="5.6"/><rect x="878" y="575.9" width="5.6" height="5.6"/><rect x="877.7" y="575.9" width="5.6" height="5.6"/><rect x="875.2" y="579.7" width="5.6" height="5.6"/><rect x="877.5" y="576.1" width="5.6" height="5.6"/><rect x="878.5" y="567.7" width="5.6" height="5.6"/><rect x="878.5" y="579.1" width="5.6" height="5.6"/><rect x="878" y="575.9" width="5.6" height="5.6"/><rect x="877.1" y="578.1" width="5.6" height="5.6"/><rect x="879.2" y="570.4" width="5.6" height="5.6"/><rect x="877.8" y="575.2" width="5.6" height="5.6"/><rect x="880.4" y="572.3" width="5.6" height="5.6"/><rect x="878" y="573.1" width="5.6" height="5.6"/><rect x="881.3" y="572.6" width="5.6" height="5.6"/><rect x="880.1" y="575.5" width="5.6" height="5.6"/><rect x="879.9" y="573.5" width="5.6" height="5.6"/><rect x="879.4" y="575.8" width="5.6" height="5.6"/><rect x="881.3" y="572.2" width="5.6" height="5.6"/><rect x="881.2" y="570.7" width="5.6" height="5.6"/><rect x="882.7" y="573" width="5.6" height="5.6"/><rect x="883.2" y="574.3" width="5.6" height="5.6"/><rect x="882.1" y="572.4" width="5.6" height="5.6"/><rect x="883.4" y="576.3" width="5.6" height="5.6"/><rect x="881.5" y="572.1" width="5.6" height="5.6"/><rect x="882.1" y="575.2" width="5.6" height="5.6"/><rect x="881.9" y="568.7" width="5.6" height="5.6"/><rect x="883" y="567.7" width="5.6" height="5.6"/><rect x="880" y="568.1" width="5.6" height="5.6"/><rect x="883.1" y="574.4" width="5.6" height="5.6"/><rect x="882.7" y="566.1" width="5.6" height="5.6"/><rect x="879.9" y="568.8" width="5.6" height="5.6"/><rect x="884.4" y="568" width="5.6" height="5.6"/><rect x="883.6" y="573.5" width="5.6" height="5.6"/><rect x="883.7" y="561.6" width="5.6" height="5.6"/><rect x="886.1" y="564.5" width="5.6" height="5.6"/><rect x="884.9" y="572" width="5.6" height="5.6"/><rect x="884.6" y="564.2" width="5.6" height="5.6"/><rect x="883.7" y="575.5" width="5.6" height="5.6"/><rect x="884.2" y="570.6" width="5.6" height="5.6"/><rect x="884.5" y="565.5" width="5.6" height="5.6"/><rect x="886.2" y="567.6" width="5.6" height="5.6"/><rect x="883.6" y="569.5" width="5.6" height="5.6"/><rect x="885.3" y="561.3" width="5.6" height="5.6"/><rect x="886" y="568.9" width="5.6" height="5.6"/><rect x="886.3" y="565.9" width="5.6" height="5.6"/><rect x="887.9" y="569.4" width="5.6" height="5.6"/><rect x="886.6" y="565.2" width="5.6" height="5.6"/><rect x="888" y="572" width="5.6" height="5.6"/><rect x="884.1" y="562.9" width="5.6" height="5.6"/><rect x="887.8" y="565.4" width="5.6" height="5.6"/><rect x="888.8" y="573.2" width="5.6" height="5.6"/><rect x="885.6" y="557.3" width="5.6" height="5.6"/><rect x="886.5" y="560" width="5.6" height="5.6"/><rect x="886.4" y="566.2" width="5.6" height="5.6"/><rect x="889" y="565.7" width="5.6" height="5.6"/><rect x="888.2" y="553.6" width="5.6" height="5.6"/><rect x="886.9" y="566.3" width="5.6" height="5.6"/><rect x="890.6" y="569.4" width="5.6" height="5.6"/><rect x="889.3" y="557.4" width="5.6" height="5.6"/><rect x="888.8" y="563.9" width="5.6" height="5.6"/><rect x="887.6" y="565.2" width="5.6" height="5.6"/><rect x="889.1" y="559.7" width="5.6" height="5.6"/><rect x="890.6" y="552.6" width="5.6" height="5.6"/><rect x="887.6" y="553.1" width="5.6" height="5.6"/><rect x="892" y="554.7" width="5.6" height="5.6"/><rect x="891.5" y="556.1" width="5.6" height="5.6"/><rect x="889.9" y="567.2" width="5.6" height="5.6"/><rect x="891.9" y="560.4" width="5.6" height="5.6"/><rect x="889.1" y="551.9" width="5.6" height="5.6"/><rect x="891.3" y="558.6" width="5.6" height="5.6"/><rect x="891.9" y="552.1" width="5.6" height="5.6"/><rect x="890.8" y="553.4" width="5.6" height="5.6"/><rect x="894.3" y="558.2" width="5.6" height="5.6"/><rect x="892.6" y="547.8" width="5.6" height="5.6"/><rect x="892.2" y="552.2" width="5.6" height="5.6"/><rect x="891.9" y="554" width="5.6" height="5.6"/><rect x="893" y="542.9" width="5.6" height="5.6"/><rect x="893.6" y="552.2" width="5.6" height="5.6"/><rect x="893.7" y="553.9" width="5.6" height="5.6"/><rect x="892.3" y="553.9" width="5.6" height="5.6"/><rect x="890.8" y="555" width="5.6" height="5.6"/><rect x="893.2" y="550" width="5.6" height="5.6"/><rect x="894.3" y="547.3" width="5.6" height="5.6"/><rect x="894.3" y="548" width="5.6" height="5.6"/><rect x="893.2" y="541.4" width="5.6" height="5.6"/><rect x="893.1" y="553.1" width="5.6" height="5.6"/><rect x="894.8" y="538.8" width="5.6" height="5.6"/><rect x="896.3" y="536" width="5.6" height="5.6"/><rect x="893.6" y="539.1" width="5.6" height="5.6"/><rect x="897.4" y="548.6" width="5.6" height="5.6"/><rect x="895.5" y="549.7" width="5.6" height="5.6"/><rect x="895.8" y="544" width="5.6" height="5.6"/><rect x="894.9" y="551.9" width="5.6" height="5.6"/><rect x="900.1" y="537.1" width="5.6" height="5.6"/><rect x="896.3" y="541.4" width="5.6" height="5.6"/><rect x="897.8" y="544.4" width="5.6" height="5.6"/><rect x="897.9" y="542.4" width="5.6" height="5.6"/><rect x="897.2" y="547.3" width="5.6" height="5.6"/><rect x="897.3" y="536.1" width="5.6" height="5.6"/><rect x="896.8" y="534.2" width="5.6" height="5.6"/><rect x="898.7" y="524.7" width="5.6" height="5.6"/><rect x="899.4" y="544.2" width="5.6" height="5.6"/><rect x="898.1" y="541.5" width="5.6" height="5.6"/><rect x="899.1" y="529.4" width="5.6" height="5.6"/><rect x="901" y="523.2" width="5.6" height="5.6"/><rect x="900.1" y="535.7" width="5.6" height="5.6"/><rect x="900.6" y="536.8" width="5.6" height="5.6"/><rect x="900.3" y="520.3" width="5.6" height="5.6"/><rect x="899.6" y="514.7" width="5.6" height="5.6"/><rect x="898.7" y="531.1" width="5.6" height="5.6"/><rect x="900.1" y="527.9" width="5.6" height="5.6"/><rect x="898.7" y="516.7" width="5.6" height="5.6"/><rect x="900.2" y="516.7" width="5.6" height="5.6"/><rect x="899.7" y="524.2" width="5.6" height="5.6"/><rect x="900.4" y="524.1" width="5.6" height="5.6"/><rect x="902.3" y="522.4" width="5.6" height="5.6"/><rect x="899.2" y="514.8" width="5.6" height="5.6"/><rect x="902.5" y="525.9" width="5.6" height="5.6"/><rect x="901.8" y="508.8" width="5.6" height="5.6"/><rect x="902.6" y="517.2" width="5.6" height="5.6"/><rect x="901.5" y="511.5" width="5.6" height="5.6"/><rect x="904.3" y="522.1" width="5.6" height="5.6"/><rect x="904" y="507" width="5.6" height="5.6"/><rect x="901.8" y="513.6" width="5.6" height="5.6"/><rect x="904.3" y="514.2" width="5.6" height="5.6"/><rect x="904.1" y="516.1" width="5.6" height="5.6"/><rect x="902.6" y="499.9" width="5.6" height="5.6"/><rect x="904.6" y="503" width="5.6" height="5.6"/><rect x="901.9" y="513.1" width="5.6" height="5.6"/><rect x="903.3" y="501.7" width="5.6" height="5.6"/><rect x="909.1" y="489.6" width="5.6" height="5.6"/><rect x="905" y="502" width="5.6" height="5.6"/><rect x="905.7" y="491.1" width="5.6" height="5.6"/><rect x="905.5" y="499" width="5.6" height="5.6"/><rect x="906.6" y="506.4" width="5.6" height="5.6"/><rect x="904.6" y="495.6" width="5.6" height="5.6"/><rect x="905.9" y="517" width="5.6" height="5.6"/><rect x="904.3" y="513.2" width="5.6" height="5.6"/><rect x="906.9" y="498.1" width="5.6" height="5.6"/><rect x="905.2" y="494.9" width="5.6" height="5.6"/><rect x="906.6" y="499" width="5.6" height="5.6"/><rect x="909.1" y="492.3" width="5.6" height="5.6"/><rect x="907" y="516" width="5.6" height="5.6"/><rect x="905.4" y="472.4" width="5.6" height="5.6"/><rect x="909" y="487.8" width="5.6" height="5.6"/><rect x="907.8" y="499.6" width="5.6" height="5.6"/><rect x="905.8" y="490" width="5.6" height="5.6"/><rect x="908.3" y="483.9" width="5.6" height="5.6"/><rect x="909.3" y="496.1" width="5.6" height="5.6"/><rect x="910.6" y="487.4" width="5.6" height="5.6"/><rect x="906.6" y="494.9" width="5.6" height="5.6"/><rect x="908" y="490" width="5.6" height="5.6"/><rect x="909.2" y="488.8" width="5.6" height="5.6"/><rect x="909.6" y="482.3" width="5.6" height="5.6"/><rect x="908.7" y="496.4" width="5.6" height="5.6"/><rect x="909.4" y="463.7" width="5.6" height="5.6"/><rect x="909.1" y="493.1" width="5.6" height="5.6"/><rect x="909.8" y="477.4" width="5.6" height="5.6"/><rect x="910.8" y="466.7" width="5.6" height="5.6"/><rect x="911.3" y="483.2" width="5.6" height="5.6"/><rect x="910.2" y="450.4" width="5.6" height="5.6"/><rect x="910.2" y="479.1" width="5.6" height="5.6"/><rect x="911.6" y="473.2" width="5.6" height="5.6"/><rect x="912.1" y="475.1" width="5.6" height="5.6"/><rect x="910.7" y="469.2" width="5.6" height="5.6"/><rect x="913.1" y="468.3" width="5.6" height="5.6"/><rect x="912.9" y="464.7" width="5.6" height="5.6"/><rect x="911.3" y="465.8" width="5.6" height="5.6"/><rect x="912.6" y="468.2" width="5.6" height="5.6"/><rect x="913.3" y="449.1" width="5.6" height="5.6"/><rect x="912.2" y="466.1" width="5.6" height="5.6"/><rect x="914.4" y="438.8" width="5.6" height="5.6"/><rect x="915.1" y="450.5" width="5.6" height="5.6"/><rect x="915.3" y="461.8" width="5.6" height="5.6"/><rect x="914" y="461.7" width="5.6" height="5.6"/><rect x="913.6" y="462.6" width="5.6" height="5.6"/><rect x="916.6" y="466.9" width="5.6" height="5.6"/><rect x="914.9" y="455.3" width="5.6" height="5.6"/><rect x="916.9" y="450.7" width="5.6" height="5.6"/><rect x="915.3" y="470" width="5.6" height="5.6"/><rect x="915.3" y="455.1" width="5.6" height="5.6"/><rect x="914.5" y="430.2" width="5.6" height="5.6"/><rect x="915.8" y="444.5" width="5.6" height="5.6"/><rect x="916" y="473.4" width="5.6" height="5.6"/><rect x="916.1" y="459.5" width="5.6" height="5.6"/><rect x="915.7" y="450.9" width="5.6" height="5.6"/><rect x="917.3" y="454" width="5.6" height="5.6"/><rect x="915.3" y="450.2" width="5.6" height="5.6"/><rect x="917.6" y="438.1" width="5.6" height="5.6"/><rect x="917.8" y="452.6" width="5.6" height="5.6"/><rect x="917.7" y="455" width="5.6" height="5.6"/><rect x="920" y="441.7" width="5.6" height="5.6"/><rect x="916.4" y="424.8" width="5.6" height="5.6"/><rect x="917.7" y="444.6" width="5.6" height="5.6"/><rect x="917.6" y="451.2" width="5.6" height="5.6"/><rect x="918.8" y="437.1" width="5.6" height="5.6"/><rect x="917.7" y="405.4" width="5.6" height="5.6"/><rect x="919.1" y="431.6" width="5.6" height="5.6"/><rect x="919.1" y="423" width="5.6" height="5.6"/><rect x="921.3" y="438" width="5.6" height="5.6"/><rect x="919.4" y="424.2" width="5.6" height="5.6"/><rect x="920.4" y="441.1" width="5.6" height="5.6"/><rect x="917.9" y="421.3" width="5.6" height="5.6"/><rect x="921.2" y="425.4" width="5.6" height="5.6"/><rect x="919.9" y="444.5" width="5.6" height="5.6"/><rect x="921.4" y="436.8" width="5.6" height="5.6"/><rect x="918.1" y="438.4" width="5.6" height="5.6"/><rect x="921.4" y="434" width="5.6" height="5.6"/><rect x="922.2" y="452.5" width="5.6" height="5.6"/><rect x="922.3" y="406.9" width="5.6" height="5.6"/><rect x="921.5" y="423.1" width="5.6" height="5.6"/><rect x="922.4" y="428.5" width="5.6" height="5.6"/><rect x="924.3" y="428.6" width="5.6" height="5.6"/><rect x="922.4" y="414.8" width="5.6" height="5.6"/><rect x="923.6" y="440.4" width="5.6" height="5.6"/><rect x="922.8" y="433.9" width="5.6" height="5.6"/><rect x="921.8" y="417.3" width="5.6" height="5.6"/><rect x="924.8" y="396.9" width="5.6" height="5.6"/><rect x="922.8" y="426.9" width="5.6" height="5.6"/><rect x="926.5" y="424.8" width="5.6" height="5.6"/><rect x="925.5" y="429.3" width="5.6" height="5.6"/><rect x="923.5" y="426.3" width="5.6" height="5.6"/><rect x="926.2" y="411.3" width="5.6" height="5.6"/><rect x="925.7" y="413.7" width="5.6" height="5.6"/><rect x="927" y="430.4" width="5.6" height="5.6"/><rect x="926.8" y="410" width="5.6" height="5.6"/><rect x="925.1" y="414.7" width="5.6" height="5.6"/><rect x="925.9" y="399.5" width="5.6" height="5.6"/><rect x="925.4" y="419.9" width="5.6" height="5.6"/><rect x="926" y="411.3" width="5.6" height="5.6"/><rect x="927.3" y="440.4" width="5.6" height="5.6"/><rect x="926.1" y="402.7" width="5.6" height="5.6"/><rect x="929" y="421.7" width="5.6" height="5.6"/><rect x="926.2" y="434.3" width="5.6" height="5.6"/><rect x="926.9" y="407.4" width="5.6" height="5.6"/><rect x="927.2" y="428.5" width="5.6" height="5.6"/><rect x="927.1" y="431.9" width="5.6" height="5.6"/><rect x="929.3" y="405.2" width="5.6" height="5.6"/><rect x="925.9" y="430.3" width="5.6" height="5.6"/><rect x="926.4" y="396.6" width="5.6" height="5.6"/><rect x="927.4" y="415.7" width="5.6" height="5.6"/><rect x="928.6" y="418.7" width="5.6" height="5.6"/><rect x="929.6" y="449.2" width="5.6" height="5.6"/><rect x="928.4" y="409.1" width="5.6" height="5.6"/><rect x="929.9" y="382.1" width="5.6" height="5.6"/><rect x="929.8" y="399.6" width="5.6" height="5.6"/><rect x="930.5" y="419.9" width="5.6" height="5.6"/><rect x="930.7" y="435.1" width="5.6" height="5.6"/><rect x="931.2" y="411.2" width="5.6" height="5.6"/><rect x="929.8" y="410.8" width="5.6" height="5.6"/><rect x="931.7" y="417.4" width="5.6" height="5.6"/><rect x="930.4" y="403.3" width="5.6" height="5.6"/><rect x="929.9" y="398.9" width="5.6" height="5.6"/><rect x="932.4" y="414.6" width="5.6" height="5.6"/><rect x="930.7" y="418.7" width="5.6" height="5.6"/><rect x="934.8" y="421.6" width="5.6" height="5.6"/><rect x="930.9" y="404.6" width="5.6" height="5.6"/><rect x="931.7" y="427.7" width="5.6" height="5.6"/><rect x="931.8" y="378.1" width="5.6" height="5.6"/><rect x="931.2" y="400.7" width="5.6" height="5.6"/><rect x="931.3" y="399.1" width="5.6" height="5.6"/><rect x="932.8" y="410.8" width="5.6" height="5.6"/><rect x="932.3" y="406.7" width="5.6" height="5.6"/><rect x="933.5" y="439.6" width="5.6" height="5.6"/><rect x="935.6" y="401.1" width="5.6" height="5.6"/><rect x="935.4" y="394.1" width="5.6" height="5.6"/><rect x="934.8" y="434.4" width="5.6" height="5.6"/><rect x="933.1" y="417.9" width="5.6" height="5.6"/><rect x="934.2" y="415.5" width="5.6" height="5.6"/><rect x="935.2" y="411.4" width="5.6" height="5.6"/><rect x="934.9" y="429.9" width="5.6" height="5.6"/><rect x="933.9" y="414.9" width="5.6" height="5.6"/><rect x="937.6" y="422.9" width="5.6" height="5.6"/><rect x="936.7" y="423.3" width="5.6" height="5.6"/><rect x="936.4" y="415.5" width="5.6" height="5.6"/><rect x="937.2" y="431.9" width="5.6" height="5.6"/><rect x="937.2" y="414" width="5.6" height="5.6"/><rect x="937.9" y="413.6" width="5.6" height="5.6"/><rect x="936" y="421.5" width="5.6" height="5.6"/><rect x="941" y="434.8" width="5.6" height="5.6"/><rect x="936.5" y="421.3" width="5.6" height="5.6"/><rect x="936.4" y="431.4" width="5.6" height="5.6"/><rect x="938.8" y="414.9" width="5.6" height="5.6"/><rect x="937.9" y="438.8" width="5.6" height="5.6"/><rect x="937.1" y="418.6" width="5.6" height="5.6"/><rect x="938.2" y="413.2" width="5.6" height="5.6"/><rect x="938.1" y="437.8" width="5.6" height="5.6"/><rect x="938" y="425.3" width="5.6" height="5.6"/><rect x="940.2" y="445.2" width="5.6" height="5.6"/><rect x="940" y="422.1" width="5.6" height="5.6"/><rect x="940" y="426.4" width="5.6" height="5.6"/><rect x="940.9" y="435.2" width="5.6" height="5.6"/><rect x="939.8" y="438" width="5.6" height="5.6"/><rect x="939.3" y="431" width="5.6" height="5.6"/><rect x="940.5" y="427.5" width="5.6" height="5.6"/><rect x="942.8" y="448.9" width="5.6" height="5.6"/><rect x="939.3" y="438" width="5.6" height="5.6"/><rect x="940" y="426.8" width="5.6" height="5.6"/><rect x="942" y="424.1" width="5.6" height="5.6"/><rect x="942.2" y="457.8" width="5.6" height="5.6"/><rect x="943.5" y="452.8" width="5.6" height="5.6"/><rect x="941" y="428.9" width="5.6" height="5.6"/><rect x="943.7" y="430.9" width="5.6" height="5.6"/><rect x="941.8" y="429.1" width="5.6" height="5.6"/><rect x="945.4" y="463.2" width="5.6" height="5.6"/><rect x="943.6" y="449" width="5.6" height="5.6"/><rect x="942.1" y="441" width="5.6" height="5.6"/><rect x="942.3" y="457.8" width="5.6" height="5.6"/><rect x="945.8" y="437.9" width="5.6" height="5.6"/><rect x="942.1" y="432.8" width="5.6" height="5.6"/><rect x="943.5" y="452.7" width="5.6" height="5.6"/><rect x="944.8" y="422.3" width="5.6" height="5.6"/><rect x="945.9" y="464.1" width="5.6" height="5.6"/><rect x="944.6" y="457.4" width="5.6" height="5.6"/><rect x="944" y="439.5" width="5.6" height="5.6"/><rect x="945.7" y="458.1" width="5.6" height="5.6"/><rect x="944.9" y="453.9" width="5.6" height="5.6"/><rect x="944.4" y="461.1" width="5.6" height="5.6"/><rect x="946.7" y="472.1" width="5.6" height="5.6"/><rect x="946.2" y="457.8" width="5.6" height="5.6"/><rect x="947" y="448.6" width="5.6" height="5.6"/><rect x="945.3" y="466.2" width="5.6" height="5.6"/><rect x="946" y="462.6" width="5.6" height="5.6"/><rect x="946.3" y="464.5" width="5.6" height="5.6"/><rect x="946.5" y="468.8" width="5.6" height="5.6"/><rect x="945.7" y="475" width="5.6" height="5.6"/><rect x="945.2" y="476.7" width="5.6" height="5.6"/><rect x="948.8" y="499" width="5.6" height="5.6"/><rect x="948.5" y="484.7" width="5.6" height="5.6"/><rect x="946.5" y="488.8" width="5.6" height="5.6"/><rect x="949.3" y="472.4" width="5.6" height="5.6"/><rect x="948" y="473" width="5.6" height="5.6"/><rect x="946.9" y="493.2" width="5.6" height="5.6"/><rect x="948.5" y="473.7" width="5.6" height="5.6"/><rect x="950" y="476.9" width="5.6" height="5.6"/><rect x="951.1" y="485.6" width="5.6" height="5.6"/><rect x="949.4" y="472.5" width="5.6" height="5.6"/><rect x="949.8" y="481.6" width="5.6" height="5.6"/><rect x="948.2" y="475.9" width="5.6" height="5.6"/><rect x="948.2" y="490" width="5.6" height="5.6"/><rect x="952.4" y="473.7" width="5.6" height="5.6"/><rect x="952.4" y="501" width="5.6" height="5.6"/><rect x="951.9" y="474.5" width="5.6" height="5.6"/><rect x="951.1" y="484.7" width="5.6" height="5.6"/><rect x="951.6" y="478.5" width="5.6" height="5.6"/><rect x="950.5" y="474.1" width="5.6" height="5.6"/><rect x="951.5" y="483.3" width="5.6" height="5.6"/><rect x="951.4" y="470.7" width="5.6" height="5.6"/><rect x="950.7" y="480.8" width="5.6" height="5.6"/><rect x="951.5" y="497.6" width="5.6" height="5.6"/><rect x="952.1" y="473.7" width="5.6" height="5.6"/><rect x="952" y="489.6" width="5.6" height="5.6"/><rect x="950.2" y="494.1" width="5.6" height="5.6"/><rect x="954.1" y="492.5" width="5.6" height="5.6"/><rect x="953.6" y="480.7" width="5.6" height="5.6"/><rect x="955.7" y="499.4" width="5.6" height="5.6"/><rect x="953.2" y="509.3" width="5.6" height="5.6"/><rect x="953.6" y="507" width="5.6" height="5.6"/><rect x="955.4" y="500.3" width="5.6" height="5.6"/><rect x="954.9" y="503.9" width="5.6" height="5.6"/><rect x="952.8" y="498.1" width="5.6" height="5.6"/><rect x="956.2" y="513.1" width="5.6" height="5.6"/><rect x="956.2" y="512.9" width="5.6" height="5.6"/><rect x="955.1" y="496" width="5.6" height="5.6"/><rect x="957.5" y="496.5" width="5.6" height="5.6"/><rect x="955.4" y="518" width="5.6" height="5.6"/><rect x="955.4" y="510.3" width="5.6" height="5.6"/><rect x="957.1" y="511" width="5.6" height="5.6"/><rect x="955.5" y="508.6" width="5.6" height="5.6"/><rect x="957.7" y="514.7" width="5.6" height="5.6"/><rect x="956.9" y="498.8" width="5.6" height="5.6"/><rect x="955" y="527.3" width="5.6" height="5.6"/><rect x="957.3" y="504.3" width="5.6" height="5.6"/><rect x="956.4" y="527.1" width="5.6" height="5.6"/><rect x="956.3" y="509.4" width="5.6" height="5.6"/><rect x="957.4" y="533.2" width="5.6" height="5.6"/><rect x="958" y="528" width="5.6" height="5.6"/><rect x="957.7" y="519.9" width="5.6" height="5.6"/><rect x="959.4" y="525" width="5.6" height="5.6"/><rect x="959" y="519.7" width="5.6" height="5.6"/><rect x="960.7" y="515.3" width="5.6" height="5.6"/><rect x="957.7" y="526.4" width="5.6" height="5.6"/><rect x="958.4" y="531.8" width="5.6" height="5.6"/><rect x="961.2" y="524.6" width="5.6" height="5.6"/><rect x="960.5" y="526.3" width="5.6" height="5.6"/><rect x="962.6" y="529.1" width="5.6" height="5.6"/><rect x="959.7" y="522.4" width="5.6" height="5.6"/><rect x="961.3" y="528.5" width="5.6" height="5.6"/><rect x="961.1" y="526.1" width="5.6" height="5.6"/><rect x="960.9" y="537.5" width="5.6" height="5.6"/><rect x="962.5" y="523.6" width="5.6" height="5.6"/><rect x="962.5" y="530.8" width="5.6" height="5.6"/><rect x="959.8" y="525.6" width="5.6" height="5.6"/><rect x="961.3" y="528.7" width="5.6" height="5.6"/><rect x="962.1" y="532.3" width="5.6" height="5.6"/><rect x="963" y="547.3" width="5.6" height="5.6"/><rect x="963.1" y="537.6" width="5.6" height="5.6"/><rect x="963.3" y="533.5" width="5.6" height="5.6"/><rect x="963.7" y="541" width="5.6" height="5.6"/><rect x="967.3" y="541.8" width="5.6" height="5.6"/><rect x="961.4" y="536" width="5.6" height="5.6"/><rect x="962.8" y="540.5" width="5.6" height="5.6"/><rect x="964.6" y="543.3" width="5.6" height="5.6"/><rect x="965.8" y="546.1" width="5.6" height="5.6"/><rect x="964.6" y="544.3" width="5.6" height="5.6"/><rect x="963.4" y="545.2" width="5.6" height="5.6"/><rect x="963.5" y="537.3" width="5.6" height="5.6"/><rect x="963.1" y="540.6" width="5.6" height="5.6"/><rect x="966.7" y="539.2" width="5.6" height="5.6"/><rect x="966" y="545.6" width="5.6" height="5.6"/><rect x="966.3" y="541" width="5.6" height="5.6"/><rect x="965.3" y="546.7" width="5.6" height="5.6"/><rect x="966" y="543.1" width="5.6" height="5.6"/><rect x="965.9" y="547" width="5.6" height="5.6"/><rect x="965.4" y="548.6" width="5.6" height="5.6"/><rect x="967.1" y="550.8" width="5.6" height="5.6"/><rect x="968.7" y="547.5" width="5.6" height="5.6"/><rect x="966.7" y="552.7" width="5.6" height="5.6"/><rect x="966.9" y="550.1" width="5.6" height="5.6"/><rect x="967.8" y="552.2" width="5.6" height="5.6"/><rect x="968.9" y="554.2" width="5.6" height="5.6"/><rect x="967" y="545.1" width="5.6" height="5.6"/><rect x="968.2" y="547.1" width="5.6" height="5.6"/><rect x="969.1" y="558.2" width="5.6" height="5.6"/><rect x="968.5" y="555.1" width="5.6" height="5.6"/><rect x="968.2" y="558.3" width="5.6" height="5.6"/><rect x="968.1" y="557.6" width="5.6" height="5.6"/><rect x="969.8" y="558.5" width="5.6" height="5.6"/><rect x="971.5" y="555.4" width="5.6" height="5.6"/><rect x="970.3" y="562.3" width="5.6" height="5.6"/><rect x="971.1" y="561.4" width="5.6" height="5.6"/><rect x="971.9" y="559.1" width="5.6" height="5.6"/><rect x="969.5" y="558.9" width="5.6" height="5.6"/><rect x="969.3" y="556.6" width="5.6" height="5.6"/><rect x="972.7" y="569.6" width="5.6" height="5.6"/><rect x="971.7" y="566.8" width="5.6" height="5.6"/><rect x="970.9" y="564.1" width="5.6" height="5.6"/><rect x="972.6" y="566" width="5.6" height="5.6"/><rect x="973" y="561" width="5.6" height="5.6"/><rect x="970.8" y="563.5" width="5.6" height="5.6"/><rect x="973.7" y="560.7" width="5.6" height="5.6"/><rect x="971.6" y="563.7" width="5.6" height="5.6"/><rect x="973.9" y="560.6" width="5.6" height="5.6"/><rect x="972.7" y="566.2" width="5.6" height="5.6"/><rect x="973.8" y="565.8" width="5.6" height="5.6"/><rect x="974.6" y="561.6" width="5.6" height="5.6"/><rect x="972.7" y="564.2" width="5.6" height="5.6"/><rect x="974.8" y="567.5" width="5.6" height="5.6"/><rect x="972.9" y="565.9" width="5.6" height="5.6"/><rect x="974.6" y="567.2" width="5.6" height="5.6"/><rect x="972.2" y="563.2" width="5.6" height="5.6"/><rect x="976.6" y="570.7" width="5.6" height="5.6"/><rect x="973.5" y="570.1" width="5.6" height="5.6"/><rect x="974.6" y="571.4" width="5.6" height="5.6"/><rect x="974.3" y="561.7" width="5.6" height="5.6"/><rect x="976.4" y="567.9" width="5.6" height="5.6"/><rect x="976.7" y="565.9" width="5.6" height="5.6"/><rect x="976.2" y="567.4" width="5.6" height="5.6"/><rect x="975.2" y="567.3" width="5.6" height="5.6"/><rect x="975.5" y="565.6" width="5.6" height="5.6"/><rect x="976.6" y="568.7" width="5.6" height="5.6"/><rect x="974.5" y="575" width="5.6" height="5.6"/><rect x="976.7" y="573.1" width="5.6" height="5.6"/><rect x="976.4" y="575" width="5.6" height="5.6"/><rect x="975.6" y="566.5" width="5.6" height="5.6"/><rect x="978.5" y="565.7" width="5.6" height="5.6"/><rect x="977.9" y="568" width="5.6" height="5.6"/><rect x="978" y="573.8" width="5.6" height="5.6"/><rect x="979.2" y="576.1" width="5.6" height="5.6"/><rect x="977.8" y="573.4" width="5.6" height="5.6"/><rect x="978.8" y="572.9" width="5.6" height="5.6"/><rect x="979.9" y="569.2" width="5.6" height="5.6"/><rect x="977.7" y="571" width="5.6" height="5.6"/><rect x="979.6" y="570.3" width="5.6" height="5.6"/><rect x="981" y="574.3" width="5.6" height="5.6"/><rect x="979.6" y="572.9" width="5.6" height="5.6"/><rect x="978.9" y="576.1" width="5.6" height="5.6"/><rect x="981.5" y="576.6" width="5.6" height="5.6"/><rect x="979.9" y="578.7" width="5.6" height="5.6"/><rect x="981.7" y="575.6" width="5.6" height="5.6"/><rect x="981.7" y="579" width="5.6" height="5.6"/><rect x="981.1" y="575.8" width="5.6" height="5.6"/><rect x="979.7" y="574.7" width="5.6" height="5.6"/><rect x="981" y="573.8" width="5.6" height="5.6"/><rect x="980.8" y="577.9" width="5.6" height="5.6"/><rect x="983.8" y="568.5" width="5.6" height="5.6"/><rect x="982.4" y="574.5" width="5.6" height="5.6"/><rect x="983" y="576.8" width="5.6" height="5.6"/><rect x="982.8" y="576.1" width="5.6" height="5.6"/><rect x="982" y="578.9" width="5.6" height="5.6"/><rect x="980.7" y="574.8" width="5.6" height="5.6"/><rect x="981.7" y="576.9" width="5.6" height="5.6"/><rect x="983.3" y="579.3" width="5.6" height="5.6"/><rect x="983.9" y="577.7" width="5.6" height="5.6"/><rect x="984.4" y="578.1" width="5.6" height="5.6"/><rect x="983.5" y="575.3" width="5.6" height="5.6"/><rect x="984.5" y="577" width="5.6" height="5.6"/><rect x="983.8" y="578.3" width="5.6" height="5.6"/><rect x="986.2" y="578.5" width="5.6" height="5.6"/><rect x="985.4" y="578.5" width="5.6" height="5.6"/><rect x="984.5" y="577.3" width="5.6" height="5.6"/><rect x="981.1" y="576.4" width="5.6" height="5.6"/><rect x="988" y="577" width="5.6" height="5.6"/><rect x="986.3" y="580" width="5.6" height="5.6"/><rect x="986.6" y="579.9" width="5.6" height="5.6"/><rect x="985.8" y="579.6" width="5.6" height="5.6"/><rect x="983.5" y="573.4" width="5.6" height="5.6"/><rect x="986.6" y="580.8" width="5.6" height="5.6"/><rect x="987.1" y="579.5" width="5.6" height="5.6"/><rect x="985.8" y="577.8" width="5.6" height="5.6"/><rect x="988.8" y="575.9" width="5.6" height="5.6"/><rect x="987.8" y="577.2" width="5.6" height="5.6"/><rect x="987.4" y="578.7" width="5.6" height="5.6"/><rect x="986.2" y="577.9" width="5.6" height="5.6"/><rect x="986.3" y="576.8" width="5.6" height="5.6"/><rect x="989.7" y="578" width="5.6" height="5.6"/><rect x="987.8" y="579.4" width="5.6" height="5.6"/><rect x="988.1" y="578.6" width="5.6" height="5.6"/><rect x="989.9" y="579.6" width="5.6" height="5.6"/><rect x="988.1" y="580.8" width="5.6" height="5.6"/><rect x="990.4" y="577.3" width="5.6" height="5.6"/><rect x="990.7" y="578" width="5.6" height="5.6"/><rect x="989.1" y="578.4" width="5.6" height="5.6"/><rect x="989.9" y="579.4" width="5.6" height="5.6"/><rect x="990.8" y="580.3" width="5.6" height="5.6"/><rect x="992.1" y="580.4" width="5.6" height="5.6"/><rect x="991.5" y="579.4" width="5.6" height="5.6"/><rect x="991.8" y="580.3" width="5.6" height="5.6"/><rect x="993.2" y="576.5" width="5.6" height="5.6"/><rect x="988.6" y="576.1" width="5.6" height="5.6"/><rect x="993" y="578" width="5.6" height="5.6"/><rect x="991.7" y="580" width="5.6" height="5.6"/><rect x="991.8" y="577.5" width="5.6" height="5.6"/><rect x="993.1" y="579.2" width="5.6" height="5.6"/><rect x="991.7" y="579.9" width="5.6" height="5.6"/><rect x="990.9" y="580.5" width="5.6" height="5.6"/><rect x="991.6" y="580.7" width="5.6" height="5.6"/><rect x="995.1" y="580.8" width="5.6" height="5.6"/><rect x="992.2" y="578.2" width="5.6" height="5.6"/><rect x="993" y="580.8" width="5.6" height="5.6"/><rect x="992.9" y="579.4" width="5.6" height="5.6"/><rect x="993.2" y="580.4" width="5.6" height="5.6"/><rect x="993.4" y="580.9" width="5.6" height="5.6"/><rect x="990.7" y="579.5" width="5.6" height="5.6"/><rect x="993.7" y="579.4" width="5.6" height="5.6"/><rect x="992.9" y="580.5" width="5.6" height="5.6"/><rect x="997.9" y="578.8" width="5.6" height="5.6"/><rect x="996.4" y="580.9" width="5.6" height="5.6"/><rect x="994.7" y="580.8" width="5.6" height="5.6"/><rect x="996.3" y="579.9" width="5.6" height="5.6"/><rect x="994.6" y="580.4" width="5.6" height="5.6"/><rect x="994.8" y="580.4" width="5.6" height="5.6"/><rect x="995.9" y="580" width="5.6" height="5.6"/><rect x="998.2" y="580.7" width="5.6" height="5.6"/><rect x="995.5" y="579.8" width="5.6" height="5.6"/><rect x="998.5" y="580.3" width="5.6" height="5.6"/><rect x="996.5" y="580.7" width="5.6" height="5.6"/><rect x="997.2" y="580.3" width="5.6" height="5.6"/><rect x="998.1" y="580.1" width="5.6" height="5.6"/><rect x="998.6" y="579.1" width="5.6" height="5.6"/><rect x="999.8" y="580.1" width="5.6" height="5.6"/><rect x="1001.8" y="580.6" width="5.6" height="5.6"/><rect x="1000.4" y="579.2" width="5.6" height="5.6"/><rect x="999.5" y="579.4" width="5.6" height="5.6"/><rect x="999.2" y="579.1" width="5.6" height="5.6"/><rect x="998.6" y="581" width="5.6" height="5.6"/><rect x="998.4" y="580.9" width="5.6" height="5.6"/><rect x="999.3" y="580.4" width="5.6" height="5.6"/><rect x="1000.4" y="580.8" width="5.6" height="5.6"/><rect x="999.7" y="579.4" width="5.6" height="5.6"/><rect x="1000.4" y="580.2" width="5.6" height="5.6"/><rect x="1000.2" y="580.8" width="5.6" height="5.6"/><rect x="1002.3" y="579.8" width="5.6" height="5.6"/><rect x="999.9" y="580.6" width="5.6" height="5.6"/><rect x="1001.2" y="580.2" width="5.6" height="5.6"/><rect x="1001.7" y="580.8" width="5.6" height="5.6"/><rect x="1004.2" y="579.5" width="5.6" height="5.6"/><rect x="1001.3" y="580.9" width="5.6" height="5.6"/><rect x="1001.7" y="580.8" width="5.6" height="5.6"/><rect x="1002" y="580.8" width="5.6" height="5.6"/><rect x="1003.1" y="580.7" width="5.6" height="5.6"/><rect x="1002.3" y="580.4" width="5.6" height="5.6"/><rect x="1002.2" y="579.5" width="5.6" height="5.6"/><rect x="1004" y="580.9" width="5.6" height="5.6"/><rect x="1004" y="580.9" width="5.6" height="5.6"/><rect x="1002.4" y="580.1" width="5.6" height="5.6"/><rect x="1005.5" y="580.9" width="5.6" height="5.6"/><rect x="1002.7" y="580.1" width="5.6" height="5.6"/><rect x="1003.3" y="579.9" width="5.6" height="5.6"/><rect x="1006.3" y="579.2" width="5.6" height="5.6"/><rect x="1005" y="580.7" width="5.6" height="5.6"/><rect x="1004.2" y="580.8" width="5.6" height="5.6"/><rect x="1004.6" y="580.7" width="5.6" height="5.6"/><rect x="1006.3" y="580.1" width="5.6" height="5.6"/><rect x="1001.5" y="580.7" width="5.6" height="5.6"/><rect x="1004.4" y="580.1" width="5.6" height="5.6"/><rect x="1009.8" y="580.2" width="5.6" height="5.6"/><rect x="1007.1" y="580.7" width="5.6" height="5.6"/><rect x="1006" y="580.3" width="5.6" height="5.6"/><rect x="1005.3" y="580.3" width="5.6" height="5.6"/><rect x="1009.3" y="580.8" width="5.6" height="5.6"/><rect x="1008.2" y="581" width="5.6" height="5.6"/><rect x="1007.6" y="580.3" width="5.6" height="5.6"/><rect x="1008.8" y="579.4" width="5.6" height="5.6"/><rect x="1007.5" y="580.8" width="5.6" height="5.6"/><rect x="1007.6" y="579.9" width="5.6" height="5.6"/><rect x="1009.4" y="580.1" width="5.6" height="5.6"/><rect x="1007.4" y="580.7" width="5.6" height="5.6"/><rect x="1007.8" y="581" width="5.6" height="5.6"/><rect x="1009.2" y="581" width="5.6" height="5.6"/><rect x="1008.6" y="580.2" width="5.6" height="5.6"/><rect x="1009.8" y="580.7" width="5.6" height="5.6"/><rect x="1009.3" y="580.9" width="5.6" height="5.6"/><rect x="1011.9" y="580.8" width="5.6" height="5.6"/><rect x="1010.1" y="580.6" width="5.6" height="5.6"/><rect x="1010" y="580.2" width="5.6" height="5.6"/><rect x="1011.7" y="580.7" width="5.6" height="5.6"/><rect x="1009.6" y="580.6" width="5.6" height="5.6"/><rect x="1009" y="579.2" width="5.6" height="5.6"/><rect x="1012" y="580.3" width="5.6" height="5.6"/><rect x="1013.1" y="580.7" width="5.6" height="5.6"/><rect x="1010" y="580.9" width="5.6" height="5.6"/><rect x="1011.2" y="580.7" width="5.6" height="5.6"/><rect x="1011.1" y="580.6" width="5.6" height="5.6"/><rect x="1011.2" y="580.6" width="5.6" height="5.6"/><rect x="1011.2" y="580.9" width="5.6" height="5.6"/><rect x="1013.2" y="580.9" width="5.6" height="5.6"/><rect x="1014.3" y="579.8" width="5.6" height="5.6"/><rect x="1012.7" y="580.7" width="5.6" height="5.6"/><rect x="1012.5" y="580.9" width="5.6" height="5.6"/><rect x="1013.6" y="580.6" width="5.6" height="5.6"/><rect x="1015" y="581" width="5.6" height="5.6"/><rect x="1013.9" y="580.9" width="5.6" height="5.6"/><rect x="1013" y="580.6" width="5.6" height="5.6"/><rect x="1015.1" y="580.3" width="5.6" height="5.6"/><rect x="1014" y="580.8" width="5.6" height="5.6"/><rect x="1014.6" y="580.3" width="5.6" height="5.6"/><rect x="1015" y="580.7" width="5.6" height="5.6"/><rect x="1014" y="580.5" width="5.6" height="5.6"/><rect x="1015" y="580.6" width="5.6" height="5.6"/><rect x="1017.5" y="580.1" width="5.6" height="5.6"/><rect x="1014.9" y="580.7" width="5.6" height="5.6"/><rect x="1014.3" y="579.9" width="5.6" height="5.6"/><rect x="1018" y="580" width="5.6" height="5.6"/><rect x="1015.6" y="580.7" width="5.6" height="5.6"/><rect x="1018.7" y="581" width="5.6" height="5.6"/><rect x="1016.9" y="580.9" width="5.6" height="5.6"/><rect x="1015.6" y="581" width="5.6" height="5.6"/><rect x="1017.2" y="580.5" width="5.6" height="5.6"/><rect x="1017.6" y="580.9" width="5.6" height="5.6"/><rect x="1018.3" y="580.8" width="5.6" height="5.6"/><rect x="1018" y="580.6" width="5.6" height="5.6"/><rect x="1019.9" y="580.9" width="5.6" height="5.6"/><rect x="1019" y="580.9" width="5.6" height="5.6"/><rect x="1021.6" y="580.8" width="5.6" height="5.6"/><rect x="1019.2" y="580.6" width="5.6" height="5.6"/><rect x="1018.6" y="580.4" width="5.6" height="5.6"/><rect x="1019" y="580.1" width="5.6" height="5.6"/><rect x="1020.1" y="581" width="5.6" height="5.6"/><rect x="1017.9" y="580.8" width="5.6" height="5.6"/><rect x="1021.4" y="581" width="5.6" height="5.6"/><rect x="1021.1" y="580.2" width="5.6" height="5.6"/><rect x="1021.6" y="580.3" width="5.6" height="5.6"/><rect x="1019.4" y="580.7" width="5.6" height="5.6"/><rect x="1021.9" y="580.9" width="5.6" height="5.6"/><rect x="1019.9" y="580.7" width="5.6" height="5.6"/><rect x="1021.2" y="580.9" width="5.6" height="5.6"/><rect x="1021.4" y="581" width="5.6" height="5.6"/><rect x="1021.3" y="580.1" width="5.6" height="5.6"/><rect x="1020.5" y="580" width="5.6" height="5.6"/><rect x="1022.9" y="580.4" width="5.6" height="5.6"/><rect x="1023.6" y="580.6" width="5.6" height="5.6"/><rect x="1022.7" y="580.9" width="5.6" height="5.6"/><rect x="1022" y="581" width="5.6" height="5.6"/><rect x="1023.5" y="580" width="5.6" height="5.6"/><rect x="1022.9" y="580.8" width="5.6" height="5.6"/><rect x="1022.8" y="580.7" width="5.6" height="5.6"/><rect x="1023.9" y="580.9" width="5.6" height="5.6"/><rect x="1025.4" y="580.9" width="5.6" height="5.6"/><rect x="1024.3" y="580.9" width="5.6" height="5.6"/><rect x="1022.7" y="580.8" width="5.6" height="5.6"/><rect x="1026.5" y="580.9" width="5.6" height="5.6"/><rect x="1027.2" y="580.9" width="5.6" height="5.6"/><rect x="1025" y="581" width="5.6" height="5.6"/><rect x="1025" y="580.9" width="5.6" height="5.6"/><rect x="1026.4" y="581" width="5.6" height="5.6"/><rect x="1026.7" y="580.5" width="5.6" height="5.6"/><rect x="1026.4" y="581" width="5.6" height="5.6"/><rect x="1024.2" y="580.9" width="5.6" height="5.6"/><rect x="1026.2" y="580.8" width="5.6" height="5.6"/><rect x="1024.2" y="580.8" width="5.6" height="5.6"/><rect x="1029.5" y="580.9" width="5.6" height="5.6"/><rect x="1028.7" y="580.6" width="5.6" height="5.6"/><rect x="1025.8" y="580.9" width="5.6" height="5.6"/><rect x="1026.9" y="580.4" width="5.6" height="5.6"/><rect x="1028" y="580.9" width="5.6" height="5.6"/><rect x="1029.8" y="579.7" width="5.6" height="5.6"/><rect x="1028.5" y="581" width="5.6" height="5.6"/><rect x="1028" y="581" width="5.6" height="5.6"/><rect x="1028.8" y="580.5" width="5.6" height="5.6"/><rect x="1028.3" y="581" width="5.6" height="5.6"/><rect x="1030.8" y="580.3" width="5.6" height="5.6"/><rect x="1027.4" y="581" width="5.6" height="5.6"/><rect x="1028.6" y="580.9" width="5.6" height="5.6"/><rect x="1029.4" y="581" width="5.6" height="5.6"/><rect x="1029.4" y="580.9" width="5.6" height="5.6"/><rect x="1030.1" y="580.8" width="5.6" height="5.6"/><rect x="1031.8" y="580.8" width="5.6" height="5.6"/><rect x="1031.3" y="581" width="5.6" height="5.6"/><rect x="931.4" y="367" width="5.6" height="5.6"/><rect x="930" y="377.4" width="5.6" height="5.6"/><rect x="926.1" y="385.2" width="5.6" height="5.6"/></g>
<g fill="#4aa3f8"><circle cx="997.4" cy="583.7" r="3.2"/><circle cx="996.8" cy="583.4" r="3.2"/><circle cx="996.2" cy="583.6" r="3.2"/><circle cx="995.7" cy="582.9" r="3.2"/><circle cx="995.1" cy="583.7" r="3.2"/><circle cx="994.5" cy="583.4" r="3.2"/><circle cx="993.9" cy="583.4" r="3.2"/><circle cx="993.3" cy="583.8" r="3.2"/><circle cx="992.8" cy="583.3" r="3.2"/><circle cx="992.2" cy="583.7" r="3.2"/><circle cx="991.6" cy="583.3" r="3.2"/><circle cx="991" cy="583.6" r="3.2"/><circle cx="990.4" cy="583.6" r="3.2"/><circle cx="989.9" cy="583.5" r="3.2"/><circle cx="989.3" cy="583.3" r="3.2"/><circle cx="988.7" cy="583.5" r="3.2"/><circle cx="988.1" cy="583.4" r="3.2"/><circle cx="987.5" cy="583.6" r="3.2"/><circle cx="987" cy="583.5" r="3.2"/><circle cx="986.4" cy="583.5" r="3.2"/><circle cx="985.8" cy="583.4" r="3.2"/><circle cx="985.2" cy="583.4" r="3.2"/><circle cx="984.6" cy="583.6" r="3.2"/><circle cx="984.1" cy="583.5" r="3.2"/><circle cx="983.5" cy="582.7" r="3.2"/><circle cx="982.9" cy="583.7" r="3.2"/><circle cx="982.3" cy="583.8" r="3.2"/><circle cx="981.7" cy="583.4" r="3.2"/><circle cx="981.2" cy="583.8" r="3.2"/><circle cx="980.6" cy="583.7" r="3.2"/><circle cx="980" cy="583.7" r="3.2"/><circle cx="979.4" cy="583.7" r="3.2"/><circle cx="978.8" cy="583.8" r="3.2"/><circle cx="978.2" cy="583.7" r="3.2"/><circle cx="977.7" cy="583.7" r="3.2"/><circle cx="977.1" cy="583.5" r="3.2"/><circle cx="976.5" cy="583.4" r="3.2"/><circle cx="975.9" cy="583.7" r="3.2"/><circle cx="975.3" cy="583.7" r="3.2"/><circle cx="974.8" cy="583.8" r="3.2"/><circle cx="974.2" cy="583.4" r="3.2"/><circle cx="973.6" cy="583.4" r="3.2"/><circle cx="973" cy="582.6" r="3.2"/><circle cx="972.4" cy="583.7" r="3.2"/><circle cx="971.9" cy="583.7" r="3.2"/><circle cx="971.3" cy="583.5" r="3.2"/><circle cx="970.7" cy="583.1" r="3.2"/><circle cx="970.1" cy="583.8" r="3.2"/><circle cx="969.5" cy="583.8" r="3.2"/><circle cx="969" cy="583.5" r="3.2"/><circle cx="968.4" cy="583.5" r="3.2"/><circle cx="967.8" cy="582.9" r="3.2"/><circle cx="967.2" cy="583.3" r="3.2"/><circle cx="966.6" cy="583.5" r="3.2"/><circle cx="966.1" cy="583.6" r="3.2"/><circle cx="965.5" cy="583.1" r="3.2"/><circle cx="964.9" cy="583.7" r="3.2"/><circle cx="964.3" cy="583.7" r="3.2"/><circle cx="963.7" cy="583.5" r="3.2"/><circle cx="963.2" cy="583.5" r="3.2"/><circle cx="962.6" cy="583.6" r="3.2"/><circle cx="962" cy="583.1" r="3.2"/><circle cx="961.4" cy="582.9" r="3.2"/><circle cx="960.8" cy="583.6" r="3.2"/><circle cx="960.3" cy="583.8" r="3.2"/><circle cx="959.7" cy="583.7" r="3.2"/><circle cx="959.1" cy="583.8" r="3.2"/><circle cx="958.5" cy="583.6" r="3.2"/><circle cx="957.9" cy="583.8" r="3.2"/><circle cx="957.4" cy="583.2" r="3.2"/><circle cx="956.8" cy="583.6" r="3.2"/><circle cx="956.2" cy="583.4" r="3.2"/><circle cx="955.6" cy="583.3" r="3.2"/><circle cx="955" cy="583.6" r="3.2"/><circle cx="954.5" cy="582.8" r="3.2"/><circle cx="953.9" cy="583.2" r="3.2"/><circle cx="953.3" cy="583.6" r="3.2"/><circle cx="952.7" cy="583.1" r="3.2"/><circle cx="952.1" cy="583.1" r="3.2"/><circle cx="951.6" cy="583.6" r="3.2"/><circle cx="951" cy="582.9" r="3.2"/><circle cx="950.4" cy="583.3" r="3.2"/><circle cx="949.8" cy="583.8" r="3.2"/><circle cx="949.2" cy="583.5" r="3.2"/><circle cx="948.7" cy="583.6" r="3.2"/><circle cx="948.1" cy="583.5" r="3.2"/><circle cx="947.5" cy="583.8" r="3.2"/><circle cx="946.9" cy="583.6" r="3.2"/><circle cx="946.3" cy="583.6" r="3.2"/><circle cx="945.8" cy="583.5" r="3.2"/><circle cx="945.2" cy="583.5" r="3.2"/><circle cx="944.6" cy="583.6" r="3.2"/><circle cx="944" cy="583.7" r="3.2"/><circle cx="943.4" cy="583.8" r="3.2"/><circle cx="942.9" cy="583.6" r="3.2"/><circle cx="942.3" cy="583.5" r="3.2"/><circle cx="941.7" cy="583.5" r="3.2"/><circle cx="941.1" cy="583.6" r="3.2"/><circle cx="940.5" cy="582.9" r="3.2"/><circle cx="939.9" cy="583.8" r="3.2"/><circle cx="939.4" cy="583.8" r="3.2"/><circle cx="938.8" cy="583.5" r="3.2"/><circle cx="938.2" cy="583.4" r="3.2"/><circle cx="937.6" cy="583.7" r="3.2"/><circle cx="937" cy="583.8" r="3.2"/><circle cx="936.5" cy="583.7" r="3.2"/><circle cx="935.9" cy="583.7" r="3.2"/><circle cx="935.3" cy="583.4" r="3.2"/><circle cx="934.7" cy="583.8" r="3.2"/><circle cx="934.1" cy="583.5" r="3.2"/><circle cx="933.6" cy="583.3" r="3.2"/><circle cx="933" cy="583.4" r="3.2"/><circle cx="932.4" cy="583.5" r="3.2"/><circle cx="931.8" cy="583.4" r="3.2"/><circle cx="931.2" cy="583.7" r="3.2"/><circle cx="930.7" cy="583.3" r="3.2"/><circle cx="930.1" cy="583.5" r="3.2"/><circle cx="929.5" cy="583.7" r="3.2"/><circle cx="928.9" cy="583.6" r="3.2"/><circle cx="928.3" cy="583.5" r="3.2"/><circle cx="927.8" cy="583.5" r="3.2"/><circle cx="927.2" cy="583.4" r="3.2"/><circle cx="926.6" cy="583.8" r="3.2"/><circle cx="926" cy="583.5" r="3.2"/><circle cx="925.4" cy="583.5" r="3.2"/><circle cx="924.9" cy="583.6" r="3.2"/><circle cx="924.3" cy="583.7" r="3.2"/><circle cx="923.7" cy="583.7" r="3.2"/><circle cx="923.1" cy="583.2" r="3.2"/><circle cx="922.5" cy="583.6" r="3.2"/><circle cx="922" cy="583.8" r="3.2"/><circle cx="921.4" cy="583.6" r="3.2"/><circle cx="920.8" cy="583.2" r="3.2"/><circle cx="920.2" cy="583.7" r="3.2"/><circle cx="919.6" cy="583.6" r="3.2"/><circle cx="919.1" cy="583.7" r="3.2"/><circle cx="918.5" cy="583.1" r="3.2"/><circle cx="917.9" cy="583.1" r="3.2"/><circle cx="917.3" cy="583.5" r="3.2"/><circle cx="916.7" cy="583.5" r="3.2"/><circle cx="916.2" cy="583.5" r="3.2"/><circle cx="915.6" cy="583.6" r="3.2"/><circle cx="915" cy="583.5" r="3.2"/><circle cx="914.4" cy="583.7" r="3.2"/><circle cx="913.8" cy="583.6" r="3.2"/><circle cx="913.3" cy="583.5" r="3.2"/><circle cx="912.7" cy="583.3" r="3.2"/><circle cx="912.1" cy="583.2" r="3.2"/><circle cx="911.5" cy="583.7" r="3.2"/><circle cx="910.9" cy="583.5" r="3.2"/><circle cx="910.4" cy="583.8" r="3.2"/><circle cx="909.8" cy="583.4" r="3.2"/><circle cx="909.2" cy="583.8" r="3.2"/><circle cx="908.6" cy="583.8" r="3.2"/><circle cx="908" cy="583.6" r="3.2"/><circle cx="907.5" cy="583.1" r="3.2"/><circle cx="906.9" cy="583.8" r="3.2"/><circle cx="906.3" cy="583.3" r="3.2"/><circle cx="905.7" cy="583.8" r="3.2"/><circle cx="905.1" cy="583.6" r="3.2"/><circle cx="904.5" cy="583.3" r="3.2"/><circle cx="904" cy="583.8" r="3.2"/><circle cx="903.4" cy="582.9" r="3.2"/><circle cx="902.8" cy="583.3" r="3.2"/><circle cx="902.2" cy="583.5" r="3.2"/><circle cx="901.6" cy="583.6" r="3.2"/><circle cx="901.1" cy="583.2" r="3.2"/><circle cx="900.5" cy="583.6" r="3.2"/><circle cx="899.9" cy="583.4" r="3.2"/><circle cx="899.3" cy="583.5" r="3.2"/><circle cx="898.7" cy="583.4" r="3.2"/><circle cx="898.2" cy="583.6" r="3.2"/><circle cx="897.6" cy="583.5" r="3.2"/><circle cx="897" cy="583.6" r="3.2"/><circle cx="896.4" cy="583.6" r="3.2"/><circle cx="895.8" cy="583.5" r="3.2"/><circle cx="895.3" cy="583.2" r="3.2"/><circle cx="894.7" cy="583.7" r="3.2"/><circle cx="894.1" cy="583.7" r="3.2"/><circle cx="893.5" cy="583.5" r="3.2"/><circle cx="892.9" cy="583.5" r="3.2"/><circle cx="892.4" cy="583.7" r="3.2"/><circle cx="891.8" cy="583.7" r="3.2"/><circle cx="891.2" cy="583.7" r="3.2"/><circle cx="890.6" cy="583.6" r="3.2"/><circle cx="890" cy="583.3" r="3.2"/><circle cx="889.5" cy="583.5" r="3.2"/><circle cx="888.9" cy="582.9" r="3.2"/><circle cx="888.3" cy="583.6" r="3.2"/><circle cx="887.7" cy="583.6" r="3.2"/><circle cx="887.1" cy="583.7" r="3.2"/><circle cx="886.6" cy="583" r="3.2"/><circle cx="886" cy="583.2" r="3.2"/><circle cx="885.4" cy="583.6" r="3.2"/><circle cx="884.8" cy="583.6" r="3.2"/><circle cx="884.2" cy="583.7" r="3.2"/><circle cx="883.7" cy="583.8" r="3.2"/><circle cx="883.1" cy="583.6" r="3.2"/><circle cx="882.5" cy="582.3" r="3.2"/><circle cx="881.9" cy="583.7" r="3.2"/><circle cx="881.3" cy="583.1" r="3.2"/><circle cx="880.8" cy="583.2" r="3.2"/><circle cx="880.2" cy="583.6" r="3.2"/><circle cx="879.6" cy="583" r="3.2"/><circle cx="879" cy="583.7" r="3.2"/><circle cx="878.4" cy="583.7" r="3.2"/><circle cx="877.9" cy="583.7" r="3.2"/><circle cx="877.3" cy="583.3" r="3.2"/><circle cx="876.7" cy="583.5" r="3.2"/><circle cx="876.1" cy="583.8" r="3.2"/><circle cx="875.5" cy="583.4" r="3.2"/><circle cx="875" cy="583.7" r="3.2"/><circle cx="874.4" cy="583.3" r="3.2"/><circle cx="873.8" cy="583.7" r="3.2"/><circle cx="873.2" cy="583.6" r="3.2"/><circle cx="872.6" cy="583.1" r="3.2"/><circle cx="872.1" cy="583.6" r="3.2"/><circle cx="871.5" cy="583.4" r="3.2"/><circle cx="870.9" cy="583.6" r="3.2"/><circle cx="870.3" cy="583.5" r="3.2"/><circle cx="869.7" cy="583.1" r="3.2"/><circle cx="869.1" cy="583.1" r="3.2"/><circle cx="868.6" cy="583.6" r="3.2"/><circle cx="868" cy="583.6" r="3.2"/><circle cx="867.4" cy="583.6" r="3.2"/><circle cx="866.8" cy="583.5" r="3.2"/><circle cx="866.2" cy="583.5" r="3.2"/><circle cx="865.7" cy="583.7" r="3.2"/><circle cx="865.1" cy="582.9" r="3.2"/><circle cx="864.5" cy="583.2" r="3.2"/><circle cx="863.9" cy="583.6" r="3.2"/><circle cx="863.3" cy="583.6" r="3.2"/><circle cx="862.8" cy="583.3" r="3.2"/><circle cx="862.2" cy="583.7" r="3.2"/><circle cx="861.6" cy="583.1" r="3.2"/><circle cx="861" cy="583.5" r="3.2"/><circle cx="860.4" cy="583.4" r="3.2"/><circle cx="859.9" cy="583.5" r="3.2"/><circle cx="859.3" cy="582.9" r="3.2"/><circle cx="858.7" cy="583.7" r="3.2"/><circle cx="858.1" cy="583.5" r="3.2"/><circle cx="857.5" cy="583.2" r="3.2"/><circle cx="857" cy="583.8" r="3.2"/><circle cx="856.4" cy="583.7" r="3.2"/><circle cx="855.8" cy="583.4" r="3.2"/><circle cx="855.2" cy="583.3" r="3.2"/><circle cx="854.6" cy="583.7" r="3.2"/><circle cx="854.1" cy="583.7" r="3.2"/><circle cx="853.5" cy="583.4" r="3.2"/><circle cx="852.9" cy="583.4" r="3.2"/><circle cx="852.3" cy="583.8" r="3.2"/><circle cx="851.7" cy="583.6" r="3.2"/><circle cx="851.2" cy="583.8" r="3.2"/><circle cx="850.6" cy="583.4" r="3.2"/><circle cx="850" cy="583.5" r="3.2"/><circle cx="849.4" cy="583.5" r="3.2"/><circle cx="848.8" cy="583.4" r="3.2"/><circle cx="848.3" cy="583.8" r="3.2"/><circle cx="847.7" cy="583.5" r="3.2"/><circle cx="847.1" cy="583.6" r="3.2"/><circle cx="846.5" cy="583.8" r="3.2"/><circle cx="845.9" cy="583.5" r="3.2"/><circle cx="845.4" cy="583.7" r="3.2"/><circle cx="844.8" cy="582.8" r="3.2"/><circle cx="844.2" cy="583.7" r="3.2"/><circle cx="843.6" cy="583.8" r="3.2"/><circle cx="843" cy="583.3" r="3.2"/><circle cx="842.5" cy="583" r="3.2"/><circle cx="841.9" cy="583.6" r="3.2"/><circle cx="841.3" cy="583.7" r="3.2"/><circle cx="840.7" cy="583.5" r="3.2"/><circle cx="840.1" cy="583.4" r="3.2"/><circle cx="839.6" cy="583.4" r="3.2"/><circle cx="839" cy="583.3" r="3.2"/><circle cx="839.6" cy="583.5" r="3.2"/><circle cx="840.2" cy="583.7" r="3.2"/><circle cx="839.7" cy="583.8" r="3.2"/><circle cx="839.9" cy="583.5" r="3.2"/><circle cx="842.1" cy="583.2" r="3.2"/><circle cx="841.7" cy="582.4" r="3.2"/><circle cx="840.4" cy="582.7" r="3.2"/><circle cx="841.1" cy="583.1" r="3.2"/><circle cx="840.9" cy="582.2" r="3.2"/><circle cx="841.4" cy="583.7" r="3.2"/><circle cx="842.6" cy="583.1" r="3.2"/><circle cx="841.5" cy="583.2" r="3.2"/><circle cx="843.4" cy="583.8" r="3.2"/><circle cx="843.2" cy="582.4" r="3.2"/><circle cx="842.4" cy="583.6" r="3.2"/><circle cx="839.6" cy="583.5" r="3.2"/><circle cx="842.3" cy="582.5" r="3.2"/><circle cx="841.5" cy="583" r="3.2"/><circle cx="842.4" cy="583.2" r="3.2"/><circle cx="842.2" cy="582.9" r="3.2"/><circle cx="842.4" cy="582.1" r="3.2"/><circle cx="845.3" cy="583.2" r="3.2"/><circle cx="845.5" cy="583.5" r="3.2"/><circle cx="846.1" cy="583" r="3.2"/><circle cx="843.6" cy="582.9" r="3.2"/><circle cx="845.2" cy="582.6" r="3.2"/><circle cx="841.8" cy="583.4" r="3.2"/><circle cx="845.5" cy="583.2" r="3.2"/><circle cx="844.8" cy="582.5" r="3.2"/><circle cx="842.8" cy="583.1" r="3.2"/><circle cx="845.9" cy="582.8" r="3.2"/><circle cx="846.1" cy="583.6" r="3.2"/><circle cx="850.6" cy="582.3" r="3.2"/><circle cx="846.3" cy="583.8" r="3.2"/><circle cx="847.4" cy="583.7" r="3.2"/><circle cx="848.2" cy="583.5" r="3.2"/><circle cx="846.7" cy="583.5" r="3.2"/><circle cx="846.6" cy="581.1" r="3.2"/><circle cx="846.8" cy="583.8" r="3.2"/><circle cx="847.3" cy="581" r="3.2"/><circle cx="847.5" cy="583.6" r="3.2"/><circle cx="846.1" cy="582.6" r="3.2"/><circle cx="847.2" cy="581.9" r="3.2"/><circle cx="849.6" cy="582.9" r="3.2"/><circle cx="851.3" cy="583.5" r="3.2"/><circle cx="847.3" cy="583.6" r="3.2"/><circle cx="849.2" cy="583.4" r="3.2"/><circle cx="850" cy="583.6" r="3.2"/><circle cx="851.2" cy="583.3" r="3.2"/><circle cx="848.1" cy="583" r="3.2"/><circle cx="847.4" cy="581.2" r="3.2"/><circle cx="850.2" cy="583.5" r="3.2"/><circle cx="851.8" cy="583.7" r="3.2"/><circle cx="849.7" cy="583.8" r="3.2"/><circle cx="850" cy="582" r="3.2"/><circle cx="851.9" cy="583.7" r="3.2"/><circle cx="851.1" cy="583.8" r="3.2"/><circle cx="852.8" cy="582.5" r="3.2"/><circle cx="852.3" cy="582.8" r="3.2"/><circle cx="851.6" cy="583.3" r="3.2"/><circle cx="851" cy="583.5" r="3.2"/><circle cx="852.9" cy="583.8" r="3.2"/><circle cx="851.3" cy="582.6" r="3.2"/><circle cx="853.4" cy="581.9" r="3.2"/><circle cx="850.4" cy="582.1" r="3.2"/><circle cx="853.7" cy="582.6" r="3.2"/><circle cx="852.7" cy="583.6" r="3.2"/><circle cx="851" cy="581" r="3.2"/><circle cx="853.2" cy="582.2" r="3.2"/><circle cx="851.6" cy="583.8" r="3.2"/><circle cx="853" cy="580.5" r="3.2"/><circle cx="852.6" cy="583.5" r="3.2"/><circle cx="853.6" cy="583.6" r="3.2"/><circle cx="855.6" cy="581.4" r="3.2"/><circle cx="854.6" cy="582.1" r="3.2"/><circle cx="853.8" cy="583.2" r="3.2"/><circle cx="855.5" cy="583.6" r="3.2"/><circle cx="856.1" cy="582.7" r="3.2"/><circle cx="855.3" cy="580.6" r="3.2"/><circle cx="854.6" cy="583.3" r="3.2"/><circle cx="854.5" cy="582.9" r="3.2"/><circle cx="854.9" cy="580.4" r="3.2"/><circle cx="857.3" cy="581.1" r="3.2"/><circle cx="856.8" cy="581.7" r="3.2"/><circle cx="854.9" cy="579.1" r="3.2"/><circle cx="857" cy="579" r="3.2"/><circle cx="857.2" cy="578.9" r="3.2"/><circle cx="856.9" cy="577.5" r="3.2"/><circle cx="858" cy="579.8" r="3.2"/><circle cx="857.9" cy="578.3" r="3.2"/><circle cx="858.5" cy="580" r="3.2"/><circle cx="858.7" cy="582.5" r="3.2"/><circle cx="855.9" cy="582.4" r="3.2"/><circle cx="856.5" cy="580.8" r="3.2"/><circle cx="857.3" cy="581.6" r="3.2"/><circle cx="859.1" cy="581.5" r="3.2"/><circle cx="859.8" cy="580.3" r="3.2"/><circle cx="857.2" cy="580.8" r="3.2"/><circle cx="857.7" cy="576.7" r="3.2"/><circle cx="857.8" cy="578.6" r="3.2"/><circle cx="859.8" cy="578.8" r="3.2"/><circle cx="859.7" cy="578.8" r="3.2"/><circle cx="861.1" cy="577.4" r="3.2"/><circle cx="857.7" cy="576.7" r="3.2"/><circle cx="860.3" cy="575.2" r="3.2"/><circle cx="863.1" cy="578.7" r="3.2"/><circle cx="860.5" cy="579.8" r="3.2"/><circle cx="860.3" cy="580.5" r="3.2"/><circle cx="858.4" cy="577.9" r="3.2"/><circle cx="860.8" cy="581.3" r="3.2"/><circle cx="860.4" cy="575.5" r="3.2"/><circle cx="860.3" cy="572.1" r="3.2"/><circle cx="859.6" cy="575.4" r="3.2"/><circle cx="859.9" cy="576.5" r="3.2"/><circle cx="864.5" cy="578" r="3.2"/><circle cx="862.3" cy="582.3" r="3.2"/><circle cx="861.8" cy="578.5" r="3.2"/><circle cx="863.7" cy="574.5" r="3.2"/><circle cx="864.8" cy="573.4" r="3.2"/><circle cx="864.3" cy="576.8" r="3.2"/><circle cx="862.6" cy="571.7" r="3.2"/><circle cx="862.8" cy="576.2" r="3.2"/><circle cx="863.1" cy="577" r="3.2"/><circle cx="863.7" cy="571.9" r="3.2"/><circle cx="864.5" cy="577.2" r="3.2"/><circle cx="865.2" cy="571.2" r="3.2"/><circle cx="865.3" cy="575.3" r="3.2"/><circle cx="866.1" cy="574.1" r="3.2"/><circle cx="864.4" cy="575.7" r="3.2"/><circle cx="864.4" cy="573.4" r="3.2"/><circle cx="867" cy="572.1" r="3.2"/><circle cx="866.5" cy="572.1" r="3.2"/><circle cx="865.6" cy="572.6" r="3.2"/><circle cx="864.3" cy="569" r="3.2"/><circle cx="867.2" cy="573.8" r="3.2"/><circle cx="865.6" cy="571.2" r="3.2"/><circle cx="865.8" cy="572.9" r="3.2"/><circle cx="868" cy="574.9" r="3.2"/><circle cx="865.7" cy="569.6" r="3.2"/><circle cx="865.7" cy="572.7" r="3.2"/><circle cx="868.7" cy="568.5" r="3.2"/><circle cx="869.3" cy="571.7" r="3.2"/><circle cx="868.1" cy="565.7" r="3.2"/><circle cx="868.5" cy="570" r="3.2"/><circle cx="868.4" cy="567.4" r="3.2"/><circle cx="868.7" cy="565.3" r="3.2"/><circle cx="867.1" cy="560.4" r="3.2"/><circle cx="866.6" cy="561.9" r="3.2"/><circle cx="870.3" cy="562.7" r="3.2"/><circle cx="868.1" cy="570.3" r="3.2"/><circle cx="870.8" cy="565" r="3.2"/><circle cx="868.4" cy="566.3" r="3.2"/><circle cx="869.8" cy="562.5" r="3.2"/><circle cx="869" cy="562.7" r="3.2"/><circle cx="868.9" cy="557" r="3.2"/><circle cx="870.1" cy="563.9" r="3.2"/><circle cx="872.6" cy="562.5" r="3.2"/><circle cx="870.1" cy="554.8" r="3.2"/><circle cx="869" cy="553.6" r="3.2"/><circle cx="869.7" cy="559.6" r="3.2"/><circle cx="871.3" cy="556.5" r="3.2"/><circle cx="868.4" cy="561.7" r="3.2"/><circle cx="871.9" cy="555.1" r="3.2"/><circle cx="871.1" cy="562.3" r="3.2"/><circle cx="871" cy="558.6" r="3.2"/><circle cx="872.4" cy="557.3" r="3.2"/><circle cx="872.7" cy="552.1" r="3.2"/><circle cx="871.8" cy="552.7" r="3.2"/><circle cx="873.5" cy="545.9" r="3.2"/><circle cx="870" cy="542.8" r="3.2"/><circle cx="872.3" cy="549.2" r="3.2"/><circle cx="872.2" cy="552.6" r="3.2"/><circle cx="873.2" cy="548.3" r="3.2"/><circle cx="872.1" cy="551.7" r="3.2"/><circle cx="872.7" cy="546.2" r="3.2"/><circle cx="874.6" cy="549.2" r="3.2"/><circle cx="872.6" cy="548.9" r="3.2"/><circle cx="873.5" cy="546.7" r="3.2"/><circle cx="875.1" cy="539.6" r="3.2"/><circle cx="874.4" cy="545.6" r="3.2"/><circle cx="873.7" cy="546.5" r="3.2"/><circle cx="875.6" cy="547.7" r="3.2"/><circle cx="875.7" cy="537.6" r="3.2"/><circle cx="873.6" cy="533.4" r="3.2"/><circle cx="873" cy="527.9" r="3.2"/><circle cx="876.1" cy="531.9" r="3.2"/><circle cx="875.2" cy="524.3" r="3.2"/><circle cx="877" cy="540.1" r="3.2"/><circle cx="873.7" cy="531.2" r="3.2"/><circle cx="875.9" cy="530.9" r="3.2"/><circle cx="877" cy="534.5" r="3.2"/><circle cx="876.7" cy="539.6" r="3.2"/><circle cx="877.8" cy="532.8" r="3.2"/><circle cx="877.5" cy="522.3" r="3.2"/><circle cx="878.3" cy="525.2" r="3.2"/><circle cx="881" cy="518.3" r="3.2"/><circle cx="876.7" cy="527.9" r="3.2"/><circle cx="881.1" cy="521.2" r="3.2"/><circle cx="877.8" cy="514.7" r="3.2"/><circle cx="878.2" cy="524.2" r="3.2"/><circle cx="879.1" cy="524" r="3.2"/><circle cx="877.4" cy="514.8" r="3.2"/><circle cx="881.5" cy="514.8" r="3.2"/><circle cx="878" cy="508.3" r="3.2"/><circle cx="880.9" cy="518.8" r="3.2"/><circle cx="879.2" cy="515.1" r="3.2"/><circle cx="879.8" cy="514.1" r="3.2"/><circle cx="880.5" cy="498" r="3.2"/><circle cx="882.6" cy="507.4" r="3.2"/><circle cx="879.2" cy="513.5" r="3.2"/><circle cx="881.2" cy="494.9" r="3.2"/><circle cx="881.7" cy="503" r="3.2"/><circle cx="881.1" cy="504" r="3.2"/><circle cx="880.5" cy="504.2" r="3.2"/><circle cx="878.7" cy="503.8" r="3.2"/><circle cx="880.2" cy="494.8" r="3.2"/><circle cx="881.1" cy="495.7" r="3.2"/><circle cx="881.8" cy="485.7" r="3.2"/><circle cx="882.4" cy="506.4" r="3.2"/><circle cx="884.9" cy="493" r="3.2"/><circle cx="883.8" cy="495.1" r="3.2"/><circle cx="884.2" cy="485.1" r="3.2"/><circle cx="879.5" cy="492" r="3.2"/><circle cx="884.8" cy="481.1" r="3.2"/><circle cx="884.1" cy="464.3" r="3.2"/><circle cx="881" cy="483.1" r="3.2"/><circle cx="883.5" cy="486.1" r="3.2"/><circle cx="883.9" cy="484" r="3.2"/><circle cx="883" cy="480.1" r="3.2"/><circle cx="883.6" cy="495.6" r="3.2"/><circle cx="884.2" cy="483.6" r="3.2"/><circle cx="884.2" cy="481.6" r="3.2"/><circle cx="884.7" cy="488.5" r="3.2"/><circle cx="886" cy="490.7" r="3.2"/><circle cx="886" cy="474.2" r="3.2"/><circle cx="886.1" cy="477.5" r="3.2"/><circle cx="885.9" cy="472" r="3.2"/><circle cx="887.1" cy="467" r="3.2"/><circle cx="884.8" cy="467" r="3.2"/><circle cx="887.2" cy="464.5" r="3.2"/><circle cx="886.3" cy="457.9" r="3.2"/><circle cx="888.7" cy="460.4" r="3.2"/><circle cx="887.6" cy="466.9" r="3.2"/><circle cx="887.5" cy="473.7" r="3.2"/><circle cx="887" cy="445.7" r="3.2"/><circle cx="885.8" cy="462.4" r="3.2"/><circle cx="889.2" cy="450.8" r="3.2"/><circle cx="888" cy="457.1" r="3.2"/><circle cx="887.2" cy="453.1" r="3.2"/><circle cx="889.4" cy="450.9" r="3.2"/><circle cx="889.1" cy="455.4" r="3.2"/><circle cx="888.8" cy="440.7" r="3.2"/><circle cx="888.5" cy="450.2" r="3.2"/><circle cx="885.9" cy="461.5" r="3.2"/><circle cx="888.7" cy="439.4" r="3.2"/><circle cx="889" cy="441.1" r="3.2"/><circle cx="889.9" cy="427.5" r="3.2"/><circle cx="887.6" cy="440.4" r="3.2"/><circle cx="889" cy="436.5" r="3.2"/><circle cx="888.7" cy="446" r="3.2"/><circle cx="889.1" cy="445.1" r="3.2"/><circle cx="889.6" cy="443.6" r="3.2"/><circle cx="890.8" cy="440.5" r="3.2"/><circle cx="890.5" cy="420.7" r="3.2"/><circle cx="891.7" cy="425.5" r="3.2"/><circle cx="892.6" cy="416.7" r="3.2"/><circle cx="891.7" cy="420.1" r="3.2"/><circle cx="892.3" cy="413.4" r="3.2"/><circle cx="889.7" cy="418.6" r="3.2"/><circle cx="892" cy="400.1" r="3.2"/><circle cx="895" cy="397.2" r="3.2"/><circle cx="894.2" cy="418.3" r="3.2"/><circle cx="892.2" cy="418.2" r="3.2"/><circle cx="893.3" cy="431.5" r="3.2"/><circle cx="892.9" cy="431.9" r="3.2"/><circle cx="891.6" cy="417.5" r="3.2"/><circle cx="892.6" cy="406.9" r="3.2"/><circle cx="896" cy="415.6" r="3.2"/><circle cx="894.6" cy="392.8" r="3.2"/><circle cx="893.7" cy="404.9" r="3.2"/><circle cx="893.5" cy="428.2" r="3.2"/><circle cx="895.4" cy="405.5" r="3.2"/><circle cx="893.8" cy="396.5" r="3.2"/><circle cx="894" cy="414.1" r="3.2"/><circle cx="895.6" cy="404.7" r="3.2"/><circle cx="895.2" cy="409" r="3.2"/><circle cx="895.4" cy="401.2" r="3.2"/><circle cx="895.3" cy="418.4" r="3.2"/><circle cx="895.7" cy="412.9" r="3.2"/><circle cx="896.7" cy="412.2" r="3.2"/><circle cx="895.8" cy="395.1" r="3.2"/><circle cx="897.2" cy="403.4" r="3.2"/><circle cx="897.5" cy="404.7" r="3.2"/><circle cx="896.6" cy="401.9" r="3.2"/><circle cx="897" cy="412.6" r="3.2"/><circle cx="896.6" cy="401.3" r="3.2"/><circle cx="896.9" cy="411.7" r="3.2"/><circle cx="897.6" cy="390.1" r="3.2"/><circle cx="896.4" cy="386.1" r="3.2"/><circle cx="897.2" cy="401.7" r="3.2"/><circle cx="896.5" cy="393.7" r="3.2"/><circle cx="896.7" cy="401.4" r="3.2"/><circle cx="897.2" cy="384.1" r="3.2"/><circle cx="895.3" cy="382.3" r="3.2"/><circle cx="897.8" cy="382.3" r="3.2"/><circle cx="900.6" cy="372" r="3.2"/><circle cx="899.3" cy="387.7" r="3.2"/><circle cx="900" cy="406.6" r="3.2"/><circle cx="898.7" cy="376.5" r="3.2"/><circle cx="896.1" cy="384.1" r="3.2"/><circle cx="900.2" cy="378.8" r="3.2"/><circle cx="897.9" cy="370" r="3.2"/><circle cx="900.7" cy="393.6" r="3.2"/><circle cx="899" cy="392.8" r="3.2"/><circle cx="899.9" cy="389.8" r="3.2"/><circle cx="902" cy="402.2" r="3.2"/><circle cx="901.9" cy="374.3" r="3.2"/><circle cx="899.9" cy="373.4" r="3.2"/><circle cx="900.8" cy="381.1" r="3.2"/><circle cx="902.3" cy="366.7" r="3.2"/><circle cx="902.2" cy="374.4" r="3.2"/><circle cx="901.2" cy="394.3" r="3.2"/><circle cx="900.4" cy="389" r="3.2"/><circle cx="902.4" cy="396.4" r="3.2"/><circle cx="902.9" cy="379.2" r="3.2"/><circle cx="901.1" cy="398.5" r="3.2"/><circle cx="902.2" cy="382" r="3.2"/><circle cx="902" cy="369.6" r="3.2"/><circle cx="902.4" cy="391" r="3.2"/><circle cx="903.8" cy="393.5" r="3.2"/><circle cx="902.6" cy="377.6" r="3.2"/><circle cx="904.1" cy="398.3" r="3.2"/><circle cx="903.3" cy="397.1" r="3.2"/><circle cx="905.7" cy="379.6" r="3.2"/><circle cx="906.3" cy="388.7" r="3.2"/><circle cx="904" cy="367.1" r="3.2"/><circle cx="905.5" cy="379.8" r="3.2"/><circle cx="904.1" cy="369.6" r="3.2"/><circle cx="905.6" cy="396.5" r="3.2"/><circle cx="904.6" cy="379.7" r="3.2"/><circle cx="907.6" cy="385.8" r="3.2"/><circle cx="906.6" cy="382.1" r="3.2"/><circle cx="906.2" cy="408.9" r="3.2"/><circle cx="905.2" cy="390.8" r="3.2"/><circle cx="907.3" cy="402.3" r="3.2"/><circle cx="906" cy="405.8" r="3.2"/><circle cx="905.3" cy="389.6" r="3.2"/><circle cx="908" cy="391.7" r="3.2"/><circle cx="906.4" cy="397.5" r="3.2"/><circle cx="906" cy="377.3" r="3.2"/><circle cx="905.7" cy="417.5" r="3.2"/><circle cx="907.7" cy="410.2" r="3.2"/><circle cx="907.1" cy="401.3" r="3.2"/><circle cx="908.8" cy="398.4" r="3.2"/><circle cx="909.7" cy="404.4" r="3.2"/><circle cx="906.1" cy="399" r="3.2"/><circle cx="911.1" cy="409.1" r="3.2"/><circle cx="906.5" cy="416.6" r="3.2"/><circle cx="909.2" cy="400.7" r="3.2"/><circle cx="909.4" cy="412" r="3.2"/><circle cx="908.4" cy="422.7" r="3.2"/><circle cx="909.7" cy="412.5" r="3.2"/><circle cx="908.9" cy="414.4" r="3.2"/><circle cx="910.2" cy="401.9" r="3.2"/><circle cx="908.3" cy="437.8" r="3.2"/><circle cx="912.9" cy="418.8" r="3.2"/><circle cx="909.1" cy="435.8" r="3.2"/><circle cx="912.7" cy="432" r="3.2"/><circle cx="912.1" cy="398.8" r="3.2"/><circle cx="913.6" cy="426.5" r="3.2"/><circle cx="911.3" cy="416.5" r="3.2"/><circle cx="911.5" cy="424.4" r="3.2"/><circle cx="911.3" cy="432" r="3.2"/><circle cx="914" cy="430" r="3.2"/><circle cx="912.5" cy="432.3" r="3.2"/><circle cx="913.5" cy="429.3" r="3.2"/><circle cx="913.1" cy="442.7" r="3.2"/><circle cx="912.8" cy="434.2" r="3.2"/><circle cx="911.5" cy="441.8" r="3.2"/><circle cx="913.2" cy="446.9" r="3.2"/><circle cx="914.5" cy="441.3" r="3.2"/><circle cx="913.7" cy="442.2" r="3.2"/><circle cx="913.4" cy="422.4" r="3.2"/><circle cx="915" cy="451.2" r="3.2"/><circle cx="912.5" cy="442.5" r="3.2"/><circle cx="916.2" cy="448.2" r="3.2"/><circle cx="914.1" cy="445.4" r="3.2"/><circle cx="914.4" cy="432.7" r="3.2"/><circle cx="915.5" cy="448.4" r="3.2"/><circle cx="916" cy="455" r="3.2"/><circle cx="915.7" cy="460.1" r="3.2"/><circle cx="917.6" cy="454.3" r="3.2"/><circle cx="912" cy="452.2" r="3.2"/><circle cx="915.8" cy="445.2" r="3.2"/><circle cx="918.6" cy="456.3" r="3.2"/><circle cx="919.1" cy="450.1" r="3.2"/><circle cx="913.9" cy="475.4" r="3.2"/><circle cx="916" cy="457.7" r="3.2"/><circle cx="916.5" cy="456.7" r="3.2"/><circle cx="917.7" cy="466" r="3.2"/><circle cx="916.7" cy="458" r="3.2"/><circle cx="916.6" cy="470.9" r="3.2"/><circle cx="917.9" cy="473.6" r="3.2"/><circle cx="917.4" cy="471.5" r="3.2"/><circle cx="918.1" cy="460.4" r="3.2"/><circle cx="916.6" cy="482.4" r="3.2"/><circle cx="919.2" cy="470.5" r="3.2"/><circle cx="919.1" cy="478.4" r="3.2"/><circle cx="921.3" cy="480.1" r="3.2"/><circle cx="920" cy="474.5" r="3.2"/><circle cx="918.6" cy="485.8" r="3.2"/><circle cx="918.5" cy="472.8" r="3.2"/><circle cx="919.6" cy="480.2" r="3.2"/><circle cx="918.6" cy="480.4" r="3.2"/><circle cx="920.8" cy="483.4" r="3.2"/><circle cx="920.3" cy="491.9" r="3.2"/><circle cx="917.9" cy="481.1" r="3.2"/><circle cx="920.9" cy="489.5" r="3.2"/><circle cx="918.9" cy="494.5" r="3.2"/><circle cx="922.5" cy="491.2" r="3.2"/><circle cx="920.4" cy="482.4" r="3.2"/><circle cx="921.8" cy="485.7" r="3.2"/><circle cx="920.4" cy="492.7" r="3.2"/><circle cx="923.7" cy="504.9" r="3.2"/><circle cx="921.8" cy="513.2" r="3.2"/><circle cx="921.1" cy="507.5" r="3.2"/><circle cx="924" cy="512.7" r="3.2"/><circle cx="923.2" cy="506.6" r="3.2"/><circle cx="923.7" cy="502.1" r="3.2"/><circle cx="923.9" cy="499" r="3.2"/><circle cx="923.9" cy="504.1" r="3.2"/><circle cx="924.1" cy="510.1" r="3.2"/><circle cx="922.9" cy="507.6" r="3.2"/><circle cx="925.1" cy="503.6" r="3.2"/><circle cx="925.1" cy="516.8" r="3.2"/><circle cx="924.4" cy="523" r="3.2"/><circle cx="924.4" cy="524.9" r="3.2"/><circle cx="924.5" cy="526.2" r="3.2"/><circle cx="924" cy="509.5" r="3.2"/><circle cx="922.6" cy="519.2" r="3.2"/><circle cx="926" cy="522.1" r="3.2"/><circle cx="925.1" cy="518.9" r="3.2"/><circle cx="925.7" cy="519.7" r="3.2"/><circle cx="925.1" cy="511.9" r="3.2"/><circle cx="927.5" cy="530.7" r="3.2"/><circle cx="924.5" cy="532.3" r="3.2"/><circle cx="926.1" cy="520.2" r="3.2"/><circle cx="926" cy="518.4" r="3.2"/><circle cx="926.7" cy="536.9" r="3.2"/><circle cx="925.9" cy="532.2" r="3.2"/><circle cx="925.6" cy="530.2" r="3.2"/><circle cx="929" cy="531" r="3.2"/><circle cx="928.5" cy="528.3" r="3.2"/><circle cx="927.6" cy="534.6" r="3.2"/><circle cx="928" cy="540.8" r="3.2"/><circle cx="928.7" cy="542.3" r="3.2"/><circle cx="927.8" cy="528.2" r="3.2"/><circle cx="929.1" cy="542.1" r="3.2"/><circle cx="927.2" cy="542.2" r="3.2"/><circle cx="929.3" cy="532.5" r="3.2"/><circle cx="926.2" cy="543.2" r="3.2"/><circle cx="931" cy="546.3" r="3.2"/><circle cx="931.1" cy="544.7" r="3.2"/><circle cx="930" cy="540.9" r="3.2"/><circle cx="928.6" cy="541.6" r="3.2"/><circle cx="930.6" cy="544.9" r="3.2"/><circle cx="930.1" cy="552.2" r="3.2"/><circle cx="932.6" cy="550.4" r="3.2"/><circle cx="929.2" cy="556.4" r="3.2"/><circle cx="931.2" cy="548" r="3.2"/><circle cx="931.2" cy="543.7" r="3.2"/><circle cx="930.1" cy="544.2" r="3.2"/><circle cx="931.1" cy="558.6" r="3.2"/><circle cx="931.5" cy="545.9" r="3.2"/><circle cx="933.1" cy="549.3" r="3.2"/><circle cx="931.9" cy="556.4" r="3.2"/><circle cx="933.1" cy="556.8" r="3.2"/><circle cx="934.4" cy="553.6" r="3.2"/><circle cx="932.2" cy="561.8" r="3.2"/><circle cx="933.3" cy="552.3" r="3.2"/><circle cx="931.9" cy="550.8" r="3.2"/><circle cx="931.8" cy="552.8" r="3.2"/><circle cx="933.6" cy="561" r="3.2"/><circle cx="931.4" cy="558.7" r="3.2"/><circle cx="934.6" cy="561.9" r="3.2"/><circle cx="933.8" cy="556.3" r="3.2"/><circle cx="933" cy="561.4" r="3.2"/><circle cx="933.3" cy="559.7" r="3.2"/><circle cx="936.3" cy="560.5" r="3.2"/><circle cx="932.7" cy="553.8" r="3.2"/><circle cx="935.3" cy="565.1" r="3.2"/><circle cx="935.7" cy="558.1" r="3.2"/><circle cx="935.7" cy="563.1" r="3.2"/><circle cx="934.7" cy="567.3" r="3.2"/><circle cx="935.5" cy="565.9" r="3.2"/><circle cx="937.2" cy="564.5" r="3.2"/><circle cx="936.7" cy="563.9" r="3.2"/><circle cx="935.6" cy="568.2" r="3.2"/><circle cx="936.1" cy="570.1" r="3.2"/><circle cx="936.9" cy="565" r="3.2"/><circle cx="936.4" cy="569.1" r="3.2"/><circle cx="934.8" cy="569.6" r="3.2"/><circle cx="938.2" cy="566.9" r="3.2"/><circle cx="937" cy="570.8" r="3.2"/><circle cx="936.5" cy="569.9" r="3.2"/><circle cx="937.2" cy="571.2" r="3.2"/><circle cx="937.7" cy="569.8" r="3.2"/><circle cx="939.3" cy="570.3" r="3.2"/><circle cx="938.6" cy="572.3" r="3.2"/><circle cx="938.3" cy="572.6" r="3.2"/><circle cx="938.3" cy="573.1" r="3.2"/><circle cx="941" cy="573.6" r="3.2"/><circle cx="939.9" cy="571.9" r="3.2"/><circle cx="940.6" cy="571.6" r="3.2"/><circle cx="938.9" cy="569.6" r="3.2"/><circle cx="939.7" cy="572" r="3.2"/><circle cx="939.1" cy="570.4" r="3.2"/><circle cx="939.3" cy="572.9" r="3.2"/><circle cx="941.3" cy="579.4" r="3.2"/><circle cx="941.6" cy="574.5" r="3.2"/><circle cx="940.6" cy="569" r="3.2"/><circle cx="942.2" cy="580.6" r="3.2"/><circle cx="939.3" cy="576.4" r="3.2"/><circle cx="942.7" cy="572.2" r="3.2"/><circle cx="941.3" cy="572.2" r="3.2"/><circle cx="942.7" cy="578" r="3.2"/><circle cx="939.7" cy="576.1" r="3.2"/><circle cx="941" cy="577.9" r="3.2"/><circle cx="942.6" cy="575.3" r="3.2"/><circle cx="942.2" cy="574.5" r="3.2"/><circle cx="942.8" cy="572.7" r="3.2"/><circle cx="942.6" cy="576" r="3.2"/><circle cx="943.1" cy="576.8" r="3.2"/><circle cx="942.7" cy="578.8" r="3.2"/><circle cx="942.1" cy="580" r="3.2"/><circle cx="943.5" cy="581.4" r="3.2"/><circle cx="945.1" cy="581.4" r="3.2"/><circle cx="944.2" cy="577.1" r="3.2"/><circle cx="944.7" cy="579.4" r="3.2"/><circle cx="945.2" cy="581.6" r="3.2"/><circle cx="946" cy="578.3" r="3.2"/><circle cx="946.3" cy="578.9" r="3.2"/><circle cx="945.3" cy="576.7" r="3.2"/><circle cx="944.5" cy="580.8" r="3.2"/><circle cx="945.3" cy="578.3" r="3.2"/><circle cx="946.9" cy="578.1" r="3.2"/><circle cx="945.6" cy="579.5" r="3.2"/><circle cx="944.6" cy="578.8" r="3.2"/><circle cx="946.1" cy="578.8" r="3.2"/><circle cx="946.6" cy="577.9" r="3.2"/><circle cx="946.8" cy="580.6" r="3.2"/><circle cx="946.5" cy="579.7" r="3.2"/><circle cx="947.5" cy="579" r="3.2"/><circle cx="947.8" cy="580.5" r="3.2"/><circle cx="945.8" cy="583.8" r="3.2"/><circle cx="946.9" cy="579.9" r="3.2"/><circle cx="946.9" cy="583.8" r="3.2"/><circle cx="946.8" cy="582.9" r="3.2"/><circle cx="946.7" cy="580.5" r="3.2"/><circle cx="948.6" cy="578.7" r="3.2"/><circle cx="945.2" cy="579.4" r="3.2"/><circle cx="949.1" cy="581.7" r="3.2"/><circle cx="946.2" cy="580.7" r="3.2"/><circle cx="948.4" cy="581.9" r="3.2"/><circle cx="950.3" cy="579.4" r="3.2"/><circle cx="948.8" cy="583.3" r="3.2"/><circle cx="950.8" cy="582.3" r="3.2"/><circle cx="951.8" cy="582.6" r="3.2"/><circle cx="949.6" cy="580.9" r="3.2"/><circle cx="949.8" cy="582.6" r="3.2"/><circle cx="950" cy="581.6" r="3.2"/><circle cx="952.4" cy="583.3" r="3.2"/><circle cx="950" cy="579.7" r="3.2"/><circle cx="949.4" cy="583.3" r="3.2"/><circle cx="952.8" cy="583" r="3.2"/><circle cx="952.1" cy="583.8" r="3.2"/><circle cx="951.8" cy="581.5" r="3.2"/><circle cx="949.3" cy="581.8" r="3.2"/><circle cx="950.2" cy="582.9" r="3.2"/><circle cx="953.8" cy="583.8" r="3.2"/><circle cx="950" cy="582.3" r="3.2"/><circle cx="950" cy="583.6" r="3.2"/><circle cx="955.5" cy="581.8" r="3.2"/><circle cx="952.1" cy="583.6" r="3.2"/><circle cx="951.6" cy="583.3" r="3.2"/><circle cx="952" cy="583.4" r="3.2"/><circle cx="954.3" cy="579.9" r="3.2"/><circle cx="953.4" cy="582.8" r="3.2"/><circle cx="953" cy="583.6" r="3.2"/><circle cx="951.5" cy="583.7" r="3.2"/><circle cx="951.5" cy="582.4" r="3.2"/><circle cx="954.9" cy="583.2" r="3.2"/><circle cx="956.1" cy="581.8" r="3.2"/><circle cx="954.9" cy="583.1" r="3.2"/><circle cx="952.4" cy="581.9" r="3.2"/><circle cx="955.4" cy="581.8" r="3.2"/><circle cx="955.1" cy="582.2" r="3.2"/><circle cx="955.2" cy="581.8" r="3.2"/><circle cx="955.5" cy="583.1" r="3.2"/><circle cx="954.6" cy="583.7" r="3.2"/><circle cx="956.3" cy="583.7" r="3.2"/><circle cx="956.3" cy="581.8" r="3.2"/><circle cx="956.3" cy="583.6" r="3.2"/><circle cx="956" cy="582.9" r="3.2"/><circle cx="957.2" cy="582" r="3.2"/><circle cx="956" cy="582.4" r="3.2"/><circle cx="957.1" cy="583.3" r="3.2"/><circle cx="959" cy="583.4" r="3.2"/><circle cx="957.9" cy="582.1" r="3.2"/><circle cx="957" cy="582.3" r="3.2"/><circle cx="959" cy="581.9" r="3.2"/><circle cx="959.5" cy="583.8" r="3.2"/><circle cx="959.2" cy="583.4" r="3.2"/><circle cx="960.4" cy="583.6" r="3.2"/><circle cx="960.1" cy="583.8" r="3.2"/><circle cx="959.5" cy="582" r="3.2"/><circle cx="958.2" cy="583.4" r="3.2"/><circle cx="959.6" cy="583.3" r="3.2"/><circle cx="957" cy="581.3" r="3.2"/><circle cx="960" cy="583.6" r="3.2"/><circle cx="960.1" cy="583.8" r="3.2"/><circle cx="961" cy="583.2" r="3.2"/><circle cx="961.2" cy="582.8" r="3.2"/><circle cx="961.1" cy="583.5" r="3.2"/><circle cx="959" cy="582.9" r="3.2"/><circle cx="959.7" cy="582.8" r="3.2"/><circle cx="962" cy="583.8" r="3.2"/><circle cx="963.2" cy="583.4" r="3.2"/><circle cx="960" cy="583.5" r="3.2"/><circle cx="961.9" cy="583.7" r="3.2"/><circle cx="962.1" cy="582.3" r="3.2"/><circle cx="960.8" cy="583.4" r="3.2"/><circle cx="963.3" cy="583.5" r="3.2"/><circle cx="964.3" cy="583.6" r="3.2"/><circle cx="962.1" cy="582.5" r="3.2"/><circle cx="963.5" cy="583.6" r="3.2"/><circle cx="963.1" cy="583.7" r="3.2"/><circle cx="964.5" cy="582.4" r="3.2"/><circle cx="963.8" cy="583.3" r="3.2"/><circle cx="963.5" cy="583.3" r="3.2"/><circle cx="963.5" cy="583.4" r="3.2"/><circle cx="963" cy="583.5" r="3.2"/><circle cx="965.7" cy="583.7" r="3.2"/><circle cx="964.2" cy="583.8" r="3.2"/><circle cx="964.9" cy="583.2" r="3.2"/><circle cx="965.4" cy="582.9" r="3.2"/><circle cx="965.2" cy="583.8" r="3.2"/><circle cx="963.1" cy="583.6" r="3.2"/><circle cx="965.9" cy="583.8" r="3.2"/><circle cx="966.3" cy="582.9" r="3.2"/><circle cx="967.3" cy="583.1" r="3.2"/><circle cx="964.4" cy="583.5" r="3.2"/><circle cx="966.3" cy="583.5" r="3.2"/><circle cx="967" cy="583.4" r="3.2"/><circle cx="966.1" cy="582.9" r="3.2"/><circle cx="968.2" cy="582.9" r="3.2"/><circle cx="965.7" cy="583.8" r="3.2"/><circle cx="967.5" cy="583.7" r="3.2"/><circle cx="968.7" cy="583.3" r="3.2"/><circle cx="969.3" cy="583.5" r="3.2"/><circle cx="969" cy="583.7" r="3.2"/><circle cx="966.9" cy="583.7" r="3.2"/><circle cx="968.8" cy="583.8" r="3.2"/><circle cx="967.7" cy="583.4" r="3.2"/><circle cx="968" cy="583.7" r="3.2"/><circle cx="967.4" cy="583.8" r="3.2"/><circle cx="969.8" cy="583.5" r="3.2"/><circle cx="971.8" cy="583.1" r="3.2"/><circle cx="967.6" cy="583.6" r="3.2"/><circle cx="970.9" cy="583.6" r="3.2"/><circle cx="966.9" cy="583.6" r="3.2"/><circle cx="968.6" cy="583.3" r="3.2"/><circle cx="970.1" cy="582.4" r="3.2"/><circle cx="968.4" cy="583.7" r="3.2"/><circle cx="970.9" cy="583.7" r="3.2"/><circle cx="971.3" cy="583.6" r="3.2"/><circle cx="971.1" cy="583.4" r="3.2"/><circle cx="971.7" cy="583.2" r="3.2"/><circle cx="972.1" cy="583.4" r="3.2"/><circle cx="970.2" cy="583.6" r="3.2"/><circle cx="973" cy="583.7" r="3.2"/><circle cx="971.9" cy="583.6" r="3.2"/><circle cx="971.9" cy="583.3" r="3.2"/><circle cx="974.1" cy="583.7" r="3.2"/><circle cx="974" cy="583.6" r="3.2"/><circle cx="970.2" cy="583.7" r="3.2"/><circle cx="972.6" cy="583.6" r="3.2"/><circle cx="972.5" cy="582.5" r="3.2"/><circle cx="970.7" cy="583.7" r="3.2"/><circle cx="973.5" cy="583.6" r="3.2"/><circle cx="973.1" cy="583.4" r="3.2"/><circle cx="974.1" cy="583.8" r="3.2"/><circle cx="973.2" cy="583.7" r="3.2"/><circle cx="974" cy="583.6" r="3.2"/><circle cx="975.9" cy="582.9" r="3.2"/><circle cx="973.5" cy="583.2" r="3.2"/><circle cx="973.3" cy="583.5" r="3.2"/><circle cx="975.5" cy="583.2" r="3.2"/><circle cx="974.3" cy="583.7" r="3.2"/><circle cx="976" cy="583.7" r="3.2"/><circle cx="974.7" cy="583.6" r="3.2"/><circle cx="975.8" cy="583.1" r="3.2"/><circle cx="976.8" cy="583.1" r="3.2"/><circle cx="976.7" cy="583.2" r="3.2"/><circle cx="977.6" cy="583.7" r="3.2"/><circle cx="977.1" cy="582.9" r="3.2"/><circle cx="975.8" cy="583.5" r="3.2"/><circle cx="976.4" cy="583.8" r="3.2"/><circle cx="979.9" cy="583.5" r="3.2"/><circle cx="975.6" cy="583.7" r="3.2"/><circle cx="976.3" cy="583.3" r="3.2"/><circle cx="976.7" cy="582.9" r="3.2"/><circle cx="976.8" cy="583.6" r="3.2"/><circle cx="977.3" cy="583.6" r="3.2"/><circle cx="977.9" cy="583.5" r="3.2"/><circle cx="978.1" cy="583.7" r="3.2"/><circle cx="979.1" cy="583.8" r="3.2"/><circle cx="979.2" cy="583.7" r="3.2"/><circle cx="980" cy="583.7" r="3.2"/><circle cx="977.4" cy="583.7" r="3.2"/><circle cx="978.3" cy="582.7" r="3.2"/><circle cx="981.7" cy="583.8" r="3.2"/><circle cx="979.9" cy="583.7" r="3.2"/><circle cx="980.8" cy="583.6" r="3.2"/><circle cx="980.1" cy="583.3" r="3.2"/><circle cx="979.2" cy="583.7" r="3.2"/><circle cx="979.9" cy="583.7" r="3.2"/><circle cx="979.1" cy="583.4" r="3.2"/><circle cx="980.5" cy="583" r="3.2"/><circle cx="980.3" cy="583.2" r="3.2"/><circle cx="980" cy="583.6" r="3.2"/><circle cx="979.6" cy="583.4" r="3.2"/><circle cx="980.9" cy="583.8" r="3.2"/><circle cx="984.2" cy="583.4" r="3.2"/><circle cx="982" cy="583.7" r="3.2"/><circle cx="981.5" cy="582.9" r="3.2"/><circle cx="982.5" cy="583.7" r="3.2"/><circle cx="983" cy="583.1" r="3.2"/><circle cx="983.7" cy="583.2" r="3.2"/><circle cx="981.9" cy="583.4" r="3.2"/><circle cx="983.3" cy="583.8" r="3.2"/><circle cx="984.6" cy="583.6" r="3.2"/><circle cx="984.4" cy="583" r="3.2"/><circle cx="984.2" cy="582.5" r="3.2"/><circle cx="984.4" cy="583.7" r="3.2"/><circle cx="981.7" cy="583.6" r="3.2"/><circle cx="987" cy="583.2" r="3.2"/><circle cx="984.6" cy="583.8" r="3.2"/><circle cx="983.9" cy="583.6" r="3.2"/><circle cx="984.9" cy="583.6" r="3.2"/><circle cx="986.4" cy="583.7" r="3.2"/><circle cx="986.3" cy="583.6" r="3.2"/><circle cx="985.9" cy="583.7" r="3.2"/><circle cx="985.1" cy="582.9" r="3.2"/><circle cx="987.8" cy="582.8" r="3.2"/><circle cx="985.9" cy="583.7" r="3.2"/><circle cx="987.7" cy="583.8" r="3.2"/><circle cx="985.4" cy="583.8" r="3.2"/><circle cx="986.2" cy="583.2" r="3.2"/><circle cx="987.5" cy="583.7" r="3.2"/><circle cx="984.3" cy="582.9" r="3.2"/><circle cx="988.2" cy="583.7" r="3.2"/><circle cx="987" cy="583.6" r="3.2"/><circle cx="987.1" cy="583.7" r="3.2"/><circle cx="989.2" cy="583.7" r="3.2"/><circle cx="985.1" cy="583.7" r="3.2"/><circle cx="987.6" cy="583.6" r="3.2"/><circle cx="988.9" cy="583.7" r="3.2"/><circle cx="987.9" cy="583.8" r="3.2"/><circle cx="986.3" cy="583.4" r="3.2"/><circle cx="988.6" cy="583.7" r="3.2"/><circle cx="988.4" cy="583.8" r="3.2"/><circle cx="987.5" cy="583.5" r="3.2"/><circle cx="989.9" cy="583.7" r="3.2"/><circle cx="990.6" cy="582.9" r="3.2"/><circle cx="988.8" cy="583.1" r="3.2"/><circle cx="989" cy="583.3" r="3.2"/><circle cx="989.8" cy="583.4" r="3.2"/><circle cx="991" cy="583.5" r="3.2"/><circle cx="991.6" cy="583.6" r="3.2"/><circle cx="991.8" cy="583.6" r="3.2"/><circle cx="993" cy="583.6" r="3.2"/><circle cx="992" cy="582.6" r="3.2"/><circle cx="991.2" cy="583.7" r="3.2"/><circle cx="994.1" cy="583.7" r="3.2"/><circle cx="990.1" cy="583.7" r="3.2"/><circle cx="992.8" cy="583.7" r="3.2"/><circle cx="990.6" cy="583.6" r="3.2"/><circle cx="992.6" cy="583.6" r="3.2"/><circle cx="991.9" cy="583.6" r="3.2"/><circle cx="991.3" cy="583.5" r="3.2"/><circle cx="992.4" cy="583.8" r="3.2"/><circle cx="991.9" cy="583.8" r="3.2"/><circle cx="994.4" cy="583.8" r="3.2"/><circle cx="994" cy="583.6" r="3.2"/><circle cx="992.3" cy="583.6" r="3.2"/><circle cx="995.3" cy="583.7" r="3.2"/><circle cx="992.1" cy="583.6" r="3.2"/><circle cx="995" cy="583.5" r="3.2"/><circle cx="996.6" cy="583.8" r="3.2"/><circle cx="995.3" cy="583.8" r="3.2"/><circle cx="994.2" cy="583.8" r="3.2"/><circle cx="994.7" cy="583.8" r="3.2"/><circle cx="995.6" cy="583.8" r="3.2"/><circle cx="995.7" cy="583.7" r="3.2"/><circle cx="995.3" cy="583.4" r="3.2"/><circle cx="995.1" cy="583.7" r="3.2"/><circle cx="996.5" cy="583.7" r="3.2"/><circle cx="995.3" cy="583.8" r="3.2"/><circle cx="996.3" cy="583.5" r="3.2"/><circle cx="995.1" cy="583.4" r="3.2"/><circle cx="995.8" cy="583.6" r="3.2"/><circle cx="998.8" cy="583.2" r="3.2"/><circle cx="900.4" cy="356.9" r="3.1"/><circle cx="905.2" cy="356.9" r="3.1"/><circle cx="903.8" cy="364.6" r="3.1"/><circle cx="899.4" cy="367.2" r="3.1"/><circle cx="906.7" cy="362" r="3.1"/></g>
<g fill="#5b62b6"><path d="M884.3,579.9 l3.3,5.8 h-6.6 Z"/><path d="M883.8,579.7 l3.3,5.8 h-6.6 Z"/><path d="M883.2,580 l3.3,5.8 h-6.6 Z"/><path d="M882.6,580.1 l3.3,5.8 h-6.6 Z"/><path d="M882,580 l3.3,5.8 h-6.6 Z"/><path d="M881.4,579.7 l3.3,5.8 h-6.6 Z"/><path d="M880.9,580.2 l3.3,5.8 h-6.6 Z"/><path d="M880.3,580 l3.3,5.8 h-6.6 Z"/><path d="M879.7,580.1 l3.3,5.8 h-6.6 Z"/><path d="M879.1,579.9 l3.3,5.8 h-6.6 Z"/><path d="M878.5,579.6 l3.3,5.8 h-6.6 Z"/><path d="M878,580.1 l3.3,5.8 h-6.6 Z"/><path d="M877.4,580 l3.3,5.8 h-6.6 Z"/><path d="M876.8,579.9 l3.3,5.8 h-6.6 Z"/><path d="M876.2,580 l3.3,5.8 h-6.6 Z"/><path d="M875.6,579.7 l3.3,5.8 h-6.6 Z"/><path d="M875,579.8 l3.3,5.8 h-6.6 Z"/><path d="M874.5,580.1 l3.3,5.8 h-6.6 Z"/><path d="M873.9,579.5 l3.3,5.8 h-6.6 Z"/><path d="M873.3,579.8 l3.3,5.8 h-6.6 Z"/><path d="M872.7,580 l3.3,5.8 h-6.6 Z"/><path d="M872.1,579.7 l3.3,5.8 h-6.6 Z"/><path d="M871.6,579.9 l3.3,5.8 h-6.6 Z"/><path d="M871,580.2 l3.3,5.8 h-6.6 Z"/><path d="M870.4,579.7 l3.3,5.8 h-6.6 Z"/><path d="M869.8,579.9 l3.3,5.8 h-6.6 Z"/><path d="M869.2,579.6 l3.3,5.8 h-6.6 Z"/><path d="M868.7,579.6 l3.3,5.8 h-6.6 Z"/><path d="M868.1,579.9 l3.3,5.8 h-6.6 Z"/><path d="M867.5,580.1 l3.3,5.8 h-6.6 Z"/><path d="M866.9,580 l3.3,5.8 h-6.6 Z"/><path d="M866.3,580 l3.3,5.8 h-6.6 Z"/><path d="M865.8,579.8 l3.3,5.8 h-6.6 Z"/><path d="M865.2,580.1 l3.3,5.8 h-6.6 Z"/><path d="M864.6,579.7 l3.3,5.8 h-6.6 Z"/><path d="M864,580 l3.3,5.8 h-6.6 Z"/><path d="M863.4,580.1 l3.3,5.8 h-6.6 Z"/><path d="M862.9,580 l3.3,5.8 h-6.6 Z"/><path d="M862.3,579.9 l3.3,5.8 h-6.6 Z"/><path d="M861.7,579.7 l3.3,5.8 h-6.6 Z"/><path d="M861.1,579.5 l3.3,5.8 h-6.6 Z"/><path d="M860.5,579.7 l3.3,5.8 h-6.6 Z"/><path d="M860,580 l3.3,5.8 h-6.6 Z"/><path d="M859.4,580 l3.3,5.8 h-6.6 Z"/><path d="M858.8,580.2 l3.3,5.8 h-6.6 Z"/><path d="M858.2,580.2 l3.3,5.8 h-6.6 Z"/><path d="M857.6,580.1 l3.3,5.8 h-6.6 Z"/><path d="M857.1,579.7 l3.3,5.8 h-6.6 Z"/><path d="M856.5,580 l3.3,5.8 h-6.6 Z"/><path d="M855.9,580 l3.3,5.8 h-6.6 Z"/><path d="M855.3,579.7 l3.3,5.8 h-6.6 Z"/><path d="M854.7,580.1 l3.3,5.8 h-6.6 Z"/><path d="M854.2,579.6 l3.3,5.8 h-6.6 Z"/><path d="M853.6,580.2 l3.3,5.8 h-6.6 Z"/><path d="M853,579.5 l3.3,5.8 h-6.6 Z"/><path d="M852.4,579.9 l3.3,5.8 h-6.6 Z"/><path d="M851.8,580 l3.3,5.8 h-6.6 Z"/><path d="M851.3,579.3 l3.3,5.8 h-6.6 Z"/><path d="M850.7,579.6 l3.3,5.8 h-6.6 Z"/><path d="M850.1,580.2 l3.3,5.8 h-6.6 Z"/><path d="M849.5,580 l3.3,5.8 h-6.6 Z"/><path d="M848.9,580.2 l3.3,5.8 h-6.6 Z"/><path d="M848.4,580.1 l3.3,5.8 h-6.6 Z"/><path d="M847.8,579.9 l3.3,5.8 h-6.6 Z"/><path d="M847.2,579.9 l3.3,5.8 h-6.6 Z"/><path d="M846.6,580.1 l3.3,5.8 h-6.6 Z"/><path d="M846,579.9 l3.3,5.8 h-6.6 Z"/><path d="M845.5,579.6 l3.3,5.8 h-6.6 Z"/><path d="M844.9,580 l3.3,5.8 h-6.6 Z"/><path d="M844.3,579.9 l3.3,5.8 h-6.6 Z"/><path d="M843.7,580 l3.3,5.8 h-6.6 Z"/><path d="M843.1,580.2 l3.3,5.8 h-6.6 Z"/><path d="M842.6,579.7 l3.3,5.8 h-6.6 Z"/><path d="M842,580 l3.3,5.8 h-6.6 Z"/><path d="M841.4,579.8 l3.3,5.8 h-6.6 Z"/><path d="M840.8,579.8 l3.3,5.8 h-6.6 Z"/><path d="M840.2,580 l3.3,5.8 h-6.6 Z"/><path d="M839.6,579.5 l3.3,5.8 h-6.6 Z"/><path d="M839.1,579.6 l3.3,5.8 h-6.6 Z"/><path d="M838.5,580 l3.3,5.8 h-6.6 Z"/><path d="M837.9,579.3 l3.3,5.8 h-6.6 Z"/><path d="M837.3,579.8 l3.3,5.8 h-6.6 Z"/><path d="M836.7,579.5 l3.3,5.8 h-6.6 Z"/><path d="M836.2,579.3 l3.3,5.8 h-6.6 Z"/><path d="M835.6,580.1 l3.3,5.8 h-6.6 Z"/><path d="M835,579.6 l3.3,5.8 h-6.6 Z"/><path d="M834.4,579.8 l3.3,5.8 h-6.6 Z"/><path d="M833.8,580 l3.3,5.8 h-6.6 Z"/><path d="M833.3,580.1 l3.3,5.8 h-6.6 Z"/><path d="M832.7,580.2 l3.3,5.8 h-6.6 Z"/><path d="M832.1,579.8 l3.3,5.8 h-6.6 Z"/><path d="M831.5,580 l3.3,5.8 h-6.6 Z"/><path d="M830.9,580.2 l3.3,5.8 h-6.6 Z"/><path d="M830.4,579.7 l3.3,5.8 h-6.6 Z"/><path d="M829.8,580.2 l3.3,5.8 h-6.6 Z"/><path d="M829.2,580.2 l3.3,5.8 h-6.6 Z"/><path d="M828.6,579.7 l3.3,5.8 h-6.6 Z"/><path d="M828,579.7 l3.3,5.8 h-6.6 Z"/><path d="M827.5,579.4 l3.3,5.8 h-6.6 Z"/><path d="M826.9,579.9 l3.3,5.8 h-6.6 Z"/><path d="M826.3,579.8 l3.3,5.8 h-6.6 Z"/><path d="M825.7,580.1 l3.3,5.8 h-6.6 Z"/><path d="M825.1,580 l3.3,5.8 h-6.6 Z"/><path d="M824.6,580 l3.3,5.8 h-6.6 Z"/><path d="M824,579.8 l3.3,5.8 h-6.6 Z"/><path d="M823.4,579.7 l3.3,5.8 h-6.6 Z"/><path d="M822.8,580.1 l3.3,5.8 h-6.6 Z"/><path d="M822.2,580 l3.3,5.8 h-6.6 Z"/><path d="M821.7,579.8 l3.3,5.8 h-6.6 Z"/><path d="M821.1,580 l3.3,5.8 h-6.6 Z"/><path d="M820.5,580.1 l3.3,5.8 h-6.6 Z"/><path d="M819.9,580 l3.3,5.8 h-6.6 Z"/><path d="M819.3,579.7 l3.3,5.8 h-6.6 Z"/><path d="M818.8,579.9 l3.3,5.8 h-6.6 Z"/><path d="M818.2,580.1 l3.3,5.8 h-6.6 Z"/><path d="M817.6,579.4 l3.3,5.8 h-6.6 Z"/><path d="M817,579.9 l3.3,5.8 h-6.6 Z"/><path d="M816.4,580 l3.3,5.8 h-6.6 Z"/><path d="M815.9,579.9 l3.3,5.8 h-6.6 Z"/><path d="M815.3,580.2 l3.3,5.8 h-6.6 Z"/><path d="M814.7,580.1 l3.3,5.8 h-6.6 Z"/><path d="M814.1,579.8 l3.3,5.8 h-6.6 Z"/><path d="M813.5,579.9 l3.3,5.8 h-6.6 Z"/><path d="M813,580.2 l3.3,5.8 h-6.6 Z"/><path d="M812.4,580 l3.3,5.8 h-6.6 Z"/><path d="M811.8,580 l3.3,5.8 h-6.6 Z"/><path d="M811.2,580.1 l3.3,5.8 h-6.6 Z"/><path d="M810.6,579.3 l3.3,5.8 h-6.6 Z"/><path d="M810.1,580.1 l3.3,5.8 h-6.6 Z"/><path d="M809.5,579.7 l3.3,5.8 h-6.6 Z"/><path d="M808.9,579.8 l3.3,5.8 h-6.6 Z"/><path d="M808.3,579.1 l3.3,5.8 h-6.6 Z"/><path d="M807.7,579.8 l3.3,5.8 h-6.6 Z"/><path d="M807.2,580 l3.3,5.8 h-6.6 Z"/><path d="M806.6,580.1 l3.3,5.8 h-6.6 Z"/><path d="M806,580 l3.3,5.8 h-6.6 Z"/><path d="M805.4,580 l3.3,5.8 h-6.6 Z"/><path d="M804.8,579.1 l3.3,5.8 h-6.6 Z"/><path d="M804.3,579.2 l3.3,5.8 h-6.6 Z"/><path d="M803.7,580.1 l3.3,5.8 h-6.6 Z"/><path d="M803.1,580 l3.3,5.8 h-6.6 Z"/><path d="M802.5,579.8 l3.3,5.8 h-6.6 Z"/><path d="M801.9,580 l3.3,5.8 h-6.6 Z"/><path d="M801.3,579.8 l3.3,5.8 h-6.6 Z"/><path d="M800.8,580 l3.3,5.8 h-6.6 Z"/><path d="M800.2,579.9 l3.3,5.8 h-6.6 Z"/><path d="M799.6,579.9 l3.3,5.8 h-6.6 Z"/><path d="M799,579.5 l3.3,5.8 h-6.6 Z"/><path d="M798.4,579.8 l3.3,5.8 h-6.6 Z"/><path d="M797.9,580.1 l3.3,5.8 h-6.6 Z"/><path d="M797.3,580.2 l3.3,5.8 h-6.6 Z"/><path d="M796.7,580 l3.3,5.8 h-6.6 Z"/><path d="M796.1,580 l3.3,5.8 h-6.6 Z"/><path d="M795.5,580.2 l3.3,5.8 h-6.6 Z"/><path d="M795,579.8 l3.3,5.8 h-6.6 Z"/><path d="M794.4,579.5 l3.3,5.8 h-6.6 Z"/><path d="M793.8,580.1 l3.3,5.8 h-6.6 Z"/><path d="M793.2,580.2 l3.3,5.8 h-6.6 Z"/><path d="M792.6,580 l3.3,5.8 h-6.6 Z"/><path d="M792.1,579.8 l3.3,5.8 h-6.6 Z"/><path d="M791.5,580 l3.3,5.8 h-6.6 Z"/><path d="M790.9,580 l3.3,5.8 h-6.6 Z"/><path d="M790.3,579.4 l3.3,5.8 h-6.6 Z"/><path d="M789.7,579.6 l3.3,5.8 h-6.6 Z"/><path d="M789.2,579.9 l3.3,5.8 h-6.6 Z"/><path d="M788.6,579.9 l3.3,5.8 h-6.6 Z"/><path d="M788,580.2 l3.3,5.8 h-6.6 Z"/><path d="M787.4,580.1 l3.3,5.8 h-6.6 Z"/><path d="M786.8,579.7 l3.3,5.8 h-6.6 Z"/><path d="M786.3,580.2 l3.3,5.8 h-6.6 Z"/><path d="M785.7,580.1 l3.3,5.8 h-6.6 Z"/><path d="M785.1,580.2 l3.3,5.8 h-6.6 Z"/><path d="M784.5,579.6 l3.3,5.8 h-6.6 Z"/><path d="M783.9,580.2 l3.3,5.8 h-6.6 Z"/><path d="M783.4,580.1 l3.3,5.8 h-6.6 Z"/><path d="M782.8,580 l3.3,5.8 h-6.6 Z"/><path d="M782.2,580.1 l3.3,5.8 h-6.6 Z"/><path d="M781.6,580 l3.3,5.8 h-6.6 Z"/><path d="M781,579.4 l3.3,5.8 h-6.6 Z"/><path d="M780.5,580.1 l3.3,5.8 h-6.6 Z"/><path d="M779.9,579.6 l3.3,5.8 h-6.6 Z"/><path d="M779.3,580.1 l3.3,5.8 h-6.6 Z"/><path d="M778.7,579.3 l3.3,5.8 h-6.6 Z"/><path d="M778.1,579.6 l3.3,5.8 h-6.6 Z"/><path d="M777.6,579.9 l3.3,5.8 h-6.6 Z"/><path d="M777,579.5 l3.3,5.8 h-6.6 Z"/><path d="M776.4,579.7 l3.3,5.8 h-6.6 Z"/><path d="M775.8,580.2 l3.3,5.8 h-6.6 Z"/><path d="M775.2,579.8 l3.3,5.8 h-6.6 Z"/><path d="M774.7,579.7 l3.3,5.8 h-6.6 Z"/><path d="M774.1,579.7 l3.3,5.8 h-6.6 Z"/><path d="M773.5,580.2 l3.3,5.8 h-6.6 Z"/><path d="M772.9,580 l3.3,5.8 h-6.6 Z"/><path d="M772.3,579.9 l3.3,5.8 h-6.6 Z"/><path d="M771.8,580.1 l3.3,5.8 h-6.6 Z"/><path d="M771.2,580.1 l3.3,5.8 h-6.6 Z"/><path d="M770.6,579.9 l3.3,5.8 h-6.6 Z"/><path d="M770,580.1 l3.3,5.8 h-6.6 Z"/><path d="M769.4,580.1 l3.3,5.8 h-6.6 Z"/><path d="M768.9,580.2 l3.3,5.8 h-6.6 Z"/><path d="M768.3,580.1 l3.3,5.8 h-6.6 Z"/><path d="M767.7,580.2 l3.3,5.8 h-6.6 Z"/><path d="M767.1,580 l3.3,5.8 h-6.6 Z"/><path d="M766.5,579.7 l3.3,5.8 h-6.6 Z"/><path d="M765.9,580 l3.3,5.8 h-6.6 Z"/><path d="M765.4,580.2 l3.3,5.8 h-6.6 Z"/><path d="M764.8,580.1 l3.3,5.8 h-6.6 Z"/><path d="M764.2,580.1 l3.3,5.8 h-6.6 Z"/><path d="M763.6,579.9 l3.3,5.8 h-6.6 Z"/><path d="M763,580 l3.3,5.8 h-6.6 Z"/><path d="M762.5,579.8 l3.3,5.8 h-6.6 Z"/><path d="M761.9,579.6 l3.3,5.8 h-6.6 Z"/><path d="M761.3,580 l3.3,5.8 h-6.6 Z"/><path d="M760.7,579.9 l3.3,5.8 h-6.6 Z"/><path d="M760.1,579.9 l3.3,5.8 h-6.6 Z"/><path d="M759.2,580.2 l3.3,5.8 h-6.6 Z"/><path d="M761.2,579.9 l3.3,5.8 h-6.6 Z"/><path d="M760.5,579.9 l3.3,5.8 h-6.6 Z"/><path d="M760.6,580.1 l3.3,5.8 h-6.6 Z"/><path d="M761.8,580.2 l3.3,5.8 h-6.6 Z"/><path d="M761.2,580 l3.3,5.8 h-6.6 Z"/><path d="M762.1,579.5 l3.3,5.8 h-6.6 Z"/><path d="M759.7,579.9 l3.3,5.8 h-6.6 Z"/><path d="M761.6,579.2 l3.3,5.8 h-6.6 Z"/><path d="M762.1,579 l3.3,5.8 h-6.6 Z"/><path d="M761.2,580 l3.3,5.8 h-6.6 Z"/><path d="M762.9,579.7 l3.3,5.8 h-6.6 Z"/><path d="M764.4,579.7 l3.3,5.8 h-6.6 Z"/><path d="M762,580.2 l3.3,5.8 h-6.6 Z"/><path d="M762.1,579.6 l3.3,5.8 h-6.6 Z"/><path d="M764.5,580 l3.3,5.8 h-6.6 Z"/><path d="M762.2,580.2 l3.3,5.8 h-6.6 Z"/><path d="M764.5,580.1 l3.3,5.8 h-6.6 Z"/><path d="M764,580.1 l3.3,5.8 h-6.6 Z"/><path d="M764.6,579.6 l3.3,5.8 h-6.6 Z"/><path d="M763.4,579.6 l3.3,5.8 h-6.6 Z"/><path d="M764.4,579.8 l3.3,5.8 h-6.6 Z"/><path d="M763.9,579.7 l3.3,5.8 h-6.6 Z"/><path d="M765.9,580.1 l3.3,5.8 h-6.6 Z"/><path d="M765.5,579.3 l3.3,5.8 h-6.6 Z"/><path d="M766.4,578.9 l3.3,5.8 h-6.6 Z"/><path d="M763.6,579 l3.3,5.8 h-6.6 Z"/><path d="M767.1,580 l3.3,5.8 h-6.6 Z"/><path d="M764.3,580 l3.3,5.8 h-6.6 Z"/><path d="M766.6,579.3 l3.3,5.8 h-6.6 Z"/><path d="M766.6,579.6 l3.3,5.8 h-6.6 Z"/><path d="M766.9,579.8 l3.3,5.8 h-6.6 Z"/><path d="M767.6,580 l3.3,5.8 h-6.6 Z"/><path d="M767,580 l3.3,5.8 h-6.6 Z"/><path d="M767.5,577.8 l3.3,5.8 h-6.6 Z"/><path d="M768.6,579.7 l3.3,5.8 h-6.6 Z"/><path d="M765.5,579.5 l3.3,5.8 h-6.6 Z"/><path d="M767.3,579.2 l3.3,5.8 h-6.6 Z"/><path d="M766.1,579.7 l3.3,5.8 h-6.6 Z"/><path d="M766.8,580.2 l3.3,5.8 h-6.6 Z"/><path d="M769.6,579.3 l3.3,5.8 h-6.6 Z"/><path d="M770,580 l3.3,5.8 h-6.6 Z"/><path d="M767.3,579.8 l3.3,5.8 h-6.6 Z"/><path d="M769.5,580.1 l3.3,5.8 h-6.6 Z"/><path d="M769.9,579.9 l3.3,5.8 h-6.6 Z"/><path d="M769.9,579.9 l3.3,5.8 h-6.6 Z"/><path d="M769.2,580.1 l3.3,5.8 h-6.6 Z"/><path d="M769.4,580.1 l3.3,5.8 h-6.6 Z"/><path d="M768.8,580.1 l3.3,5.8 h-6.6 Z"/><path d="M769.2,579.9 l3.3,5.8 h-6.6 Z"/><path d="M769.4,579.8 l3.3,5.8 h-6.6 Z"/><path d="M770.1,579.4 l3.3,5.8 h-6.6 Z"/><path d="M772.9,580.1 l3.3,5.8 h-6.6 Z"/><path d="M770.8,579.8 l3.3,5.8 h-6.6 Z"/><path d="M769.4,579.1 l3.3,5.8 h-6.6 Z"/><path d="M770.6,578.6 l3.3,5.8 h-6.6 Z"/><path d="M771.5,579.4 l3.3,5.8 h-6.6 Z"/><path d="M771.3,580.2 l3.3,5.8 h-6.6 Z"/><path d="M771.8,580 l3.3,5.8 h-6.6 Z"/><path d="M769,578.8 l3.3,5.8 h-6.6 Z"/><path d="M770.2,579.7 l3.3,5.8 h-6.6 Z"/><path d="M770.3,579.6 l3.3,5.8 h-6.6 Z"/><path d="M773.2,579.7 l3.3,5.8 h-6.6 Z"/><path d="M770.9,579.2 l3.3,5.8 h-6.6 Z"/><path d="M772.4,580.1 l3.3,5.8 h-6.6 Z"/><path d="M772.8,579.6 l3.3,5.8 h-6.6 Z"/><path d="M772.4,580 l3.3,5.8 h-6.6 Z"/><path d="M773.1,579.8 l3.3,5.8 h-6.6 Z"/><path d="M774.3,580 l3.3,5.8 h-6.6 Z"/><path d="M775.6,579.9 l3.3,5.8 h-6.6 Z"/><path d="M775.1,579.3 l3.3,5.8 h-6.6 Z"/><path d="M776.1,579.9 l3.3,5.8 h-6.6 Z"/><path d="M775,579.9 l3.3,5.8 h-6.6 Z"/><path d="M776.8,579.7 l3.3,5.8 h-6.6 Z"/><path d="M775.3,579.8 l3.3,5.8 h-6.6 Z"/><path d="M774.6,580.1 l3.3,5.8 h-6.6 Z"/><path d="M772.2,580.1 l3.3,5.8 h-6.6 Z"/><path d="M774.9,579.3 l3.3,5.8 h-6.6 Z"/><path d="M775.8,580.1 l3.3,5.8 h-6.6 Z"/><path d="M775.9,578.6 l3.3,5.8 h-6.6 Z"/><path d="M774.7,579.5 l3.3,5.8 h-6.6 Z"/><path d="M774.8,580.2 l3.3,5.8 h-6.6 Z"/><path d="M776.5,579.8 l3.3,5.8 h-6.6 Z"/><path d="M775.1,578.1 l3.3,5.8 h-6.6 Z"/><path d="M776.8,579.5 l3.3,5.8 h-6.6 Z"/><path d="M776,580.1 l3.3,5.8 h-6.6 Z"/><path d="M777.6,578.5 l3.3,5.8 h-6.6 Z"/><path d="M777.1,579.9 l3.3,5.8 h-6.6 Z"/><path d="M778.5,579.5 l3.3,5.8 h-6.6 Z"/><path d="M776.2,579.5 l3.3,5.8 h-6.6 Z"/><path d="M777.2,579.4 l3.3,5.8 h-6.6 Z"/><path d="M776.7,580.1 l3.3,5.8 h-6.6 Z"/><path d="M780.1,577.5 l3.3,5.8 h-6.6 Z"/><path d="M776.5,580.2 l3.3,5.8 h-6.6 Z"/><path d="M777.5,579.7 l3.3,5.8 h-6.6 Z"/><path d="M780,579.8 l3.3,5.8 h-6.6 Z"/><path d="M777.6,579.6 l3.3,5.8 h-6.6 Z"/><path d="M778.8,580.1 l3.3,5.8 h-6.6 Z"/><path d="M779.7,578.5 l3.3,5.8 h-6.6 Z"/><path d="M778.7,580.1 l3.3,5.8 h-6.6 Z"/><path d="M780.6,578 l3.3,5.8 h-6.6 Z"/><path d="M777.2,579.5 l3.3,5.8 h-6.6 Z"/><path d="M781.1,579.6 l3.3,5.8 h-6.6 Z"/><path d="M781.3,578.4 l3.3,5.8 h-6.6 Z"/><path d="M779,578.3 l3.3,5.8 h-6.6 Z"/><path d="M779.6,578.6 l3.3,5.8 h-6.6 Z"/><path d="M781.3,578.2 l3.3,5.8 h-6.6 Z"/><path d="M784,578 l3.3,5.8 h-6.6 Z"/><path d="M780.8,578.1 l3.3,5.8 h-6.6 Z"/><path d="M781.1,577.9 l3.3,5.8 h-6.6 Z"/><path d="M782.6,578.2 l3.3,5.8 h-6.6 Z"/><path d="M782.3,578.1 l3.3,5.8 h-6.6 Z"/><path d="M782.7,576.6 l3.3,5.8 h-6.6 Z"/><path d="M781,578.3 l3.3,5.8 h-6.6 Z"/><path d="M781.5,579.6 l3.3,5.8 h-6.6 Z"/><path d="M781.8,580 l3.3,5.8 h-6.6 Z"/><path d="M781.1,576.5 l3.3,5.8 h-6.6 Z"/><path d="M782,578.5 l3.3,5.8 h-6.6 Z"/><path d="M782.1,578.6 l3.3,5.8 h-6.6 Z"/><path d="M784.8,577.6 l3.3,5.8 h-6.6 Z"/><path d="M783,579.9 l3.3,5.8 h-6.6 Z"/><path d="M784.6,575.7 l3.3,5.8 h-6.6 Z"/><path d="M784.7,576.4 l3.3,5.8 h-6.6 Z"/><path d="M783.1,578.1 l3.3,5.8 h-6.6 Z"/><path d="M783.6,578 l3.3,5.8 h-6.6 Z"/><path d="M782.7,577.4 l3.3,5.8 h-6.6 Z"/><path d="M784.6,579.7 l3.3,5.8 h-6.6 Z"/><path d="M784.8,576.1 l3.3,5.8 h-6.6 Z"/><path d="M786.7,576.9 l3.3,5.8 h-6.6 Z"/><path d="M783.9,575.6 l3.3,5.8 h-6.6 Z"/><path d="M786.8,578 l3.3,5.8 h-6.6 Z"/><path d="M786.2,577.1 l3.3,5.8 h-6.6 Z"/><path d="M784.3,576.7 l3.3,5.8 h-6.6 Z"/><path d="M785.3,574.8 l3.3,5.8 h-6.6 Z"/><path d="M784,576.9 l3.3,5.8 h-6.6 Z"/><path d="M784.6,579.7 l3.3,5.8 h-6.6 Z"/><path d="M784.3,576.3 l3.3,5.8 h-6.6 Z"/><path d="M785.8,577.4 l3.3,5.8 h-6.6 Z"/><path d="M786.1,573.2 l3.3,5.8 h-6.6 Z"/><path d="M788.6,574.5 l3.3,5.8 h-6.6 Z"/><path d="M785.9,578.8 l3.3,5.8 h-6.6 Z"/><path d="M786.1,577.2 l3.3,5.8 h-6.6 Z"/><path d="M787.3,578.8 l3.3,5.8 h-6.6 Z"/><path d="M786.8,578.7 l3.3,5.8 h-6.6 Z"/><path d="M788.1,576.6 l3.3,5.8 h-6.6 Z"/><path d="M788.2,573.2 l3.3,5.8 h-6.6 Z"/><path d="M788.3,573.4 l3.3,5.8 h-6.6 Z"/><path d="M788,577.2 l3.3,5.8 h-6.6 Z"/><path d="M788.4,574.5 l3.3,5.8 h-6.6 Z"/><path d="M790.3,574.9 l3.3,5.8 h-6.6 Z"/><path d="M788.8,574.7 l3.3,5.8 h-6.6 Z"/><path d="M788.1,574 l3.3,5.8 h-6.6 Z"/><path d="M787.5,574.6 l3.3,5.8 h-6.6 Z"/><path d="M792.1,571.4 l3.3,5.8 h-6.6 Z"/><path d="M788.8,568.9 l3.3,5.8 h-6.6 Z"/><path d="M789.5,574.7 l3.3,5.8 h-6.6 Z"/><path d="M790.9,574.1 l3.3,5.8 h-6.6 Z"/><path d="M791.1,576.1 l3.3,5.8 h-6.6 Z"/><path d="M791.7,577.5 l3.3,5.8 h-6.6 Z"/><path d="M791.4,574.5 l3.3,5.8 h-6.6 Z"/><path d="M787.9,571.3 l3.3,5.8 h-6.6 Z"/><path d="M793.1,572.2 l3.3,5.8 h-6.6 Z"/><path d="M790.5,572 l3.3,5.8 h-6.6 Z"/><path d="M788.7,572.5 l3.3,5.8 h-6.6 Z"/><path d="M791.1,572.9 l3.3,5.8 h-6.6 Z"/><path d="M792.2,572.3 l3.3,5.8 h-6.6 Z"/><path d="M791.5,571.1 l3.3,5.8 h-6.6 Z"/><path d="M792.3,570.9 l3.3,5.8 h-6.6 Z"/><path d="M792.1,566.9 l3.3,5.8 h-6.6 Z"/><path d="M789.1,575.3 l3.3,5.8 h-6.6 Z"/><path d="M792.5,567.5 l3.3,5.8 h-6.6 Z"/><path d="M793.9,570.7 l3.3,5.8 h-6.6 Z"/><path d="M793,573.8 l3.3,5.8 h-6.6 Z"/><path d="M794.6,572.2 l3.3,5.8 h-6.6 Z"/><path d="M793.1,570.2 l3.3,5.8 h-6.6 Z"/><path d="M795.3,569.6 l3.3,5.8 h-6.6 Z"/><path d="M793.3,567.9 l3.3,5.8 h-6.6 Z"/><path d="M792.4,566.8 l3.3,5.8 h-6.6 Z"/><path d="M793.7,567.6 l3.3,5.8 h-6.6 Z"/><path d="M796.3,566.4 l3.3,5.8 h-6.6 Z"/><path d="M797.2,565.1 l3.3,5.8 h-6.6 Z"/><path d="M794.5,566.1 l3.3,5.8 h-6.6 Z"/><path d="M795,565.5 l3.3,5.8 h-6.6 Z"/><path d="M797.5,567.5 l3.3,5.8 h-6.6 Z"/><path d="M796.2,566 l3.3,5.8 h-6.6 Z"/><path d="M797.2,565.4 l3.3,5.8 h-6.6 Z"/><path d="M796.9,567.5 l3.3,5.8 h-6.6 Z"/><path d="M795.3,560.1 l3.3,5.8 h-6.6 Z"/><path d="M795.9,564 l3.3,5.8 h-6.6 Z"/><path d="M798.4,570.6 l3.3,5.8 h-6.6 Z"/><path d="M797.1,566.1 l3.3,5.8 h-6.6 Z"/><path d="M795.9,568.3 l3.3,5.8 h-6.6 Z"/><path d="M796.8,559.6 l3.3,5.8 h-6.6 Z"/><path d="M796.5,561.5 l3.3,5.8 h-6.6 Z"/><path d="M796.9,561.8 l3.3,5.8 h-6.6 Z"/><path d="M799.4,558.8 l3.3,5.8 h-6.6 Z"/><path d="M796.9,560.2 l3.3,5.8 h-6.6 Z"/><path d="M798.6,550.1 l3.3,5.8 h-6.6 Z"/><path d="M797.8,559.6 l3.3,5.8 h-6.6 Z"/><path d="M799.9,559.4 l3.3,5.8 h-6.6 Z"/><path d="M799.1,557.5 l3.3,5.8 h-6.6 Z"/><path d="M800,557 l3.3,5.8 h-6.6 Z"/><path d="M799.2,554.4 l3.3,5.8 h-6.6 Z"/><path d="M799.1,559.5 l3.3,5.8 h-6.6 Z"/><path d="M800.8,553.8 l3.3,5.8 h-6.6 Z"/><path d="M797.9,549.2 l3.3,5.8 h-6.6 Z"/><path d="M799.1,553.7 l3.3,5.8 h-6.6 Z"/><path d="M802.3,553.4 l3.3,5.8 h-6.6 Z"/><path d="M798.7,549.9 l3.3,5.8 h-6.6 Z"/><path d="M798.5,545.4 l3.3,5.8 h-6.6 Z"/><path d="M800.7,551.6 l3.3,5.8 h-6.6 Z"/><path d="M799.9,553.1 l3.3,5.8 h-6.6 Z"/><path d="M801.2,543.9 l3.3,5.8 h-6.6 Z"/><path d="M800.4,547.3 l3.3,5.8 h-6.6 Z"/><path d="M802.8,549.9 l3.3,5.8 h-6.6 Z"/><path d="M799.7,546 l3.3,5.8 h-6.6 Z"/><path d="M802.6,540.7 l3.3,5.8 h-6.6 Z"/><path d="M802.8,544.5 l3.3,5.8 h-6.6 Z"/><path d="M801.7,540.3 l3.3,5.8 h-6.6 Z"/><path d="M802.4,543.1 l3.3,5.8 h-6.6 Z"/><path d="M801.4,548.7 l3.3,5.8 h-6.6 Z"/><path d="M803.6,542.3 l3.3,5.8 h-6.6 Z"/><path d="M802.5,544.8 l3.3,5.8 h-6.6 Z"/><path d="M803.3,535.1 l3.3,5.8 h-6.6 Z"/><path d="M802,535.5 l3.3,5.8 h-6.6 Z"/><path d="M802.5,533.1 l3.3,5.8 h-6.6 Z"/><path d="M802.6,542.9 l3.3,5.8 h-6.6 Z"/><path d="M803.9,535.4 l3.3,5.8 h-6.6 Z"/><path d="M806.3,535.1 l3.3,5.8 h-6.6 Z"/><path d="M804,540.4 l3.3,5.8 h-6.6 Z"/><path d="M805.4,536.2 l3.3,5.8 h-6.6 Z"/><path d="M804.9,538.7 l3.3,5.8 h-6.6 Z"/><path d="M805.9,532.1 l3.3,5.8 h-6.6 Z"/><path d="M805.7,537 l3.3,5.8 h-6.6 Z"/><path d="M807.1,530.5 l3.3,5.8 h-6.6 Z"/><path d="M806.3,542.1 l3.3,5.8 h-6.6 Z"/><path d="M805.7,535.3 l3.3,5.8 h-6.6 Z"/><path d="M806.5,525.9 l3.3,5.8 h-6.6 Z"/><path d="M804.5,525.9 l3.3,5.8 h-6.6 Z"/><path d="M807.4,536.8 l3.3,5.8 h-6.6 Z"/><path d="M808,527.2 l3.3,5.8 h-6.6 Z"/><path d="M807,521.5 l3.3,5.8 h-6.6 Z"/><path d="M806.9,525 l3.3,5.8 h-6.6 Z"/><path d="M807.6,519.7 l3.3,5.8 h-6.6 Z"/><path d="M806.7,521.6 l3.3,5.8 h-6.6 Z"/><path d="M809.6,519.2 l3.3,5.8 h-6.6 Z"/><path d="M807,506.1 l3.3,5.8 h-6.6 Z"/><path d="M808.1,512.8 l3.3,5.8 h-6.6 Z"/><path d="M806.3,524.5 l3.3,5.8 h-6.6 Z"/><path d="M808.7,510.8 l3.3,5.8 h-6.6 Z"/><path d="M808.4,509.7 l3.3,5.8 h-6.6 Z"/><path d="M808.9,502 l3.3,5.8 h-6.6 Z"/><path d="M808.7,524.4 l3.3,5.8 h-6.6 Z"/><path d="M810.7,518.3 l3.3,5.8 h-6.6 Z"/><path d="M810.4,506.8 l3.3,5.8 h-6.6 Z"/><path d="M810,514.9 l3.3,5.8 h-6.6 Z"/><path d="M811.1,509 l3.3,5.8 h-6.6 Z"/><path d="M810.3,510.9 l3.3,5.8 h-6.6 Z"/><path d="M811.4,515.9 l3.3,5.8 h-6.6 Z"/><path d="M811.5,513 l3.3,5.8 h-6.6 Z"/><path d="M810.2,498.1 l3.3,5.8 h-6.6 Z"/><path d="M810.8,504.2 l3.3,5.8 h-6.6 Z"/><path d="M810.8,488.1 l3.3,5.8 h-6.6 Z"/><path d="M809,505.7 l3.3,5.8 h-6.6 Z"/><path d="M810.2,493 l3.3,5.8 h-6.6 Z"/><path d="M813.6,499.3 l3.3,5.8 h-6.6 Z"/><path d="M813,494.3 l3.3,5.8 h-6.6 Z"/><path d="M811.8,494.2 l3.3,5.8 h-6.6 Z"/><path d="M813.3,483 l3.3,5.8 h-6.6 Z"/><path d="M813.2,496.5 l3.3,5.8 h-6.6 Z"/><path d="M810.6,492.1 l3.3,5.8 h-6.6 Z"/><path d="M813.3,486.6 l3.3,5.8 h-6.6 Z"/><path d="M810.6,478.1 l3.3,5.8 h-6.6 Z"/><path d="M811.9,486.3 l3.3,5.8 h-6.6 Z"/><path d="M812.6,484 l3.3,5.8 h-6.6 Z"/><path d="M813.3,490.1 l3.3,5.8 h-6.6 Z"/><path d="M812.4,478.2 l3.3,5.8 h-6.6 Z"/><path d="M814.4,489.2 l3.3,5.8 h-6.6 Z"/><path d="M814.6,486.4 l3.3,5.8 h-6.6 Z"/><path d="M814.8,477.4 l3.3,5.8 h-6.6 Z"/><path d="M812,473.4 l3.3,5.8 h-6.6 Z"/><path d="M814.7,488.6 l3.3,5.8 h-6.6 Z"/><path d="M814.1,466.8 l3.3,5.8 h-6.6 Z"/><path d="M814.6,484.1 l3.3,5.8 h-6.6 Z"/><path d="M816,479.4 l3.3,5.8 h-6.6 Z"/><path d="M815.2,473.2 l3.3,5.8 h-6.6 Z"/><path d="M814.7,475.4 l3.3,5.8 h-6.6 Z"/><path d="M816.4,469.1 l3.3,5.8 h-6.6 Z"/><path d="M816,474.4 l3.3,5.8 h-6.6 Z"/><path d="M816.8,461.5 l3.3,5.8 h-6.6 Z"/><path d="M815.8,462 l3.3,5.8 h-6.6 Z"/><path d="M820.1,466.2 l3.3,5.8 h-6.6 Z"/><path d="M815.1,463.6 l3.3,5.8 h-6.6 Z"/><path d="M816.6,464.1 l3.3,5.8 h-6.6 Z"/><path d="M817.4,466.2 l3.3,5.8 h-6.6 Z"/><path d="M815.7,448 l3.3,5.8 h-6.6 Z"/><path d="M819.6,460.8 l3.3,5.8 h-6.6 Z"/><path d="M816.6,474.6 l3.3,5.8 h-6.6 Z"/><path d="M819.4,455.6 l3.3,5.8 h-6.6 Z"/><path d="M817,448.5 l3.3,5.8 h-6.6 Z"/><path d="M817,458.1 l3.3,5.8 h-6.6 Z"/><path d="M820.7,445.2 l3.3,5.8 h-6.6 Z"/><path d="M819.1,451.8 l3.3,5.8 h-6.6 Z"/><path d="M819,464 l3.3,5.8 h-6.6 Z"/><path d="M819,457.9 l3.3,5.8 h-6.6 Z"/><path d="M818.2,435.7 l3.3,5.8 h-6.6 Z"/><path d="M817.8,444.3 l3.3,5.8 h-6.6 Z"/><path d="M818.4,435.7 l3.3,5.8 h-6.6 Z"/><path d="M818.9,446.4 l3.3,5.8 h-6.6 Z"/><path d="M820.5,446.2 l3.3,5.8 h-6.6 Z"/><path d="M818.9,427.1 l3.3,5.8 h-6.6 Z"/><path d="M821,447.6 l3.3,5.8 h-6.6 Z"/><path d="M819,444.2 l3.3,5.8 h-6.6 Z"/><path d="M821.5,447.4 l3.3,5.8 h-6.6 Z"/><path d="M819.3,437.5 l3.3,5.8 h-6.6 Z"/><path d="M819.3,436 l3.3,5.8 h-6.6 Z"/><path d="M822.6,408.6 l3.3,5.8 h-6.6 Z"/><path d="M821.5,423.1 l3.3,5.8 h-6.6 Z"/><path d="M823,427.6 l3.3,5.8 h-6.6 Z"/><path d="M822.2,429 l3.3,5.8 h-6.6 Z"/><path d="M821.2,425.8 l3.3,5.8 h-6.6 Z"/><path d="M822.3,426.3 l3.3,5.8 h-6.6 Z"/><path d="M822.1,415.8 l3.3,5.8 h-6.6 Z"/><path d="M822.1,418.2 l3.3,5.8 h-6.6 Z"/><path d="M820.4,407.5 l3.3,5.8 h-6.6 Z"/><path d="M823.8,426.2 l3.3,5.8 h-6.6 Z"/><path d="M823.9,430.3 l3.3,5.8 h-6.6 Z"/><path d="M822.8,408.3 l3.3,5.8 h-6.6 Z"/><path d="M824,420.2 l3.3,5.8 h-6.6 Z"/><path d="M824.7,412.9 l3.3,5.8 h-6.6 Z"/><path d="M825.9,414.3 l3.3,5.8 h-6.6 Z"/><path d="M824.6,401.3 l3.3,5.8 h-6.6 Z"/><path d="M824.5,431.1 l3.3,5.8 h-6.6 Z"/><path d="M824.9,412.2 l3.3,5.8 h-6.6 Z"/><path d="M825.9,393.3 l3.3,5.8 h-6.6 Z"/><path d="M824.3,398.9 l3.3,5.8 h-6.6 Z"/><path d="M822.6,395.6 l3.3,5.8 h-6.6 Z"/><path d="M826.9,392.1 l3.3,5.8 h-6.6 Z"/><path d="M824.6,416.3 l3.3,5.8 h-6.6 Z"/><path d="M825.6,384.1 l3.3,5.8 h-6.6 Z"/><path d="M826.3,426.9 l3.3,5.8 h-6.6 Z"/><path d="M825.7,405 l3.3,5.8 h-6.6 Z"/><path d="M825.3,397.5 l3.3,5.8 h-6.6 Z"/><path d="M826.3,394.9 l3.3,5.8 h-6.6 Z"/><path d="M829.6,408.1 l3.3,5.8 h-6.6 Z"/><path d="M826.3,379.4 l3.3,5.8 h-6.6 Z"/><path d="M825.7,393.4 l3.3,5.8 h-6.6 Z"/><path d="M826.4,418 l3.3,5.8 h-6.6 Z"/><path d="M826.6,389.1 l3.3,5.8 h-6.6 Z"/><path d="M827.6,401.6 l3.3,5.8 h-6.6 Z"/><path d="M825.9,397.7 l3.3,5.8 h-6.6 Z"/><path d="M829.1,395.2 l3.3,5.8 h-6.6 Z"/><path d="M829.3,397.1 l3.3,5.8 h-6.6 Z"/><path d="M829.8,385.3 l3.3,5.8 h-6.6 Z"/><path d="M829.5,371.3 l3.3,5.8 h-6.6 Z"/><path d="M827.7,418.5 l3.3,5.8 h-6.6 Z"/><path d="M829.4,389.7 l3.3,5.8 h-6.6 Z"/><path d="M830.4,383 l3.3,5.8 h-6.6 Z"/><path d="M829.4,399.2 l3.3,5.8 h-6.6 Z"/><path d="M829.7,396.6 l3.3,5.8 h-6.6 Z"/><path d="M828.3,387.6 l3.3,5.8 h-6.6 Z"/><path d="M832.2,382 l3.3,5.8 h-6.6 Z"/><path d="M831.8,388.8 l3.3,5.8 h-6.6 Z"/><path d="M830.6,390.3 l3.3,5.8 h-6.6 Z"/><path d="M830.7,409.7 l3.3,5.8 h-6.6 Z"/><path d="M833.1,385.6 l3.3,5.8 h-6.6 Z"/><path d="M834.7,388.7 l3.3,5.8 h-6.6 Z"/><path d="M830.9,390.1 l3.3,5.8 h-6.6 Z"/><path d="M830.6,392.9 l3.3,5.8 h-6.6 Z"/><path d="M830.9,390.2 l3.3,5.8 h-6.6 Z"/><path d="M828.7,397.4 l3.3,5.8 h-6.6 Z"/><path d="M831.4,387 l3.3,5.8 h-6.6 Z"/><path d="M832.1,390.7 l3.3,5.8 h-6.6 Z"/><path d="M831.6,372.2 l3.3,5.8 h-6.6 Z"/><path d="M830.1,386.5 l3.3,5.8 h-6.6 Z"/><path d="M832.3,397.5 l3.3,5.8 h-6.6 Z"/><path d="M830.3,384.8 l3.3,5.8 h-6.6 Z"/><path d="M831.3,404.3 l3.3,5.8 h-6.6 Z"/><path d="M831.7,384.9 l3.3,5.8 h-6.6 Z"/><path d="M831.7,377.9 l3.3,5.8 h-6.6 Z"/><path d="M833.3,379.3 l3.3,5.8 h-6.6 Z"/><path d="M833.3,385.8 l3.3,5.8 h-6.6 Z"/><path d="M833.8,394.5 l3.3,5.8 h-6.6 Z"/><path d="M834.7,404.2 l3.3,5.8 h-6.6 Z"/><path d="M833.4,404.8 l3.3,5.8 h-6.6 Z"/><path d="M837.1,407.2 l3.3,5.8 h-6.6 Z"/><path d="M836.5,373.9 l3.3,5.8 h-6.6 Z"/><path d="M835.7,390.1 l3.3,5.8 h-6.6 Z"/><path d="M835,391.8 l3.3,5.8 h-6.6 Z"/><path d="M836.6,395.4 l3.3,5.8 h-6.6 Z"/><path d="M834,404.6 l3.3,5.8 h-6.6 Z"/><path d="M835.9,378.4 l3.3,5.8 h-6.6 Z"/><path d="M834.5,403.1 l3.3,5.8 h-6.6 Z"/><path d="M837.6,409.5 l3.3,5.8 h-6.6 Z"/><path d="M835.4,396.1 l3.3,5.8 h-6.6 Z"/><path d="M835.6,387.2 l3.3,5.8 h-6.6 Z"/><path d="M836.5,391.1 l3.3,5.8 h-6.6 Z"/><path d="M834.3,392.2 l3.3,5.8 h-6.6 Z"/><path d="M836.9,396.9 l3.3,5.8 h-6.6 Z"/><path d="M838.3,398.1 l3.3,5.8 h-6.6 Z"/><path d="M836.8,407.3 l3.3,5.8 h-6.6 Z"/><path d="M837.7,399.5 l3.3,5.8 h-6.6 Z"/><path d="M835.5,392.7 l3.3,5.8 h-6.6 Z"/><path d="M838.6,393.7 l3.3,5.8 h-6.6 Z"/><path d="M838.1,387 l3.3,5.8 h-6.6 Z"/><path d="M839.3,404 l3.3,5.8 h-6.6 Z"/><path d="M837.6,405.8 l3.3,5.8 h-6.6 Z"/><path d="M840.1,406.7 l3.3,5.8 h-6.6 Z"/><path d="M840,408.1 l3.3,5.8 h-6.6 Z"/><path d="M840.4,424.2 l3.3,5.8 h-6.6 Z"/><path d="M840.4,403.3 l3.3,5.8 h-6.6 Z"/><path d="M840,411.1 l3.3,5.8 h-6.6 Z"/><path d="M842.1,397.2 l3.3,5.8 h-6.6 Z"/><path d="M839.3,410.2 l3.3,5.8 h-6.6 Z"/><path d="M839.8,410 l3.3,5.8 h-6.6 Z"/><path d="M840.1,404 l3.3,5.8 h-6.6 Z"/><path d="M841.7,411.4 l3.3,5.8 h-6.6 Z"/><path d="M841.7,400.1 l3.3,5.8 h-6.6 Z"/><path d="M841.5,406.5 l3.3,5.8 h-6.6 Z"/><path d="M839.7,399.2 l3.3,5.8 h-6.6 Z"/><path d="M841,433.7 l3.3,5.8 h-6.6 Z"/><path d="M840,417.2 l3.3,5.8 h-6.6 Z"/><path d="M843.6,418 l3.3,5.8 h-6.6 Z"/><path d="M842.3,423.4 l3.3,5.8 h-6.6 Z"/><path d="M840.9,416.1 l3.3,5.8 h-6.6 Z"/><path d="M840.9,413.8 l3.3,5.8 h-6.6 Z"/><path d="M842.4,429.1 l3.3,5.8 h-6.6 Z"/><path d="M844.3,432.8 l3.3,5.8 h-6.6 Z"/><path d="M841.9,437.7 l3.3,5.8 h-6.6 Z"/><path d="M841.6,447.8 l3.3,5.8 h-6.6 Z"/><path d="M839.7,428.8 l3.3,5.8 h-6.6 Z"/><path d="M844.4,435.2 l3.3,5.8 h-6.6 Z"/><path d="M844.4,439.9 l3.3,5.8 h-6.6 Z"/><path d="M846,417.2 l3.3,5.8 h-6.6 Z"/><path d="M844.1,419.8 l3.3,5.8 h-6.6 Z"/><path d="M845.5,442 l3.3,5.8 h-6.6 Z"/><path d="M841.6,425.6 l3.3,5.8 h-6.6 Z"/><path d="M844.9,441.8 l3.3,5.8 h-6.6 Z"/><path d="M844.4,447.7 l3.3,5.8 h-6.6 Z"/><path d="M846.1,439.6 l3.3,5.8 h-6.6 Z"/><path d="M844.2,435.8 l3.3,5.8 h-6.6 Z"/><path d="M845.9,435.2 l3.3,5.8 h-6.6 Z"/><path d="M845.4,445.8 l3.3,5.8 h-6.6 Z"/><path d="M848.2,444.6 l3.3,5.8 h-6.6 Z"/><path d="M847.4,446.7 l3.3,5.8 h-6.6 Z"/><path d="M847.3,434.8 l3.3,5.8 h-6.6 Z"/><path d="M846.4,447.7 l3.3,5.8 h-6.6 Z"/><path d="M845.4,444.3 l3.3,5.8 h-6.6 Z"/><path d="M848.1,446.3 l3.3,5.8 h-6.6 Z"/><path d="M846.2,454.5 l3.3,5.8 h-6.6 Z"/><path d="M847.7,447.3 l3.3,5.8 h-6.6 Z"/><path d="M848.4,440.7 l3.3,5.8 h-6.6 Z"/><path d="M847.4,451.5 l3.3,5.8 h-6.6 Z"/><path d="M847.9,456.9 l3.3,5.8 h-6.6 Z"/><path d="M846.5,459.8 l3.3,5.8 h-6.6 Z"/><path d="M847.2,471.4 l3.3,5.8 h-6.6 Z"/><path d="M848.1,464.3 l3.3,5.8 h-6.6 Z"/><path d="M847.4,459.7 l3.3,5.8 h-6.6 Z"/><path d="M848.2,471 l3.3,5.8 h-6.6 Z"/><path d="M848.9,460.8 l3.3,5.8 h-6.6 Z"/><path d="M850.1,453.6 l3.3,5.8 h-6.6 Z"/><path d="M849.3,455.5 l3.3,5.8 h-6.6 Z"/><path d="M849.4,475.3 l3.3,5.8 h-6.6 Z"/><path d="M852,479.5 l3.3,5.8 h-6.6 Z"/><path d="M851.9,462.6 l3.3,5.8 h-6.6 Z"/><path d="M850.3,467.4 l3.3,5.8 h-6.6 Z"/><path d="M849.2,467.7 l3.3,5.8 h-6.6 Z"/><path d="M851.4,483 l3.3,5.8 h-6.6 Z"/><path d="M850.7,481.5 l3.3,5.8 h-6.6 Z"/><path d="M851.7,483 l3.3,5.8 h-6.6 Z"/><path d="M850.6,470.7 l3.3,5.8 h-6.6 Z"/><path d="M851.8,496.7 l3.3,5.8 h-6.6 Z"/><path d="M849.8,488.2 l3.3,5.8 h-6.6 Z"/><path d="M848.9,496.7 l3.3,5.8 h-6.6 Z"/><path d="M852.6,491.4 l3.3,5.8 h-6.6 Z"/><path d="M851.9,477.6 l3.3,5.8 h-6.6 Z"/><path d="M852.7,473.4 l3.3,5.8 h-6.6 Z"/><path d="M851.2,492.4 l3.3,5.8 h-6.6 Z"/><path d="M853.7,495.4 l3.3,5.8 h-6.6 Z"/><path d="M852.2,475.3 l3.3,5.8 h-6.6 Z"/><path d="M851.7,487.9 l3.3,5.8 h-6.6 Z"/><path d="M852.3,493.8 l3.3,5.8 h-6.6 Z"/><path d="M854.7,482.5 l3.3,5.8 h-6.6 Z"/><path d="M853.6,489.6 l3.3,5.8 h-6.6 Z"/><path d="M855.2,488 l3.3,5.8 h-6.6 Z"/><path d="M855.4,498.9 l3.3,5.8 h-6.6 Z"/><path d="M854.2,496.2 l3.3,5.8 h-6.6 Z"/><path d="M856.7,507.2 l3.3,5.8 h-6.6 Z"/><path d="M854.9,506.5 l3.3,5.8 h-6.6 Z"/><path d="M856.8,514 l3.3,5.8 h-6.6 Z"/><path d="M854.5,495.3 l3.3,5.8 h-6.6 Z"/><path d="M853.5,510.7 l3.3,5.8 h-6.6 Z"/><path d="M857.5,508.2 l3.3,5.8 h-6.6 Z"/><path d="M856.7,509.8 l3.3,5.8 h-6.6 Z"/><path d="M856.4,512.2 l3.3,5.8 h-6.6 Z"/><path d="M855.5,514.6 l3.3,5.8 h-6.6 Z"/><path d="M856.2,513.9 l3.3,5.8 h-6.6 Z"/><path d="M858.2,514.8 l3.3,5.8 h-6.6 Z"/><path d="M856.1,513.3 l3.3,5.8 h-6.6 Z"/><path d="M854.5,513.4 l3.3,5.8 h-6.6 Z"/><path d="M856.9,505.9 l3.3,5.8 h-6.6 Z"/><path d="M859.5,500.6 l3.3,5.8 h-6.6 Z"/><path d="M855.1,519.7 l3.3,5.8 h-6.6 Z"/><path d="M859.2,521.8 l3.3,5.8 h-6.6 Z"/><path d="M858.9,517.4 l3.3,5.8 h-6.6 Z"/><path d="M861.9,519.1 l3.3,5.8 h-6.6 Z"/><path d="M857.2,531.8 l3.3,5.8 h-6.6 Z"/><path d="M860.1,521 l3.3,5.8 h-6.6 Z"/><path d="M855.3,519.3 l3.3,5.8 h-6.6 Z"/><path d="M858.2,527.6 l3.3,5.8 h-6.6 Z"/><path d="M858.9,529.6 l3.3,5.8 h-6.6 Z"/><path d="M858,529.5 l3.3,5.8 h-6.6 Z"/><path d="M860.4,532 l3.3,5.8 h-6.6 Z"/><path d="M858.4,520.4 l3.3,5.8 h-6.6 Z"/><path d="M858.8,532.5 l3.3,5.8 h-6.6 Z"/><path d="M861.7,526.9 l3.3,5.8 h-6.6 Z"/><path d="M859.9,535.6 l3.3,5.8 h-6.6 Z"/><path d="M860.4,530 l3.3,5.8 h-6.6 Z"/><path d="M860.5,532.7 l3.3,5.8 h-6.6 Z"/><path d="M859.8,531.9 l3.3,5.8 h-6.6 Z"/><path d="M859.6,534.5 l3.3,5.8 h-6.6 Z"/><path d="M859.7,537.7 l3.3,5.8 h-6.6 Z"/><path d="M859.5,535.5 l3.3,5.8 h-6.6 Z"/><path d="M859.6,532.8 l3.3,5.8 h-6.6 Z"/><path d="M858.9,541.4 l3.3,5.8 h-6.6 Z"/><path d="M862.8,535.3 l3.3,5.8 h-6.6 Z"/><path d="M862.8,543 l3.3,5.8 h-6.6 Z"/><path d="M860.2,543.8 l3.3,5.8 h-6.6 Z"/><path d="M861.4,536 l3.3,5.8 h-6.6 Z"/><path d="M862.1,552.9 l3.3,5.8 h-6.6 Z"/><path d="M862.9,553.1 l3.3,5.8 h-6.6 Z"/><path d="M862.4,547.5 l3.3,5.8 h-6.6 Z"/><path d="M862.1,549.5 l3.3,5.8 h-6.6 Z"/><path d="M865.2,545 l3.3,5.8 h-6.6 Z"/><path d="M863.9,551.1 l3.3,5.8 h-6.6 Z"/><path d="M862.4,545.8 l3.3,5.8 h-6.6 Z"/><path d="M864.7,556.7 l3.3,5.8 h-6.6 Z"/><path d="M862.4,547.5 l3.3,5.8 h-6.6 Z"/><path d="M862,549.1 l3.3,5.8 h-6.6 Z"/><path d="M864,547.2 l3.3,5.8 h-6.6 Z"/><path d="M863.1,547.7 l3.3,5.8 h-6.6 Z"/><path d="M866.3,559.7 l3.3,5.8 h-6.6 Z"/><path d="M866,554.4 l3.3,5.8 h-6.6 Z"/><path d="M866.2,556 l3.3,5.8 h-6.6 Z"/><path d="M865.7,556.4 l3.3,5.8 h-6.6 Z"/><path d="M865.8,557.4 l3.3,5.8 h-6.6 Z"/><path d="M865,547.1 l3.3,5.8 h-6.6 Z"/><path d="M864.9,557.7 l3.3,5.8 h-6.6 Z"/><path d="M865.8,559.7 l3.3,5.8 h-6.6 Z"/><path d="M866.4,559.1 l3.3,5.8 h-6.6 Z"/><path d="M864.1,552.7 l3.3,5.8 h-6.6 Z"/><path d="M865.2,559.1 l3.3,5.8 h-6.6 Z"/><path d="M866.8,560.1 l3.3,5.8 h-6.6 Z"/><path d="M866.8,561 l3.3,5.8 h-6.6 Z"/><path d="M866.3,564.2 l3.3,5.8 h-6.6 Z"/><path d="M865.1,558.9 l3.3,5.8 h-6.6 Z"/><path d="M865.2,566.4 l3.3,5.8 h-6.6 Z"/><path d="M867,555.6 l3.3,5.8 h-6.6 Z"/><path d="M866.8,555.2 l3.3,5.8 h-6.6 Z"/><path d="M866.8,563.3 l3.3,5.8 h-6.6 Z"/><path d="M869.8,560.3 l3.3,5.8 h-6.6 Z"/><path d="M870.2,556.1 l3.3,5.8 h-6.6 Z"/><path d="M867.6,563.1 l3.3,5.8 h-6.6 Z"/><path d="M870.5,563.6 l3.3,5.8 h-6.6 Z"/><path d="M869.9,568 l3.3,5.8 h-6.6 Z"/><path d="M867.7,562.2 l3.3,5.8 h-6.6 Z"/><path d="M870.8,567.1 l3.3,5.8 h-6.6 Z"/><path d="M871.6,567.2 l3.3,5.8 h-6.6 Z"/><path d="M869.8,568.7 l3.3,5.8 h-6.6 Z"/><path d="M870.5,562.9 l3.3,5.8 h-6.6 Z"/><path d="M867.7,570.6 l3.3,5.8 h-6.6 Z"/><path d="M872.4,566.8 l3.3,5.8 h-6.6 Z"/><path d="M872.6,565.3 l3.3,5.8 h-6.6 Z"/><path d="M871.3,561.4 l3.3,5.8 h-6.6 Z"/><path d="M870.8,569.8 l3.3,5.8 h-6.6 Z"/><path d="M871.1,566.9 l3.3,5.8 h-6.6 Z"/><path d="M872.9,572.1 l3.3,5.8 h-6.6 Z"/><path d="M870.9,565.9 l3.3,5.8 h-6.6 Z"/><path d="M873.1,570.3 l3.3,5.8 h-6.6 Z"/><path d="M871.8,573.9 l3.3,5.8 h-6.6 Z"/><path d="M872.6,570.5 l3.3,5.8 h-6.6 Z"/><path d="M869.5,570.1 l3.3,5.8 h-6.6 Z"/><path d="M873.2,568.7 l3.3,5.8 h-6.6 Z"/><path d="M873.8,571.5 l3.3,5.8 h-6.6 Z"/><path d="M872.2,572.6 l3.3,5.8 h-6.6 Z"/><path d="M871.4,572.7 l3.3,5.8 h-6.6 Z"/><path d="M873.7,567.6 l3.3,5.8 h-6.6 Z"/><path d="M873.5,570.1 l3.3,5.8 h-6.6 Z"/><path d="M873.1,576.3 l3.3,5.8 h-6.6 Z"/><path d="M873.9,573.2 l3.3,5.8 h-6.6 Z"/><path d="M874.4,570.8 l3.3,5.8 h-6.6 Z"/><path d="M874.8,575.9 l3.3,5.8 h-6.6 Z"/><path d="M876.2,571.7 l3.3,5.8 h-6.6 Z"/><path d="M875.8,575.6 l3.3,5.8 h-6.6 Z"/><path d="M876.5,574.2 l3.3,5.8 h-6.6 Z"/><path d="M875.3,567.4 l3.3,5.8 h-6.6 Z"/><path d="M875.4,573.3 l3.3,5.8 h-6.6 Z"/><path d="M876.2,577.8 l3.3,5.8 h-6.6 Z"/><path d="M874.5,576.1 l3.3,5.8 h-6.6 Z"/><path d="M873.9,575.1 l3.3,5.8 h-6.6 Z"/><path d="M876.5,578.7 l3.3,5.8 h-6.6 Z"/><path d="M877,570.2 l3.3,5.8 h-6.6 Z"/><path d="M876.1,577.4 l3.3,5.8 h-6.6 Z"/><path d="M877,572.2 l3.3,5.8 h-6.6 Z"/><path d="M879.5,577.8 l3.3,5.8 h-6.6 Z"/><path d="M875.8,575.5 l3.3,5.8 h-6.6 Z"/><path d="M875.8,575.9 l3.3,5.8 h-6.6 Z"/><path d="M877.9,573 l3.3,5.8 h-6.6 Z"/><path d="M877.7,575.3 l3.3,5.8 h-6.6 Z"/><path d="M876.7,576.5 l3.3,5.8 h-6.6 Z"/><path d="M878.1,577.8 l3.3,5.8 h-6.6 Z"/><path d="M877,579.1 l3.3,5.8 h-6.6 Z"/><path d="M877.1,576.6 l3.3,5.8 h-6.6 Z"/><path d="M878.4,575.7 l3.3,5.8 h-6.6 Z"/><path d="M876.6,575.7 l3.3,5.8 h-6.6 Z"/><path d="M881.3,575.2 l3.3,5.8 h-6.6 Z"/><path d="M880.4,577 l3.3,5.8 h-6.6 Z"/><path d="M878.7,573.8 l3.3,5.8 h-6.6 Z"/><path d="M878.9,576.6 l3.3,5.8 h-6.6 Z"/><path d="M880.5,577.6 l3.3,5.8 h-6.6 Z"/><path d="M880.4,576.7 l3.3,5.8 h-6.6 Z"/><path d="M880.9,577.5 l3.3,5.8 h-6.6 Z"/><path d="M879.6,578.7 l3.3,5.8 h-6.6 Z"/><path d="M880.5,577.4 l3.3,5.8 h-6.6 Z"/><path d="M880.3,578.3 l3.3,5.8 h-6.6 Z"/><path d="M876.9,580 l3.3,5.8 h-6.6 Z"/><path d="M880.1,579 l3.3,5.8 h-6.6 Z"/><path d="M881.8,578.6 l3.3,5.8 h-6.6 Z"/><path d="M882,579.2 l3.3,5.8 h-6.6 Z"/><path d="M880.2,580 l3.3,5.8 h-6.6 Z"/><path d="M879.3,578.5 l3.3,5.8 h-6.6 Z"/><path d="M883.1,578.7 l3.3,5.8 h-6.6 Z"/><path d="M884.1,578.9 l3.3,5.8 h-6.6 Z"/><path d="M884.6,580.2 l3.3,5.8 h-6.6 Z"/><path d="M882.1,578.2 l3.3,5.8 h-6.6 Z"/><path d="M884.6,579.4 l3.3,5.8 h-6.6 Z"/><path d="M883.9,578.4 l3.3,5.8 h-6.6 Z"/><path d="M881.5,579.4 l3.3,5.8 h-6.6 Z"/></g>
</g>
<line x1="767.4" y1="585" x2="767.4" y2="589" stroke="#4a4a4a" stroke-width="1"/>
<text x="767.4" y="601" font-size="11.4" fill="#2a2a2a" text-anchor="middle" stroke="#2a2a2a" stroke-width="0.3">&#8722;800</text>
<line x1="815.8" y1="585" x2="815.8" y2="589" stroke="#4a4a4a" stroke-width="1"/>
<text x="815.8" y="601" font-size="11.4" fill="#2a2a2a" text-anchor="middle" stroke="#2a2a2a" stroke-width="0.3">&#8722;700</text>
<line x1="864.1" y1="585" x2="864.1" y2="589" stroke="#4a4a4a" stroke-width="1"/>
<text x="864.1" y="601" font-size="11.4" fill="#2a2a2a" text-anchor="middle" stroke="#2a2a2a" stroke-width="0.3">&#8722;600</text>
<line x1="912.5" y1="585" x2="912.5" y2="589" stroke="#4a4a4a" stroke-width="1"/>
<text x="912.5" y="601" font-size="11.4" fill="#2a2a2a" text-anchor="middle" stroke="#2a2a2a" stroke-width="0.3">&#8722;500</text>
<line x1="960.8" y1="585" x2="960.8" y2="589" stroke="#4a4a4a" stroke-width="1"/>
<text x="960.8" y="601" font-size="11.4" fill="#2a2a2a" text-anchor="middle" stroke="#2a2a2a" stroke-width="0.3">&#8722;400</text>
<line x1="1009.2" y1="585" x2="1009.2" y2="589" stroke="#4a4a4a" stroke-width="1"/>
<text x="1009.2" y="601" font-size="11.4" fill="#2a2a2a" text-anchor="middle" stroke="#2a2a2a" stroke-width="0.3">&#8722;300</text>
<line x1="791.6" y1="585" x2="791.6" y2="587.2" stroke="#4a4a4a" stroke-width="1"/>
<line x1="839.9" y1="585" x2="839.9" y2="587.2" stroke="#4a4a4a" stroke-width="1"/>
<line x1="888.3" y1="585" x2="888.3" y2="587.2" stroke="#4a4a4a" stroke-width="1"/>
<line x1="936.7" y1="585" x2="936.7" y2="587.2" stroke="#4a4a4a" stroke-width="1"/>
<line x1="985" y1="585" x2="985" y2="587.2" stroke="#4a4a4a" stroke-width="1"/>
<line x1="739.4" y1="585" x2="743.6" y2="585" stroke="#4a4a4a" stroke-width="1"/>
<text x="736.2" y="589" font-size="11.4" fill="#2a2a2a" text-anchor="end" stroke="#2a2a2a" stroke-width="0.3">0.0</text>
<line x1="739.4" y1="533.1" x2="743.6" y2="533.1" stroke="#4a4a4a" stroke-width="1"/>
<text x="736.2" y="537.1" font-size="11.4" fill="#2a2a2a" text-anchor="end" stroke="#2a2a2a" stroke-width="0.3">0.1</text>
<line x1="739.4" y1="481.3" x2="743.6" y2="481.3" stroke="#4a4a4a" stroke-width="1"/>
<text x="736.2" y="485.3" font-size="11.4" fill="#2a2a2a" text-anchor="end" stroke="#2a2a2a" stroke-width="0.3">0.2</text>
<line x1="739.4" y1="429.4" x2="743.6" y2="429.4" stroke="#4a4a4a" stroke-width="1"/>
<text x="736.2" y="433.4" font-size="11.4" fill="#2a2a2a" text-anchor="end" stroke="#2a2a2a" stroke-width="0.3">0.3</text>
<line x1="739.4" y1="377.6" x2="743.6" y2="377.6" stroke="#4a4a4a" stroke-width="1"/>
<text x="736.2" y="381.6" font-size="11.4" fill="#2a2a2a" text-anchor="end" stroke="#2a2a2a" stroke-width="0.3">0.4</text>
<line x1="741.4" y1="559.1" x2="743.6" y2="559.1" stroke="#4a4a4a" stroke-width="1"/>
<line x1="741.4" y1="507.2" x2="743.6" y2="507.2" stroke="#4a4a4a" stroke-width="1"/>
<line x1="741.4" y1="455.4" x2="743.6" y2="455.4" stroke="#4a4a4a" stroke-width="1"/>
<line x1="741.4" y1="403.5" x2="743.6" y2="403.5" stroke="#4a4a4a" stroke-width="1"/>
<line x1="741.4" y1="351.7" x2="743.6" y2="351.7" stroke="#4a4a4a" stroke-width="1"/>
<text x="839.2" y="616.4" font-size="12.15" fill="#222" stroke="#222" stroke-width="0.3">Surface potential (mV)</text>
<text transform="translate(710.6,463.5) rotate(-90)" font-size="13.9" fill="#222" text-anchor="middle" stroke="#222" stroke-width="0.3">Proportion (%)</text>
<text x="748.6" y="365.7" font-size="12" fill="#1a1a1a" stroke="#1a1a1a" stroke-width="0.3">NiO<tspan font-size="8" dy="3">x</tspan><tspan dy="-3"> with 4PADCB</tspan></text>
<rect x="971.8" y="357.6" width="8.2" height="8.2" fill="#eec28e"/>
<circle cx="976" cy="378.4" r="4.4" fill="#4aa3f8"/>
<path d="M976,390 l4.8,8.3 h-9.6 Z" fill="#5b62b6"/>
<text x="987.2" y="365.6" font-size="13.2" fill="#1a1a1a" stroke="#1a1a1a" stroke-width="0.3">20</text>
<text x="987.2" y="382" font-size="13.2" fill="#1a1a1a" stroke="#1a1a1a" stroke-width="0.3">10</text>
<text x="990.7" y="398.4" font-size="13.2" fill="#1a1a1a" stroke="#1a1a1a" stroke-width="0.3">0</text>
<text x="1008.7" y="365.6" font-size="13.2" fill="#1a1a1a" stroke="#1a1a1a" stroke-width="0.3">min</text>
<text x="1008.7" y="382" font-size="13.2" fill="#1a1a1a" stroke="#1a1a1a" stroke-width="0.3">min</text>
<text x="1008.7" y="398.4" font-size="13.2" fill="#1a1a1a" stroke="#1a1a1a" stroke-width="0.3">min</text>
<rect x="59.5" y="673" width="240.2" height="240" fill="#808080" filter="url(#nf1)"/>
<rect x="371.3" y="672.8" width="240.2" height="241" fill="#808080" filter="url(#nf2)"/>
<rect x="679" y="672.8" width="240.2" height="240" fill="url(#gsrc3)" filter="url(#nf3)"/>
<line x1="468" y1="849.3" x2="557" y2="849.3" stroke="#d890c4" stroke-width="0.9" opacity="0.55"/>
<text x="86.3" y="899.7" font-size="20.4" fill="#f4f4ff" stroke="#f4f4ff" stroke-width="0.3">0 min</text>
<text x="389.2" y="896.9" font-size="20.4" fill="#f4f4ff" stroke="#f4f4ff" stroke-width="0.3">10 min</text>
<text x="698.6" y="898.7" font-size="20.4" fill="#f4f4ff" stroke="#f4f4ff" stroke-width="0.3">20 min</text>
<text x="68.5" y="929.9" font-size="14.0" fill="#1a1a1a" stroke="#1a1a1a" stroke-width="0.3">Potential</text>
<text x="380.5" y="929.9" font-size="14.0" fill="#1a1a1a" stroke="#1a1a1a" stroke-width="0.3">Potential</text>
<text x="689" y="929.9" font-size="14.0" fill="#1a1a1a" stroke="#1a1a1a" stroke-width="0.3">Potential</text>
<rect x="241.9" y="916.2" width="49" height="3.4" fill="#000"/>
<text x="266.1" y="931" font-size="14.3" fill="#111" text-anchor="middle" stroke="#111" stroke-width="0.3">400.0 nm</text>
<rect x="554" y="916.2" width="49" height="3.4" fill="#000"/>
<text x="578.2" y="931" font-size="14.3" fill="#111" text-anchor="middle" stroke="#111" stroke-width="0.3">400.0 nm</text>
<rect x="862" y="916.2" width="49" height="3.4" fill="#000"/>
<text x="886.2" y="931" font-size="14.3" fill="#111" text-anchor="middle" stroke="#111" stroke-width="0.3">400.0 nm</text>
<rect x="1010.6" y="729.3" width="16.4" height="130.2" fill="url(#gcbar)" stroke="#222" stroke-width="1.3"/>
<text x="980.6" y="726" font-size="15.2" fill="#1a1a1a" stroke="#1a1a1a" stroke-width="0.3">-300.0 mV</text>
<text x="980.6" y="872.1" font-size="15.2" fill="#1a1a1a" stroke="#1a1a1a" stroke-width="0.3">-900.0 mV</text></svg>
</body></html>
